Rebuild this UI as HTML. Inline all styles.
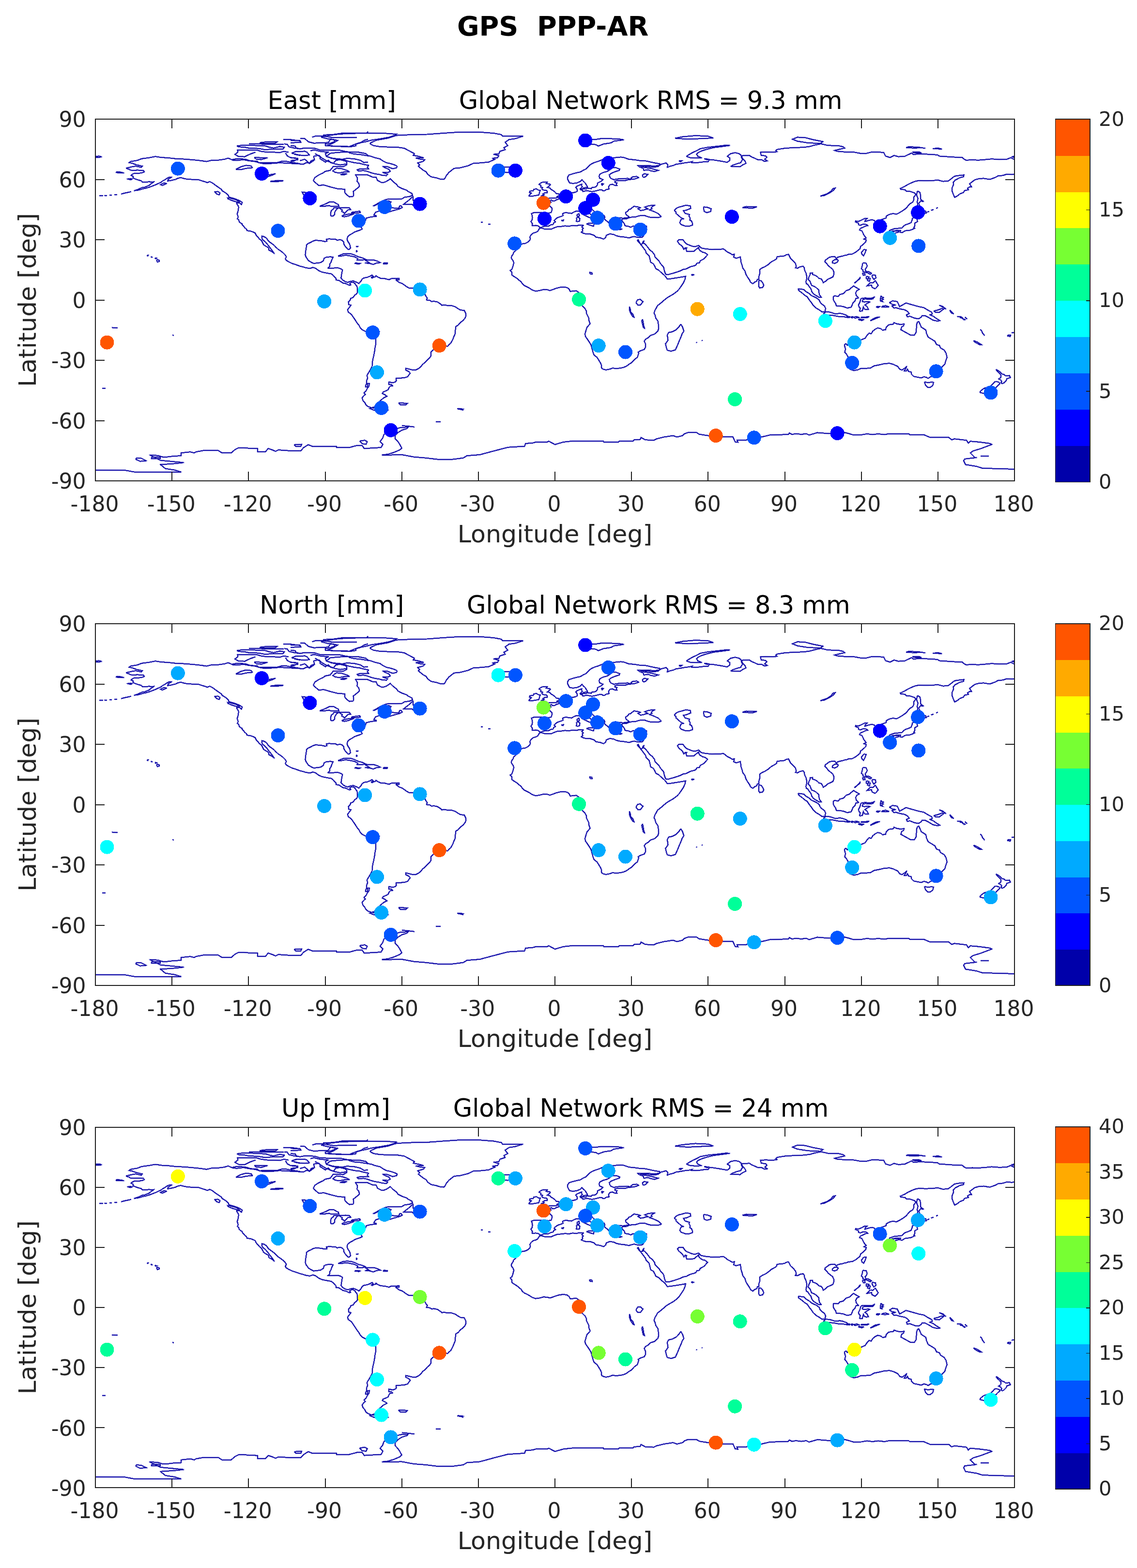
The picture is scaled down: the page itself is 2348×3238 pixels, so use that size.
<!DOCTYPE html><html><head><meta charset="utf-8"><title>GPS PPP-AR</title>
<style>html,body{margin:0;padding:0;background:#fff;}svg{display:block;}text{font-family:'DejaVu Sans', 'Liberation Sans', sans-serif;}</style></head><body>
<svg width="2348" height="3238" viewBox="0 0 2348 3238">
<rect x="0" y="0" width="2348" height="3238" fill="#fff"/>
<text x="1141.6" y="73" font-size="55.6" font-weight="bold" fill="#000" text-anchor="middle" xml:space="preserve">GPS  PPP-AR</text>
<clipPath id="clip0"><rect x="197.0" y="246.0" width="1898.0" height="747.0"/></clipPath>
<g clip-path="url(#clip0)" fill="none"><path d="M260.3 347.3 L270.8 344.8 L279.8 343.1 L291.9 345.6 L294.0 343.1 L282.4 340.6 L273.4 337.3 L266.6 335.8 L269.8 333.6 L284.0 331.1 L292.4 327.8 L307.7 325.7 L320.9 323.2 L334.1 325.3 L344.6 325.7 L363.1 327.8 L381.5 328.6 L402.6 330.5 L415.8 331.9 L426.3 333.6 L436.9 331.1 L450.1 330.7 L463.2 329.0 L471.2 326.5 L481.7 331.1 L489.6 331.5 L502.8 329.8 L513.3 331.9 L526.5 333.6 L539.7 337.3 L547.6 338.1 L566.1 337.3 L576.6 336.1 L584.5 336.5 L597.7 337.3 L613.5 338.1 L626.7 339.0 L632.0 336.1 L639.9 336.5 L642.5 331.9 L649.4 329.8 L647.8 322.8 L658.3 320.7 L663.6 325.7 L674.1 331.9 L682.0 334.8 L688.4 337.3 L693.6 331.1 L702.1 329.8 L712.6 332.3 L716.3 335.2 L716.3 340.2 L708.4 344.4 L695.2 343.5 L688.4 343.5 L682.0 351.8 L671.5 353.9 L667.8 356.8 L658.3 361.4 L650.4 366.4 L647.2 372.6 L649.4 375.5 L655.7 380.9 L658.3 382.9 L668.9 382.1 L682.0 385.9 L697.9 390.0 L712.1 390.8 L712.1 397.5 L716.3 402.5 L721.6 406.6 L729.5 405.4 L730.5 401.6 L729.5 395.4 L737.4 389.2 L742.1 385.0 L741.1 378.8 L737.4 374.6 L737.9 367.2 L734.2 361.0 L747.9 361.0 L758.5 361.0 L769.0 365.5 L776.9 366.4 L779.6 372.6 L787.5 376.7 L792.8 376.7 L798.0 374.6 L803.3 371.3 L805.9 369.3 L811.2 374.6 L819.1 380.9 L821.8 385.0 L829.7 389.2 L840.2 392.9 L842.8 395.4 L850.8 399.6 L851.8 403.7 L844.4 406.2 L836.0 407.0 L829.7 410.8 L819.1 411.2 L808.6 411.2 L798.0 411.6 L790.1 414.9 L783.3 418.2 L774.3 423.6 L770.6 425.3 L774.3 424.4 L782.2 420.3 L792.8 416.1 L803.3 415.3 L807.5 417.0 L805.4 419.5 L798.0 420.3 L803.3 422.0 L804.4 424.4 L805.9 427.4 L811.2 429.4 L819.1 429.8 L823.3 430.3 L825.4 425.3 L828.6 425.3 L830.7 428.6 L824.4 431.5 L813.9 434.4 L805.9 436.9 L799.1 438.6 L797.5 435.7 L804.4 431.9 L807.5 431.1 L800.7 430.3 L793.8 432.3 L790.1 434.8 L783.3 435.7 L775.9 438.1 L773.3 441.9 L772.2 444.4 L776.9 445.6 L776.9 446.9 L771.7 447.3 L763.8 448.5 L756.9 450.2 L755.9 451.4 L755.3 454.3 L751.6 458.1 L749.0 456.0 L750.1 459.3 L747.9 462.6 L745.3 465.1 L743.7 461.8 L742.7 457.6 L744.3 465.9 L745.8 468.9 L747.9 473.0 L742.7 475.5 L737.4 477.2 L732.1 479.2 L728.4 481.7 L721.6 485.5 L717.9 488.8 L716.8 494.2 L717.9 497.9 L721.1 502.5 L723.2 507.4 L723.7 512.4 L721.6 514.9 L718.4 514.9 L714.7 510.8 L712.6 508.3 L710.0 503.7 L709.5 499.1 L705.8 495.8 L701.6 495.0 L696.3 496.2 L692.6 493.8 L684.7 493.8 L679.4 493.3 L674.1 494.2 L675.2 498.3 L670.4 498.7 L663.6 497.1 L658.3 496.7 L651.5 496.2 L646.2 497.9 L642.5 500.0 L637.2 502.5 L633.0 505.4 L632.5 511.6 L631.4 517.8 L630.4 526.1 L632.0 531.1 L637.2 538.2 L642.5 541.5 L647.8 544.0 L655.7 543.1 L662.0 542.3 L667.8 538.6 L669.4 533.2 L674.1 531.1 L682.0 530.3 L687.8 531.1 L685.2 536.5 L683.6 541.5 L681.0 545.6 L680.5 551.0 L677.3 553.5 L682.0 553.9 L690.0 553.5 L697.9 553.1 L703.1 554.8 L707.4 557.2 L705.8 563.5 L705.2 569.7 L704.2 573.9 L707.4 578.0 L712.6 581.3 L717.9 583.0 L724.2 580.9 L729.5 580.1 L735.8 582.6 L738.5 583.8 L741.1 585.5 L745.3 580.9 L747.9 576.3 L751.6 573.9 L758.5 572.6 L763.8 570.5 L768.5 568.0 L770.6 570.5 L766.9 573.0 L768.5 574.3 L771.7 572.2 L775.9 571.4 L776.4 569.3 L779.6 571.8 L785.9 574.7 L795.4 575.5 L803.3 577.6 L808.6 575.1 L816.5 575.1 L820.2 575.5 L817.5 578.0 L824.4 583.4 L829.7 585.1 L834.9 588.4 L838.6 591.3 L844.4 594.6 L853.4 595.0 L861.3 595.4 L866.6 596.7 L871.8 600.0 L876.1 602.9 L877.1 607.0 L879.8 612.0 L882.4 615.4 L880.8 619.5 L887.7 620.3 L891.4 622.8 L895.6 622.0 L903.5 623.6 L910.9 628.6 L912.4 630.7 L916.7 629.5 L924.6 631.1 L932.5 631.1 L940.4 633.6 L945.7 637.3 L950.9 640.2 L958.8 641.1 L961.5 646.5 L962.5 651.9 L960.4 656.9 L956.2 661.8 L950.9 666.0 L946.2 671.4 L941.4 674.3 L940.4 681.8 L939.9 689.2 L937.2 695.4 L935.1 700.8 L930.9 708.7 L927.2 712.0 L924.6 715.0 L916.7 715.0 L910.9 716.2 L906.1 718.3 L900.8 719.5 L893.5 723.2 L889.8 727.4 L889.8 734.9 L887.7 738.6 L882.4 743.2 L878.2 748.1 L872.9 752.3 L868.7 757.7 L863.9 761.4 L858.7 763.9 L851.8 763.9 L845.5 762.3 L838.1 760.6 L837.6 763.9 L843.9 767.2 L847.1 770.6 L844.4 774.3 L841.8 778.0 L834.9 780.1 L824.4 780.9 L818.1 781.4 L818.6 785.5 L817.0 788.4 L811.2 790.5 L803.3 788.8 L802.8 793.8 L808.6 794.2 L810.7 796.7 L805.9 797.5 L803.3 800.4 L801.7 804.6 L799.1 806.2 L791.2 809.6 L789.6 812.5 L795.4 815.4 L799.1 818.3 L791.7 822.0 L788.5 824.9 L784.9 827.8 L781.2 831.1 L783.3 833.6 L785.4 836.5 L779.6 836.5 L774.3 838.6 L771.7 842.8 L766.4 841.9 L760.1 839.5 L755.9 836.5 L753.2 831.1 L749.5 827.0 L747.9 821.6 L750.6 817.9 L754.3 814.5 L751.6 811.2 L755.9 807.5 L758.5 802.1 L762.2 797.1 L762.7 791.7 L756.9 792.1 L757.4 785.5 L759.0 781.4 L758.0 774.7 L762.2 768.1 L766.4 760.6 L768.5 756.5 L769.0 748.1 L770.1 741.9 L771.7 734.9 L773.3 727.4 L774.3 719.1 L775.9 710.8 L775.9 702.5 L775.4 695.9 L770.1 692.5 L763.8 689.2 L755.9 685.1 L747.9 680.9 L743.7 676.4 L741.1 671.4 L738.5 668.5 L733.7 661.0 L729.5 654.8 L725.8 649.4 L719.0 644.4 L717.9 639.4 L722.1 634.0 L724.7 630.3 L720.0 629.0 L719.5 623.6 L723.2 619.5 L724.2 616.2 L729.5 614.1 L732.1 610.0 L736.9 606.2 L738.5 602.9 L737.9 596.7 L737.4 591.3 L734.8 588.4 L732.7 585.1 L729.5 583.0 L725.8 583.0 L722.1 585.5 L724.2 588.4 L721.6 589.2 L717.9 587.5 L713.7 585.5 L708.4 584.6 L704.7 582.1 L699.4 578.8 L694.2 578.4 L693.6 574.7 L688.4 568.9 L684.2 565.5 L679.4 564.7 L672.6 563.5 L664.6 561.8 L658.3 558.9 L651.5 553.9 L646.2 552.3 L639.9 554.3 L632.0 553.1 L625.1 551.0 L618.8 549.4 L610.9 546.5 L603.0 544.0 L596.1 540.6 L590.8 537.3 L589.3 534.4 L591.4 530.3 L588.7 526.1 L584.5 522.0 L579.2 517.8 L574.0 514.5 L569.7 510.4 L566.1 506.6 L562.4 503.7 L557.1 500.0 L553.9 497.1 L550.2 491.7 L545.5 488.8 L540.7 487.5 L540.7 490.9 L542.3 495.0 L547.6 499.1 L551.3 503.3 L554.5 507.4 L557.6 511.6 L560.8 515.8 L563.4 519.1 L566.6 524.0 L564.5 522.0 L560.8 519.1 L555.5 516.6 L554.5 511.6 L548.7 508.3 L543.9 505.0 L543.4 503.3 L540.2 497.1 L535.5 493.3 L532.3 489.2 L529.7 486.7 L528.1 483.8 L527.0 481.3 L522.8 479.2 L520.7 478.4 L517.0 477.2 L510.2 476.3 L509.1 473.4 L505.4 470.1 L503.3 467.6 L500.2 463.9 L500.2 462.2 L497.5 461.0 L493.8 457.6 L493.3 454.3 L490.1 451.8 L491.7 448.5 L491.2 445.2 L489.6 441.9 L491.2 437.7 L492.2 432.8 L492.8 427.8 L491.7 424.9 L489.1 421.1 L488.6 418.6 L494.9 419.5 L498.6 422.4 L500.2 418.2 L497.5 416.1 L493.3 413.7 L488.0 411.6 L483.3 409.9 L477.5 408.3 L472.2 406.6 L471.7 403.3 L468.5 400.4 L464.3 397.1 L459.0 394.2 L457.4 391.2 L452.7 387.9 L448.5 385.0 L443.7 381.7 L439.0 378.0 L433.2 375.1 L427.9 377.1 L423.7 375.5 L416.9 373.4 L410.5 371.3 L403.7 370.9 L394.7 370.5 L387.3 370.1 L378.9 368.4 L373.1 366.8 L366.8 368.4 L362.5 370.5 L357.3 371.7 L352.0 373.0 L346.2 373.8 L347.3 370.5 L350.9 368.0 L355.2 365.5 L348.8 366.4 L344.6 368.4 L340.4 371.3 L335.7 373.8 L333.0 376.3 L327.2 378.8 L322.0 381.3 L315.6 383.8 L309.3 386.3 L302.4 388.3 L294.5 390.0 L289.3 391.7 L284.0 392.9 L277.1 393.7 L285.0 391.2 L293.0 387.5 L299.8 386.3 L307.7 382.9 L311.9 379.6 L315.6 377.1 L317.2 375.5 L311.4 375.9 L307.7 375.1 L302.4 376.3 L294.5 376.3 L291.9 373.4 L284.0 371.3 L278.7 369.3 L274.5 367.2 L275.0 364.3 L270.8 362.2 L273.4 359.7 L278.2 357.6 L285.6 358.1 L294.5 356.4 L298.2 354.7 L296.1 352.2 L291.9 351.8 L283.5 351.4 L276.1 351.8 L269.2 351.4 L266.1 349.3 L262.9 348.5 L260.3 347.3 M2095.0 329.4 L2087.1 325.7 L2078.7 329.0 L2063.4 329.4 L2048.1 328.2 L2036.5 329.4 L2021.2 330.7 L2008.0 330.2 L1994.8 330.7 L1989.6 327.8 L1987.4 325.3 L1968.5 324.4 L1951.6 323.2 L1939.5 322.4 L1936.3 319.9 L1923.7 319.0 L1917.3 318.6 L1899.9 317.8 L1886.2 319.0 L1882.5 316.1 L1868.3 322.8 L1855.6 323.6 L1846.2 321.1 L1838.2 325.3 L1828.8 322.4 L1826.6 318.2 L1825.1 314.9 L1812.9 314.1 L1799.8 314.1 L1788.2 317.0 L1776.0 316.6 L1762.8 314.1 L1747.0 314.1 L1739.1 313.2 L1728.6 312.4 L1723.3 310.7 L1733.9 308.2 L1744.4 305.8 L1741.8 303.3 L1731.2 300.8 L1710.1 300.4 L1695.4 297.0 L1681.1 299.9 L1673.2 302.4 L1660.0 304.1 L1652.1 304.5 L1639.0 304.9 L1620.5 306.2 L1604.7 308.7 L1602.0 311.2 L1604.7 313.2 L1596.8 314.5 L1581.0 314.1 L1570.4 314.5 L1572.0 320.7 L1581.0 321.9 L1583.6 324.9 L1579.4 329.0 L1584.6 332.3 L1578.3 333.1 L1573.0 329.8 L1565.1 329.8 L1558.8 326.9 L1552.0 324.0 L1547.7 321.1 L1533.5 321.5 L1530.9 324.0 L1533.5 329.8 L1530.9 333.1 L1529.8 336.1 L1523.0 337.7 L1512.4 341.4 L1509.8 343.5 L1528.2 344.4 L1533.5 340.6 L1540.4 337.3 L1538.8 333.1 L1533.5 326.9 L1529.8 319.9 L1525.6 317.0 L1517.7 315.3 L1508.7 317.4 L1501.9 322.8 L1507.1 326.1 L1507.1 331.1 L1501.9 335.2 L1488.7 332.7 L1472.9 330.2 L1465.0 329.8 L1462.3 334.0 L1454.4 334.0 L1446.5 335.2 L1436.0 336.1 L1428.1 335.6 L1429.6 333.6 L1422.8 335.2 L1414.9 336.1 L1404.3 338.1 L1396.4 339.0 L1391.2 341.4 L1383.2 343.5 L1378.0 345.6 L1379.0 340.2 L1375.3 336.5 L1364.8 339.4 L1359.5 343.5 L1351.6 345.2 L1341.1 344.4 L1330.5 343.5 L1322.6 343.1 L1330.5 345.6 L1343.7 347.7 L1354.3 350.6 L1359.5 351.8 L1351.6 354.3 L1343.7 352.7 L1338.4 350.6 L1329.5 351.8 L1328.4 347.7 L1320.0 344.4 L1317.3 341.9 L1325.3 342.3 L1338.4 341.9 L1351.6 343.1 L1362.2 341.4 L1362.2 338.1 L1354.3 336.9 L1346.3 335.2 L1333.2 332.3 L1320.0 331.5 L1309.4 329.8 L1298.9 329.0 L1288.3 325.3 L1282.0 324.4 L1272.5 325.3 L1262.0 326.5 L1251.4 328.6 L1243.5 329.8 L1235.6 333.1 L1227.7 335.6 L1221.4 338.5 L1217.2 341.4 L1213.5 345.6 L1210.3 348.9 L1204.0 351.8 L1198.7 355.1 L1190.8 356.8 L1182.9 358.9 L1175.0 361.4 L1172.4 365.5 L1172.4 370.5 L1174.5 374.6 L1176.6 378.0 L1182.9 378.8 L1190.8 378.0 L1198.7 374.6 L1201.9 371.3 L1205.0 374.6 L1208.2 377.6 L1210.8 381.7 L1213.0 385.4 L1214.0 388.8 L1220.9 389.6 L1222.4 387.1 L1230.4 386.3 L1233.5 382.1 L1234.0 378.0 L1240.9 374.6 L1245.1 370.9 L1238.3 368.0 L1237.2 363.9 L1238.8 359.7 L1245.1 356.4 L1254.1 353.9 L1259.4 350.6 L1264.1 346.4 L1272.5 346.4 L1279.9 349.3 L1278.9 351.8 L1269.9 354.7 L1262.0 358.1 L1258.3 361.0 L1259.4 365.5 L1261.5 368.4 L1267.3 370.9 L1277.8 369.3 L1287.3 368.8 L1296.3 368.4 L1303.1 370.5 L1296.3 371.3 L1291.0 373.0 L1280.4 372.6 L1269.9 373.8 L1269.9 376.7 L1274.1 378.0 L1272.5 380.9 L1274.1 382.9 L1269.9 382.9 L1264.6 380.5 L1259.4 381.7 L1256.7 385.9 L1257.2 388.3 L1257.8 390.4 L1251.4 391.7 L1248.8 393.7 L1244.6 393.7 L1243.5 392.5 L1238.3 392.1 L1230.4 394.2 L1222.4 395.8 L1218.8 395.0 L1211.9 393.7 L1204.0 395.4 L1202.9 393.3 L1198.7 391.7 L1199.8 389.2 L1202.4 385.4 L1200.3 381.7 L1201.9 380.0 L1196.1 382.5 L1191.3 384.6 L1188.7 387.1 L1191.3 389.6 L1192.4 394.6 L1188.2 397.1 L1182.9 397.9 L1177.6 397.9 L1172.4 398.7 L1170.8 401.6 L1167.1 404.1 L1163.4 406.2 L1159.2 407.4 L1154.4 408.3 L1153.9 411.2 L1148.6 412.8 L1146.0 414.5 L1140.7 414.9 L1139.1 413.2 L1136.0 413.7 L1137.6 417.8 L1131.2 418.2 L1127.5 417.0 L1121.2 418.2 L1123.3 420.3 L1130.2 422.4 L1134.4 424.0 L1136.5 426.5 L1139.7 429.4 L1139.7 434.4 L1138.1 439.0 L1132.8 439.8 L1126.0 439.0 L1117.0 438.6 L1109.1 438.6 L1102.8 439.0 L1097.5 441.1 L1099.1 445.2 L1099.6 449.4 L1099.1 453.5 L1096.4 457.6 L1098.0 459.7 L1099.6 462.6 L1099.1 465.9 L1106.5 465.5 L1112.3 466.8 L1114.4 469.3 L1117.5 469.7 L1122.3 467.6 L1132.8 466.8 L1137.6 464.3 L1142.3 463.5 L1143.4 460.1 L1147.1 458.5 L1144.4 455.6 L1146.0 453.5 L1150.2 450.2 L1153.9 448.5 L1159.2 446.9 L1162.9 445.2 L1161.8 441.5 L1164.5 439.8 L1169.7 439.0 L1175.0 440.2 L1180.3 440.6 L1185.5 437.7 L1190.8 435.7 L1196.1 436.5 L1199.8 437.7 L1201.4 441.5 L1205.0 443.5 L1210.3 446.0 L1214.5 448.1 L1219.8 450.2 L1225.1 452.7 L1228.8 453.9 L1230.4 457.2 L1228.8 460.6 L1230.9 461.8 L1233.5 460.1 L1236.7 457.6 L1235.6 455.6 L1233.0 454.3 L1235.6 451.4 L1240.9 452.7 L1243.5 453.1 L1240.4 450.6 L1234.6 448.5 L1229.8 446.9 L1230.4 445.6 L1223.5 444.8 L1218.8 441.9 L1217.2 439.0 L1211.4 436.1 L1210.8 431.9 L1214.5 429.8 L1217.7 430.3 L1219.3 433.2 L1222.4 431.9 L1226.1 435.7 L1229.8 438.6 L1235.6 440.6 L1243.5 443.1 L1248.3 445.6 L1248.8 449.4 L1247.8 451.8 L1251.4 455.2 L1255.1 458.1 L1257.2 460.6 L1260.4 464.7 L1264.1 468.0 L1267.8 468.0 L1266.7 463.9 L1268.8 461.8 L1272.5 461.0 L1266.2 458.5 L1268.8 456.0 L1265.2 452.3 L1271.0 453.1 L1274.6 449.8 L1282.6 449.8 L1286.2 451.0 L1291.0 449.8 L1298.4 449.4 L1299.4 448.5 L1295.7 445.2 L1292.6 442.7 L1292.0 438.6 L1296.8 435.7 L1298.4 432.8 L1302.6 431.5 L1306.3 428.2 L1309.4 426.1 L1317.3 427.4 L1322.6 429.0 L1317.3 431.1 L1323.1 434.8 L1329.5 433.6 L1333.2 432.3 L1338.4 431.5 L1331.6 427.8 L1338.4 425.3 L1346.3 424.0 L1352.7 423.6 L1347.9 426.1 L1344.8 428.6 L1346.3 431.1 L1341.1 433.6 L1347.9 435.7 L1354.3 438.6 L1359.5 441.1 L1365.3 446.9 L1364.8 447.7 L1358.5 449.4 L1351.6 448.9 L1343.7 448.9 L1337.4 447.3 L1331.6 445.2 L1325.3 445.2 L1320.0 445.6 L1312.1 448.1 L1304.2 448.5 L1299.9 449.4 L1293.6 451.8 L1286.8 451.8 L1284.1 453.5 L1285.2 457.6 L1287.3 459.3 L1289.4 462.2 L1290.5 465.9 L1293.6 466.8 L1298.4 467.6 L1302.6 469.3 L1307.3 466.8 L1312.1 467.6 L1317.3 469.7 L1323.1 469.3 L1328.9 466.8 L1335.3 467.2 L1335.3 470.9 L1335.3 474.7 L1333.7 478.4 L1331.1 482.6 L1328.4 487.5 L1326.3 489.6 L1320.0 490.4 L1316.3 490.0 L1309.4 488.4 L1304.2 489.6 L1298.9 491.3 L1289.9 489.6 L1278.9 488.4 L1272.5 486.7 L1267.3 484.2 L1259.4 483.0 L1252.0 485.9 L1250.9 490.0 L1246.7 493.8 L1239.8 491.3 L1230.4 489.6 L1226.7 485.9 L1219.3 483.4 L1209.3 483.0 L1205.0 481.7 L1200.3 479.6 L1203.5 477.2 L1202.4 473.8 L1204.5 471.3 L1201.4 468.4 L1204.5 465.5 L1199.8 465.1 L1196.1 464.7 L1190.8 466.4 L1182.9 465.5 L1175.0 467.2 L1167.1 466.4 L1159.2 467.6 L1151.3 468.0 L1143.4 470.9 L1138.1 473.4 L1132.8 473.4 L1126.0 473.4 L1119.6 471.3 L1114.9 470.9 L1112.8 473.8 L1110.1 478.0 L1105.9 480.1 L1101.2 481.3 L1097.0 484.6 L1094.3 489.2 L1094.9 492.9 L1094.3 496.2 L1090.1 500.0 L1085.4 502.5 L1078.0 503.7 L1074.8 506.2 L1070.1 510.4 L1067.4 514.9 L1063.8 518.7 L1060.6 521.1 L1060.1 524.0 L1056.9 528.6 L1055.8 532.4 L1057.4 535.7 L1059.5 538.2 L1061.1 542.7 L1059.0 551.0 L1056.9 556.4 L1053.7 558.5 L1056.9 562.2 L1057.4 568.0 L1060.6 570.5 L1064.8 573.0 L1068.5 575.5 L1072.2 578.8 L1076.4 582.1 L1078.5 585.9 L1082.7 589.6 L1088.0 592.1 L1093.3 595.0 L1099.1 598.8 L1105.9 601.2 L1114.4 600.0 L1122.3 597.9 L1130.2 598.3 L1135.5 600.0 L1140.7 598.3 L1148.6 595.4 L1154.4 593.8 L1160.2 592.9 L1166.0 592.9 L1170.8 593.8 L1175.0 596.7 L1177.6 601.7 L1182.9 601.2 L1189.8 600.4 L1192.4 602.1 L1196.6 605.0 L1197.7 609.1 L1196.1 614.5 L1195.6 618.3 L1195.0 622.4 L1198.2 627.8 L1204.0 633.2 L1208.2 637.3 L1210.8 642.3 L1211.4 647.7 L1215.6 656.0 L1216.6 663.1 L1218.8 668.5 L1212.4 675.5 L1210.3 681.8 L1208.2 689.2 L1208.7 694.2 L1212.4 699.6 L1216.6 705.8 L1220.9 712.9 L1222.4 719.1 L1224.6 727.4 L1226.7 732.8 L1233.0 738.2 L1236.7 744.0 L1240.4 750.2 L1242.5 755.2 L1242.0 758.5 L1243.5 761.4 L1247.8 763.1 L1251.4 763.9 L1259.4 762.3 L1264.6 760.2 L1272.5 761.0 L1281.0 760.2 L1287.3 758.9 L1293.1 756.5 L1298.9 752.3 L1304.2 749.0 L1309.4 743.2 L1316.3 737.8 L1318.9 729.5 L1317.9 727.0 L1322.6 724.5 L1330.5 721.6 L1333.2 716.6 L1333.2 710.8 L1330.5 704.6 L1333.2 700.4 L1338.4 697.5 L1343.7 692.5 L1351.6 690.0 L1358.5 683.8 L1360.1 678.4 L1359.5 669.3 L1358.5 663.1 L1354.3 656.9 L1352.7 650.6 L1350.6 646.5 L1352.7 640.2 L1355.3 636.1 L1357.9 631.1 L1362.2 627.8 L1366.4 624.5 L1370.6 620.7 L1376.4 615.8 L1383.2 611.6 L1391.2 607.0 L1398.0 601.7 L1402.8 596.7 L1407.0 590.5 L1411.2 584.2 L1414.4 577.2 L1415.9 570.5 L1409.6 571.8 L1401.7 573.0 L1393.8 574.3 L1385.9 575.5 L1378.0 576.3 L1374.3 570.9 L1371.1 567.6 L1368.5 565.5 L1364.8 562.2 L1360.1 557.7 L1354.3 554.8 L1352.7 551.0 L1349.5 544.8 L1343.7 541.5 L1342.1 534.4 L1340.5 528.2 L1334.2 522.0 L1333.2 517.8 L1328.4 511.6 L1325.3 507.4 L1322.6 504.1 L1317.9 495.4 L1316.3 496.7 L1320.0 501.2 L1323.1 504.1 L1326.8 503.3 L1327.9 499.1 L1330.0 497.1 L1328.4 502.1 L1331.6 503.3 L1336.9 509.5 L1342.1 516.6 L1346.9 519.9 L1351.6 526.1 L1352.7 530.7 L1356.9 535.3 L1361.1 539.4 L1364.3 544.8 L1369.0 549.8 L1371.1 553.5 L1371.7 558.1 L1373.8 564.3 L1375.3 566.8 L1380.6 566.8 L1385.4 565.5 L1391.2 563.9 L1399.1 561.4 L1404.9 559.3 L1410.7 556.4 L1417.5 555.2 L1421.2 553.1 L1426.5 550.6 L1433.3 549.0 L1437.0 547.3 L1439.1 543.6 L1444.4 542.7 L1446.0 538.6 L1450.2 536.5 L1453.9 534.4 L1458.6 529.0 L1461.3 526.1 L1456.0 522.0 L1450.7 520.7 L1445.5 517.4 L1442.8 513.7 L1443.4 510.4 L1441.8 511.6 L1438.6 514.1 L1433.3 518.7 L1425.4 519.5 L1418.0 519.1 L1416.5 513.7 L1418.0 512.0 L1414.9 511.6 L1412.2 514.9 L1409.6 509.5 L1407.0 507.0 L1402.2 503.3 L1399.1 498.3 L1401.7 495.4 L1407.0 495.0 L1410.7 495.4 L1413.8 500.0 L1417.5 503.7 L1422.8 505.8 L1428.6 508.3 L1434.9 509.5 L1442.8 507.0 L1447.6 512.0 L1456.0 513.7 L1470.2 515.3 L1477.1 514.9 L1486.1 514.9 L1494.0 514.1 L1497.7 516.6 L1501.9 520.3 L1507.1 522.8 L1512.4 526.1 L1516.6 524.9 L1515.1 531.1 L1520.3 533.2 L1528.8 530.7 L1529.8 536.5 L1530.3 541.1 L1532.5 547.7 L1534.0 553.9 L1538.3 559.3 L1540.4 566.4 L1543.5 571.8 L1547.7 578.0 L1549.9 582.6 L1554.6 585.9 L1558.3 582.6 L1562.5 580.9 L1564.1 576.8 L1567.3 576.8 L1567.3 570.5 L1569.4 563.5 L1568.8 556.8 L1574.1 553.1 L1579.9 550.6 L1585.7 546.9 L1593.1 540.6 L1599.4 537.3 L1603.6 534.4 L1604.7 530.3 L1611.0 529.4 L1616.3 529.0 L1620.5 528.2 L1623.7 526.1 L1628.4 525.3 L1631.0 530.3 L1632.6 533.6 L1636.3 536.9 L1640.0 540.6 L1643.2 544.8 L1644.2 551.0 L1642.6 553.1 L1646.9 553.9 L1652.1 551.0 L1658.5 549.8 L1661.1 553.1 L1661.6 558.1 L1664.3 563.5 L1665.8 569.7 L1665.8 575.9 L1664.3 582.1 L1665.3 585.9 L1668.0 587.1 L1671.6 592.5 L1674.8 596.7 L1676.4 602.1 L1680.1 607.0 L1685.3 610.4 L1691.1 613.7 L1695.9 613.7 L1692.2 608.7 L1691.1 602.9 L1690.6 598.8 L1685.3 593.8 L1681.1 591.3 L1675.9 589.2 L1674.3 585.1 L1672.7 580.9 L1669.0 577.2 L1670.6 571.8 L1672.7 567.6 L1673.2 563.9 L1678.0 563.5 L1678.0 566.8 L1683.8 568.9 L1688.0 571.4 L1691.1 574.7 L1695.9 575.9 L1698.5 579.7 L1700.1 583.8 L1705.9 580.1 L1709.1 576.8 L1714.9 574.3 L1720.1 571.8 L1721.7 567.2 L1722.3 562.2 L1719.6 556.0 L1715.4 552.7 L1710.7 549.0 L1707.0 544.0 L1703.3 540.6 L1704.3 537.3 L1708.0 534.8 L1712.2 531.5 L1717.0 530.3 L1723.8 529.9 L1727.5 534.4 L1729.1 531.5 L1734.4 529.9 L1739.1 529.0 L1744.4 527.4 L1748.1 527.0 L1751.8 525.3 L1760.2 524.5 L1766.5 521.1 L1771.3 517.4 L1776.0 513.7 L1777.1 509.1 L1780.8 506.2 L1785.0 502.5 L1788.2 499.1 L1788.7 495.4 L1783.9 493.8 L1788.7 491.3 L1785.5 487.5 L1783.4 484.2 L1781.8 480.5 L1779.7 476.7 L1775.0 475.1 L1776.6 471.8 L1782.4 469.3 L1787.1 466.8 L1791.8 465.9 L1789.7 463.9 L1782.9 462.6 L1777.1 465.1 L1772.9 464.3 L1772.9 461.0 L1766.5 458.1 L1767.1 456.4 L1772.9 457.2 L1778.7 454.7 L1785.0 451.4 L1790.3 451.4 L1787.1 454.3 L1786.0 457.6 L1789.7 456.4 L1795.5 454.7 L1801.3 453.9 L1805.6 455.2 L1807.1 458.5 L1805.0 461.8 L1810.3 463.0 L1813.5 465.9 L1811.9 470.5 L1812.9 475.5 L1818.2 475.9 L1823.5 474.7 L1828.2 472.2 L1828.8 468.0 L1828.2 463.9 L1824.5 460.1 L1820.8 456.8 L1818.2 454.3 L1824.0 452.3 L1829.8 450.2 L1830.3 446.4 L1835.1 443.5 L1839.3 441.9 L1844.6 441.1 L1851.4 442.3 L1857.8 439.0 L1864.6 434.8 L1870.9 430.3 L1875.1 425.3 L1878.8 421.1 L1885.2 417.0 L1887.3 412.0 L1887.3 406.6 L1891.5 401.6 L1888.3 398.3 L1879.9 395.4 L1871.5 394.6 L1869.3 391.7 L1860.4 391.2 L1859.3 389.2 L1868.3 385.0 L1875.1 380.9 L1884.1 376.7 L1892.0 373.8 L1898.9 373.0 L1907.8 373.4 L1915.7 373.4 L1926.3 373.0 L1936.3 371.7 L1947.4 374.6 L1957.9 373.8 L1961.1 371.7 L1971.1 363.9 L1981.6 362.2 L1990.6 361.4 L1989.6 365.1 L1981.6 367.2 L1972.2 372.2 L1968.5 376.7 L1969.0 381.3 L1966.4 387.5 L1966.4 395.4 L1970.0 404.5 L1971.6 407.4 L1978.0 404.1 L1982.2 400.4 L1989.6 397.5 L1991.7 393.7 L2000.1 391.7 L1998.0 388.8 L2002.2 385.9 L2006.4 385.9 L2002.2 379.6 L2008.0 375.1 L2013.3 371.3 L2022.2 368.8 L2031.7 368.4 L2043.9 370.5 L2055.5 366.4 L2060.7 363.4 L2071.3 362.2 L2079.2 359.7 L2089.7 360.5 L2095.0 359.7 M763.8 295.8 L776.9 289.6 L800.7 285.4 L819.1 279.6 L850.8 278.0 L882.4 277.5 L914.0 275.1 L945.7 273.0 L987.8 272.6 L1019.5 275.1 L1035.3 278.0 L1037.9 281.3 L1061.6 281.3 L1080.1 281.3 L1064.3 286.3 L1051.1 288.3 L1043.2 293.7 L1048.5 300.8 L1040.6 304.9 L1043.2 309.1 L1032.6 312.4 L1030.0 317.8 L1019.5 318.6 L1030.0 321.5 L1027.4 325.7 L1016.8 326.9 L1022.1 329.0 L1008.9 334.8 L990.5 336.5 L977.3 337.3 L966.7 342.3 L950.9 346.4 L937.7 347.7 L932.5 351.8 L927.2 356.0 L921.9 362.2 L919.3 367.2 L916.7 370.5 L908.8 369.7 L900.8 367.2 L890.3 365.1 L883.4 360.1 L879.8 354.7 L874.5 351.8 L869.2 347.7 L863.9 343.5 L866.6 340.6 L862.4 336.5 L874.5 333.1 L877.1 329.8 L869.2 329.0 L858.7 326.5 L874.5 325.7 L863.9 322.8 L853.4 320.7 L856.0 317.4 L848.1 313.2 L842.8 310.3 L834.9 306.2 L821.8 304.1 L803.3 303.7 L784.9 302.9 L771.7 300.8 L766.4 298.3 L763.8 295.8 M820.2 343.1 L813.9 340.2 L805.9 337.7 L798.0 336.1 L790.1 331.9 L784.9 328.2 L774.3 325.7 L766.4 322.8 L755.9 321.1 L742.7 319.0 L732.1 318.2 L721.6 315.7 L719.0 313.6 L703.1 314.5 L692.6 315.3 L682.0 316.6 L674.1 322.8 L684.7 326.9 L697.9 329.4 L711.0 330.2 L719.0 333.1 L732.1 336.1 L742.7 337.3 L750.6 339.4 L761.1 341.4 L758.5 345.6 L761.1 348.5 L745.3 348.5 L737.4 350.6 L740.0 353.1 L750.6 352.2 L758.5 353.9 L766.4 356.8 L774.3 358.9 L782.2 360.1 L790.1 362.2 L798.0 362.6 L800.7 359.7 L790.1 356.0 L800.7 356.4 L805.9 353.9 L803.3 349.8 L795.4 346.4 L790.1 343.5 L800.7 344.4 L811.2 348.5 L819.1 346.4 L820.2 343.1 M671.5 300.8 L697.9 302.4 L724.2 302.9 L734.8 301.2 L734.8 297.9 L745.3 294.6 L755.9 292.5 L766.4 289.6 L787.5 286.3 L803.3 283.4 L813.9 280.0 L819.1 277.1 L798.0 275.5 L766.4 275.1 L734.8 275.5 L703.1 276.7 L682.0 279.2 L663.6 283.4 L676.8 286.7 L692.6 289.2 L690.0 292.9 L682.0 295.8 L671.5 297.5 L671.5 300.8 M690.0 350.6 L695.2 347.3 L705.8 348.5 L716.3 351.8 L721.6 354.7 L713.7 354.7 L700.5 357.2 L692.6 356.0 L687.3 353.1 L690.0 350.6 M708.4 358.5 L716.3 358.9 L711.0 361.0 L704.2 360.5 L708.4 358.5 M1027.4 347.7 L1019.5 347.7 L1030.0 343.9 L1040.6 345.2 L1051.1 344.8 L1061.6 343.5 L1069.6 344.8 L1068.0 347.7 L1074.3 349.3 L1069.6 352.2 L1059.0 354.3 L1048.5 356.4 L1037.9 355.1 L1026.3 354.3 L1030.0 352.2 L1019.5 350.2 L1027.4 347.7 M853.4 405.4 L848.1 409.9 L843.4 414.1 L838.1 418.2 L833.4 422.0 L840.2 422.0 L850.8 422.0 L854.4 424.9 L861.3 424.9 L863.4 426.1 L868.2 424.9 L867.6 421.1 L863.4 422.0 L865.0 418.2 L861.3 414.9 L853.4 414.1 L852.9 409.9 L853.4 405.4 M495.4 418.6 L487.0 416.6 L479.1 414.1 L471.2 410.8 L470.1 408.7 L476.4 409.5 L485.9 412.0 L492.2 415.3 L495.4 418.6 M450.1 395.4 L454.3 398.3 L452.7 402.5 L447.4 400.4 L443.7 396.2 L450.1 395.4 M344.6 378.8 L335.1 382.9 L331.4 381.3 L338.3 378.0 L344.6 378.8 M698.4 528.6 L708.4 524.5 L716.3 523.6 L724.2 524.0 L732.1 526.5 L740.0 530.3 L747.9 532.4 L754.8 535.3 L749.5 536.9 L737.4 536.9 L739.0 534.0 L732.1 530.3 L721.6 528.2 L713.7 527.0 L705.8 528.6 L698.4 528.6 M753.7 536.9 L762.2 536.9 L771.7 536.9 L779.6 539.4 L785.4 542.3 L778.0 543.1 L770.6 546.0 L763.8 544.0 L753.7 543.1 L762.2 542.3 L753.7 536.9 M733.2 543.1 L743.7 544.0 L741.1 545.2 L733.2 544.0 L733.2 543.1 M791.7 542.7 L800.1 543.1 L799.6 544.8 L791.7 544.8 L791.7 542.7 M819.6 574.7 L824.4 574.7 L824.4 577.6 L819.6 577.6 L819.6 574.7 M734.8 509.1 L740.0 508.7 L737.4 509.5 L734.8 509.1 M735.8 516.6 L737.4 519.1 L736.3 519.9 L735.8 516.6 M784.3 837.8 L785.9 841.5 L790.1 844.4 L798.0 847.3 L802.3 846.9 L795.4 848.6 L787.5 849.4 L779.6 849.0 L771.7 846.9 L763.8 843.6 L771.7 840.7 L776.9 840.7 L779.6 838.2 L784.3 837.8 M822.8 832.4 L832.3 832.4 L841.3 833.2 L837.6 836.5 L827.0 836.1 L822.8 832.4 M945.7 843.6 L956.2 844.8 L953.6 846.1 L945.7 844.4 M755.9 793.0 L758.5 793.0 L758.5 799.2 L754.8 798.8 L755.9 793.0 M663.6 620.3 L666.2 621.6 L664.6 623.6 L663.1 622.0 L663.6 620.3 M324.1 535.7 L328.8 537.7 L328.8 539.8 L325.1 541.1 L323.5 538.2 L324.1 535.7 M311.4 529.9 L314.6 531.1 L312.5 531.1 L311.4 529.9 M319.8 532.4 L323.5 533.2 L321.4 534.0 L319.8 532.4 M303.5 527.4 L306.1 527.4 L305.1 528.6 L303.5 527.4 M240.2 354.7 L249.7 355.6 L256.0 357.2 L248.1 356.8 L240.2 356.4 L240.2 354.7 M266.6 368.8 L272.9 369.7 L269.8 371.3 L264.0 369.7 L266.6 368.8 M197.0 322.8 L204.9 322.4 L210.2 324.0 L202.3 325.3 L197.0 324.9 M2095.0 322.8 L2088.7 324.0 L2095.0 324.9 M215.5 404.1 L218.1 403.7 L220.7 404.1 M204.9 404.5 L208.6 404.1 L212.8 404.5 M226.0 402.9 L231.3 403.3 M249.7 400.8 L257.6 398.7 L265.5 397.1 L270.8 395.8 M236.5 402.5 L241.8 402.0 M1202.9 292.1 L1209.3 288.3 L1230.4 287.9 L1240.9 286.3 L1259.4 286.3 L1277.8 287.1 L1288.3 288.7 L1267.3 291.6 L1262.0 295.0 L1246.2 297.5 L1235.6 301.6 L1230.4 298.7 L1219.8 297.5 L1217.2 295.0 L1206.6 293.7 L1202.9 292.1 M1417.5 322.8 L1425.4 325.7 L1436.0 326.5 L1449.2 326.1 L1441.2 322.8 L1438.6 318.6 L1441.2 315.3 L1449.2 311.6 L1459.7 308.2 L1472.9 304.9 L1488.7 302.9 L1507.1 300.4 L1499.2 299.9 L1478.2 302.4 L1462.3 304.1 L1446.5 307.0 L1438.6 311.2 L1430.7 314.9 L1425.4 317.8 L1417.5 322.8 M1393.8 285.4 L1420.2 287.5 L1446.5 286.3 L1472.9 285.0 L1462.3 281.3 L1436.0 280.0 L1409.6 282.5 L1393.8 285.4 M1646.9 291.6 L1668.0 295.0 L1694.3 296.2 L1699.6 292.5 L1678.5 288.3 L1662.7 284.2 L1646.9 283.4 L1636.3 287.5 L1646.9 291.6 M1870.9 304.9 L1889.4 305.8 L1902.6 304.9 L1910.5 306.2 L1894.7 303.7 L1876.2 303.3 L1870.9 304.9 M1926.3 307.0 L1944.7 307.8 L1936.8 305.8 L1926.3 307.0 M1884.1 314.1 L1897.3 313.6 L1902.6 315.7 L1889.4 315.7 L1884.1 314.1 M1401.7 332.3 L1408.6 331.9 L1405.4 334.0 L1401.7 332.3 M1454.4 327.8 L1465.0 329.0 L1459.7 329.8 L1454.4 327.8 M1119.6 376.3 L1130.2 376.3 L1127.5 379.2 L1135.5 380.0 L1136.5 381.7 L1132.8 385.0 L1130.2 387.1 L1135.5 387.9 L1138.1 391.2 L1143.4 394.2 L1147.1 397.5 L1148.6 399.6 L1155.0 400.8 L1154.4 403.7 L1150.2 405.8 L1153.4 407.0 L1148.6 408.7 L1140.7 409.1 L1132.8 409.5 L1127.5 410.8 L1119.6 412.0 L1115.9 411.6 L1122.3 408.3 L1129.1 407.0 L1123.3 405.4 L1118.6 404.5 L1123.9 402.0 L1121.2 400.4 L1124.9 398.3 L1130.2 398.3 L1130.2 395.4 L1128.1 393.3 L1120.7 392.1 L1119.1 389.6 L1120.7 387.5 L1116.5 386.3 L1117.0 382.9 L1113.3 380.9 L1115.4 378.8 L1119.6 376.3 M1113.3 393.3 L1115.9 393.3 L1114.4 396.2 L1113.8 399.6 L1112.3 402.9 L1106.5 403.7 L1097.5 405.4 L1092.2 404.5 L1094.3 401.6 L1097.5 398.7 L1093.3 397.5 L1094.3 394.6 L1101.2 394.2 L1102.2 391.2 L1107.5 390.0 L1113.3 393.3 M1211.4 462.6 L1216.1 461.0 L1228.2 460.6 L1226.1 464.7 L1225.6 467.2 L1221.4 465.9 L1211.4 462.6 M1190.3 449.8 L1194.5 448.5 L1197.7 451.4 L1196.6 456.8 L1192.9 457.6 L1190.3 457.2 L1190.8 452.7 L1190.3 449.8 M1191.3 443.5 L1195.6 441.1 L1196.6 445.2 L1194.5 447.7 L1191.9 446.4 L1191.3 443.5 M1269.9 471.8 L1275.2 472.6 L1284.7 473.0 L1280.4 474.2 L1275.2 473.8 L1269.9 473.0 L1269.9 471.8 M1316.3 474.2 L1320.0 473.0 L1328.4 471.3 L1325.3 474.2 L1320.0 475.9 L1316.3 474.2 M1204.0 387.9 L1212.4 387.1 L1210.8 390.4 L1205.0 390.4 L1204.0 387.9 M1197.7 389.2 L1202.9 390.0 L1201.4 391.2 L1197.7 390.4 L1197.7 389.2 M1242.0 379.2 L1246.2 379.6 L1243.5 382.5 L1242.0 379.2 M1158.7 455.2 L1163.9 454.3 L1162.9 456.4 L1158.7 455.2 M1405.9 669.3 L1409.6 675.5 L1412.2 683.8 L1408.6 689.2 L1407.0 694.2 L1403.3 702.5 L1399.1 712.9 L1394.8 722.4 L1385.9 725.3 L1378.0 723.2 L1375.9 717.0 L1374.3 710.0 L1379.6 702.5 L1378.0 692.1 L1380.6 686.7 L1388.5 685.1 L1396.4 680.9 L1401.7 675.5 L1405.9 669.3 M1567.3 578.8 L1572.0 580.1 L1575.2 584.2 L1577.3 589.2 L1574.6 593.8 L1568.8 594.6 L1566.7 591.3 L1566.7 585.5 L1567.3 578.8 M1427.5 566.8 L1433.3 567.2 L1429.6 568.5 L1427.5 566.8 M1449.2 702.5 L1450.7 704.2 M1437.6 706.6 L1439.7 707.9 M1509.8 822.0 L1517.7 822.9 L1515.1 825.3 L1509.8 822.0 M1718.6 539.8 L1723.3 536.5 L1729.1 536.1 L1731.2 538.2 L1728.6 541.9 L1723.3 544.0 L1719.1 542.7 L1718.6 539.8 M1783.9 515.3 L1788.7 515.8 L1786.6 522.0 L1783.4 528.2 L1779.7 524.9 L1779.2 521.1 L1783.9 515.3 M1884.1 447.3 L1890.4 446.0 L1893.6 442.7 L1901.5 445.2 L1907.8 441.1 L1913.1 439.8 L1911.5 435.7 L1902.6 436.1 L1894.1 430.7 L1892.5 435.7 L1891.5 440.2 L1885.7 439.8 L1884.1 443.1 L1884.1 447.3 M1891.5 447.7 L1894.1 453.5 L1894.7 457.6 L1889.4 460.6 L1889.4 465.9 L1887.3 470.1 L1888.9 471.3 L1883.1 474.2 L1878.8 475.5 L1872.5 475.9 L1867.8 477.2 L1863.0 480.5 L1858.3 479.2 L1859.9 475.9 L1852.5 475.9 L1844.6 477.2 L1836.7 478.4 L1836.7 475.9 L1847.2 472.2 L1857.8 471.3 L1863.0 470.5 L1867.2 465.9 L1869.9 464.3 L1876.2 462.2 L1881.5 459.7 L1883.6 454.3 L1884.1 451.0 L1888.3 448.5 L1891.5 447.7 M1841.9 479.2 L1847.2 477.2 L1855.6 477.6 L1856.2 479.2 L1849.8 480.9 L1846.2 483.4 L1841.9 479.2 M1830.3 480.5 L1836.1 478.8 L1841.9 481.7 L1839.3 486.7 L1836.7 490.9 L1832.4 490.0 L1832.4 484.6 L1829.3 482.6 L1830.3 480.5 M1894.7 394.2 L1899.9 397.5 L1901.0 403.7 L1901.5 412.0 L1907.3 416.1 L1901.0 415.3 L1897.3 420.3 L1899.9 425.7 L1897.3 428.6 L1894.1 426.5 L1895.2 421.1 L1894.1 417.0 L1895.7 409.9 L1893.1 403.7 L1893.6 398.3 L1894.7 394.2 M1914.7 438.1 L1918.9 436.5 M1922.6 434.4 L1927.9 432.8 M1933.1 430.3 L1936.8 428.6 M1781.8 542.7 L1788.7 543.6 L1790.8 549.0 L1789.2 553.1 L1786.6 556.0 L1788.2 560.6 L1792.9 560.6 L1799.8 564.3 L1797.1 566.4 L1791.8 563.5 L1787.1 562.2 L1781.8 560.2 L1781.8 557.2 L1778.7 554.8 L1780.2 551.0 L1781.8 542.7 M1797.6 583.4 L1802.4 584.2 L1807.7 579.7 L1813.5 589.2 L1810.3 593.4 L1807.1 596.3 L1800.8 593.4 L1799.8 588.8 L1790.3 590.5 L1794.0 586.7 L1797.6 583.4 M1801.3 567.6 L1808.2 568.5 L1808.7 573.9 L1804.5 577.2 L1801.3 571.8 L1801.3 567.6 M1788.7 570.5 L1794.5 571.8 L1791.8 575.9 L1788.7 575.5 L1788.7 570.5 M1794.0 574.3 L1797.1 575.1 L1795.5 581.3 L1791.3 579.2 L1794.0 574.3 M1780.8 563.5 L1785.5 563.9 L1786.6 568.0 L1782.9 568.5 L1780.8 563.5 M1763.9 584.6 L1775.5 575.9 L1776.6 572.6 L1773.4 576.8 L1766.0 583.8 L1763.9 584.6 M1720.7 612.0 L1723.8 611.2 L1731.2 612.0 L1733.9 608.3 L1741.8 606.2 L1747.0 600.4 L1754.4 597.9 L1758.6 593.8 L1762.8 590.5 L1766.5 592.9 L1774.4 597.5 L1769.2 600.4 L1767.1 605.0 L1768.1 610.0 L1772.9 615.4 L1767.6 616.2 L1765.5 621.6 L1761.3 625.7 L1759.7 629.9 L1757.6 634.4 L1749.7 636.1 L1741.8 633.2 L1734.9 632.0 L1727.0 631.5 L1725.9 627.0 L1722.8 622.8 L1720.7 618.3 L1720.7 612.0 M1648.4 596.3 L1660.0 597.9 L1664.3 602.1 L1670.6 605.8 L1675.9 610.4 L1680.1 612.4 L1686.4 615.4 L1691.7 619.5 L1693.3 623.6 L1696.9 627.8 L1702.7 632.0 L1704.9 636.9 L1703.8 643.6 L1697.5 644.0 L1691.7 639.8 L1685.3 636.1 L1679.5 630.7 L1675.3 624.5 L1671.1 619.1 L1666.9 612.9 L1661.6 609.5 L1656.4 605.0 L1649.0 599.6 L1648.4 596.3 M1700.6 647.7 L1704.9 644.0 L1712.8 644.4 L1717.0 645.6 L1723.3 647.7 L1728.6 648.1 L1733.9 646.9 L1740.2 648.1 L1749.1 651.5 L1749.7 655.6 L1741.8 653.9 L1731.2 653.5 L1720.7 651.5 L1712.8 651.0 L1707.0 650.2 L1700.6 647.7 M1750.2 653.1 L1755.5 654.4 L1753.4 656.0 L1750.2 654.4 L1750.2 653.1 M1757.6 653.9 L1761.3 654.4 L1760.2 656.4 L1757.6 655.6 L1757.6 653.9 M1762.3 654.8 L1769.7 653.9 L1773.9 655.6 L1765.5 656.9 L1762.3 654.8 M1778.1 654.8 L1786.6 654.8 L1794.5 653.9 L1790.8 656.0 L1778.7 656.0 L1778.1 654.8 M1773.4 658.9 L1782.9 660.2 L1779.7 661.8 L1773.4 660.2 L1773.4 658.9 M1797.1 662.2 L1802.4 658.9 L1807.7 656.0 L1816.6 654.4 L1807.7 658.1 L1799.8 661.4 L1797.1 662.2 M1775.0 642.7 L1776.6 636.1 L1773.9 633.6 L1772.9 629.9 L1776.0 623.6 L1777.6 617.4 L1780.2 615.8 L1786.6 615.4 L1794.5 615.8 L1801.9 615.4 L1806.1 612.9 L1802.4 617.4 L1795.5 617.8 L1786.6 617.4 L1781.8 618.7 L1780.8 622.8 L1785.0 623.6 L1793.4 622.8 L1796.1 623.6 L1790.8 626.6 L1786.0 629.9 L1790.3 632.8 L1793.4 639.0 L1789.2 639.4 L1785.0 638.2 L1782.9 634.0 L1780.8 642.3 L1775.0 642.7 M1818.7 610.8 L1821.4 613.3 L1824.5 614.5 L1820.3 617.0 L1824.0 618.3 L1820.3 620.7 L1822.4 622.8 L1818.2 621.6 L1818.7 610.8 M1820.8 632.8 L1828.8 631.1 L1835.6 633.6 L1828.8 634.4 L1820.8 634.0 L1820.8 632.8 M1810.3 632.8 L1816.6 633.2 L1813.5 635.3 L1810.3 634.4 L1810.3 632.8 M1836.7 624.9 L1843.5 621.2 L1853.0 622.8 L1857.8 633.2 L1870.9 625.7 L1884.1 629.5 L1897.3 633.2 L1907.8 635.3 L1915.7 640.2 L1924.2 644.8 L1925.2 648.5 L1920.5 650.2 L1927.3 653.1 L1933.1 657.3 L1941.1 662.2 L1935.8 663.1 L1926.3 661.0 L1918.4 656.0 L1910.5 651.9 L1904.1 651.9 L1902.6 654.8 L1897.3 658.1 L1889.4 657.3 L1878.8 653.1 L1873.6 654.4 L1872.0 650.2 L1877.8 647.7 L1873.6 642.7 L1868.3 639.8 L1857.8 637.8 L1849.8 635.3 L1846.2 636.1 L1841.9 631.5 L1849.8 629.9 L1841.9 628.2 L1836.7 624.9 M1928.4 642.3 L1936.8 640.2 L1944.7 637.3 L1949.0 637.8 L1946.3 640.2 L1939.5 645.2 L1931.6 644.8 L1928.4 642.3 M1939.5 630.3 L1947.4 633.2 L1953.2 638.2 L1950.0 636.1 L1943.2 632.0 L1939.5 630.3 M1961.1 640.2 L1965.8 644.4 L1968.5 647.7 L1964.8 646.5 L1961.1 640.2 M1976.4 653.5 L1984.3 653.9 L1988.5 656.9 L1981.6 656.0 M1987.4 658.1 L1993.8 660.2 L1989.6 660.6 M1992.7 654.8 L1997.5 658.9 M2024.4 680.1 L2027.5 683.8 L2029.1 688.0 L2033.3 693.0 M2010.6 703.3 L2018.6 706.6 L2026.5 711.6 L2022.8 711.6 L2013.3 706.6 L2010.6 703.3 M2080.8 692.1 L2087.1 692.1 L2086.0 695.0 L2080.8 693.8 L2080.8 692.1 M2088.7 687.6 L2095.0 686.3 M1744.4 710.8 L1747.6 710.0 L1749.7 712.9 L1754.9 708.7 L1761.8 705.0 L1770.8 703.7 L1778.7 701.7 L1786.6 698.4 L1790.8 692.1 L1794.5 688.0 L1799.2 689.2 L1802.4 683.8 L1807.7 679.7 L1812.9 677.2 L1819.3 678.8 L1822.4 681.8 L1828.8 680.9 L1830.3 675.5 L1834.6 671.0 L1839.3 670.1 L1845.1 669.3 L1846.2 666.4 L1852.5 668.9 L1860.4 670.1 L1867.2 668.9 L1865.7 673.0 L1862.0 675.1 L1860.4 680.9 L1865.7 683.8 L1872.5 687.6 L1879.9 691.7 L1888.3 692.1 L1892.0 685.9 L1892.5 677.6 L1892.5 671.4 L1894.7 665.1 L1897.3 663.9 L1899.9 669.3 L1902.6 675.5 L1907.8 678.8 L1912.1 681.8 L1913.1 688.0 L1916.8 696.3 L1923.7 700.4 L1930.5 704.6 L1934.2 711.6 L1940.0 713.3 L1942.1 718.3 L1950.0 723.2 L1953.7 729.5 L1955.8 737.8 L1952.7 746.1 L1951.1 752.3 L1944.7 758.5 L1941.1 763.9 L1936.8 771.0 L1936.3 775.1 L1927.9 776.4 L1921.0 778.4 L1916.8 781.4 L1913.1 779.3 L1907.8 778.0 L1902.6 780.5 L1894.7 778.9 L1886.7 777.2 L1882.5 773.0 L1881.5 768.1 L1876.2 767.2 L1874.1 762.3 L1872.0 765.6 L1867.2 766.0 L1870.9 760.6 L1872.5 756.5 L1869.9 759.4 L1863.0 763.9 L1858.8 763.1 L1853.5 756.5 L1844.6 752.3 L1836.7 750.2 L1826.1 751.1 L1815.6 753.5 L1805.0 755.6 L1797.1 760.2 L1789.2 760.6 L1778.7 760.6 L1770.8 763.9 L1762.8 765.2 L1754.9 762.3 L1752.3 758.9 L1756.0 757.7 L1756.0 750.2 L1752.3 744.0 L1751.8 737.8 L1748.1 731.5 L1744.4 727.4 L1746.0 721.2 L1744.4 715.0 L1744.4 710.8 M1908.9 788.4 L1915.7 790.1 L1923.7 789.2 L1927.9 789.6 L1926.3 795.9 L1921.0 800.0 L1915.7 800.0 L1911.5 795.9 L1908.9 788.4 M2056.5 762.7 L2060.7 764.8 L2066.0 768.9 L2068.6 772.2 L2072.9 773.0 L2076.5 776.0 L2084.5 775.5 L2086.6 779.7 L2079.2 782.2 L2078.1 785.5 L2072.9 790.9 L2069.7 792.1 L2067.1 790.5 L2068.6 787.6 L2066.5 784.7 L2062.3 782.6 L2066.5 779.7 L2067.1 774.7 L2064.4 771.0 L2059.1 766.0 L2056.5 762.7 M2056.5 787.6 L2063.4 789.6 L2064.9 792.6 L2060.7 795.9 L2057.0 800.0 L2049.1 803.3 L2046.0 809.6 L2040.2 812.9 L2033.3 812.9 L2023.8 810.4 L2024.9 807.5 L2031.7 802.1 L2044.9 798.0 L2050.2 793.0 L2053.3 789.2 L2056.5 787.6 M660.4 425.7 L668.9 426.1 L679.4 424.4 L684.7 426.5 L697.9 426.1 L700.0 426.5 L698.9 422.4 L695.2 420.7 L690.0 417.4 L680.5 417.0 L674.1 420.3 L667.3 423.2 L660.4 425.7 M683.1 446.4 L687.3 446.4 L691.0 443.1 L691.5 437.7 L695.2 431.9 L698.9 429.4 L695.2 429.0 L689.4 429.4 L687.3 432.8 L684.2 434.8 L682.6 441.1 L683.1 446.4 M699.4 429.0 L705.8 429.0 L713.7 428.6 L721.1 429.0 L724.2 432.8 L717.9 433.6 L715.3 436.9 L711.0 441.1 L710.0 438.6 L705.8 436.9 L706.8 433.6 L699.4 429.0 M705.8 446.4 L711.0 447.7 L719.0 446.0 L729.5 442.3 L725.3 441.5 L716.3 442.7 L708.4 444.8 L705.8 446.4 M725.3 439.8 L732.1 439.8 L740.0 439.8 L744.3 438.6 L742.7 436.1 L737.4 436.9 L727.9 438.1 L725.3 439.8 M634.6 409.9 L638.3 405.8 L630.4 397.1 L624.0 396.6 L626.7 401.6 L632.0 405.8 L634.6 409.9 M529.1 366.4 L545.0 363.9 L555.5 361.0 L568.7 358.9 L560.8 362.2 L550.2 365.5 L537.1 366.8 L529.1 366.4 M487.0 349.8 L497.5 344.4 L508.1 341.4 L518.6 342.7 L521.2 346.4 L508.1 347.7 L497.5 350.2 L487.0 349.8 M558.1 374.6 L574.0 372.6 L584.5 373.4 L571.3 375.1 L558.1 374.6 M1392.2 434.8 L1396.4 430.3 L1401.7 427.8 L1407.0 426.5 L1415.9 424.0 L1425.4 424.9 L1426.5 430.3 L1416.5 434.4 L1411.2 434.8 L1414.9 440.6 L1423.8 443.1 L1422.8 446.0 L1425.4 450.6 L1424.4 454.3 L1428.1 456.4 L1430.2 461.8 L1430.2 464.7 L1422.8 467.2 L1414.9 466.8 L1407.0 463.9 L1403.8 460.1 L1405.4 455.6 L1407.0 452.7 L1411.2 451.8 L1407.0 450.2 L1402.2 446.0 L1396.4 441.1 L1395.9 437.3 L1392.2 434.8 M1453.4 427.4 L1459.7 427.8 L1468.7 431.1 L1467.6 436.9 L1459.7 439.0 L1454.4 436.9 L1453.4 432.8 L1453.4 427.4 M1694.3 404.9 L1702.2 403.7 L1712.8 398.7 L1720.7 393.3 L1724.9 388.3 L1720.7 389.2 L1715.4 395.4 L1707.5 400.4 L1696.9 404.1 L1694.3 404.9 M1533.5 428.6 L1541.4 426.5 L1552.0 426.9 L1562.5 427.4 L1554.6 429.8 L1541.4 429.4 L1533.5 428.6 M1304.2 370.5 L1312.1 369.3 L1318.9 366.8 L1314.7 364.3 L1306.8 365.1 L1303.1 367.6 L1304.2 370.5 M1327.9 366.4 L1333.2 365.1 L1337.9 360.1 L1330.5 358.9 L1326.8 361.4 L1327.9 366.4 M1313.7 623.6 L1317.3 618.7 L1322.6 618.3 L1325.3 621.2 L1327.9 622.8 L1322.6 629.9 L1317.3 629.9 L1313.7 625.7 L1313.7 623.6 M1299.9 633.2 L1301.5 638.2 L1302.6 644.4 L1306.8 648.5 L1309.4 655.2 L1306.8 653.9 L1302.1 646.5 L1299.9 640.2 L1299.9 633.2 M1326.8 659.3 L1328.4 665.1 L1328.9 671.4 L1331.6 678.8 L1328.4 675.9 L1326.8 669.3 L1325.3 663.1 L1326.8 659.3 M778.0 683.0 L783.3 685.1 L781.2 687.6 L777.5 685.1 L778.0 683.0 M1217.2 562.2 L1222.4 563.1 L1223.0 566.0 L1218.8 565.5 L1217.2 562.2 M513.3 925.6 L502.8 924.5 L493.3 924.5 L485.4 928.3 L477.5 935.3 L458.5 935.3 L450.6 930.3 L420.0 930.3 L404.7 933.2 L401.0 935.3 L393.1 933.2 L374.1 935.3 L374.1 941.1 L358.3 942.0 L345.1 943.6 L335.7 943.6 L326.2 940.7 L308.8 939.5 L331.4 950.7 L379.4 955.2 L362.5 957.3 L331.4 959.4 L341.5 967.7 L360.4 970.6 L374.1 974.7 L277.7 974.7 L257.6 971.0 L197.0 970.6 M312.5 944.4 L331.4 944.4 L331.4 947.4 L312.5 947.4 L312.5 944.4 M280.8 945.7 L291.9 946.5 L301.9 951.5 L289.3 952.7 L280.8 948.6 L280.8 945.7 M513.3 925.8 L531.8 926.2 L531.8 932.8 L548.1 932.8 L553.9 926.2 L562.4 929.1 L569.2 932.0 L575.0 929.1 L597.7 930.8 L621.4 930.8 L626.7 924.5 L636.7 918.3 L644.6 921.6 L694.7 921.6 L694.7 924.1 L721.6 924.1 L736.9 920.0 L747.9 920.0 L752.2 926.2 L787.0 924.1 L790.7 917.5 L784.9 911.7 L790.1 905.0 L792.8 897.5 L800.7 891.3 L813.9 886.8 L827.0 883.0 L842.8 882.2 L840.2 885.1 L829.7 888.4 L821.8 893.4 L816.0 899.6 L816.0 905.9 L821.8 912.1 L825.4 917.5 L829.7 925.4 L825.4 929.1 L813.9 934.1 L802.3 937.8 L789.1 939.5 L808.6 939.5 L829.7 939.0 L854.4 943.6 L879.8 945.7 L903.5 948.6 L934.6 948.6 L956.7 945.7 L964.1 941.1 L991.0 939.0 L1020.0 931.2 L1049.0 923.7 L1083.3 921.6 L1085.4 915.8 L1099.1 915.0 L1106.5 912.9 L1129.7 912.9 L1133.3 911.2 L1146.0 917.9 L1163.4 912.9 L1182.4 910.8 L1246.2 910.8 L1246.7 912.9 L1276.8 912.9 L1278.9 910.8 L1307.3 910.8 L1309.4 908.3 L1322.1 907.5 L1323.7 903.4 L1332.6 908.3 L1350.0 909.2 L1355.8 906.3 L1371.1 902.5 L1390.1 899.6 L1398.0 902.5 L1409.6 899.6 L1413.3 895.9 L1421.2 893.0 L1438.1 893.0 L1443.9 896.7 L1462.3 899.6 L1492.9 902.1 L1513.5 902.1 L1518.2 912.5 L1524.0 913.3 L1521.9 908.8 L1541.4 908.8 L1547.2 904.2 L1574.1 902.1 L1589.4 898.4 L1627.9 897.1 L1630.0 894.2 L1635.8 897.1 L1643.7 895.5 L1654.8 897.1 L1664.8 895.5 L1670.6 898.4 L1688.0 893.4 L1697.5 894.2 L1712.8 895.5 L1741.8 892.6 L1753.4 895.5 L1762.8 898.4 L1778.7 898.0 L1790.3 895.9 L1801.9 897.5 L1813.5 895.9 L1826.6 897.5 L1834.6 895.9 L1876.7 895.9 L1878.8 897.5 L1907.3 897.5 L1921.0 903.4 L1959.5 903.4 L1965.3 908.3 L1971.1 906.3 L1995.9 909.2 L1999.6 915.0 L2003.8 911.2 L2022.8 912.9 L2043.9 915.8 L2048.1 917.9 L2038.1 921.6 L2024.9 926.6 L2009.6 931.2 L2003.8 935.3 L2013.3 944.9 L2017.0 944.9 L1992.2 947.8 L1990.1 951.5 L1993.8 959.4 L2017.0 963.1 L2028.6 966.9 L2095.0 968.9 M2024.9 941.5 L2042.3 941.5 M742.7 910.8 L753.2 909.2 L758.5 912.1 L755.9 917.5 L747.9 916.2 L742.7 910.8 M607.7 918.3 L623.0 917.5 L621.4 921.6 L610.9 921.6 L607.7 918.3 M829.7 878.9 L842.8 880.1 L856.0 881.8 M899.8 871.0 L910.3 871.0 M944.1 844.0 L953.6 844.8 L956.7 847.8 M211.2 801.7 L218.1 801.7 M584.7 288.3 L600.0 288.3 L620.0 290.9 M536.2 294.7 L549.8 293.0 L572.8 292.6 L568.5 295.6 L550.7 295.6 L536.2 295.6 M514.0 297.3 L531.0 297.3 L565.1 298.1 L586.4 298.1 M489.3 301.5 L501.3 299.8 L514.0 299.8 L531.0 300.7 L548.1 301.5 L556.6 304.1 L565.1 305.8 L577.9 302.4 L587.2 304.1 L584.7 307.5 L565.1 307.5 L548.1 309.2 L533.6 306.6 L514.0 305.8 L505.5 304.1 L492.8 303.2 L489.3 301.5 M587.2 297.3 L593.2 298.1 L596.6 303.2 L607.7 305.8 L620.0 307.5 M489.3 309.6 L528.5 309.6 L539.6 312.6 L552.3 314.3 L565.1 314.3 L577.9 315.1 L586.4 312.6 L595.7 314.3 M491.1 310.9 L491.1 314.3 L485.1 318.9 L492.8 323.2 L505.5 323.6 L515.8 318.5 L527.7 314.3 M589.8 316.0 L593.2 321.9 L599.2 325.3 L610.2 326.2 L614.5 328.7 L607.7 332.1 L599.2 334.7 L620.0 338.1 M480.0 329.6 L488.5 327.9 L497.0 327.9 L509.8 329.6 L516.6 332.1 L531.0 333.0 L535.3 336.4 L573.6 335.5 L582.1 333.0 L590.6 333.0 L599.2 334.7 M525.1 325.3 L552.3 325.8 L539.6 329.6 L529.4 328.7 L525.1 325.3 M603.4 316.0 L611.9 312.6 L620.0 312.6 M607.7 318.5 L620.0 321.1 M705.0 274.9 L757.5 274.5 L760.0 272.0 M667.1 278.8 L687.5 277.9 L705.0 275.4 M644.7 283.2 L652.5 280.8 L668.1 280.8 L687.5 284.2 L737.1 283.7 M620.4 285.6 L629.2 286.1 L637.0 292.9 L648.6 295.8 L660.3 294.9 L677.8 294.4 L682.7 287.1 L697.3 290.0 L687.5 295.8 L677.8 299.7 L687.5 301.7 L721.6 302.6 L726.4 300.7 L736.2 296.8 L745.9 293.9 L751.7 290.0 L760.0 287.6 M600.0 290.0 L619.5 290.5 L621.4 293.9 L600.0 294.9 M600.0 300.7 L609.7 301.7 L611.7 305.6 L619.5 307.5 L629.2 305.6 L639.9 305.6 L650.6 306.5 L660.3 309.5 L677.8 310.4 L702.1 310.4 L716.7 313.4 L726.4 314.4 L741.0 314.4 L755.6 317.3 L760.0 321.2 M602.0 316.3 L609.7 313.4 L629.2 312.4 L634.1 314.4 L638.9 320.2 L629.2 321.2 L617.5 320.2 L605.9 317.3 L602.0 316.3 M640.9 311.4 L648.6 309.5 L660.3 312.4 L677.8 314.4 L672.0 317.3 L673.9 323.1 L687.5 327.0 L707.0 328.9 L716.7 327.0 L731.3 328.0 L743.9 330.9 L751.7 335.7 L760.0 334.8 M650.6 317.3 L660.3 323.1 L661.3 328.0 L672.0 334.8 L677.8 330.9 L682.7 335.7 L692.4 338.6 L702.1 340.6 L716.7 338.6 M600.0 326.0 L614.6 327.0 L614.6 329.9 L600.0 331.8 M619.5 331.8 L629.2 328.9 L634.1 332.8 L638.9 337.7 L648.6 330.9 M600.0 335.7 L619.5 338.6 M230.7 676.4 L242.9 677.2 M356.2 691.7 L358.9 693.0 M993.3 458.7 L997.3 458.7 M1008.4 463.0 L1012.6 463.0" stroke="#bcbcf2" stroke-width="3.6" stroke-linejoin="round"/><path d="M260.3 347.3 L270.8 344.8 L279.8 343.1 L291.9 345.6 L294.0 343.1 L282.4 340.6 L273.4 337.3 L266.6 335.8 L269.8 333.6 L284.0 331.1 L292.4 327.8 L307.7 325.7 L320.9 323.2 L334.1 325.3 L344.6 325.7 L363.1 327.8 L381.5 328.6 L402.6 330.5 L415.8 331.9 L426.3 333.6 L436.9 331.1 L450.1 330.7 L463.2 329.0 L471.2 326.5 L481.7 331.1 L489.6 331.5 L502.8 329.8 L513.3 331.9 L526.5 333.6 L539.7 337.3 L547.6 338.1 L566.1 337.3 L576.6 336.1 L584.5 336.5 L597.7 337.3 L613.5 338.1 L626.7 339.0 L632.0 336.1 L639.9 336.5 L642.5 331.9 L649.4 329.8 L647.8 322.8 L658.3 320.7 L663.6 325.7 L674.1 331.9 L682.0 334.8 L688.4 337.3 L693.6 331.1 L702.1 329.8 L712.6 332.3 L716.3 335.2 L716.3 340.2 L708.4 344.4 L695.2 343.5 L688.4 343.5 L682.0 351.8 L671.5 353.9 L667.8 356.8 L658.3 361.4 L650.4 366.4 L647.2 372.6 L649.4 375.5 L655.7 380.9 L658.3 382.9 L668.9 382.1 L682.0 385.9 L697.9 390.0 L712.1 390.8 L712.1 397.5 L716.3 402.5 L721.6 406.6 L729.5 405.4 L730.5 401.6 L729.5 395.4 L737.4 389.2 L742.1 385.0 L741.1 378.8 L737.4 374.6 L737.9 367.2 L734.2 361.0 L747.9 361.0 L758.5 361.0 L769.0 365.5 L776.9 366.4 L779.6 372.6 L787.5 376.7 L792.8 376.7 L798.0 374.6 L803.3 371.3 L805.9 369.3 L811.2 374.6 L819.1 380.9 L821.8 385.0 L829.7 389.2 L840.2 392.9 L842.8 395.4 L850.8 399.6 L851.8 403.7 L844.4 406.2 L836.0 407.0 L829.7 410.8 L819.1 411.2 L808.6 411.2 L798.0 411.6 L790.1 414.9 L783.3 418.2 L774.3 423.6 L770.6 425.3 L774.3 424.4 L782.2 420.3 L792.8 416.1 L803.3 415.3 L807.5 417.0 L805.4 419.5 L798.0 420.3 L803.3 422.0 L804.4 424.4 L805.9 427.4 L811.2 429.4 L819.1 429.8 L823.3 430.3 L825.4 425.3 L828.6 425.3 L830.7 428.6 L824.4 431.5 L813.9 434.4 L805.9 436.9 L799.1 438.6 L797.5 435.7 L804.4 431.9 L807.5 431.1 L800.7 430.3 L793.8 432.3 L790.1 434.8 L783.3 435.7 L775.9 438.1 L773.3 441.9 L772.2 444.4 L776.9 445.6 L776.9 446.9 L771.7 447.3 L763.8 448.5 L756.9 450.2 L755.9 451.4 L755.3 454.3 L751.6 458.1 L749.0 456.0 L750.1 459.3 L747.9 462.6 L745.3 465.1 L743.7 461.8 L742.7 457.6 L744.3 465.9 L745.8 468.9 L747.9 473.0 L742.7 475.5 L737.4 477.2 L732.1 479.2 L728.4 481.7 L721.6 485.5 L717.9 488.8 L716.8 494.2 L717.9 497.9 L721.1 502.5 L723.2 507.4 L723.7 512.4 L721.6 514.9 L718.4 514.9 L714.7 510.8 L712.6 508.3 L710.0 503.7 L709.5 499.1 L705.8 495.8 L701.6 495.0 L696.3 496.2 L692.6 493.8 L684.7 493.8 L679.4 493.3 L674.1 494.2 L675.2 498.3 L670.4 498.7 L663.6 497.1 L658.3 496.7 L651.5 496.2 L646.2 497.9 L642.5 500.0 L637.2 502.5 L633.0 505.4 L632.5 511.6 L631.4 517.8 L630.4 526.1 L632.0 531.1 L637.2 538.2 L642.5 541.5 L647.8 544.0 L655.7 543.1 L662.0 542.3 L667.8 538.6 L669.4 533.2 L674.1 531.1 L682.0 530.3 L687.8 531.1 L685.2 536.5 L683.6 541.5 L681.0 545.6 L680.5 551.0 L677.3 553.5 L682.0 553.9 L690.0 553.5 L697.9 553.1 L703.1 554.8 L707.4 557.2 L705.8 563.5 L705.2 569.7 L704.2 573.9 L707.4 578.0 L712.6 581.3 L717.9 583.0 L724.2 580.9 L729.5 580.1 L735.8 582.6 L738.5 583.8 L741.1 585.5 L745.3 580.9 L747.9 576.3 L751.6 573.9 L758.5 572.6 L763.8 570.5 L768.5 568.0 L770.6 570.5 L766.9 573.0 L768.5 574.3 L771.7 572.2 L775.9 571.4 L776.4 569.3 L779.6 571.8 L785.9 574.7 L795.4 575.5 L803.3 577.6 L808.6 575.1 L816.5 575.1 L820.2 575.5 L817.5 578.0 L824.4 583.4 L829.7 585.1 L834.9 588.4 L838.6 591.3 L844.4 594.6 L853.4 595.0 L861.3 595.4 L866.6 596.7 L871.8 600.0 L876.1 602.9 L877.1 607.0 L879.8 612.0 L882.4 615.4 L880.8 619.5 L887.7 620.3 L891.4 622.8 L895.6 622.0 L903.5 623.6 L910.9 628.6 L912.4 630.7 L916.7 629.5 L924.6 631.1 L932.5 631.1 L940.4 633.6 L945.7 637.3 L950.9 640.2 L958.8 641.1 L961.5 646.5 L962.5 651.9 L960.4 656.9 L956.2 661.8 L950.9 666.0 L946.2 671.4 L941.4 674.3 L940.4 681.8 L939.9 689.2 L937.2 695.4 L935.1 700.8 L930.9 708.7 L927.2 712.0 L924.6 715.0 L916.7 715.0 L910.9 716.2 L906.1 718.3 L900.8 719.5 L893.5 723.2 L889.8 727.4 L889.8 734.9 L887.7 738.6 L882.4 743.2 L878.2 748.1 L872.9 752.3 L868.7 757.7 L863.9 761.4 L858.7 763.9 L851.8 763.9 L845.5 762.3 L838.1 760.6 L837.6 763.9 L843.9 767.2 L847.1 770.6 L844.4 774.3 L841.8 778.0 L834.9 780.1 L824.4 780.9 L818.1 781.4 L818.6 785.5 L817.0 788.4 L811.2 790.5 L803.3 788.8 L802.8 793.8 L808.6 794.2 L810.7 796.7 L805.9 797.5 L803.3 800.4 L801.7 804.6 L799.1 806.2 L791.2 809.6 L789.6 812.5 L795.4 815.4 L799.1 818.3 L791.7 822.0 L788.5 824.9 L784.9 827.8 L781.2 831.1 L783.3 833.6 L785.4 836.5 L779.6 836.5 L774.3 838.6 L771.7 842.8 L766.4 841.9 L760.1 839.5 L755.9 836.5 L753.2 831.1 L749.5 827.0 L747.9 821.6 L750.6 817.9 L754.3 814.5 L751.6 811.2 L755.9 807.5 L758.5 802.1 L762.2 797.1 L762.7 791.7 L756.9 792.1 L757.4 785.5 L759.0 781.4 L758.0 774.7 L762.2 768.1 L766.4 760.6 L768.5 756.5 L769.0 748.1 L770.1 741.9 L771.7 734.9 L773.3 727.4 L774.3 719.1 L775.9 710.8 L775.9 702.5 L775.4 695.9 L770.1 692.5 L763.8 689.2 L755.9 685.1 L747.9 680.9 L743.7 676.4 L741.1 671.4 L738.5 668.5 L733.7 661.0 L729.5 654.8 L725.8 649.4 L719.0 644.4 L717.9 639.4 L722.1 634.0 L724.7 630.3 L720.0 629.0 L719.5 623.6 L723.2 619.5 L724.2 616.2 L729.5 614.1 L732.1 610.0 L736.9 606.2 L738.5 602.9 L737.9 596.7 L737.4 591.3 L734.8 588.4 L732.7 585.1 L729.5 583.0 L725.8 583.0 L722.1 585.5 L724.2 588.4 L721.6 589.2 L717.9 587.5 L713.7 585.5 L708.4 584.6 L704.7 582.1 L699.4 578.8 L694.2 578.4 L693.6 574.7 L688.4 568.9 L684.2 565.5 L679.4 564.7 L672.6 563.5 L664.6 561.8 L658.3 558.9 L651.5 553.9 L646.2 552.3 L639.9 554.3 L632.0 553.1 L625.1 551.0 L618.8 549.4 L610.9 546.5 L603.0 544.0 L596.1 540.6 L590.8 537.3 L589.3 534.4 L591.4 530.3 L588.7 526.1 L584.5 522.0 L579.2 517.8 L574.0 514.5 L569.7 510.4 L566.1 506.6 L562.4 503.7 L557.1 500.0 L553.9 497.1 L550.2 491.7 L545.5 488.8 L540.7 487.5 L540.7 490.9 L542.3 495.0 L547.6 499.1 L551.3 503.3 L554.5 507.4 L557.6 511.6 L560.8 515.8 L563.4 519.1 L566.6 524.0 L564.5 522.0 L560.8 519.1 L555.5 516.6 L554.5 511.6 L548.7 508.3 L543.9 505.0 L543.4 503.3 L540.2 497.1 L535.5 493.3 L532.3 489.2 L529.7 486.7 L528.1 483.8 L527.0 481.3 L522.8 479.2 L520.7 478.4 L517.0 477.2 L510.2 476.3 L509.1 473.4 L505.4 470.1 L503.3 467.6 L500.2 463.9 L500.2 462.2 L497.5 461.0 L493.8 457.6 L493.3 454.3 L490.1 451.8 L491.7 448.5 L491.2 445.2 L489.6 441.9 L491.2 437.7 L492.2 432.8 L492.8 427.8 L491.7 424.9 L489.1 421.1 L488.6 418.6 L494.9 419.5 L498.6 422.4 L500.2 418.2 L497.5 416.1 L493.3 413.7 L488.0 411.6 L483.3 409.9 L477.5 408.3 L472.2 406.6 L471.7 403.3 L468.5 400.4 L464.3 397.1 L459.0 394.2 L457.4 391.2 L452.7 387.9 L448.5 385.0 L443.7 381.7 L439.0 378.0 L433.2 375.1 L427.9 377.1 L423.7 375.5 L416.9 373.4 L410.5 371.3 L403.7 370.9 L394.7 370.5 L387.3 370.1 L378.9 368.4 L373.1 366.8 L366.8 368.4 L362.5 370.5 L357.3 371.7 L352.0 373.0 L346.2 373.8 L347.3 370.5 L350.9 368.0 L355.2 365.5 L348.8 366.4 L344.6 368.4 L340.4 371.3 L335.7 373.8 L333.0 376.3 L327.2 378.8 L322.0 381.3 L315.6 383.8 L309.3 386.3 L302.4 388.3 L294.5 390.0 L289.3 391.7 L284.0 392.9 L277.1 393.7 L285.0 391.2 L293.0 387.5 L299.8 386.3 L307.7 382.9 L311.9 379.6 L315.6 377.1 L317.2 375.5 L311.4 375.9 L307.7 375.1 L302.4 376.3 L294.5 376.3 L291.9 373.4 L284.0 371.3 L278.7 369.3 L274.5 367.2 L275.0 364.3 L270.8 362.2 L273.4 359.7 L278.2 357.6 L285.6 358.1 L294.5 356.4 L298.2 354.7 L296.1 352.2 L291.9 351.8 L283.5 351.4 L276.1 351.8 L269.2 351.4 L266.1 349.3 L262.9 348.5 L260.3 347.3 M2095.0 329.4 L2087.1 325.7 L2078.7 329.0 L2063.4 329.4 L2048.1 328.2 L2036.5 329.4 L2021.2 330.7 L2008.0 330.2 L1994.8 330.7 L1989.6 327.8 L1987.4 325.3 L1968.5 324.4 L1951.6 323.2 L1939.5 322.4 L1936.3 319.9 L1923.7 319.0 L1917.3 318.6 L1899.9 317.8 L1886.2 319.0 L1882.5 316.1 L1868.3 322.8 L1855.6 323.6 L1846.2 321.1 L1838.2 325.3 L1828.8 322.4 L1826.6 318.2 L1825.1 314.9 L1812.9 314.1 L1799.8 314.1 L1788.2 317.0 L1776.0 316.6 L1762.8 314.1 L1747.0 314.1 L1739.1 313.2 L1728.6 312.4 L1723.3 310.7 L1733.9 308.2 L1744.4 305.8 L1741.8 303.3 L1731.2 300.8 L1710.1 300.4 L1695.4 297.0 L1681.1 299.9 L1673.2 302.4 L1660.0 304.1 L1652.1 304.5 L1639.0 304.9 L1620.5 306.2 L1604.7 308.7 L1602.0 311.2 L1604.7 313.2 L1596.8 314.5 L1581.0 314.1 L1570.4 314.5 L1572.0 320.7 L1581.0 321.9 L1583.6 324.9 L1579.4 329.0 L1584.6 332.3 L1578.3 333.1 L1573.0 329.8 L1565.1 329.8 L1558.8 326.9 L1552.0 324.0 L1547.7 321.1 L1533.5 321.5 L1530.9 324.0 L1533.5 329.8 L1530.9 333.1 L1529.8 336.1 L1523.0 337.7 L1512.4 341.4 L1509.8 343.5 L1528.2 344.4 L1533.5 340.6 L1540.4 337.3 L1538.8 333.1 L1533.5 326.9 L1529.8 319.9 L1525.6 317.0 L1517.7 315.3 L1508.7 317.4 L1501.9 322.8 L1507.1 326.1 L1507.1 331.1 L1501.9 335.2 L1488.7 332.7 L1472.9 330.2 L1465.0 329.8 L1462.3 334.0 L1454.4 334.0 L1446.5 335.2 L1436.0 336.1 L1428.1 335.6 L1429.6 333.6 L1422.8 335.2 L1414.9 336.1 L1404.3 338.1 L1396.4 339.0 L1391.2 341.4 L1383.2 343.5 L1378.0 345.6 L1379.0 340.2 L1375.3 336.5 L1364.8 339.4 L1359.5 343.5 L1351.6 345.2 L1341.1 344.4 L1330.5 343.5 L1322.6 343.1 L1330.5 345.6 L1343.7 347.7 L1354.3 350.6 L1359.5 351.8 L1351.6 354.3 L1343.7 352.7 L1338.4 350.6 L1329.5 351.8 L1328.4 347.7 L1320.0 344.4 L1317.3 341.9 L1325.3 342.3 L1338.4 341.9 L1351.6 343.1 L1362.2 341.4 L1362.2 338.1 L1354.3 336.9 L1346.3 335.2 L1333.2 332.3 L1320.0 331.5 L1309.4 329.8 L1298.9 329.0 L1288.3 325.3 L1282.0 324.4 L1272.5 325.3 L1262.0 326.5 L1251.4 328.6 L1243.5 329.8 L1235.6 333.1 L1227.7 335.6 L1221.4 338.5 L1217.2 341.4 L1213.5 345.6 L1210.3 348.9 L1204.0 351.8 L1198.7 355.1 L1190.8 356.8 L1182.9 358.9 L1175.0 361.4 L1172.4 365.5 L1172.4 370.5 L1174.5 374.6 L1176.6 378.0 L1182.9 378.8 L1190.8 378.0 L1198.7 374.6 L1201.9 371.3 L1205.0 374.6 L1208.2 377.6 L1210.8 381.7 L1213.0 385.4 L1214.0 388.8 L1220.9 389.6 L1222.4 387.1 L1230.4 386.3 L1233.5 382.1 L1234.0 378.0 L1240.9 374.6 L1245.1 370.9 L1238.3 368.0 L1237.2 363.9 L1238.8 359.7 L1245.1 356.4 L1254.1 353.9 L1259.4 350.6 L1264.1 346.4 L1272.5 346.4 L1279.9 349.3 L1278.9 351.8 L1269.9 354.7 L1262.0 358.1 L1258.3 361.0 L1259.4 365.5 L1261.5 368.4 L1267.3 370.9 L1277.8 369.3 L1287.3 368.8 L1296.3 368.4 L1303.1 370.5 L1296.3 371.3 L1291.0 373.0 L1280.4 372.6 L1269.9 373.8 L1269.9 376.7 L1274.1 378.0 L1272.5 380.9 L1274.1 382.9 L1269.9 382.9 L1264.6 380.5 L1259.4 381.7 L1256.7 385.9 L1257.2 388.3 L1257.8 390.4 L1251.4 391.7 L1248.8 393.7 L1244.6 393.7 L1243.5 392.5 L1238.3 392.1 L1230.4 394.2 L1222.4 395.8 L1218.8 395.0 L1211.9 393.7 L1204.0 395.4 L1202.9 393.3 L1198.7 391.7 L1199.8 389.2 L1202.4 385.4 L1200.3 381.7 L1201.9 380.0 L1196.1 382.5 L1191.3 384.6 L1188.7 387.1 L1191.3 389.6 L1192.4 394.6 L1188.2 397.1 L1182.9 397.9 L1177.6 397.9 L1172.4 398.7 L1170.8 401.6 L1167.1 404.1 L1163.4 406.2 L1159.2 407.4 L1154.4 408.3 L1153.9 411.2 L1148.6 412.8 L1146.0 414.5 L1140.7 414.9 L1139.1 413.2 L1136.0 413.7 L1137.6 417.8 L1131.2 418.2 L1127.5 417.0 L1121.2 418.2 L1123.3 420.3 L1130.2 422.4 L1134.4 424.0 L1136.5 426.5 L1139.7 429.4 L1139.7 434.4 L1138.1 439.0 L1132.8 439.8 L1126.0 439.0 L1117.0 438.6 L1109.1 438.6 L1102.8 439.0 L1097.5 441.1 L1099.1 445.2 L1099.6 449.4 L1099.1 453.5 L1096.4 457.6 L1098.0 459.7 L1099.6 462.6 L1099.1 465.9 L1106.5 465.5 L1112.3 466.8 L1114.4 469.3 L1117.5 469.7 L1122.3 467.6 L1132.8 466.8 L1137.6 464.3 L1142.3 463.5 L1143.4 460.1 L1147.1 458.5 L1144.4 455.6 L1146.0 453.5 L1150.2 450.2 L1153.9 448.5 L1159.2 446.9 L1162.9 445.2 L1161.8 441.5 L1164.5 439.8 L1169.7 439.0 L1175.0 440.2 L1180.3 440.6 L1185.5 437.7 L1190.8 435.7 L1196.1 436.5 L1199.8 437.7 L1201.4 441.5 L1205.0 443.5 L1210.3 446.0 L1214.5 448.1 L1219.8 450.2 L1225.1 452.7 L1228.8 453.9 L1230.4 457.2 L1228.8 460.6 L1230.9 461.8 L1233.5 460.1 L1236.7 457.6 L1235.6 455.6 L1233.0 454.3 L1235.6 451.4 L1240.9 452.7 L1243.5 453.1 L1240.4 450.6 L1234.6 448.5 L1229.8 446.9 L1230.4 445.6 L1223.5 444.8 L1218.8 441.9 L1217.2 439.0 L1211.4 436.1 L1210.8 431.9 L1214.5 429.8 L1217.7 430.3 L1219.3 433.2 L1222.4 431.9 L1226.1 435.7 L1229.8 438.6 L1235.6 440.6 L1243.5 443.1 L1248.3 445.6 L1248.8 449.4 L1247.8 451.8 L1251.4 455.2 L1255.1 458.1 L1257.2 460.6 L1260.4 464.7 L1264.1 468.0 L1267.8 468.0 L1266.7 463.9 L1268.8 461.8 L1272.5 461.0 L1266.2 458.5 L1268.8 456.0 L1265.2 452.3 L1271.0 453.1 L1274.6 449.8 L1282.6 449.8 L1286.2 451.0 L1291.0 449.8 L1298.4 449.4 L1299.4 448.5 L1295.7 445.2 L1292.6 442.7 L1292.0 438.6 L1296.8 435.7 L1298.4 432.8 L1302.6 431.5 L1306.3 428.2 L1309.4 426.1 L1317.3 427.4 L1322.6 429.0 L1317.3 431.1 L1323.1 434.8 L1329.5 433.6 L1333.2 432.3 L1338.4 431.5 L1331.6 427.8 L1338.4 425.3 L1346.3 424.0 L1352.7 423.6 L1347.9 426.1 L1344.8 428.6 L1346.3 431.1 L1341.1 433.6 L1347.9 435.7 L1354.3 438.6 L1359.5 441.1 L1365.3 446.9 L1364.8 447.7 L1358.5 449.4 L1351.6 448.9 L1343.7 448.9 L1337.4 447.3 L1331.6 445.2 L1325.3 445.2 L1320.0 445.6 L1312.1 448.1 L1304.2 448.5 L1299.9 449.4 L1293.6 451.8 L1286.8 451.8 L1284.1 453.5 L1285.2 457.6 L1287.3 459.3 L1289.4 462.2 L1290.5 465.9 L1293.6 466.8 L1298.4 467.6 L1302.6 469.3 L1307.3 466.8 L1312.1 467.6 L1317.3 469.7 L1323.1 469.3 L1328.9 466.8 L1335.3 467.2 L1335.3 470.9 L1335.3 474.7 L1333.7 478.4 L1331.1 482.6 L1328.4 487.5 L1326.3 489.6 L1320.0 490.4 L1316.3 490.0 L1309.4 488.4 L1304.2 489.6 L1298.9 491.3 L1289.9 489.6 L1278.9 488.4 L1272.5 486.7 L1267.3 484.2 L1259.4 483.0 L1252.0 485.9 L1250.9 490.0 L1246.7 493.8 L1239.8 491.3 L1230.4 489.6 L1226.7 485.9 L1219.3 483.4 L1209.3 483.0 L1205.0 481.7 L1200.3 479.6 L1203.5 477.2 L1202.4 473.8 L1204.5 471.3 L1201.4 468.4 L1204.5 465.5 L1199.8 465.1 L1196.1 464.7 L1190.8 466.4 L1182.9 465.5 L1175.0 467.2 L1167.1 466.4 L1159.2 467.6 L1151.3 468.0 L1143.4 470.9 L1138.1 473.4 L1132.8 473.4 L1126.0 473.4 L1119.6 471.3 L1114.9 470.9 L1112.8 473.8 L1110.1 478.0 L1105.9 480.1 L1101.2 481.3 L1097.0 484.6 L1094.3 489.2 L1094.9 492.9 L1094.3 496.2 L1090.1 500.0 L1085.4 502.5 L1078.0 503.7 L1074.8 506.2 L1070.1 510.4 L1067.4 514.9 L1063.8 518.7 L1060.6 521.1 L1060.1 524.0 L1056.9 528.6 L1055.8 532.4 L1057.4 535.7 L1059.5 538.2 L1061.1 542.7 L1059.0 551.0 L1056.9 556.4 L1053.7 558.5 L1056.9 562.2 L1057.4 568.0 L1060.6 570.5 L1064.8 573.0 L1068.5 575.5 L1072.2 578.8 L1076.4 582.1 L1078.5 585.9 L1082.7 589.6 L1088.0 592.1 L1093.3 595.0 L1099.1 598.8 L1105.9 601.2 L1114.4 600.0 L1122.3 597.9 L1130.2 598.3 L1135.5 600.0 L1140.7 598.3 L1148.6 595.4 L1154.4 593.8 L1160.2 592.9 L1166.0 592.9 L1170.8 593.8 L1175.0 596.7 L1177.6 601.7 L1182.9 601.2 L1189.8 600.4 L1192.4 602.1 L1196.6 605.0 L1197.7 609.1 L1196.1 614.5 L1195.6 618.3 L1195.0 622.4 L1198.2 627.8 L1204.0 633.2 L1208.2 637.3 L1210.8 642.3 L1211.4 647.7 L1215.6 656.0 L1216.6 663.1 L1218.8 668.5 L1212.4 675.5 L1210.3 681.8 L1208.2 689.2 L1208.7 694.2 L1212.4 699.6 L1216.6 705.8 L1220.9 712.9 L1222.4 719.1 L1224.6 727.4 L1226.7 732.8 L1233.0 738.2 L1236.7 744.0 L1240.4 750.2 L1242.5 755.2 L1242.0 758.5 L1243.5 761.4 L1247.8 763.1 L1251.4 763.9 L1259.4 762.3 L1264.6 760.2 L1272.5 761.0 L1281.0 760.2 L1287.3 758.9 L1293.1 756.5 L1298.9 752.3 L1304.2 749.0 L1309.4 743.2 L1316.3 737.8 L1318.9 729.5 L1317.9 727.0 L1322.6 724.5 L1330.5 721.6 L1333.2 716.6 L1333.2 710.8 L1330.5 704.6 L1333.2 700.4 L1338.4 697.5 L1343.7 692.5 L1351.6 690.0 L1358.5 683.8 L1360.1 678.4 L1359.5 669.3 L1358.5 663.1 L1354.3 656.9 L1352.7 650.6 L1350.6 646.5 L1352.7 640.2 L1355.3 636.1 L1357.9 631.1 L1362.2 627.8 L1366.4 624.5 L1370.6 620.7 L1376.4 615.8 L1383.2 611.6 L1391.2 607.0 L1398.0 601.7 L1402.8 596.7 L1407.0 590.5 L1411.2 584.2 L1414.4 577.2 L1415.9 570.5 L1409.6 571.8 L1401.7 573.0 L1393.8 574.3 L1385.9 575.5 L1378.0 576.3 L1374.3 570.9 L1371.1 567.6 L1368.5 565.5 L1364.8 562.2 L1360.1 557.7 L1354.3 554.8 L1352.7 551.0 L1349.5 544.8 L1343.7 541.5 L1342.1 534.4 L1340.5 528.2 L1334.2 522.0 L1333.2 517.8 L1328.4 511.6 L1325.3 507.4 L1322.6 504.1 L1317.9 495.4 L1316.3 496.7 L1320.0 501.2 L1323.1 504.1 L1326.8 503.3 L1327.9 499.1 L1330.0 497.1 L1328.4 502.1 L1331.6 503.3 L1336.9 509.5 L1342.1 516.6 L1346.9 519.9 L1351.6 526.1 L1352.7 530.7 L1356.9 535.3 L1361.1 539.4 L1364.3 544.8 L1369.0 549.8 L1371.1 553.5 L1371.7 558.1 L1373.8 564.3 L1375.3 566.8 L1380.6 566.8 L1385.4 565.5 L1391.2 563.9 L1399.1 561.4 L1404.9 559.3 L1410.7 556.4 L1417.5 555.2 L1421.2 553.1 L1426.5 550.6 L1433.3 549.0 L1437.0 547.3 L1439.1 543.6 L1444.4 542.7 L1446.0 538.6 L1450.2 536.5 L1453.9 534.4 L1458.6 529.0 L1461.3 526.1 L1456.0 522.0 L1450.7 520.7 L1445.5 517.4 L1442.8 513.7 L1443.4 510.4 L1441.8 511.6 L1438.6 514.1 L1433.3 518.7 L1425.4 519.5 L1418.0 519.1 L1416.5 513.7 L1418.0 512.0 L1414.9 511.6 L1412.2 514.9 L1409.6 509.5 L1407.0 507.0 L1402.2 503.3 L1399.1 498.3 L1401.7 495.4 L1407.0 495.0 L1410.7 495.4 L1413.8 500.0 L1417.5 503.7 L1422.8 505.8 L1428.6 508.3 L1434.9 509.5 L1442.8 507.0 L1447.6 512.0 L1456.0 513.7 L1470.2 515.3 L1477.1 514.9 L1486.1 514.9 L1494.0 514.1 L1497.7 516.6 L1501.9 520.3 L1507.1 522.8 L1512.4 526.1 L1516.6 524.9 L1515.1 531.1 L1520.3 533.2 L1528.8 530.7 L1529.8 536.5 L1530.3 541.1 L1532.5 547.7 L1534.0 553.9 L1538.3 559.3 L1540.4 566.4 L1543.5 571.8 L1547.7 578.0 L1549.9 582.6 L1554.6 585.9 L1558.3 582.6 L1562.5 580.9 L1564.1 576.8 L1567.3 576.8 L1567.3 570.5 L1569.4 563.5 L1568.8 556.8 L1574.1 553.1 L1579.9 550.6 L1585.7 546.9 L1593.1 540.6 L1599.4 537.3 L1603.6 534.4 L1604.7 530.3 L1611.0 529.4 L1616.3 529.0 L1620.5 528.2 L1623.7 526.1 L1628.4 525.3 L1631.0 530.3 L1632.6 533.6 L1636.3 536.9 L1640.0 540.6 L1643.2 544.8 L1644.2 551.0 L1642.6 553.1 L1646.9 553.9 L1652.1 551.0 L1658.5 549.8 L1661.1 553.1 L1661.6 558.1 L1664.3 563.5 L1665.8 569.7 L1665.8 575.9 L1664.3 582.1 L1665.3 585.9 L1668.0 587.1 L1671.6 592.5 L1674.8 596.7 L1676.4 602.1 L1680.1 607.0 L1685.3 610.4 L1691.1 613.7 L1695.9 613.7 L1692.2 608.7 L1691.1 602.9 L1690.6 598.8 L1685.3 593.8 L1681.1 591.3 L1675.9 589.2 L1674.3 585.1 L1672.7 580.9 L1669.0 577.2 L1670.6 571.8 L1672.7 567.6 L1673.2 563.9 L1678.0 563.5 L1678.0 566.8 L1683.8 568.9 L1688.0 571.4 L1691.1 574.7 L1695.9 575.9 L1698.5 579.7 L1700.1 583.8 L1705.9 580.1 L1709.1 576.8 L1714.9 574.3 L1720.1 571.8 L1721.7 567.2 L1722.3 562.2 L1719.6 556.0 L1715.4 552.7 L1710.7 549.0 L1707.0 544.0 L1703.3 540.6 L1704.3 537.3 L1708.0 534.8 L1712.2 531.5 L1717.0 530.3 L1723.8 529.9 L1727.5 534.4 L1729.1 531.5 L1734.4 529.9 L1739.1 529.0 L1744.4 527.4 L1748.1 527.0 L1751.8 525.3 L1760.2 524.5 L1766.5 521.1 L1771.3 517.4 L1776.0 513.7 L1777.1 509.1 L1780.8 506.2 L1785.0 502.5 L1788.2 499.1 L1788.7 495.4 L1783.9 493.8 L1788.7 491.3 L1785.5 487.5 L1783.4 484.2 L1781.8 480.5 L1779.7 476.7 L1775.0 475.1 L1776.6 471.8 L1782.4 469.3 L1787.1 466.8 L1791.8 465.9 L1789.7 463.9 L1782.9 462.6 L1777.1 465.1 L1772.9 464.3 L1772.9 461.0 L1766.5 458.1 L1767.1 456.4 L1772.9 457.2 L1778.7 454.7 L1785.0 451.4 L1790.3 451.4 L1787.1 454.3 L1786.0 457.6 L1789.7 456.4 L1795.5 454.7 L1801.3 453.9 L1805.6 455.2 L1807.1 458.5 L1805.0 461.8 L1810.3 463.0 L1813.5 465.9 L1811.9 470.5 L1812.9 475.5 L1818.2 475.9 L1823.5 474.7 L1828.2 472.2 L1828.8 468.0 L1828.2 463.9 L1824.5 460.1 L1820.8 456.8 L1818.2 454.3 L1824.0 452.3 L1829.8 450.2 L1830.3 446.4 L1835.1 443.5 L1839.3 441.9 L1844.6 441.1 L1851.4 442.3 L1857.8 439.0 L1864.6 434.8 L1870.9 430.3 L1875.1 425.3 L1878.8 421.1 L1885.2 417.0 L1887.3 412.0 L1887.3 406.6 L1891.5 401.6 L1888.3 398.3 L1879.9 395.4 L1871.5 394.6 L1869.3 391.7 L1860.4 391.2 L1859.3 389.2 L1868.3 385.0 L1875.1 380.9 L1884.1 376.7 L1892.0 373.8 L1898.9 373.0 L1907.8 373.4 L1915.7 373.4 L1926.3 373.0 L1936.3 371.7 L1947.4 374.6 L1957.9 373.8 L1961.1 371.7 L1971.1 363.9 L1981.6 362.2 L1990.6 361.4 L1989.6 365.1 L1981.6 367.2 L1972.2 372.2 L1968.5 376.7 L1969.0 381.3 L1966.4 387.5 L1966.4 395.4 L1970.0 404.5 L1971.6 407.4 L1978.0 404.1 L1982.2 400.4 L1989.6 397.5 L1991.7 393.7 L2000.1 391.7 L1998.0 388.8 L2002.2 385.9 L2006.4 385.9 L2002.2 379.6 L2008.0 375.1 L2013.3 371.3 L2022.2 368.8 L2031.7 368.4 L2043.9 370.5 L2055.5 366.4 L2060.7 363.4 L2071.3 362.2 L2079.2 359.7 L2089.7 360.5 L2095.0 359.7 M763.8 295.8 L776.9 289.6 L800.7 285.4 L819.1 279.6 L850.8 278.0 L882.4 277.5 L914.0 275.1 L945.7 273.0 L987.8 272.6 L1019.5 275.1 L1035.3 278.0 L1037.9 281.3 L1061.6 281.3 L1080.1 281.3 L1064.3 286.3 L1051.1 288.3 L1043.2 293.7 L1048.5 300.8 L1040.6 304.9 L1043.2 309.1 L1032.6 312.4 L1030.0 317.8 L1019.5 318.6 L1030.0 321.5 L1027.4 325.7 L1016.8 326.9 L1022.1 329.0 L1008.9 334.8 L990.5 336.5 L977.3 337.3 L966.7 342.3 L950.9 346.4 L937.7 347.7 L932.5 351.8 L927.2 356.0 L921.9 362.2 L919.3 367.2 L916.7 370.5 L908.8 369.7 L900.8 367.2 L890.3 365.1 L883.4 360.1 L879.8 354.7 L874.5 351.8 L869.2 347.7 L863.9 343.5 L866.6 340.6 L862.4 336.5 L874.5 333.1 L877.1 329.8 L869.2 329.0 L858.7 326.5 L874.5 325.7 L863.9 322.8 L853.4 320.7 L856.0 317.4 L848.1 313.2 L842.8 310.3 L834.9 306.2 L821.8 304.1 L803.3 303.7 L784.9 302.9 L771.7 300.8 L766.4 298.3 L763.8 295.8 M820.2 343.1 L813.9 340.2 L805.9 337.7 L798.0 336.1 L790.1 331.9 L784.9 328.2 L774.3 325.7 L766.4 322.8 L755.9 321.1 L742.7 319.0 L732.1 318.2 L721.6 315.7 L719.0 313.6 L703.1 314.5 L692.6 315.3 L682.0 316.6 L674.1 322.8 L684.7 326.9 L697.9 329.4 L711.0 330.2 L719.0 333.1 L732.1 336.1 L742.7 337.3 L750.6 339.4 L761.1 341.4 L758.5 345.6 L761.1 348.5 L745.3 348.5 L737.4 350.6 L740.0 353.1 L750.6 352.2 L758.5 353.9 L766.4 356.8 L774.3 358.9 L782.2 360.1 L790.1 362.2 L798.0 362.6 L800.7 359.7 L790.1 356.0 L800.7 356.4 L805.9 353.9 L803.3 349.8 L795.4 346.4 L790.1 343.5 L800.7 344.4 L811.2 348.5 L819.1 346.4 L820.2 343.1 M671.5 300.8 L697.9 302.4 L724.2 302.9 L734.8 301.2 L734.8 297.9 L745.3 294.6 L755.9 292.5 L766.4 289.6 L787.5 286.3 L803.3 283.4 L813.9 280.0 L819.1 277.1 L798.0 275.5 L766.4 275.1 L734.8 275.5 L703.1 276.7 L682.0 279.2 L663.6 283.4 L676.8 286.7 L692.6 289.2 L690.0 292.9 L682.0 295.8 L671.5 297.5 L671.5 300.8 M690.0 350.6 L695.2 347.3 L705.8 348.5 L716.3 351.8 L721.6 354.7 L713.7 354.7 L700.5 357.2 L692.6 356.0 L687.3 353.1 L690.0 350.6 M708.4 358.5 L716.3 358.9 L711.0 361.0 L704.2 360.5 L708.4 358.5 M1027.4 347.7 L1019.5 347.7 L1030.0 343.9 L1040.6 345.2 L1051.1 344.8 L1061.6 343.5 L1069.6 344.8 L1068.0 347.7 L1074.3 349.3 L1069.6 352.2 L1059.0 354.3 L1048.5 356.4 L1037.9 355.1 L1026.3 354.3 L1030.0 352.2 L1019.5 350.2 L1027.4 347.7 M853.4 405.4 L848.1 409.9 L843.4 414.1 L838.1 418.2 L833.4 422.0 L840.2 422.0 L850.8 422.0 L854.4 424.9 L861.3 424.9 L863.4 426.1 L868.2 424.9 L867.6 421.1 L863.4 422.0 L865.0 418.2 L861.3 414.9 L853.4 414.1 L852.9 409.9 L853.4 405.4 M495.4 418.6 L487.0 416.6 L479.1 414.1 L471.2 410.8 L470.1 408.7 L476.4 409.5 L485.9 412.0 L492.2 415.3 L495.4 418.6 M450.1 395.4 L454.3 398.3 L452.7 402.5 L447.4 400.4 L443.7 396.2 L450.1 395.4 M344.6 378.8 L335.1 382.9 L331.4 381.3 L338.3 378.0 L344.6 378.8 M698.4 528.6 L708.4 524.5 L716.3 523.6 L724.2 524.0 L732.1 526.5 L740.0 530.3 L747.9 532.4 L754.8 535.3 L749.5 536.9 L737.4 536.9 L739.0 534.0 L732.1 530.3 L721.6 528.2 L713.7 527.0 L705.8 528.6 L698.4 528.6 M753.7 536.9 L762.2 536.9 L771.7 536.9 L779.6 539.4 L785.4 542.3 L778.0 543.1 L770.6 546.0 L763.8 544.0 L753.7 543.1 L762.2 542.3 L753.7 536.9 M733.2 543.1 L743.7 544.0 L741.1 545.2 L733.2 544.0 L733.2 543.1 M791.7 542.7 L800.1 543.1 L799.6 544.8 L791.7 544.8 L791.7 542.7 M819.6 574.7 L824.4 574.7 L824.4 577.6 L819.6 577.6 L819.6 574.7 M734.8 509.1 L740.0 508.7 L737.4 509.5 L734.8 509.1 M735.8 516.6 L737.4 519.1 L736.3 519.9 L735.8 516.6 M784.3 837.8 L785.9 841.5 L790.1 844.4 L798.0 847.3 L802.3 846.9 L795.4 848.6 L787.5 849.4 L779.6 849.0 L771.7 846.9 L763.8 843.6 L771.7 840.7 L776.9 840.7 L779.6 838.2 L784.3 837.8 M822.8 832.4 L832.3 832.4 L841.3 833.2 L837.6 836.5 L827.0 836.1 L822.8 832.4 M945.7 843.6 L956.2 844.8 L953.6 846.1 L945.7 844.4 M755.9 793.0 L758.5 793.0 L758.5 799.2 L754.8 798.8 L755.9 793.0 M663.6 620.3 L666.2 621.6 L664.6 623.6 L663.1 622.0 L663.6 620.3 M324.1 535.7 L328.8 537.7 L328.8 539.8 L325.1 541.1 L323.5 538.2 L324.1 535.7 M311.4 529.9 L314.6 531.1 L312.5 531.1 L311.4 529.9 M319.8 532.4 L323.5 533.2 L321.4 534.0 L319.8 532.4 M303.5 527.4 L306.1 527.4 L305.1 528.6 L303.5 527.4 M240.2 354.7 L249.7 355.6 L256.0 357.2 L248.1 356.8 L240.2 356.4 L240.2 354.7 M266.6 368.8 L272.9 369.7 L269.8 371.3 L264.0 369.7 L266.6 368.8 M197.0 322.8 L204.9 322.4 L210.2 324.0 L202.3 325.3 L197.0 324.9 M2095.0 322.8 L2088.7 324.0 L2095.0 324.9 M215.5 404.1 L218.1 403.7 L220.7 404.1 M204.9 404.5 L208.6 404.1 L212.8 404.5 M226.0 402.9 L231.3 403.3 M249.7 400.8 L257.6 398.7 L265.5 397.1 L270.8 395.8 M236.5 402.5 L241.8 402.0 M1202.9 292.1 L1209.3 288.3 L1230.4 287.9 L1240.9 286.3 L1259.4 286.3 L1277.8 287.1 L1288.3 288.7 L1267.3 291.6 L1262.0 295.0 L1246.2 297.5 L1235.6 301.6 L1230.4 298.7 L1219.8 297.5 L1217.2 295.0 L1206.6 293.7 L1202.9 292.1 M1417.5 322.8 L1425.4 325.7 L1436.0 326.5 L1449.2 326.1 L1441.2 322.8 L1438.6 318.6 L1441.2 315.3 L1449.2 311.6 L1459.7 308.2 L1472.9 304.9 L1488.7 302.9 L1507.1 300.4 L1499.2 299.9 L1478.2 302.4 L1462.3 304.1 L1446.5 307.0 L1438.6 311.2 L1430.7 314.9 L1425.4 317.8 L1417.5 322.8 M1393.8 285.4 L1420.2 287.5 L1446.5 286.3 L1472.9 285.0 L1462.3 281.3 L1436.0 280.0 L1409.6 282.5 L1393.8 285.4 M1646.9 291.6 L1668.0 295.0 L1694.3 296.2 L1699.6 292.5 L1678.5 288.3 L1662.7 284.2 L1646.9 283.4 L1636.3 287.5 L1646.9 291.6 M1870.9 304.9 L1889.4 305.8 L1902.6 304.9 L1910.5 306.2 L1894.7 303.7 L1876.2 303.3 L1870.9 304.9 M1926.3 307.0 L1944.7 307.8 L1936.8 305.8 L1926.3 307.0 M1884.1 314.1 L1897.3 313.6 L1902.6 315.7 L1889.4 315.7 L1884.1 314.1 M1401.7 332.3 L1408.6 331.9 L1405.4 334.0 L1401.7 332.3 M1454.4 327.8 L1465.0 329.0 L1459.7 329.8 L1454.4 327.8 M1119.6 376.3 L1130.2 376.3 L1127.5 379.2 L1135.5 380.0 L1136.5 381.7 L1132.8 385.0 L1130.2 387.1 L1135.5 387.9 L1138.1 391.2 L1143.4 394.2 L1147.1 397.5 L1148.6 399.6 L1155.0 400.8 L1154.4 403.7 L1150.2 405.8 L1153.4 407.0 L1148.6 408.7 L1140.7 409.1 L1132.8 409.5 L1127.5 410.8 L1119.6 412.0 L1115.9 411.6 L1122.3 408.3 L1129.1 407.0 L1123.3 405.4 L1118.6 404.5 L1123.9 402.0 L1121.2 400.4 L1124.9 398.3 L1130.2 398.3 L1130.2 395.4 L1128.1 393.3 L1120.7 392.1 L1119.1 389.6 L1120.7 387.5 L1116.5 386.3 L1117.0 382.9 L1113.3 380.9 L1115.4 378.8 L1119.6 376.3 M1113.3 393.3 L1115.9 393.3 L1114.4 396.2 L1113.8 399.6 L1112.3 402.9 L1106.5 403.7 L1097.5 405.4 L1092.2 404.5 L1094.3 401.6 L1097.5 398.7 L1093.3 397.5 L1094.3 394.6 L1101.2 394.2 L1102.2 391.2 L1107.5 390.0 L1113.3 393.3 M1211.4 462.6 L1216.1 461.0 L1228.2 460.6 L1226.1 464.7 L1225.6 467.2 L1221.4 465.9 L1211.4 462.6 M1190.3 449.8 L1194.5 448.5 L1197.7 451.4 L1196.6 456.8 L1192.9 457.6 L1190.3 457.2 L1190.8 452.7 L1190.3 449.8 M1191.3 443.5 L1195.6 441.1 L1196.6 445.2 L1194.5 447.7 L1191.9 446.4 L1191.3 443.5 M1269.9 471.8 L1275.2 472.6 L1284.7 473.0 L1280.4 474.2 L1275.2 473.8 L1269.9 473.0 L1269.9 471.8 M1316.3 474.2 L1320.0 473.0 L1328.4 471.3 L1325.3 474.2 L1320.0 475.9 L1316.3 474.2 M1204.0 387.9 L1212.4 387.1 L1210.8 390.4 L1205.0 390.4 L1204.0 387.9 M1197.7 389.2 L1202.9 390.0 L1201.4 391.2 L1197.7 390.4 L1197.7 389.2 M1242.0 379.2 L1246.2 379.6 L1243.5 382.5 L1242.0 379.2 M1158.7 455.2 L1163.9 454.3 L1162.9 456.4 L1158.7 455.2 M1405.9 669.3 L1409.6 675.5 L1412.2 683.8 L1408.6 689.2 L1407.0 694.2 L1403.3 702.5 L1399.1 712.9 L1394.8 722.4 L1385.9 725.3 L1378.0 723.2 L1375.9 717.0 L1374.3 710.0 L1379.6 702.5 L1378.0 692.1 L1380.6 686.7 L1388.5 685.1 L1396.4 680.9 L1401.7 675.5 L1405.9 669.3 M1567.3 578.8 L1572.0 580.1 L1575.2 584.2 L1577.3 589.2 L1574.6 593.8 L1568.8 594.6 L1566.7 591.3 L1566.7 585.5 L1567.3 578.8 M1427.5 566.8 L1433.3 567.2 L1429.6 568.5 L1427.5 566.8 M1449.2 702.5 L1450.7 704.2 M1437.6 706.6 L1439.7 707.9 M1509.8 822.0 L1517.7 822.9 L1515.1 825.3 L1509.8 822.0 M1718.6 539.8 L1723.3 536.5 L1729.1 536.1 L1731.2 538.2 L1728.6 541.9 L1723.3 544.0 L1719.1 542.7 L1718.6 539.8 M1783.9 515.3 L1788.7 515.8 L1786.6 522.0 L1783.4 528.2 L1779.7 524.9 L1779.2 521.1 L1783.9 515.3 M1884.1 447.3 L1890.4 446.0 L1893.6 442.7 L1901.5 445.2 L1907.8 441.1 L1913.1 439.8 L1911.5 435.7 L1902.6 436.1 L1894.1 430.7 L1892.5 435.7 L1891.5 440.2 L1885.7 439.8 L1884.1 443.1 L1884.1 447.3 M1891.5 447.7 L1894.1 453.5 L1894.7 457.6 L1889.4 460.6 L1889.4 465.9 L1887.3 470.1 L1888.9 471.3 L1883.1 474.2 L1878.8 475.5 L1872.5 475.9 L1867.8 477.2 L1863.0 480.5 L1858.3 479.2 L1859.9 475.9 L1852.5 475.9 L1844.6 477.2 L1836.7 478.4 L1836.7 475.9 L1847.2 472.2 L1857.8 471.3 L1863.0 470.5 L1867.2 465.9 L1869.9 464.3 L1876.2 462.2 L1881.5 459.7 L1883.6 454.3 L1884.1 451.0 L1888.3 448.5 L1891.5 447.7 M1841.9 479.2 L1847.2 477.2 L1855.6 477.6 L1856.2 479.2 L1849.8 480.9 L1846.2 483.4 L1841.9 479.2 M1830.3 480.5 L1836.1 478.8 L1841.9 481.7 L1839.3 486.7 L1836.7 490.9 L1832.4 490.0 L1832.4 484.6 L1829.3 482.6 L1830.3 480.5 M1894.7 394.2 L1899.9 397.5 L1901.0 403.7 L1901.5 412.0 L1907.3 416.1 L1901.0 415.3 L1897.3 420.3 L1899.9 425.7 L1897.3 428.6 L1894.1 426.5 L1895.2 421.1 L1894.1 417.0 L1895.7 409.9 L1893.1 403.7 L1893.6 398.3 L1894.7 394.2 M1914.7 438.1 L1918.9 436.5 M1922.6 434.4 L1927.9 432.8 M1933.1 430.3 L1936.8 428.6 M1781.8 542.7 L1788.7 543.6 L1790.8 549.0 L1789.2 553.1 L1786.6 556.0 L1788.2 560.6 L1792.9 560.6 L1799.8 564.3 L1797.1 566.4 L1791.8 563.5 L1787.1 562.2 L1781.8 560.2 L1781.8 557.2 L1778.7 554.8 L1780.2 551.0 L1781.8 542.7 M1797.6 583.4 L1802.4 584.2 L1807.7 579.7 L1813.5 589.2 L1810.3 593.4 L1807.1 596.3 L1800.8 593.4 L1799.8 588.8 L1790.3 590.5 L1794.0 586.7 L1797.6 583.4 M1801.3 567.6 L1808.2 568.5 L1808.7 573.9 L1804.5 577.2 L1801.3 571.8 L1801.3 567.6 M1788.7 570.5 L1794.5 571.8 L1791.8 575.9 L1788.7 575.5 L1788.7 570.5 M1794.0 574.3 L1797.1 575.1 L1795.5 581.3 L1791.3 579.2 L1794.0 574.3 M1780.8 563.5 L1785.5 563.9 L1786.6 568.0 L1782.9 568.5 L1780.8 563.5 M1763.9 584.6 L1775.5 575.9 L1776.6 572.6 L1773.4 576.8 L1766.0 583.8 L1763.9 584.6 M1720.7 612.0 L1723.8 611.2 L1731.2 612.0 L1733.9 608.3 L1741.8 606.2 L1747.0 600.4 L1754.4 597.9 L1758.6 593.8 L1762.8 590.5 L1766.5 592.9 L1774.4 597.5 L1769.2 600.4 L1767.1 605.0 L1768.1 610.0 L1772.9 615.4 L1767.6 616.2 L1765.5 621.6 L1761.3 625.7 L1759.7 629.9 L1757.6 634.4 L1749.7 636.1 L1741.8 633.2 L1734.9 632.0 L1727.0 631.5 L1725.9 627.0 L1722.8 622.8 L1720.7 618.3 L1720.7 612.0 M1648.4 596.3 L1660.0 597.9 L1664.3 602.1 L1670.6 605.8 L1675.9 610.4 L1680.1 612.4 L1686.4 615.4 L1691.7 619.5 L1693.3 623.6 L1696.9 627.8 L1702.7 632.0 L1704.9 636.9 L1703.8 643.6 L1697.5 644.0 L1691.7 639.8 L1685.3 636.1 L1679.5 630.7 L1675.3 624.5 L1671.1 619.1 L1666.9 612.9 L1661.6 609.5 L1656.4 605.0 L1649.0 599.6 L1648.4 596.3 M1700.6 647.7 L1704.9 644.0 L1712.8 644.4 L1717.0 645.6 L1723.3 647.7 L1728.6 648.1 L1733.9 646.9 L1740.2 648.1 L1749.1 651.5 L1749.7 655.6 L1741.8 653.9 L1731.2 653.5 L1720.7 651.5 L1712.8 651.0 L1707.0 650.2 L1700.6 647.7 M1750.2 653.1 L1755.5 654.4 L1753.4 656.0 L1750.2 654.4 L1750.2 653.1 M1757.6 653.9 L1761.3 654.4 L1760.2 656.4 L1757.6 655.6 L1757.6 653.9 M1762.3 654.8 L1769.7 653.9 L1773.9 655.6 L1765.5 656.9 L1762.3 654.8 M1778.1 654.8 L1786.6 654.8 L1794.5 653.9 L1790.8 656.0 L1778.7 656.0 L1778.1 654.8 M1773.4 658.9 L1782.9 660.2 L1779.7 661.8 L1773.4 660.2 L1773.4 658.9 M1797.1 662.2 L1802.4 658.9 L1807.7 656.0 L1816.6 654.4 L1807.7 658.1 L1799.8 661.4 L1797.1 662.2 M1775.0 642.7 L1776.6 636.1 L1773.9 633.6 L1772.9 629.9 L1776.0 623.6 L1777.6 617.4 L1780.2 615.8 L1786.6 615.4 L1794.5 615.8 L1801.9 615.4 L1806.1 612.9 L1802.4 617.4 L1795.5 617.8 L1786.6 617.4 L1781.8 618.7 L1780.8 622.8 L1785.0 623.6 L1793.4 622.8 L1796.1 623.6 L1790.8 626.6 L1786.0 629.9 L1790.3 632.8 L1793.4 639.0 L1789.2 639.4 L1785.0 638.2 L1782.9 634.0 L1780.8 642.3 L1775.0 642.7 M1818.7 610.8 L1821.4 613.3 L1824.5 614.5 L1820.3 617.0 L1824.0 618.3 L1820.3 620.7 L1822.4 622.8 L1818.2 621.6 L1818.7 610.8 M1820.8 632.8 L1828.8 631.1 L1835.6 633.6 L1828.8 634.4 L1820.8 634.0 L1820.8 632.8 M1810.3 632.8 L1816.6 633.2 L1813.5 635.3 L1810.3 634.4 L1810.3 632.8 M1836.7 624.9 L1843.5 621.2 L1853.0 622.8 L1857.8 633.2 L1870.9 625.7 L1884.1 629.5 L1897.3 633.2 L1907.8 635.3 L1915.7 640.2 L1924.2 644.8 L1925.2 648.5 L1920.5 650.2 L1927.3 653.1 L1933.1 657.3 L1941.1 662.2 L1935.8 663.1 L1926.3 661.0 L1918.4 656.0 L1910.5 651.9 L1904.1 651.9 L1902.6 654.8 L1897.3 658.1 L1889.4 657.3 L1878.8 653.1 L1873.6 654.4 L1872.0 650.2 L1877.8 647.7 L1873.6 642.7 L1868.3 639.8 L1857.8 637.8 L1849.8 635.3 L1846.2 636.1 L1841.9 631.5 L1849.8 629.9 L1841.9 628.2 L1836.7 624.9 M1928.4 642.3 L1936.8 640.2 L1944.7 637.3 L1949.0 637.8 L1946.3 640.2 L1939.5 645.2 L1931.6 644.8 L1928.4 642.3 M1939.5 630.3 L1947.4 633.2 L1953.2 638.2 L1950.0 636.1 L1943.2 632.0 L1939.5 630.3 M1961.1 640.2 L1965.8 644.4 L1968.5 647.7 L1964.8 646.5 L1961.1 640.2 M1976.4 653.5 L1984.3 653.9 L1988.5 656.9 L1981.6 656.0 M1987.4 658.1 L1993.8 660.2 L1989.6 660.6 M1992.7 654.8 L1997.5 658.9 M2024.4 680.1 L2027.5 683.8 L2029.1 688.0 L2033.3 693.0 M2010.6 703.3 L2018.6 706.6 L2026.5 711.6 L2022.8 711.6 L2013.3 706.6 L2010.6 703.3 M2080.8 692.1 L2087.1 692.1 L2086.0 695.0 L2080.8 693.8 L2080.8 692.1 M2088.7 687.6 L2095.0 686.3 M1744.4 710.8 L1747.6 710.0 L1749.7 712.9 L1754.9 708.7 L1761.8 705.0 L1770.8 703.7 L1778.7 701.7 L1786.6 698.4 L1790.8 692.1 L1794.5 688.0 L1799.2 689.2 L1802.4 683.8 L1807.7 679.7 L1812.9 677.2 L1819.3 678.8 L1822.4 681.8 L1828.8 680.9 L1830.3 675.5 L1834.6 671.0 L1839.3 670.1 L1845.1 669.3 L1846.2 666.4 L1852.5 668.9 L1860.4 670.1 L1867.2 668.9 L1865.7 673.0 L1862.0 675.1 L1860.4 680.9 L1865.7 683.8 L1872.5 687.6 L1879.9 691.7 L1888.3 692.1 L1892.0 685.9 L1892.5 677.6 L1892.5 671.4 L1894.7 665.1 L1897.3 663.9 L1899.9 669.3 L1902.6 675.5 L1907.8 678.8 L1912.1 681.8 L1913.1 688.0 L1916.8 696.3 L1923.7 700.4 L1930.5 704.6 L1934.2 711.6 L1940.0 713.3 L1942.1 718.3 L1950.0 723.2 L1953.7 729.5 L1955.8 737.8 L1952.7 746.1 L1951.1 752.3 L1944.7 758.5 L1941.1 763.9 L1936.8 771.0 L1936.3 775.1 L1927.9 776.4 L1921.0 778.4 L1916.8 781.4 L1913.1 779.3 L1907.8 778.0 L1902.6 780.5 L1894.7 778.9 L1886.7 777.2 L1882.5 773.0 L1881.5 768.1 L1876.2 767.2 L1874.1 762.3 L1872.0 765.6 L1867.2 766.0 L1870.9 760.6 L1872.5 756.5 L1869.9 759.4 L1863.0 763.9 L1858.8 763.1 L1853.5 756.5 L1844.6 752.3 L1836.7 750.2 L1826.1 751.1 L1815.6 753.5 L1805.0 755.6 L1797.1 760.2 L1789.2 760.6 L1778.7 760.6 L1770.8 763.9 L1762.8 765.2 L1754.9 762.3 L1752.3 758.9 L1756.0 757.7 L1756.0 750.2 L1752.3 744.0 L1751.8 737.8 L1748.1 731.5 L1744.4 727.4 L1746.0 721.2 L1744.4 715.0 L1744.4 710.8 M1908.9 788.4 L1915.7 790.1 L1923.7 789.2 L1927.9 789.6 L1926.3 795.9 L1921.0 800.0 L1915.7 800.0 L1911.5 795.9 L1908.9 788.4 M2056.5 762.7 L2060.7 764.8 L2066.0 768.9 L2068.6 772.2 L2072.9 773.0 L2076.5 776.0 L2084.5 775.5 L2086.6 779.7 L2079.2 782.2 L2078.1 785.5 L2072.9 790.9 L2069.7 792.1 L2067.1 790.5 L2068.6 787.6 L2066.5 784.7 L2062.3 782.6 L2066.5 779.7 L2067.1 774.7 L2064.4 771.0 L2059.1 766.0 L2056.5 762.7 M2056.5 787.6 L2063.4 789.6 L2064.9 792.6 L2060.7 795.9 L2057.0 800.0 L2049.1 803.3 L2046.0 809.6 L2040.2 812.9 L2033.3 812.9 L2023.8 810.4 L2024.9 807.5 L2031.7 802.1 L2044.9 798.0 L2050.2 793.0 L2053.3 789.2 L2056.5 787.6 M660.4 425.7 L668.9 426.1 L679.4 424.4 L684.7 426.5 L697.9 426.1 L700.0 426.5 L698.9 422.4 L695.2 420.7 L690.0 417.4 L680.5 417.0 L674.1 420.3 L667.3 423.2 L660.4 425.7 M683.1 446.4 L687.3 446.4 L691.0 443.1 L691.5 437.7 L695.2 431.9 L698.9 429.4 L695.2 429.0 L689.4 429.4 L687.3 432.8 L684.2 434.8 L682.6 441.1 L683.1 446.4 M699.4 429.0 L705.8 429.0 L713.7 428.6 L721.1 429.0 L724.2 432.8 L717.9 433.6 L715.3 436.9 L711.0 441.1 L710.0 438.6 L705.8 436.9 L706.8 433.6 L699.4 429.0 M705.8 446.4 L711.0 447.7 L719.0 446.0 L729.5 442.3 L725.3 441.5 L716.3 442.7 L708.4 444.8 L705.8 446.4 M725.3 439.8 L732.1 439.8 L740.0 439.8 L744.3 438.6 L742.7 436.1 L737.4 436.9 L727.9 438.1 L725.3 439.8 M634.6 409.9 L638.3 405.8 L630.4 397.1 L624.0 396.6 L626.7 401.6 L632.0 405.8 L634.6 409.9 M529.1 366.4 L545.0 363.9 L555.5 361.0 L568.7 358.9 L560.8 362.2 L550.2 365.5 L537.1 366.8 L529.1 366.4 M487.0 349.8 L497.5 344.4 L508.1 341.4 L518.6 342.7 L521.2 346.4 L508.1 347.7 L497.5 350.2 L487.0 349.8 M558.1 374.6 L574.0 372.6 L584.5 373.4 L571.3 375.1 L558.1 374.6 M1392.2 434.8 L1396.4 430.3 L1401.7 427.8 L1407.0 426.5 L1415.9 424.0 L1425.4 424.9 L1426.5 430.3 L1416.5 434.4 L1411.2 434.8 L1414.9 440.6 L1423.8 443.1 L1422.8 446.0 L1425.4 450.6 L1424.4 454.3 L1428.1 456.4 L1430.2 461.8 L1430.2 464.7 L1422.8 467.2 L1414.9 466.8 L1407.0 463.9 L1403.8 460.1 L1405.4 455.6 L1407.0 452.7 L1411.2 451.8 L1407.0 450.2 L1402.2 446.0 L1396.4 441.1 L1395.9 437.3 L1392.2 434.8 M1453.4 427.4 L1459.7 427.8 L1468.7 431.1 L1467.6 436.9 L1459.7 439.0 L1454.4 436.9 L1453.4 432.8 L1453.4 427.4 M1694.3 404.9 L1702.2 403.7 L1712.8 398.7 L1720.7 393.3 L1724.9 388.3 L1720.7 389.2 L1715.4 395.4 L1707.5 400.4 L1696.9 404.1 L1694.3 404.9 M1533.5 428.6 L1541.4 426.5 L1552.0 426.9 L1562.5 427.4 L1554.6 429.8 L1541.4 429.4 L1533.5 428.6 M1304.2 370.5 L1312.1 369.3 L1318.9 366.8 L1314.7 364.3 L1306.8 365.1 L1303.1 367.6 L1304.2 370.5 M1327.9 366.4 L1333.2 365.1 L1337.9 360.1 L1330.5 358.9 L1326.8 361.4 L1327.9 366.4 M1313.7 623.6 L1317.3 618.7 L1322.6 618.3 L1325.3 621.2 L1327.9 622.8 L1322.6 629.9 L1317.3 629.9 L1313.7 625.7 L1313.7 623.6 M1299.9 633.2 L1301.5 638.2 L1302.6 644.4 L1306.8 648.5 L1309.4 655.2 L1306.8 653.9 L1302.1 646.5 L1299.9 640.2 L1299.9 633.2 M1326.8 659.3 L1328.4 665.1 L1328.9 671.4 L1331.6 678.8 L1328.4 675.9 L1326.8 669.3 L1325.3 663.1 L1326.8 659.3 M778.0 683.0 L783.3 685.1 L781.2 687.6 L777.5 685.1 L778.0 683.0 M1217.2 562.2 L1222.4 563.1 L1223.0 566.0 L1218.8 565.5 L1217.2 562.2 M513.3 925.6 L502.8 924.5 L493.3 924.5 L485.4 928.3 L477.5 935.3 L458.5 935.3 L450.6 930.3 L420.0 930.3 L404.7 933.2 L401.0 935.3 L393.1 933.2 L374.1 935.3 L374.1 941.1 L358.3 942.0 L345.1 943.6 L335.7 943.6 L326.2 940.7 L308.8 939.5 L331.4 950.7 L379.4 955.2 L362.5 957.3 L331.4 959.4 L341.5 967.7 L360.4 970.6 L374.1 974.7 L277.7 974.7 L257.6 971.0 L197.0 970.6 M312.5 944.4 L331.4 944.4 L331.4 947.4 L312.5 947.4 L312.5 944.4 M280.8 945.7 L291.9 946.5 L301.9 951.5 L289.3 952.7 L280.8 948.6 L280.8 945.7 M513.3 925.8 L531.8 926.2 L531.8 932.8 L548.1 932.8 L553.9 926.2 L562.4 929.1 L569.2 932.0 L575.0 929.1 L597.7 930.8 L621.4 930.8 L626.7 924.5 L636.7 918.3 L644.6 921.6 L694.7 921.6 L694.7 924.1 L721.6 924.1 L736.9 920.0 L747.9 920.0 L752.2 926.2 L787.0 924.1 L790.7 917.5 L784.9 911.7 L790.1 905.0 L792.8 897.5 L800.7 891.3 L813.9 886.8 L827.0 883.0 L842.8 882.2 L840.2 885.1 L829.7 888.4 L821.8 893.4 L816.0 899.6 L816.0 905.9 L821.8 912.1 L825.4 917.5 L829.7 925.4 L825.4 929.1 L813.9 934.1 L802.3 937.8 L789.1 939.5 L808.6 939.5 L829.7 939.0 L854.4 943.6 L879.8 945.7 L903.5 948.6 L934.6 948.6 L956.7 945.7 L964.1 941.1 L991.0 939.0 L1020.0 931.2 L1049.0 923.7 L1083.3 921.6 L1085.4 915.8 L1099.1 915.0 L1106.5 912.9 L1129.7 912.9 L1133.3 911.2 L1146.0 917.9 L1163.4 912.9 L1182.4 910.8 L1246.2 910.8 L1246.7 912.9 L1276.8 912.9 L1278.9 910.8 L1307.3 910.8 L1309.4 908.3 L1322.1 907.5 L1323.7 903.4 L1332.6 908.3 L1350.0 909.2 L1355.8 906.3 L1371.1 902.5 L1390.1 899.6 L1398.0 902.5 L1409.6 899.6 L1413.3 895.9 L1421.2 893.0 L1438.1 893.0 L1443.9 896.7 L1462.3 899.6 L1492.9 902.1 L1513.5 902.1 L1518.2 912.5 L1524.0 913.3 L1521.9 908.8 L1541.4 908.8 L1547.2 904.2 L1574.1 902.1 L1589.4 898.4 L1627.9 897.1 L1630.0 894.2 L1635.8 897.1 L1643.7 895.5 L1654.8 897.1 L1664.8 895.5 L1670.6 898.4 L1688.0 893.4 L1697.5 894.2 L1712.8 895.5 L1741.8 892.6 L1753.4 895.5 L1762.8 898.4 L1778.7 898.0 L1790.3 895.9 L1801.9 897.5 L1813.5 895.9 L1826.6 897.5 L1834.6 895.9 L1876.7 895.9 L1878.8 897.5 L1907.3 897.5 L1921.0 903.4 L1959.5 903.4 L1965.3 908.3 L1971.1 906.3 L1995.9 909.2 L1999.6 915.0 L2003.8 911.2 L2022.8 912.9 L2043.9 915.8 L2048.1 917.9 L2038.1 921.6 L2024.9 926.6 L2009.6 931.2 L2003.8 935.3 L2013.3 944.9 L2017.0 944.9 L1992.2 947.8 L1990.1 951.5 L1993.8 959.4 L2017.0 963.1 L2028.6 966.9 L2095.0 968.9 M2024.9 941.5 L2042.3 941.5 M742.7 910.8 L753.2 909.2 L758.5 912.1 L755.9 917.5 L747.9 916.2 L742.7 910.8 M607.7 918.3 L623.0 917.5 L621.4 921.6 L610.9 921.6 L607.7 918.3 M829.7 878.9 L842.8 880.1 L856.0 881.8 M899.8 871.0 L910.3 871.0 M944.1 844.0 L953.6 844.8 L956.7 847.8 M211.2 801.7 L218.1 801.7 M584.7 288.3 L600.0 288.3 L620.0 290.9 M536.2 294.7 L549.8 293.0 L572.8 292.6 L568.5 295.6 L550.7 295.6 L536.2 295.6 M514.0 297.3 L531.0 297.3 L565.1 298.1 L586.4 298.1 M489.3 301.5 L501.3 299.8 L514.0 299.8 L531.0 300.7 L548.1 301.5 L556.6 304.1 L565.1 305.8 L577.9 302.4 L587.2 304.1 L584.7 307.5 L565.1 307.5 L548.1 309.2 L533.6 306.6 L514.0 305.8 L505.5 304.1 L492.8 303.2 L489.3 301.5 M587.2 297.3 L593.2 298.1 L596.6 303.2 L607.7 305.8 L620.0 307.5 M489.3 309.6 L528.5 309.6 L539.6 312.6 L552.3 314.3 L565.1 314.3 L577.9 315.1 L586.4 312.6 L595.7 314.3 M491.1 310.9 L491.1 314.3 L485.1 318.9 L492.8 323.2 L505.5 323.6 L515.8 318.5 L527.7 314.3 M589.8 316.0 L593.2 321.9 L599.2 325.3 L610.2 326.2 L614.5 328.7 L607.7 332.1 L599.2 334.7 L620.0 338.1 M480.0 329.6 L488.5 327.9 L497.0 327.9 L509.8 329.6 L516.6 332.1 L531.0 333.0 L535.3 336.4 L573.6 335.5 L582.1 333.0 L590.6 333.0 L599.2 334.7 M525.1 325.3 L552.3 325.8 L539.6 329.6 L529.4 328.7 L525.1 325.3 M603.4 316.0 L611.9 312.6 L620.0 312.6 M607.7 318.5 L620.0 321.1 M705.0 274.9 L757.5 274.5 L760.0 272.0 M667.1 278.8 L687.5 277.9 L705.0 275.4 M644.7 283.2 L652.5 280.8 L668.1 280.8 L687.5 284.2 L737.1 283.7 M620.4 285.6 L629.2 286.1 L637.0 292.9 L648.6 295.8 L660.3 294.9 L677.8 294.4 L682.7 287.1 L697.3 290.0 L687.5 295.8 L677.8 299.7 L687.5 301.7 L721.6 302.6 L726.4 300.7 L736.2 296.8 L745.9 293.9 L751.7 290.0 L760.0 287.6 M600.0 290.0 L619.5 290.5 L621.4 293.9 L600.0 294.9 M600.0 300.7 L609.7 301.7 L611.7 305.6 L619.5 307.5 L629.2 305.6 L639.9 305.6 L650.6 306.5 L660.3 309.5 L677.8 310.4 L702.1 310.4 L716.7 313.4 L726.4 314.4 L741.0 314.4 L755.6 317.3 L760.0 321.2 M602.0 316.3 L609.7 313.4 L629.2 312.4 L634.1 314.4 L638.9 320.2 L629.2 321.2 L617.5 320.2 L605.9 317.3 L602.0 316.3 M640.9 311.4 L648.6 309.5 L660.3 312.4 L677.8 314.4 L672.0 317.3 L673.9 323.1 L687.5 327.0 L707.0 328.9 L716.7 327.0 L731.3 328.0 L743.9 330.9 L751.7 335.7 L760.0 334.8 M650.6 317.3 L660.3 323.1 L661.3 328.0 L672.0 334.8 L677.8 330.9 L682.7 335.7 L692.4 338.6 L702.1 340.6 L716.7 338.6 M600.0 326.0 L614.6 327.0 L614.6 329.9 L600.0 331.8 M619.5 331.8 L629.2 328.9 L634.1 332.8 L638.9 337.7 L648.6 330.9 M600.0 335.7 L619.5 338.6 M230.7 676.4 L242.9 677.2 M356.2 691.7 L358.9 693.0 M993.3 458.7 L997.3 458.7 M1008.4 463.0 L1012.6 463.0" stroke="#1510a6" stroke-width="2" shape-rendering="crispEdges"/></g>
<circle cx="367.3" cy="348.1" r="14.5" fill="#0055ff" shape-rendering="crispEdges"/>
<circle cx="540.5" cy="358.5" r="14.5" fill="#0000ff" shape-rendering="crispEdges"/>
<circle cx="639.9" cy="409.5" r="14.5" fill="#0000ff" shape-rendering="crispEdges"/>
<circle cx="574.0" cy="476.7" r="14.5" fill="#0055ff" shape-rendering="crispEdges"/>
<circle cx="669.7" cy="622.5" r="14.5" fill="#00aaff" shape-rendering="crispEdges"/>
<circle cx="221.0" cy="707.1" r="14.5" fill="#ff5500" shape-rendering="crispEdges"/>
<circle cx="1029.0" cy="352.2" r="14.5" fill="#0055ff" shape-rendering="crispEdges"/>
<circle cx="1064.3" cy="352.2" r="14.5" fill="#0000ff" shape-rendering="crispEdges"/>
<circle cx="867.1" cy="421.1" r="14.5" fill="#0000ff" shape-rendering="crispEdges"/>
<circle cx="794.3" cy="427.4" r="14.5" fill="#0055ff" shape-rendering="crispEdges"/>
<circle cx="740.6" cy="456.0" r="14.5" fill="#0055ff" shape-rendering="crispEdges"/>
<circle cx="1122.3" cy="419.1" r="14.5" fill="#ff5500" shape-rendering="crispEdges"/>
<circle cx="1124.4" cy="451.8" r="14.5" fill="#0000ff" shape-rendering="crispEdges"/>
<circle cx="1062.7" cy="502.9" r="14.5" fill="#0055ff" shape-rendering="crispEdges"/>
<circle cx="753.7" cy="600.0" r="14.5" fill="#00ffff" shape-rendering="crispEdges"/>
<circle cx="867.1" cy="597.9" r="14.5" fill="#00aaff" shape-rendering="crispEdges"/>
<circle cx="769.6" cy="686.7" r="14.5" fill="#0055ff" shape-rendering="crispEdges"/>
<circle cx="907.2" cy="713.7" r="14.5" fill="#ff5500" shape-rendering="crispEdges"/>
<circle cx="778.5" cy="768.9" r="14.5" fill="#00aaff" shape-rendering="crispEdges"/>
<circle cx="787.5" cy="842.4" r="14.5" fill="#0055ff" shape-rendering="crispEdges"/>
<circle cx="807.0" cy="888.4" r="14.5" fill="#0000ff" shape-rendering="crispEdges"/>
<circle cx="1208.7" cy="290.0" r="14.5" fill="#0000ff" shape-rendering="crispEdges"/>
<circle cx="1256.2" cy="336.5" r="14.5" fill="#0000ff" shape-rendering="crispEdges"/>
<circle cx="1168.7" cy="405.8" r="14.5" fill="#0000ff" shape-rendering="crispEdges"/>
<circle cx="1224.6" cy="412.4" r="14.5" fill="#0000ff" shape-rendering="crispEdges"/>
<circle cx="1208.7" cy="429.8" r="14.5" fill="#0000ff" shape-rendering="crispEdges"/>
<circle cx="1233.5" cy="449.8" r="14.5" fill="#0055ff" shape-rendering="crispEdges"/>
<circle cx="1271.0" cy="461.8" r="14.5" fill="#0055ff" shape-rendering="crispEdges"/>
<circle cx="1322.1" cy="474.2" r="14.5" fill="#0055ff" shape-rendering="crispEdges"/>
<circle cx="1511.4" cy="447.7" r="14.5" fill="#0000ff" shape-rendering="crispEdges"/>
<circle cx="1195.6" cy="618.3" r="14.5" fill="#00ff99" shape-rendering="crispEdges"/>
<circle cx="1440.2" cy="638.2" r="14.5" fill="#ffaa00" shape-rendering="crispEdges"/>
<circle cx="1528.2" cy="648.5" r="14.5" fill="#00ffff" shape-rendering="crispEdges"/>
<circle cx="1236.2" cy="713.7" r="14.5" fill="#00aaff" shape-rendering="crispEdges"/>
<circle cx="1291.5" cy="727.0" r="14.5" fill="#0055ff" shape-rendering="crispEdges"/>
<circle cx="1517.7" cy="824.5" r="14.5" fill="#00ff99" shape-rendering="crispEdges"/>
<circle cx="1478.2" cy="899.6" r="14.5" fill="#ff5500" shape-rendering="crispEdges"/>
<circle cx="1557.2" cy="903.8" r="14.5" fill="#0055ff" shape-rendering="crispEdges"/>
<circle cx="1895.7" cy="438.6" r="14.5" fill="#0000ff" shape-rendering="crispEdges"/>
<circle cx="1817.2" cy="467.2" r="14.5" fill="#0000ff" shape-rendering="crispEdges"/>
<circle cx="1837.7" cy="491.3" r="14.5" fill="#00aaff" shape-rendering="crispEdges"/>
<circle cx="1896.8" cy="507.9" r="14.5" fill="#0055ff" shape-rendering="crispEdges"/>
<circle cx="1704.3" cy="662.7" r="14.5" fill="#00ffff" shape-rendering="crispEdges"/>
<circle cx="1764.4" cy="707.1" r="14.5" fill="#00aaff" shape-rendering="crispEdges"/>
<circle cx="1759.7" cy="749.4" r="14.5" fill="#0055ff" shape-rendering="crispEdges"/>
<circle cx="1933.1" cy="766.8" r="14.5" fill="#0055ff" shape-rendering="crispEdges"/>
<circle cx="2046.0" cy="810.8" r="14.5" fill="#0055ff" shape-rendering="crispEdges"/>
<circle cx="1729.1" cy="894.6" r="14.5" fill="#0000ff" shape-rendering="crispEdges"/>
<rect x="197.0" y="246.0" width="1898.0" height="747.0" fill="none" stroke="#1e1e1e" stroke-width="2" shape-rendering="crispEdges"/>
<path d="M197.0 993.0V974.0 M197.0 246.0V265.0 M355.2 993.0V974.0 M355.2 246.0V265.0 M513.3 993.0V974.0 M513.3 246.0V265.0 M671.5 993.0V974.0 M671.5 246.0V265.0 M829.7 993.0V974.0 M829.7 246.0V265.0 M987.8 993.0V974.0 M987.8 246.0V265.0 M1146.0 993.0V974.0 M1146.0 246.0V265.0 M1304.2 993.0V974.0 M1304.2 246.0V265.0 M1462.3 993.0V974.0 M1462.3 246.0V265.0 M1620.5 993.0V974.0 M1620.5 246.0V265.0 M1778.7 993.0V974.0 M1778.7 246.0V265.0 M1936.8 993.0V974.0 M1936.8 246.0V265.0 M2095.0 993.0V974.0 M2095.0 246.0V265.0 M197.0 993.0H216.0 M2095.0 993.0H2076.0 M197.0 868.5H216.0 M2095.0 868.5H2076.0 M197.0 744.0H216.0 M2095.0 744.0H2076.0 M197.0 619.5H216.0 M2095.0 619.5H2076.0 M197.0 495.0H216.0 M2095.0 495.0H2076.0 M197.0 370.5H216.0 M2095.0 370.5H2076.0 M197.0 246.0H216.0 M2095.0 246.0H2076.0" stroke="#1e1e1e" stroke-width="2" shape-rendering="crispEdges"/>
<text x="195.5" y="1055.9" font-size="44" fill="#262626" text-anchor="middle">-180</text>
<text x="353.7" y="1055.9" font-size="44" fill="#262626" text-anchor="middle">-150</text>
<text x="511.8" y="1055.9" font-size="44" fill="#262626" text-anchor="middle">-120</text>
<text x="670.0" y="1055.9" font-size="44" fill="#262626" text-anchor="middle">-90</text>
<text x="828.2" y="1055.9" font-size="44" fill="#262626" text-anchor="middle">-60</text>
<text x="986.3" y="1055.9" font-size="44" fill="#262626" text-anchor="middle">-30</text>
<text x="1144.5" y="1055.9" font-size="44" fill="#262626" text-anchor="middle">0</text>
<text x="1302.7" y="1055.9" font-size="44" fill="#262626" text-anchor="middle">30</text>
<text x="1460.8" y="1055.9" font-size="44" fill="#262626" text-anchor="middle">60</text>
<text x="1619.0" y="1055.9" font-size="44" fill="#262626" text-anchor="middle">90</text>
<text x="1777.2" y="1055.9" font-size="44" fill="#262626" text-anchor="middle">120</text>
<text x="1935.3" y="1055.9" font-size="44" fill="#262626" text-anchor="middle">150</text>
<text x="2093.5" y="1055.9" font-size="44" fill="#262626" text-anchor="middle">180</text>
<text x="177.6" y="1009.4" font-size="44" fill="#262626" text-anchor="end">-90</text>
<text x="177.6" y="884.9" font-size="44" fill="#262626" text-anchor="end">-60</text>
<text x="177.6" y="760.4" font-size="44" fill="#262626" text-anchor="end">-30</text>
<text x="177.6" y="635.9" font-size="44" fill="#262626" text-anchor="end">0</text>
<text x="177.6" y="511.4" font-size="44" fill="#262626" text-anchor="end">30</text>
<text x="177.6" y="386.9" font-size="44" fill="#262626" text-anchor="end">60</text>
<text x="177.6" y="262.4" font-size="44" fill="#262626" text-anchor="end">90</text>
<text x="1146.0" y="1120.0" font-size="50.6" fill="#262626" text-anchor="middle">Longitude [deg]</text>
<text transform="translate(74.4 619.5) rotate(-90)" x="0" y="0" font-size="50.6" fill="#262626" text-anchor="middle">Latitude [deg]</text>
<text x="1146.0" y="224.7" font-size="51" fill="#000" text-anchor="middle" xml:space="preserve">East [mm]        Global Network RMS = 9.3 mm</text>
<rect x="2179.4" y="920.64" width="71.6" height="75.56" fill="#0000aa" shape-rendering="crispEdges"/>
<rect x="2179.4" y="845.68" width="71.6" height="75.56" fill="#0000ff" shape-rendering="crispEdges"/>
<rect x="2179.4" y="770.72" width="71.6" height="75.56" fill="#0055ff" shape-rendering="crispEdges"/>
<rect x="2179.4" y="695.76" width="71.6" height="75.56" fill="#00aaff" shape-rendering="crispEdges"/>
<rect x="2179.4" y="620.80" width="71.6" height="75.56" fill="#00ffff" shape-rendering="crispEdges"/>
<rect x="2179.4" y="545.84" width="71.6" height="75.56" fill="#00ff99" shape-rendering="crispEdges"/>
<rect x="2179.4" y="470.88" width="71.6" height="75.56" fill="#77ff33" shape-rendering="crispEdges"/>
<rect x="2179.4" y="395.92" width="71.6" height="75.56" fill="#ffff00" shape-rendering="crispEdges"/>
<rect x="2179.4" y="320.96" width="71.6" height="75.56" fill="#ffaa00" shape-rendering="crispEdges"/>
<rect x="2179.4" y="246.00" width="71.6" height="75.56" fill="#ff5500" shape-rendering="crispEdges"/>
<rect x="2179.4" y="246.0" width="71.6" height="749.6" fill="none" stroke="#1e1e1e" stroke-width="1.5" shape-rendering="crispEdges"/>
<text x="2269.0" y="1009.1" font-size="41.5" fill="#262626">0</text>
<text x="2269.0" y="821.7" font-size="41.5" fill="#262626">5</text>
<text x="2269.0" y="634.3" font-size="41.5" fill="#262626">10</text>
<text x="2269.0" y="446.9" font-size="41.5" fill="#262626">15</text>
<text x="2269.0" y="259.5" font-size="41.5" fill="#262626">20</text>
<path d="M2251.0 995.6H2243.0 M2251.0 808.2H2243.0 M2251.0 620.8H2243.0 M2251.0 433.4H2243.0 M2251.0 246.0H2243.0" stroke="#1e1e1e" stroke-width="1.5" shape-rendering="crispEdges"/>
<clipPath id="clip1"><rect x="197.0" y="1288.0" width="1898.0" height="747.0"/></clipPath>
<g clip-path="url(#clip1)" fill="none"><path d="M260.3 1389.3 L270.8 1386.8 L279.8 1385.1 L291.9 1387.6 L294.0 1385.1 L282.4 1382.6 L273.4 1379.3 L266.6 1377.8 L269.8 1375.6 L284.0 1373.1 L292.4 1369.8 L307.7 1367.7 L320.9 1365.2 L334.1 1367.3 L344.6 1367.7 L363.1 1369.8 L381.5 1370.6 L402.6 1372.5 L415.8 1373.9 L426.3 1375.6 L436.9 1373.1 L450.1 1372.7 L463.2 1371.0 L471.2 1368.5 L481.7 1373.1 L489.6 1373.5 L502.8 1371.8 L513.3 1373.9 L526.5 1375.6 L539.7 1379.3 L547.6 1380.1 L566.1 1379.3 L576.6 1378.1 L584.5 1378.5 L597.7 1379.3 L613.5 1380.1 L626.7 1381.0 L632.0 1378.1 L639.9 1378.5 L642.5 1373.9 L649.4 1371.8 L647.8 1364.8 L658.3 1362.7 L663.6 1367.7 L674.1 1373.9 L682.0 1376.8 L688.4 1379.3 L693.6 1373.1 L702.1 1371.8 L712.6 1374.3 L716.3 1377.2 L716.3 1382.2 L708.4 1386.4 L695.2 1385.5 L688.4 1385.5 L682.0 1393.8 L671.5 1395.9 L667.8 1398.8 L658.3 1403.4 L650.4 1408.3 L647.2 1414.6 L649.4 1417.5 L655.7 1422.9 L658.3 1425.0 L668.9 1424.1 L682.0 1427.9 L697.9 1432.0 L712.1 1432.8 L712.1 1439.5 L716.3 1444.5 L721.6 1448.6 L729.5 1447.4 L730.5 1443.6 L729.5 1437.4 L737.4 1431.2 L742.1 1427.0 L741.1 1420.8 L737.4 1416.7 L737.9 1409.2 L734.2 1403.0 L747.9 1403.0 L758.5 1403.0 L769.0 1407.5 L776.9 1408.3 L779.6 1414.6 L787.5 1418.7 L792.8 1418.7 L798.0 1416.7 L803.3 1413.3 L805.9 1411.3 L811.2 1416.7 L819.1 1422.9 L821.8 1427.0 L829.7 1431.2 L840.2 1434.9 L842.8 1437.4 L850.8 1441.5 L851.8 1445.7 L844.4 1448.2 L836.0 1449.0 L829.7 1452.8 L819.1 1453.2 L808.6 1453.2 L798.0 1453.6 L790.1 1456.9 L783.3 1460.2 L774.3 1465.6 L770.6 1467.3 L774.3 1466.5 L782.2 1462.3 L792.8 1458.2 L803.3 1457.3 L807.5 1459.0 L805.4 1461.5 L798.0 1462.3 L803.3 1464.0 L804.4 1466.5 L805.9 1469.4 L811.2 1471.4 L819.1 1471.8 L823.3 1472.3 L825.4 1467.3 L828.6 1467.3 L830.7 1470.6 L824.4 1473.5 L813.9 1476.4 L805.9 1478.9 L799.1 1480.6 L797.5 1477.7 L804.4 1473.9 L807.5 1473.1 L800.7 1472.3 L793.8 1474.3 L790.1 1476.8 L783.3 1477.7 L775.9 1480.1 L773.3 1483.9 L772.2 1486.4 L776.9 1487.6 L776.9 1488.9 L771.7 1489.3 L763.8 1490.5 L756.9 1492.2 L755.9 1493.4 L755.3 1496.3 L751.6 1500.1 L749.0 1498.0 L750.1 1501.3 L747.9 1504.6 L745.3 1507.1 L743.7 1503.8 L742.7 1499.7 L744.3 1508.0 L745.8 1510.9 L747.9 1515.0 L742.7 1517.5 L737.4 1519.2 L732.1 1521.2 L728.4 1523.7 L721.6 1527.5 L717.9 1530.8 L716.8 1536.2 L717.9 1539.9 L721.1 1544.5 L723.2 1549.5 L723.7 1554.4 L721.6 1556.9 L718.4 1556.9 L714.7 1552.8 L712.6 1550.3 L710.0 1545.7 L709.5 1541.2 L705.8 1537.8 L701.6 1537.0 L696.3 1538.2 L692.6 1535.8 L684.7 1535.8 L679.4 1535.3 L674.1 1536.2 L675.2 1540.3 L670.4 1540.7 L663.6 1539.1 L658.3 1538.7 L651.5 1538.2 L646.2 1539.9 L642.5 1542.0 L637.2 1544.5 L633.0 1547.4 L632.5 1553.6 L631.4 1559.8 L630.4 1568.1 L632.0 1573.1 L637.2 1580.2 L642.5 1583.5 L647.8 1586.0 L655.7 1585.1 L662.0 1584.3 L667.8 1580.6 L669.4 1575.2 L674.1 1573.1 L682.0 1572.3 L687.8 1573.1 L685.2 1578.5 L683.6 1583.5 L681.0 1587.6 L680.5 1593.0 L677.3 1595.5 L682.0 1595.9 L690.0 1595.5 L697.9 1595.1 L703.1 1596.8 L707.4 1599.2 L705.8 1605.5 L705.2 1611.7 L704.2 1615.8 L707.4 1620.0 L712.6 1623.3 L717.9 1625.0 L724.2 1622.9 L729.5 1622.1 L735.8 1624.6 L738.5 1625.8 L741.1 1627.5 L745.3 1622.9 L747.9 1618.3 L751.6 1615.8 L758.5 1614.6 L763.8 1612.5 L768.5 1610.0 L770.6 1612.5 L766.9 1615.0 L768.5 1616.3 L771.7 1614.2 L775.9 1613.4 L776.4 1611.3 L779.6 1613.8 L785.9 1616.7 L795.4 1617.5 L803.3 1619.6 L808.6 1617.1 L816.5 1617.1 L820.2 1617.5 L817.5 1620.0 L824.4 1625.4 L829.7 1627.1 L834.9 1630.4 L838.6 1633.3 L844.4 1636.6 L853.4 1637.0 L861.3 1637.4 L866.6 1638.7 L871.8 1642.0 L876.1 1644.9 L877.1 1649.0 L879.8 1654.0 L882.4 1657.3 L880.8 1661.5 L887.7 1662.3 L891.4 1664.8 L895.6 1664.0 L903.5 1665.7 L910.9 1670.6 L912.4 1672.7 L916.7 1671.5 L924.6 1673.1 L932.5 1673.1 L940.4 1675.6 L945.7 1679.3 L950.9 1682.2 L958.8 1683.1 L961.5 1688.5 L962.5 1693.9 L960.4 1698.8 L956.2 1703.8 L950.9 1708.0 L946.2 1713.4 L941.4 1716.3 L940.4 1723.8 L939.9 1731.2 L937.2 1737.4 L935.1 1742.8 L930.9 1750.7 L927.2 1754.0 L924.6 1757.0 L916.7 1757.0 L910.9 1758.2 L906.1 1760.3 L900.8 1761.5 L893.5 1765.2 L889.8 1769.4 L889.8 1776.9 L887.7 1780.6 L882.4 1785.2 L878.2 1790.2 L872.9 1794.3 L868.7 1799.7 L863.9 1803.4 L858.7 1805.9 L851.8 1805.9 L845.5 1804.3 L838.1 1802.6 L837.6 1805.9 L843.9 1809.2 L847.1 1812.6 L844.4 1816.3 L841.8 1820.0 L834.9 1822.1 L824.4 1822.9 L818.1 1823.3 L818.6 1827.5 L817.0 1830.4 L811.2 1832.5 L803.3 1830.8 L802.8 1835.8 L808.6 1836.2 L810.7 1838.7 L805.9 1839.5 L803.3 1842.4 L801.7 1846.6 L799.1 1848.2 L791.2 1851.6 L789.6 1854.5 L795.4 1857.4 L799.1 1860.3 L791.7 1864.0 L788.5 1866.9 L784.9 1869.8 L781.2 1873.2 L783.3 1875.6 L785.4 1878.5 L779.6 1878.5 L774.3 1880.6 L771.7 1884.8 L766.4 1883.9 L760.1 1881.5 L755.9 1878.5 L753.2 1873.2 L749.5 1869.0 L747.9 1863.6 L750.6 1859.9 L754.3 1856.5 L751.6 1853.2 L755.9 1849.5 L758.5 1844.1 L762.2 1839.1 L762.7 1833.7 L756.9 1834.1 L757.4 1827.5 L759.0 1823.3 L758.0 1816.7 L762.2 1810.1 L766.4 1802.6 L768.5 1798.5 L769.0 1790.2 L770.1 1783.9 L771.7 1776.9 L773.3 1769.4 L774.3 1761.1 L775.9 1752.8 L775.9 1744.5 L775.4 1737.9 L770.1 1734.5 L763.8 1731.2 L755.9 1727.1 L747.9 1722.9 L743.7 1718.4 L741.1 1713.4 L738.5 1710.5 L733.7 1703.0 L729.5 1696.8 L725.8 1691.4 L719.0 1686.4 L717.9 1681.4 L722.1 1676.0 L724.7 1672.3 L720.0 1671.0 L719.5 1665.7 L723.2 1661.5 L724.2 1658.2 L729.5 1656.1 L732.1 1652.0 L736.9 1648.2 L738.5 1644.9 L737.9 1638.7 L737.4 1633.3 L734.8 1630.4 L732.7 1627.1 L729.5 1625.0 L725.8 1625.0 L722.1 1627.5 L724.2 1630.4 L721.6 1631.2 L717.9 1629.5 L713.7 1627.5 L708.4 1626.6 L704.7 1624.2 L699.4 1620.8 L694.2 1620.4 L693.6 1616.7 L688.4 1610.9 L684.2 1607.5 L679.4 1606.7 L672.6 1605.5 L664.6 1603.8 L658.3 1600.9 L651.5 1595.9 L646.2 1594.3 L639.9 1596.3 L632.0 1595.1 L625.1 1593.0 L618.8 1591.4 L610.9 1588.5 L603.0 1586.0 L596.1 1582.7 L590.8 1579.3 L589.3 1576.4 L591.4 1572.3 L588.7 1568.1 L584.5 1564.0 L579.2 1559.8 L574.0 1556.5 L569.7 1552.4 L566.1 1548.6 L562.4 1545.7 L557.1 1542.0 L553.9 1539.1 L550.2 1533.7 L545.5 1530.8 L540.7 1529.5 L540.7 1532.8 L542.3 1537.0 L547.6 1541.2 L551.3 1545.3 L554.5 1549.5 L557.6 1553.6 L560.8 1557.8 L563.4 1561.1 L566.6 1566.0 L564.5 1564.0 L560.8 1561.1 L555.5 1558.6 L554.5 1553.6 L548.7 1550.3 L543.9 1547.0 L543.4 1545.3 L540.2 1539.1 L535.5 1535.3 L532.3 1531.2 L529.7 1528.7 L528.1 1525.8 L527.0 1523.3 L522.8 1521.2 L520.7 1520.4 L517.0 1519.2 L510.2 1518.3 L509.1 1515.4 L505.4 1512.1 L503.3 1509.6 L500.2 1505.9 L500.2 1504.2 L497.5 1503.0 L493.8 1499.7 L493.3 1496.3 L490.1 1493.8 L491.7 1490.5 L491.2 1487.2 L489.6 1483.9 L491.2 1479.7 L492.2 1474.8 L492.8 1469.8 L491.7 1466.9 L489.1 1463.1 L488.6 1460.6 L494.9 1461.5 L498.6 1464.4 L500.2 1460.2 L497.5 1458.2 L493.3 1455.7 L488.0 1453.6 L483.3 1451.9 L477.5 1450.3 L472.2 1448.6 L471.7 1445.3 L468.5 1442.4 L464.3 1439.1 L459.0 1436.2 L457.4 1433.2 L452.7 1429.9 L448.5 1427.0 L443.7 1423.7 L439.0 1420.0 L433.2 1417.1 L427.9 1419.1 L423.7 1417.5 L416.9 1415.4 L410.5 1413.3 L403.7 1412.9 L394.7 1412.5 L387.3 1412.1 L378.9 1410.4 L373.1 1408.8 L366.8 1410.4 L362.5 1412.5 L357.3 1413.7 L352.0 1415.0 L346.2 1415.8 L347.3 1412.5 L350.9 1410.0 L355.2 1407.5 L348.8 1408.3 L344.6 1410.4 L340.4 1413.3 L335.7 1415.8 L333.0 1418.3 L327.2 1420.8 L322.0 1423.3 L315.6 1425.8 L309.3 1428.3 L302.4 1430.3 L294.5 1432.0 L289.3 1433.7 L284.0 1434.9 L277.1 1435.7 L285.0 1433.2 L293.0 1429.5 L299.8 1428.3 L307.7 1425.0 L311.9 1421.6 L315.6 1419.1 L317.2 1417.5 L311.4 1417.9 L307.7 1417.1 L302.4 1418.3 L294.5 1418.3 L291.9 1415.4 L284.0 1413.3 L278.7 1411.3 L274.5 1409.2 L275.0 1406.3 L270.8 1404.2 L273.4 1401.7 L278.2 1399.6 L285.6 1400.0 L294.5 1398.4 L298.2 1396.7 L296.1 1394.2 L291.9 1393.8 L283.5 1393.4 L276.1 1393.8 L269.2 1393.4 L266.1 1391.3 L262.9 1390.5 L260.3 1389.3 M2095.0 1371.4 L2087.1 1367.7 L2078.7 1371.0 L2063.4 1371.4 L2048.1 1370.2 L2036.5 1371.4 L2021.2 1372.7 L2008.0 1372.2 L1994.8 1372.7 L1989.6 1369.8 L1987.4 1367.3 L1968.5 1366.4 L1951.6 1365.2 L1939.5 1364.4 L1936.3 1361.9 L1923.7 1361.0 L1917.3 1360.6 L1899.9 1359.8 L1886.2 1361.0 L1882.5 1358.1 L1868.3 1364.8 L1855.6 1365.6 L1846.2 1363.1 L1838.2 1367.3 L1828.8 1364.4 L1826.6 1360.2 L1825.1 1356.9 L1812.9 1356.1 L1799.8 1356.1 L1788.2 1359.0 L1776.0 1358.5 L1762.8 1356.1 L1747.0 1356.1 L1739.1 1355.2 L1728.6 1354.4 L1723.3 1352.7 L1733.9 1350.2 L1744.4 1347.8 L1741.8 1345.3 L1731.2 1342.8 L1710.1 1342.4 L1695.4 1339.0 L1681.1 1342.0 L1673.2 1344.4 L1660.0 1346.1 L1652.1 1346.5 L1639.0 1346.9 L1620.5 1348.2 L1604.7 1350.7 L1602.0 1353.2 L1604.7 1355.2 L1596.8 1356.5 L1581.0 1356.1 L1570.4 1356.5 L1572.0 1362.7 L1581.0 1363.9 L1583.6 1366.8 L1579.4 1371.0 L1584.6 1374.3 L1578.3 1375.2 L1573.0 1371.8 L1565.1 1371.8 L1558.8 1368.9 L1552.0 1366.0 L1547.7 1363.1 L1533.5 1363.5 L1530.9 1366.0 L1533.5 1371.8 L1530.9 1375.2 L1529.8 1378.1 L1523.0 1379.7 L1512.4 1383.5 L1509.8 1385.5 L1528.2 1386.4 L1533.5 1382.6 L1540.4 1379.3 L1538.8 1375.2 L1533.5 1368.9 L1529.8 1361.9 L1525.6 1359.0 L1517.7 1357.3 L1508.7 1359.4 L1501.9 1364.8 L1507.1 1368.1 L1507.1 1373.1 L1501.9 1377.2 L1488.7 1374.7 L1472.9 1372.2 L1465.0 1371.8 L1462.3 1376.0 L1454.4 1376.0 L1446.5 1377.2 L1436.0 1378.1 L1428.1 1377.6 L1429.6 1375.6 L1422.8 1377.2 L1414.9 1378.1 L1404.3 1380.1 L1396.4 1381.0 L1391.2 1383.5 L1383.2 1385.5 L1378.0 1387.6 L1379.0 1382.2 L1375.3 1378.5 L1364.8 1381.4 L1359.5 1385.5 L1351.6 1387.2 L1341.1 1386.4 L1330.5 1385.5 L1322.6 1385.1 L1330.5 1387.6 L1343.7 1389.7 L1354.3 1392.6 L1359.5 1393.8 L1351.6 1396.3 L1343.7 1394.7 L1338.4 1392.6 L1329.5 1393.8 L1328.4 1389.7 L1320.0 1386.4 L1317.3 1383.9 L1325.3 1384.3 L1338.4 1383.9 L1351.6 1385.1 L1362.2 1383.5 L1362.2 1380.1 L1354.3 1378.9 L1346.3 1377.2 L1333.2 1374.3 L1320.0 1373.5 L1309.4 1371.8 L1298.9 1371.0 L1288.3 1367.3 L1282.0 1366.4 L1272.5 1367.3 L1262.0 1368.5 L1251.4 1370.6 L1243.5 1371.8 L1235.6 1375.2 L1227.7 1377.6 L1221.4 1380.5 L1217.2 1383.5 L1213.5 1387.6 L1210.3 1390.9 L1204.0 1393.8 L1198.7 1397.1 L1190.8 1398.8 L1182.9 1400.9 L1175.0 1403.4 L1172.4 1407.5 L1172.4 1412.5 L1174.5 1416.7 L1176.6 1420.0 L1182.9 1420.8 L1190.8 1420.0 L1198.7 1416.7 L1201.9 1413.3 L1205.0 1416.7 L1208.2 1419.6 L1210.8 1423.7 L1213.0 1427.4 L1214.0 1430.8 L1220.9 1431.6 L1222.4 1429.1 L1230.4 1428.3 L1233.5 1424.1 L1234.0 1420.0 L1240.9 1416.7 L1245.1 1412.9 L1238.3 1410.0 L1237.2 1405.9 L1238.8 1401.7 L1245.1 1398.4 L1254.1 1395.9 L1259.4 1392.6 L1264.1 1388.4 L1272.5 1388.4 L1279.9 1391.3 L1278.9 1393.8 L1269.9 1396.7 L1262.0 1400.0 L1258.3 1403.0 L1259.4 1407.5 L1261.5 1410.4 L1267.3 1412.9 L1277.8 1411.3 L1287.3 1410.8 L1296.3 1410.4 L1303.1 1412.5 L1296.3 1413.3 L1291.0 1415.0 L1280.4 1414.6 L1269.9 1415.8 L1269.9 1418.7 L1274.1 1420.0 L1272.5 1422.9 L1274.1 1425.0 L1269.9 1425.0 L1264.6 1422.5 L1259.4 1423.7 L1256.7 1427.9 L1257.2 1430.3 L1257.8 1432.4 L1251.4 1433.7 L1248.8 1435.7 L1244.6 1435.7 L1243.5 1434.5 L1238.3 1434.1 L1230.4 1436.2 L1222.4 1437.8 L1218.8 1437.0 L1211.9 1435.7 L1204.0 1437.4 L1202.9 1435.3 L1198.7 1433.7 L1199.8 1431.2 L1202.4 1427.4 L1200.3 1423.7 L1201.9 1422.0 L1196.1 1424.5 L1191.3 1426.6 L1188.7 1429.1 L1191.3 1431.6 L1192.4 1436.6 L1188.2 1439.1 L1182.9 1439.9 L1177.6 1439.9 L1172.4 1440.7 L1170.8 1443.6 L1167.1 1446.1 L1163.4 1448.2 L1159.2 1449.4 L1154.4 1450.3 L1153.9 1453.2 L1148.6 1454.8 L1146.0 1456.5 L1140.7 1456.9 L1139.1 1455.2 L1136.0 1455.7 L1137.6 1459.8 L1131.2 1460.2 L1127.5 1459.0 L1121.2 1460.2 L1123.3 1462.3 L1130.2 1464.4 L1134.4 1466.0 L1136.5 1468.5 L1139.7 1471.4 L1139.7 1476.4 L1138.1 1481.0 L1132.8 1481.8 L1126.0 1481.0 L1117.0 1480.6 L1109.1 1480.6 L1102.8 1481.0 L1097.5 1483.0 L1099.1 1487.2 L1099.6 1491.3 L1099.1 1495.5 L1096.4 1499.7 L1098.0 1501.7 L1099.6 1504.6 L1099.1 1508.0 L1106.5 1507.5 L1112.3 1508.8 L1114.4 1511.3 L1117.5 1511.7 L1122.3 1509.6 L1132.8 1508.8 L1137.6 1506.3 L1142.3 1505.5 L1143.4 1502.1 L1147.1 1500.5 L1144.4 1497.6 L1146.0 1495.5 L1150.2 1492.2 L1153.9 1490.5 L1159.2 1488.9 L1162.9 1487.2 L1161.8 1483.5 L1164.5 1481.8 L1169.7 1481.0 L1175.0 1482.2 L1180.3 1482.6 L1185.5 1479.7 L1190.8 1477.7 L1196.1 1478.5 L1199.8 1479.7 L1201.4 1483.5 L1205.0 1485.5 L1210.3 1488.0 L1214.5 1490.1 L1219.8 1492.2 L1225.1 1494.7 L1228.8 1495.9 L1230.4 1499.2 L1228.8 1502.6 L1230.9 1503.8 L1233.5 1502.1 L1236.7 1499.7 L1235.6 1497.6 L1233.0 1496.3 L1235.6 1493.4 L1240.9 1494.7 L1243.5 1495.1 L1240.4 1492.6 L1234.6 1490.5 L1229.8 1488.9 L1230.4 1487.6 L1223.5 1486.8 L1218.8 1483.9 L1217.2 1481.0 L1211.4 1478.1 L1210.8 1473.9 L1214.5 1471.8 L1217.7 1472.3 L1219.3 1475.2 L1222.4 1473.9 L1226.1 1477.7 L1229.8 1480.6 L1235.6 1482.6 L1243.5 1485.1 L1248.3 1487.6 L1248.8 1491.3 L1247.8 1493.8 L1251.4 1497.2 L1255.1 1500.1 L1257.2 1502.6 L1260.4 1506.7 L1264.1 1510.0 L1267.8 1510.0 L1266.7 1505.9 L1268.8 1503.8 L1272.5 1503.0 L1266.2 1500.5 L1268.8 1498.0 L1265.2 1494.3 L1271.0 1495.1 L1274.6 1491.8 L1282.6 1491.8 L1286.2 1493.0 L1291.0 1491.8 L1298.4 1491.3 L1299.4 1490.5 L1295.7 1487.2 L1292.6 1484.7 L1292.0 1480.6 L1296.8 1477.7 L1298.4 1474.8 L1302.6 1473.5 L1306.3 1470.2 L1309.4 1468.1 L1317.3 1469.4 L1322.6 1471.0 L1317.3 1473.1 L1323.1 1476.8 L1329.5 1475.6 L1333.2 1474.3 L1338.4 1473.5 L1331.6 1469.8 L1338.4 1467.3 L1346.3 1466.0 L1352.7 1465.6 L1347.9 1468.1 L1344.8 1470.6 L1346.3 1473.1 L1341.1 1475.6 L1347.9 1477.7 L1354.3 1480.6 L1359.5 1483.0 L1365.3 1488.9 L1364.8 1489.7 L1358.5 1491.3 L1351.6 1490.9 L1343.7 1490.9 L1337.4 1489.3 L1331.6 1487.2 L1325.3 1487.2 L1320.0 1487.6 L1312.1 1490.1 L1304.2 1490.5 L1299.9 1491.3 L1293.6 1493.8 L1286.8 1493.8 L1284.1 1495.5 L1285.2 1499.7 L1287.3 1501.3 L1289.4 1504.2 L1290.5 1508.0 L1293.6 1508.8 L1298.4 1509.6 L1302.6 1511.3 L1307.3 1508.8 L1312.1 1509.6 L1317.3 1511.7 L1323.1 1511.3 L1328.9 1508.8 L1335.3 1509.2 L1335.3 1512.9 L1335.3 1516.7 L1333.7 1520.4 L1331.1 1524.5 L1328.4 1529.5 L1326.3 1531.6 L1320.0 1532.4 L1316.3 1532.0 L1309.4 1530.4 L1304.2 1531.6 L1298.9 1533.3 L1289.9 1531.6 L1278.9 1530.4 L1272.5 1528.7 L1267.3 1526.2 L1259.4 1525.0 L1252.0 1527.9 L1250.9 1532.0 L1246.7 1535.8 L1239.8 1533.3 L1230.4 1531.6 L1226.7 1527.9 L1219.3 1525.4 L1209.3 1525.0 L1205.0 1523.7 L1200.3 1521.6 L1203.5 1519.2 L1202.4 1515.8 L1204.5 1513.3 L1201.4 1510.4 L1204.5 1507.5 L1199.8 1507.1 L1196.1 1506.7 L1190.8 1508.4 L1182.9 1507.5 L1175.0 1509.2 L1167.1 1508.4 L1159.2 1509.6 L1151.3 1510.0 L1143.4 1512.9 L1138.1 1515.4 L1132.8 1515.4 L1126.0 1515.4 L1119.6 1513.3 L1114.9 1512.9 L1112.8 1515.8 L1110.1 1520.0 L1105.9 1522.1 L1101.2 1523.3 L1097.0 1526.6 L1094.3 1531.2 L1094.9 1534.9 L1094.3 1538.2 L1090.1 1542.0 L1085.4 1544.5 L1078.0 1545.7 L1074.8 1548.2 L1070.1 1552.4 L1067.4 1556.9 L1063.8 1560.7 L1060.6 1563.1 L1060.1 1566.0 L1056.9 1570.6 L1055.8 1574.3 L1057.4 1577.7 L1059.5 1580.2 L1061.1 1584.7 L1059.0 1593.0 L1056.9 1598.4 L1053.7 1600.5 L1056.9 1604.2 L1057.4 1610.0 L1060.6 1612.5 L1064.8 1615.0 L1068.5 1617.5 L1072.2 1620.8 L1076.4 1624.2 L1078.5 1627.9 L1082.7 1631.6 L1088.0 1634.1 L1093.3 1637.0 L1099.1 1640.8 L1105.9 1643.2 L1114.4 1642.0 L1122.3 1639.9 L1130.2 1640.3 L1135.5 1642.0 L1140.7 1640.3 L1148.6 1637.4 L1154.4 1635.8 L1160.2 1634.9 L1166.0 1634.9 L1170.8 1635.8 L1175.0 1638.7 L1177.6 1643.7 L1182.9 1643.2 L1189.8 1642.4 L1192.4 1644.1 L1196.6 1647.0 L1197.7 1651.1 L1196.1 1656.5 L1195.6 1660.3 L1195.0 1664.4 L1198.2 1669.8 L1204.0 1675.2 L1208.2 1679.3 L1210.8 1684.3 L1211.4 1689.7 L1215.6 1698.0 L1216.6 1705.1 L1218.8 1710.5 L1212.4 1717.5 L1210.3 1723.8 L1208.2 1731.2 L1208.7 1736.2 L1212.4 1741.6 L1216.6 1747.8 L1220.9 1754.9 L1222.4 1761.1 L1224.6 1769.4 L1226.7 1774.8 L1233.0 1780.2 L1236.7 1786.0 L1240.4 1792.2 L1242.5 1797.2 L1242.0 1800.5 L1243.5 1803.4 L1247.8 1805.1 L1251.4 1805.9 L1259.4 1804.3 L1264.6 1802.2 L1272.5 1803.0 L1281.0 1802.2 L1287.3 1800.9 L1293.1 1798.5 L1298.9 1794.3 L1304.2 1791.0 L1309.4 1785.2 L1316.3 1779.8 L1318.9 1771.5 L1317.9 1769.0 L1322.6 1766.5 L1330.5 1763.6 L1333.2 1758.6 L1333.2 1752.8 L1330.5 1746.6 L1333.2 1742.4 L1338.4 1739.5 L1343.7 1734.5 L1351.6 1732.0 L1358.5 1725.8 L1360.1 1720.4 L1359.5 1711.3 L1358.5 1705.1 L1354.3 1698.8 L1352.7 1692.6 L1350.6 1688.5 L1352.7 1682.2 L1355.3 1678.1 L1357.9 1673.1 L1362.2 1669.8 L1366.4 1666.5 L1370.6 1662.7 L1376.4 1657.8 L1383.2 1653.6 L1391.2 1649.0 L1398.0 1643.7 L1402.8 1638.7 L1407.0 1632.5 L1411.2 1626.2 L1414.4 1619.2 L1415.9 1612.5 L1409.6 1613.8 L1401.7 1615.0 L1393.8 1616.3 L1385.9 1617.5 L1378.0 1618.3 L1374.3 1612.9 L1371.1 1609.6 L1368.5 1607.5 L1364.8 1604.2 L1360.1 1599.7 L1354.3 1596.8 L1352.7 1593.0 L1349.5 1586.8 L1343.7 1583.5 L1342.1 1576.4 L1340.5 1570.2 L1334.2 1564.0 L1333.2 1559.8 L1328.4 1553.6 L1325.3 1549.5 L1322.6 1546.1 L1317.9 1537.4 L1316.3 1538.7 L1320.0 1543.2 L1323.1 1546.1 L1326.8 1545.3 L1327.9 1541.2 L1330.0 1539.1 L1328.4 1544.1 L1331.6 1545.3 L1336.9 1551.5 L1342.1 1558.6 L1346.9 1561.9 L1351.6 1568.1 L1352.7 1572.7 L1356.9 1577.3 L1361.1 1581.4 L1364.3 1586.8 L1369.0 1591.8 L1371.1 1595.5 L1371.7 1600.1 L1373.8 1606.3 L1375.3 1608.8 L1380.6 1608.8 L1385.4 1607.5 L1391.2 1605.9 L1399.1 1603.4 L1404.9 1601.3 L1410.7 1598.4 L1417.5 1597.2 L1421.2 1595.1 L1426.5 1592.6 L1433.3 1591.0 L1437.0 1589.3 L1439.1 1585.6 L1444.4 1584.7 L1446.0 1580.6 L1450.2 1578.5 L1453.9 1576.4 L1458.6 1571.0 L1461.3 1568.1 L1456.0 1564.0 L1450.7 1562.7 L1445.5 1559.4 L1442.8 1555.7 L1443.4 1552.4 L1441.8 1553.6 L1438.6 1556.1 L1433.3 1560.7 L1425.4 1561.5 L1418.0 1561.1 L1416.5 1555.7 L1418.0 1554.0 L1414.9 1553.6 L1412.2 1556.9 L1409.6 1551.5 L1407.0 1549.0 L1402.2 1545.3 L1399.1 1540.3 L1401.7 1537.4 L1407.0 1537.0 L1410.7 1537.4 L1413.8 1542.0 L1417.5 1545.7 L1422.8 1547.8 L1428.6 1550.3 L1434.9 1551.5 L1442.8 1549.0 L1447.6 1554.0 L1456.0 1555.7 L1470.2 1557.3 L1477.1 1556.9 L1486.1 1556.9 L1494.0 1556.1 L1497.7 1558.6 L1501.9 1562.3 L1507.1 1564.8 L1512.4 1568.1 L1516.6 1566.9 L1515.1 1573.1 L1520.3 1575.2 L1528.8 1572.7 L1529.8 1578.5 L1530.3 1583.1 L1532.5 1589.7 L1534.0 1595.9 L1538.3 1601.3 L1540.4 1608.4 L1543.5 1613.8 L1547.7 1620.0 L1549.9 1624.6 L1554.6 1627.9 L1558.3 1624.6 L1562.5 1622.9 L1564.1 1618.8 L1567.3 1618.8 L1567.3 1612.5 L1569.4 1605.5 L1568.8 1598.8 L1574.1 1595.1 L1579.9 1592.6 L1585.7 1588.9 L1593.1 1582.7 L1599.4 1579.3 L1603.6 1576.4 L1604.7 1572.3 L1611.0 1571.4 L1616.3 1571.0 L1620.5 1570.2 L1623.7 1568.1 L1628.4 1567.3 L1631.0 1572.3 L1632.6 1575.6 L1636.3 1578.9 L1640.0 1582.7 L1643.2 1586.8 L1644.2 1593.0 L1642.6 1595.1 L1646.9 1595.9 L1652.1 1593.0 L1658.5 1591.8 L1661.1 1595.1 L1661.6 1600.1 L1664.3 1605.5 L1665.8 1611.7 L1665.8 1617.9 L1664.3 1624.2 L1665.3 1627.9 L1668.0 1629.1 L1671.6 1634.5 L1674.8 1638.7 L1676.4 1644.1 L1680.1 1649.0 L1685.3 1652.4 L1691.1 1655.7 L1695.9 1655.7 L1692.2 1650.7 L1691.1 1644.9 L1690.6 1640.8 L1685.3 1635.8 L1681.1 1633.3 L1675.9 1631.2 L1674.3 1627.1 L1672.7 1622.9 L1669.0 1619.2 L1670.6 1613.8 L1672.7 1609.6 L1673.2 1605.9 L1678.0 1605.5 L1678.0 1608.8 L1683.8 1610.9 L1688.0 1613.4 L1691.1 1616.7 L1695.9 1617.9 L1698.5 1621.7 L1700.1 1625.8 L1705.9 1622.1 L1709.1 1618.8 L1714.9 1616.3 L1720.1 1613.8 L1721.7 1609.2 L1722.3 1604.2 L1719.6 1598.0 L1715.4 1594.7 L1710.7 1591.0 L1707.0 1586.0 L1703.3 1582.7 L1704.3 1579.3 L1708.0 1576.8 L1712.2 1573.5 L1717.0 1572.3 L1723.8 1571.9 L1727.5 1576.4 L1729.1 1573.5 L1734.4 1571.9 L1739.1 1571.0 L1744.4 1569.4 L1748.1 1569.0 L1751.8 1567.3 L1760.2 1566.5 L1766.5 1563.1 L1771.3 1559.4 L1776.0 1555.7 L1777.1 1551.1 L1780.8 1548.2 L1785.0 1544.5 L1788.2 1541.2 L1788.7 1537.4 L1783.9 1535.8 L1788.7 1533.3 L1785.5 1529.5 L1783.4 1526.2 L1781.8 1522.5 L1779.7 1518.7 L1775.0 1517.1 L1776.6 1513.8 L1782.4 1511.3 L1787.1 1508.8 L1791.8 1508.0 L1789.7 1505.9 L1782.9 1504.6 L1777.1 1507.1 L1772.9 1506.3 L1772.9 1503.0 L1766.5 1500.1 L1767.1 1498.4 L1772.9 1499.2 L1778.7 1496.7 L1785.0 1493.4 L1790.3 1493.4 L1787.1 1496.3 L1786.0 1499.7 L1789.7 1498.4 L1795.5 1496.7 L1801.3 1495.9 L1805.6 1497.2 L1807.1 1500.5 L1805.0 1503.8 L1810.3 1505.0 L1813.5 1508.0 L1811.9 1512.5 L1812.9 1517.5 L1818.2 1517.9 L1823.5 1516.7 L1828.2 1514.2 L1828.8 1510.0 L1828.2 1505.9 L1824.5 1502.1 L1820.8 1498.8 L1818.2 1496.3 L1824.0 1494.3 L1829.8 1492.2 L1830.3 1488.4 L1835.1 1485.5 L1839.3 1483.9 L1844.6 1483.0 L1851.4 1484.3 L1857.8 1481.0 L1864.6 1476.8 L1870.9 1472.3 L1875.1 1467.3 L1878.8 1463.1 L1885.2 1459.0 L1887.3 1454.0 L1887.3 1448.6 L1891.5 1443.6 L1888.3 1440.3 L1879.9 1437.4 L1871.5 1436.6 L1869.3 1433.7 L1860.4 1433.2 L1859.3 1431.2 L1868.3 1427.0 L1875.1 1422.9 L1884.1 1418.7 L1892.0 1415.8 L1898.9 1415.0 L1907.8 1415.4 L1915.7 1415.4 L1926.3 1415.0 L1936.3 1413.7 L1947.4 1416.7 L1957.9 1415.8 L1961.1 1413.7 L1971.1 1405.9 L1981.6 1404.2 L1990.6 1403.4 L1989.6 1407.1 L1981.6 1409.2 L1972.2 1414.2 L1968.5 1418.7 L1969.0 1423.3 L1966.4 1429.5 L1966.4 1437.4 L1970.0 1446.5 L1971.6 1449.4 L1978.0 1446.1 L1982.2 1442.4 L1989.6 1439.5 L1991.7 1435.7 L2000.1 1433.7 L1998.0 1430.8 L2002.2 1427.9 L2006.4 1427.9 L2002.2 1421.6 L2008.0 1417.1 L2013.3 1413.3 L2022.2 1410.8 L2031.7 1410.4 L2043.9 1412.5 L2055.5 1408.3 L2060.7 1405.4 L2071.3 1404.2 L2079.2 1401.7 L2089.7 1402.5 L2095.0 1401.7 M763.8 1337.8 L776.9 1331.6 L800.7 1327.4 L819.1 1321.6 L850.8 1320.0 L882.4 1319.5 L914.0 1317.0 L945.7 1315.0 L987.8 1314.6 L1019.5 1317.0 L1035.3 1320.0 L1037.9 1323.3 L1061.6 1323.3 L1080.1 1323.3 L1064.3 1328.3 L1051.1 1330.3 L1043.2 1335.7 L1048.5 1342.8 L1040.6 1346.9 L1043.2 1351.1 L1032.6 1354.4 L1030.0 1359.8 L1019.5 1360.6 L1030.0 1363.5 L1027.4 1367.7 L1016.8 1368.9 L1022.1 1371.0 L1008.9 1376.8 L990.5 1378.5 L977.3 1379.3 L966.7 1384.3 L950.9 1388.4 L937.7 1389.7 L932.5 1393.8 L927.2 1398.0 L921.9 1404.2 L919.3 1409.2 L916.7 1412.5 L908.8 1411.7 L900.8 1409.2 L890.3 1407.1 L883.4 1402.1 L879.8 1396.7 L874.5 1393.8 L869.2 1389.7 L863.9 1385.5 L866.6 1382.6 L862.4 1378.5 L874.5 1375.2 L877.1 1371.8 L869.2 1371.0 L858.7 1368.5 L874.5 1367.7 L863.9 1364.8 L853.4 1362.7 L856.0 1359.4 L848.1 1355.2 L842.8 1352.3 L834.9 1348.2 L821.8 1346.1 L803.3 1345.7 L784.9 1344.9 L771.7 1342.8 L766.4 1340.3 L763.8 1337.8 M820.2 1385.1 L813.9 1382.2 L805.9 1379.7 L798.0 1378.1 L790.1 1373.9 L784.9 1370.2 L774.3 1367.7 L766.4 1364.8 L755.9 1363.1 L742.7 1361.0 L732.1 1360.2 L721.6 1357.7 L719.0 1355.6 L703.1 1356.5 L692.6 1357.3 L682.0 1358.5 L674.1 1364.8 L684.7 1368.9 L697.9 1371.4 L711.0 1372.2 L719.0 1375.2 L732.1 1378.1 L742.7 1379.3 L750.6 1381.4 L761.1 1383.5 L758.5 1387.6 L761.1 1390.5 L745.3 1390.5 L737.4 1392.6 L740.0 1395.1 L750.6 1394.2 L758.5 1395.9 L766.4 1398.8 L774.3 1400.9 L782.2 1402.1 L790.1 1404.2 L798.0 1404.6 L800.7 1401.7 L790.1 1398.0 L800.7 1398.4 L805.9 1395.9 L803.3 1391.8 L795.4 1388.4 L790.1 1385.5 L800.7 1386.4 L811.2 1390.5 L819.1 1388.4 L820.2 1385.1 M671.5 1342.8 L697.9 1344.4 L724.2 1344.9 L734.8 1343.2 L734.8 1339.9 L745.3 1336.6 L755.9 1334.5 L766.4 1331.6 L787.5 1328.3 L803.3 1325.3 L813.9 1322.0 L819.1 1319.1 L798.0 1317.5 L766.4 1317.0 L734.8 1317.5 L703.1 1318.7 L682.0 1321.2 L663.6 1325.3 L676.8 1328.7 L692.6 1331.2 L690.0 1334.9 L682.0 1337.8 L671.5 1339.5 L671.5 1342.8 M690.0 1392.6 L695.2 1389.3 L705.8 1390.5 L716.3 1393.8 L721.6 1396.7 L713.7 1396.7 L700.5 1399.2 L692.6 1398.0 L687.3 1395.1 L690.0 1392.6 M708.4 1400.5 L716.3 1400.9 L711.0 1403.0 L704.2 1402.5 L708.4 1400.5 M1027.4 1389.7 L1019.5 1389.7 L1030.0 1385.9 L1040.6 1387.2 L1051.1 1386.8 L1061.6 1385.5 L1069.6 1386.8 L1068.0 1389.7 L1074.3 1391.3 L1069.6 1394.2 L1059.0 1396.3 L1048.5 1398.4 L1037.9 1397.1 L1026.3 1396.3 L1030.0 1394.2 L1019.5 1392.2 L1027.4 1389.7 M853.4 1447.4 L848.1 1451.9 L843.4 1456.1 L838.1 1460.2 L833.4 1464.0 L840.2 1464.0 L850.8 1464.0 L854.4 1466.9 L861.3 1466.9 L863.4 1468.1 L868.2 1466.9 L867.6 1463.1 L863.4 1464.0 L865.0 1460.2 L861.3 1456.9 L853.4 1456.1 L852.9 1451.9 L853.4 1447.4 M495.4 1460.6 L487.0 1458.6 L479.1 1456.1 L471.2 1452.8 L470.1 1450.7 L476.4 1451.5 L485.9 1454.0 L492.2 1457.3 L495.4 1460.6 M450.1 1437.4 L454.3 1440.3 L452.7 1444.5 L447.4 1442.4 L443.7 1438.2 L450.1 1437.4 M344.6 1420.8 L335.1 1425.0 L331.4 1423.3 L338.3 1420.0 L344.6 1420.8 M698.4 1570.6 L708.4 1566.5 L716.3 1565.6 L724.2 1566.0 L732.1 1568.5 L740.0 1572.3 L747.9 1574.3 L754.8 1577.3 L749.5 1578.9 L737.4 1578.9 L739.0 1576.0 L732.1 1572.3 L721.6 1570.2 L713.7 1569.0 L705.8 1570.6 L698.4 1570.6 M753.7 1578.9 L762.2 1578.9 L771.7 1578.9 L779.6 1581.4 L785.4 1584.3 L778.0 1585.1 L770.6 1588.0 L763.8 1586.0 L753.7 1585.1 L762.2 1584.3 L753.7 1578.9 M733.2 1585.1 L743.7 1586.0 L741.1 1587.2 L733.2 1586.0 L733.2 1585.1 M791.7 1584.7 L800.1 1585.1 L799.6 1586.8 L791.7 1586.8 L791.7 1584.7 M819.6 1616.7 L824.4 1616.7 L824.4 1619.6 L819.6 1619.6 L819.6 1616.7 M734.8 1551.1 L740.0 1550.7 L737.4 1551.5 L734.8 1551.1 M735.8 1558.6 L737.4 1561.1 L736.3 1561.9 L735.8 1558.6 M784.3 1879.8 L785.9 1883.5 L790.1 1886.4 L798.0 1889.3 L802.3 1888.9 L795.4 1890.6 L787.5 1891.4 L779.6 1891.0 L771.7 1888.9 L763.8 1885.6 L771.7 1882.7 L776.9 1882.7 L779.6 1880.2 L784.3 1879.8 M822.8 1874.4 L832.3 1874.4 L841.3 1875.2 L837.6 1878.5 L827.0 1878.1 L822.8 1874.4 M945.7 1885.6 L956.2 1886.8 L953.6 1888.1 L945.7 1886.4 M755.9 1835.0 L758.5 1835.0 L758.5 1841.2 L754.8 1840.8 L755.9 1835.0 M663.6 1662.3 L666.2 1663.6 L664.6 1665.7 L663.1 1664.0 L663.6 1662.3 M324.1 1577.7 L328.8 1579.7 L328.8 1581.8 L325.1 1583.1 L323.5 1580.2 L324.1 1577.7 M311.4 1571.9 L314.6 1573.1 L312.5 1573.1 L311.4 1571.9 M319.8 1574.3 L323.5 1575.2 L321.4 1576.0 L319.8 1574.3 M303.5 1569.4 L306.1 1569.4 L305.1 1570.6 L303.5 1569.4 M240.2 1396.7 L249.7 1397.6 L256.0 1399.2 L248.1 1398.8 L240.2 1398.4 L240.2 1396.7 M266.6 1410.8 L272.9 1411.7 L269.8 1413.3 L264.0 1411.7 L266.6 1410.8 M197.0 1364.8 L204.9 1364.4 L210.2 1366.0 L202.3 1367.3 L197.0 1366.8 M2095.0 1364.8 L2088.7 1366.0 L2095.0 1366.8 M215.5 1446.1 L218.1 1445.7 L220.7 1446.1 M204.9 1446.5 L208.6 1446.1 L212.8 1446.5 M226.0 1444.9 L231.3 1445.3 M249.7 1442.8 L257.6 1440.7 L265.5 1439.1 L270.8 1437.8 M236.5 1444.5 L241.8 1444.0 M1202.9 1334.1 L1209.3 1330.3 L1230.4 1329.9 L1240.9 1328.3 L1259.4 1328.3 L1277.8 1329.1 L1288.3 1330.7 L1267.3 1333.7 L1262.0 1337.0 L1246.2 1339.5 L1235.6 1343.6 L1230.4 1340.7 L1219.8 1339.5 L1217.2 1337.0 L1206.6 1335.7 L1202.9 1334.1 M1417.5 1364.8 L1425.4 1367.7 L1436.0 1368.5 L1449.2 1368.1 L1441.2 1364.8 L1438.6 1360.6 L1441.2 1357.3 L1449.2 1353.6 L1459.7 1350.2 L1472.9 1346.9 L1488.7 1344.9 L1507.1 1342.4 L1499.2 1342.0 L1478.2 1344.4 L1462.3 1346.1 L1446.5 1349.0 L1438.6 1353.2 L1430.7 1356.9 L1425.4 1359.8 L1417.5 1364.8 M1393.8 1327.4 L1420.2 1329.5 L1446.5 1328.3 L1472.9 1327.0 L1462.3 1323.3 L1436.0 1322.0 L1409.6 1324.5 L1393.8 1327.4 M1646.9 1333.7 L1668.0 1337.0 L1694.3 1338.2 L1699.6 1334.5 L1678.5 1330.3 L1662.7 1326.2 L1646.9 1325.3 L1636.3 1329.5 L1646.9 1333.7 M1870.9 1346.9 L1889.4 1347.8 L1902.6 1346.9 L1910.5 1348.2 L1894.7 1345.7 L1876.2 1345.3 L1870.9 1346.9 M1926.3 1349.0 L1944.7 1349.8 L1936.8 1347.8 L1926.3 1349.0 M1884.1 1356.1 L1897.3 1355.6 L1902.6 1357.7 L1889.4 1357.7 L1884.1 1356.1 M1401.7 1374.3 L1408.6 1373.9 L1405.4 1376.0 L1401.7 1374.3 M1454.4 1369.8 L1465.0 1371.0 L1459.7 1371.8 L1454.4 1369.8 M1119.6 1418.3 L1130.2 1418.3 L1127.5 1421.2 L1135.5 1422.0 L1136.5 1423.7 L1132.8 1427.0 L1130.2 1429.1 L1135.5 1429.9 L1138.1 1433.2 L1143.4 1436.2 L1147.1 1439.5 L1148.6 1441.5 L1155.0 1442.8 L1154.4 1445.7 L1150.2 1447.8 L1153.4 1449.0 L1148.6 1450.7 L1140.7 1451.1 L1132.8 1451.5 L1127.5 1452.8 L1119.6 1454.0 L1115.9 1453.6 L1122.3 1450.3 L1129.1 1449.0 L1123.3 1447.4 L1118.6 1446.5 L1123.9 1444.0 L1121.2 1442.4 L1124.9 1440.3 L1130.2 1440.3 L1130.2 1437.4 L1128.1 1435.3 L1120.7 1434.1 L1119.1 1431.6 L1120.7 1429.5 L1116.5 1428.3 L1117.0 1425.0 L1113.3 1422.9 L1115.4 1420.8 L1119.6 1418.3 M1113.3 1435.3 L1115.9 1435.3 L1114.4 1438.2 L1113.8 1441.5 L1112.3 1444.9 L1106.5 1445.7 L1097.5 1447.4 L1092.2 1446.5 L1094.3 1443.6 L1097.5 1440.7 L1093.3 1439.5 L1094.3 1436.6 L1101.2 1436.2 L1102.2 1433.2 L1107.5 1432.0 L1113.3 1435.3 M1211.4 1504.6 L1216.1 1503.0 L1228.2 1502.6 L1226.1 1506.7 L1225.6 1509.2 L1221.4 1508.0 L1211.4 1504.6 M1190.3 1491.8 L1194.5 1490.5 L1197.7 1493.4 L1196.6 1498.8 L1192.9 1499.7 L1190.3 1499.2 L1190.8 1494.7 L1190.3 1491.8 M1191.3 1485.5 L1195.6 1483.0 L1196.6 1487.2 L1194.5 1489.7 L1191.9 1488.4 L1191.3 1485.5 M1269.9 1513.8 L1275.2 1514.6 L1284.7 1515.0 L1280.4 1516.2 L1275.2 1515.8 L1269.9 1515.0 L1269.9 1513.8 M1316.3 1516.2 L1320.0 1515.0 L1328.4 1513.3 L1325.3 1516.2 L1320.0 1517.9 L1316.3 1516.2 M1204.0 1429.9 L1212.4 1429.1 L1210.8 1432.4 L1205.0 1432.4 L1204.0 1429.9 M1197.7 1431.2 L1202.9 1432.0 L1201.4 1433.2 L1197.7 1432.4 L1197.7 1431.2 M1242.0 1421.2 L1246.2 1421.6 L1243.5 1424.5 L1242.0 1421.2 M1158.7 1497.2 L1163.9 1496.3 L1162.9 1498.4 L1158.7 1497.2 M1405.9 1711.3 L1409.6 1717.5 L1412.2 1725.8 L1408.6 1731.2 L1407.0 1736.2 L1403.3 1744.5 L1399.1 1754.9 L1394.8 1764.4 L1385.9 1767.3 L1378.0 1765.2 L1375.9 1759.0 L1374.3 1752.0 L1379.6 1744.5 L1378.0 1734.1 L1380.6 1728.7 L1388.5 1727.1 L1396.4 1722.9 L1401.7 1717.5 L1405.9 1711.3 M1567.3 1620.8 L1572.0 1622.1 L1575.2 1626.2 L1577.3 1631.2 L1574.6 1635.8 L1568.8 1636.6 L1566.7 1633.3 L1566.7 1627.5 L1567.3 1620.8 M1427.5 1608.8 L1433.3 1609.2 L1429.6 1610.5 L1427.5 1608.8 M1449.2 1744.5 L1450.7 1746.2 M1437.6 1748.7 L1439.7 1749.9 M1509.8 1864.0 L1517.7 1864.8 L1515.1 1867.3 L1509.8 1864.0 M1718.6 1581.8 L1723.3 1578.5 L1729.1 1578.1 L1731.2 1580.2 L1728.6 1583.9 L1723.3 1586.0 L1719.1 1584.7 L1718.6 1581.8 M1783.9 1557.3 L1788.7 1557.8 L1786.6 1564.0 L1783.4 1570.2 L1779.7 1566.9 L1779.2 1563.1 L1783.9 1557.3 M1884.1 1489.3 L1890.4 1488.0 L1893.6 1484.7 L1901.5 1487.2 L1907.8 1483.0 L1913.1 1481.8 L1911.5 1477.7 L1902.6 1478.1 L1894.1 1472.7 L1892.5 1477.7 L1891.5 1482.2 L1885.7 1481.8 L1884.1 1485.1 L1884.1 1489.3 M1891.5 1489.7 L1894.1 1495.5 L1894.7 1499.7 L1889.4 1502.6 L1889.4 1508.0 L1887.3 1512.1 L1888.9 1513.3 L1883.1 1516.2 L1878.8 1517.5 L1872.5 1517.9 L1867.8 1519.2 L1863.0 1522.5 L1858.3 1521.2 L1859.9 1517.9 L1852.5 1517.9 L1844.6 1519.2 L1836.7 1520.4 L1836.7 1517.9 L1847.2 1514.2 L1857.8 1513.3 L1863.0 1512.5 L1867.2 1508.0 L1869.9 1506.3 L1876.2 1504.2 L1881.5 1501.7 L1883.6 1496.3 L1884.1 1493.0 L1888.3 1490.5 L1891.5 1489.7 M1841.9 1521.2 L1847.2 1519.2 L1855.6 1519.6 L1856.2 1521.2 L1849.8 1522.9 L1846.2 1525.4 L1841.9 1521.2 M1830.3 1522.5 L1836.1 1520.8 L1841.9 1523.7 L1839.3 1528.7 L1836.7 1532.8 L1832.4 1532.0 L1832.4 1526.6 L1829.3 1524.5 L1830.3 1522.5 M1894.7 1436.2 L1899.9 1439.5 L1901.0 1445.7 L1901.5 1454.0 L1907.3 1458.2 L1901.0 1457.3 L1897.3 1462.3 L1899.9 1467.7 L1897.3 1470.6 L1894.1 1468.5 L1895.2 1463.1 L1894.1 1459.0 L1895.7 1451.9 L1893.1 1445.7 L1893.6 1440.3 L1894.7 1436.2 M1914.7 1480.1 L1918.9 1478.5 M1922.6 1476.4 L1927.9 1474.8 M1933.1 1472.3 L1936.8 1470.6 M1781.8 1584.7 L1788.7 1585.6 L1790.8 1591.0 L1789.2 1595.1 L1786.6 1598.0 L1788.2 1602.6 L1792.9 1602.6 L1799.8 1606.3 L1797.1 1608.4 L1791.8 1605.5 L1787.1 1604.2 L1781.8 1602.2 L1781.8 1599.2 L1778.7 1596.8 L1780.2 1593.0 L1781.8 1584.7 M1797.6 1625.4 L1802.4 1626.2 L1807.7 1621.7 L1813.5 1631.2 L1810.3 1635.4 L1807.1 1638.3 L1800.8 1635.4 L1799.8 1630.8 L1790.3 1632.5 L1794.0 1628.7 L1797.6 1625.4 M1801.3 1609.6 L1808.2 1610.5 L1808.7 1615.8 L1804.5 1619.2 L1801.3 1613.8 L1801.3 1609.6 M1788.7 1612.5 L1794.5 1613.8 L1791.8 1617.9 L1788.7 1617.5 L1788.7 1612.5 M1794.0 1616.3 L1797.1 1617.1 L1795.5 1623.3 L1791.3 1621.2 L1794.0 1616.3 M1780.8 1605.5 L1785.5 1605.9 L1786.6 1610.0 L1782.9 1610.5 L1780.8 1605.5 M1763.9 1626.6 L1775.5 1617.9 L1776.6 1614.6 L1773.4 1618.8 L1766.0 1625.8 L1763.9 1626.6 M1720.7 1654.0 L1723.8 1653.2 L1731.2 1654.0 L1733.9 1650.3 L1741.8 1648.2 L1747.0 1642.4 L1754.4 1639.9 L1758.6 1635.8 L1762.8 1632.5 L1766.5 1634.9 L1774.4 1639.5 L1769.2 1642.4 L1767.1 1647.0 L1768.1 1652.0 L1772.9 1657.3 L1767.6 1658.2 L1765.5 1663.6 L1761.3 1667.7 L1759.7 1671.9 L1757.6 1676.4 L1749.7 1678.1 L1741.8 1675.2 L1734.9 1674.0 L1727.0 1673.5 L1725.9 1669.0 L1722.8 1664.8 L1720.7 1660.3 L1720.7 1654.0 M1648.4 1638.3 L1660.0 1639.9 L1664.3 1644.1 L1670.6 1647.8 L1675.9 1652.4 L1680.1 1654.4 L1686.4 1657.3 L1691.7 1661.5 L1693.3 1665.7 L1696.9 1669.8 L1702.7 1674.0 L1704.9 1678.9 L1703.8 1685.6 L1697.5 1686.0 L1691.7 1681.8 L1685.3 1678.1 L1679.5 1672.7 L1675.3 1666.5 L1671.1 1661.1 L1666.9 1654.9 L1661.6 1651.5 L1656.4 1647.0 L1649.0 1641.6 L1648.4 1638.3 M1700.6 1689.7 L1704.9 1686.0 L1712.8 1686.4 L1717.0 1687.6 L1723.3 1689.7 L1728.6 1690.1 L1733.9 1688.9 L1740.2 1690.1 L1749.1 1693.5 L1749.7 1697.6 L1741.8 1695.9 L1731.2 1695.5 L1720.7 1693.5 L1712.8 1693.0 L1707.0 1692.2 L1700.6 1689.7 M1750.2 1695.1 L1755.5 1696.4 L1753.4 1698.0 L1750.2 1696.4 L1750.2 1695.1 M1757.6 1695.9 L1761.3 1696.4 L1760.2 1698.4 L1757.6 1697.6 L1757.6 1695.9 M1762.3 1696.8 L1769.7 1695.9 L1773.9 1697.6 L1765.5 1698.8 L1762.3 1696.8 M1778.1 1696.8 L1786.6 1696.8 L1794.5 1695.9 L1790.8 1698.0 L1778.7 1698.0 L1778.1 1696.8 M1773.4 1700.9 L1782.9 1702.2 L1779.7 1703.8 L1773.4 1702.2 L1773.4 1700.9 M1797.1 1704.2 L1802.4 1700.9 L1807.7 1698.0 L1816.6 1696.4 L1807.7 1700.1 L1799.8 1703.4 L1797.1 1704.2 M1775.0 1684.7 L1776.6 1678.1 L1773.9 1675.6 L1772.9 1671.9 L1776.0 1665.7 L1777.6 1659.4 L1780.2 1657.8 L1786.6 1657.3 L1794.5 1657.8 L1801.9 1657.3 L1806.1 1654.9 L1802.4 1659.4 L1795.5 1659.8 L1786.6 1659.4 L1781.8 1660.7 L1780.8 1664.8 L1785.0 1665.7 L1793.4 1664.8 L1796.1 1665.7 L1790.8 1668.6 L1786.0 1671.9 L1790.3 1674.8 L1793.4 1681.0 L1789.2 1681.4 L1785.0 1680.2 L1782.9 1676.0 L1780.8 1684.3 L1775.0 1684.7 M1818.7 1652.8 L1821.4 1655.3 L1824.5 1656.5 L1820.3 1659.0 L1824.0 1660.3 L1820.3 1662.7 L1822.4 1664.8 L1818.2 1663.6 L1818.7 1652.8 M1820.8 1674.8 L1828.8 1673.1 L1835.6 1675.6 L1828.8 1676.4 L1820.8 1676.0 L1820.8 1674.8 M1810.3 1674.8 L1816.6 1675.2 L1813.5 1677.3 L1810.3 1676.4 L1810.3 1674.8 M1836.7 1666.9 L1843.5 1663.2 L1853.0 1664.8 L1857.8 1675.2 L1870.9 1667.7 L1884.1 1671.5 L1897.3 1675.2 L1907.8 1677.3 L1915.7 1682.2 L1924.2 1686.8 L1925.2 1690.5 L1920.5 1692.2 L1927.3 1695.1 L1933.1 1699.3 L1941.1 1704.2 L1935.8 1705.1 L1926.3 1703.0 L1918.4 1698.0 L1910.5 1693.9 L1904.1 1693.9 L1902.6 1696.8 L1897.3 1700.1 L1889.4 1699.3 L1878.8 1695.1 L1873.6 1696.4 L1872.0 1692.2 L1877.8 1689.7 L1873.6 1684.7 L1868.3 1681.8 L1857.8 1679.8 L1849.8 1677.3 L1846.2 1678.1 L1841.9 1673.5 L1849.8 1671.9 L1841.9 1670.2 L1836.7 1666.9 M1928.4 1684.3 L1936.8 1682.2 L1944.7 1679.3 L1949.0 1679.8 L1946.3 1682.2 L1939.5 1687.2 L1931.6 1686.8 L1928.4 1684.3 M1939.5 1672.3 L1947.4 1675.2 L1953.2 1680.2 L1950.0 1678.1 L1943.2 1674.0 L1939.5 1672.3 M1961.1 1682.2 L1965.8 1686.4 L1968.5 1689.7 L1964.8 1688.5 L1961.1 1682.2 M1976.4 1695.5 L1984.3 1695.9 L1988.5 1698.8 L1981.6 1698.0 M1987.4 1700.1 L1993.8 1702.2 L1989.6 1702.6 M1992.7 1696.8 L1997.5 1700.9 M2024.4 1722.1 L2027.5 1725.8 L2029.1 1730.0 L2033.3 1735.0 M2010.6 1745.3 L2018.6 1748.7 L2026.5 1753.6 L2022.8 1753.6 L2013.3 1748.7 L2010.6 1745.3 M2080.8 1734.1 L2087.1 1734.1 L2086.0 1737.0 L2080.8 1735.8 L2080.8 1734.1 M2088.7 1729.6 L2095.0 1728.3 M1744.4 1752.8 L1747.6 1752.0 L1749.7 1754.9 L1754.9 1750.7 L1761.8 1747.0 L1770.8 1745.7 L1778.7 1743.7 L1786.6 1740.3 L1790.8 1734.1 L1794.5 1730.0 L1799.2 1731.2 L1802.4 1725.8 L1807.7 1721.7 L1812.9 1719.2 L1819.3 1720.8 L1822.4 1723.8 L1828.8 1722.9 L1830.3 1717.5 L1834.6 1713.0 L1839.3 1712.1 L1845.1 1711.3 L1846.2 1708.4 L1852.5 1710.9 L1860.4 1712.1 L1867.2 1710.9 L1865.7 1715.0 L1862.0 1717.1 L1860.4 1722.9 L1865.7 1725.8 L1872.5 1729.6 L1879.9 1733.7 L1888.3 1734.1 L1892.0 1727.9 L1892.5 1719.6 L1892.5 1713.4 L1894.7 1707.2 L1897.3 1705.9 L1899.9 1711.3 L1902.6 1717.5 L1907.8 1720.8 L1912.1 1723.8 L1913.1 1730.0 L1916.8 1738.3 L1923.7 1742.4 L1930.5 1746.6 L1934.2 1753.6 L1940.0 1755.3 L1942.1 1760.3 L1950.0 1765.2 L1953.7 1771.5 L1955.8 1779.8 L1952.7 1788.1 L1951.1 1794.3 L1944.7 1800.5 L1941.1 1805.9 L1936.8 1813.0 L1936.3 1817.1 L1927.9 1818.4 L1921.0 1820.4 L1916.8 1823.3 L1913.1 1821.3 L1907.8 1820.0 L1902.6 1822.5 L1894.7 1820.9 L1886.7 1819.2 L1882.5 1815.0 L1881.5 1810.1 L1876.2 1809.2 L1874.1 1804.3 L1872.0 1807.6 L1867.2 1808.0 L1870.9 1802.6 L1872.5 1798.5 L1869.9 1801.4 L1863.0 1805.9 L1858.8 1805.1 L1853.5 1798.5 L1844.6 1794.3 L1836.7 1792.2 L1826.1 1793.1 L1815.6 1795.5 L1805.0 1797.6 L1797.1 1802.2 L1789.2 1802.6 L1778.7 1802.6 L1770.8 1805.9 L1762.8 1807.2 L1754.9 1804.3 L1752.3 1800.9 L1756.0 1799.7 L1756.0 1792.2 L1752.3 1786.0 L1751.8 1779.8 L1748.1 1773.5 L1744.4 1769.4 L1746.0 1763.2 L1744.4 1757.0 L1744.4 1752.8 M1908.9 1830.4 L1915.7 1832.1 L1923.7 1831.2 L1927.9 1831.7 L1926.3 1837.9 L1921.0 1842.0 L1915.7 1842.0 L1911.5 1837.9 L1908.9 1830.4 M2056.5 1804.7 L2060.7 1806.8 L2066.0 1810.9 L2068.6 1814.2 L2072.9 1815.0 L2076.5 1818.0 L2084.5 1817.5 L2086.6 1821.7 L2079.2 1824.2 L2078.1 1827.5 L2072.9 1832.9 L2069.7 1834.1 L2067.1 1832.5 L2068.6 1829.6 L2066.5 1826.7 L2062.3 1824.6 L2066.5 1821.7 L2067.1 1816.7 L2064.4 1813.0 L2059.1 1808.0 L2056.5 1804.7 M2056.5 1829.6 L2063.4 1831.7 L2064.9 1834.6 L2060.7 1837.9 L2057.0 1842.0 L2049.1 1845.3 L2046.0 1851.6 L2040.2 1854.9 L2033.3 1854.9 L2023.8 1852.4 L2024.9 1849.5 L2031.7 1844.1 L2044.9 1840.0 L2050.2 1835.0 L2053.3 1831.2 L2056.5 1829.6 M660.4 1467.7 L668.9 1468.1 L679.4 1466.5 L684.7 1468.5 L697.9 1468.1 L700.0 1468.5 L698.9 1464.4 L695.2 1462.7 L690.0 1459.4 L680.5 1459.0 L674.1 1462.3 L667.3 1465.2 L660.4 1467.7 M683.1 1488.4 L687.3 1488.4 L691.0 1485.1 L691.5 1479.7 L695.2 1473.9 L698.9 1471.4 L695.2 1471.0 L689.4 1471.4 L687.3 1474.8 L684.2 1476.8 L682.6 1483.0 L683.1 1488.4 M699.4 1471.0 L705.8 1471.0 L713.7 1470.6 L721.1 1471.0 L724.2 1474.8 L717.9 1475.6 L715.3 1478.9 L711.0 1483.0 L710.0 1480.6 L705.8 1478.9 L706.8 1475.6 L699.4 1471.0 M705.8 1488.4 L711.0 1489.7 L719.0 1488.0 L729.5 1484.3 L725.3 1483.5 L716.3 1484.7 L708.4 1486.8 L705.8 1488.4 M725.3 1481.8 L732.1 1481.8 L740.0 1481.8 L744.3 1480.6 L742.7 1478.1 L737.4 1478.9 L727.9 1480.1 L725.3 1481.8 M634.6 1451.9 L638.3 1447.8 L630.4 1439.1 L624.0 1438.6 L626.7 1443.6 L632.0 1447.8 L634.6 1451.9 M529.1 1408.3 L545.0 1405.9 L555.5 1403.0 L568.7 1400.9 L560.8 1404.2 L550.2 1407.5 L537.1 1408.8 L529.1 1408.3 M487.0 1391.8 L497.5 1386.4 L508.1 1383.5 L518.6 1384.7 L521.2 1388.4 L508.1 1389.7 L497.5 1392.2 L487.0 1391.8 M558.1 1416.7 L574.0 1414.6 L584.5 1415.4 L571.3 1417.1 L558.1 1416.7 M1392.2 1476.8 L1396.4 1472.3 L1401.7 1469.8 L1407.0 1468.5 L1415.9 1466.0 L1425.4 1466.9 L1426.5 1472.3 L1416.5 1476.4 L1411.2 1476.8 L1414.9 1482.6 L1423.8 1485.1 L1422.8 1488.0 L1425.4 1492.6 L1424.4 1496.3 L1428.1 1498.4 L1430.2 1503.8 L1430.2 1506.7 L1422.8 1509.2 L1414.9 1508.8 L1407.0 1505.9 L1403.8 1502.1 L1405.4 1497.6 L1407.0 1494.7 L1411.2 1493.8 L1407.0 1492.2 L1402.2 1488.0 L1396.4 1483.0 L1395.9 1479.3 L1392.2 1476.8 M1453.4 1469.4 L1459.7 1469.8 L1468.7 1473.1 L1467.6 1478.9 L1459.7 1481.0 L1454.4 1478.9 L1453.4 1474.8 L1453.4 1469.4 M1694.3 1446.9 L1702.2 1445.7 L1712.8 1440.7 L1720.7 1435.3 L1724.9 1430.3 L1720.7 1431.2 L1715.4 1437.4 L1707.5 1442.4 L1696.9 1446.1 L1694.3 1446.9 M1533.5 1470.6 L1541.4 1468.5 L1552.0 1468.9 L1562.5 1469.4 L1554.6 1471.8 L1541.4 1471.4 L1533.5 1470.6 M1304.2 1412.5 L1312.1 1411.3 L1318.9 1408.8 L1314.7 1406.3 L1306.8 1407.1 L1303.1 1409.6 L1304.2 1412.5 M1327.9 1408.3 L1333.2 1407.1 L1337.9 1402.1 L1330.5 1400.9 L1326.8 1403.4 L1327.9 1408.3 M1313.7 1665.7 L1317.3 1660.7 L1322.6 1660.3 L1325.3 1663.2 L1327.9 1664.8 L1322.6 1671.9 L1317.3 1671.9 L1313.7 1667.7 L1313.7 1665.7 M1299.9 1675.2 L1301.5 1680.2 L1302.6 1686.4 L1306.8 1690.5 L1309.4 1697.2 L1306.8 1695.9 L1302.1 1688.5 L1299.9 1682.2 L1299.9 1675.2 M1326.8 1701.3 L1328.4 1707.2 L1328.9 1713.4 L1331.6 1720.8 L1328.4 1717.9 L1326.8 1711.3 L1325.3 1705.1 L1326.8 1701.3 M778.0 1725.0 L783.3 1727.1 L781.2 1729.6 L777.5 1727.1 L778.0 1725.0 M1217.2 1604.2 L1222.4 1605.1 L1223.0 1608.0 L1218.8 1607.5 L1217.2 1604.2 M513.3 1967.6 L502.8 1966.5 L493.3 1966.5 L485.4 1970.3 L477.5 1977.3 L458.5 1977.3 L450.6 1972.3 L420.0 1972.3 L404.7 1975.2 L401.0 1977.3 L393.1 1975.2 L374.1 1977.3 L374.1 1983.1 L358.3 1984.0 L345.1 1985.6 L335.7 1985.6 L326.2 1982.7 L308.8 1981.5 L331.4 1992.7 L379.4 1997.2 L362.5 1999.3 L331.4 2001.4 L341.5 2009.7 L360.4 2012.6 L374.1 2016.7 L277.7 2016.7 L257.6 2013.0 L197.0 2012.6 M312.5 1986.4 L331.4 1986.4 L331.4 1989.3 L312.5 1989.3 L312.5 1986.4 M280.8 1987.7 L291.9 1988.5 L301.9 1993.5 L289.3 1994.7 L280.8 1990.6 L280.8 1987.7 M513.3 1967.8 L531.8 1968.2 L531.8 1974.8 L548.1 1974.8 L553.9 1968.2 L562.4 1971.1 L569.2 1974.0 L575.0 1971.1 L597.7 1972.8 L621.4 1972.8 L626.7 1966.5 L636.7 1960.3 L644.6 1963.6 L694.7 1963.6 L694.7 1966.1 L721.6 1966.1 L736.9 1962.0 L747.9 1962.0 L752.2 1968.2 L787.0 1966.1 L790.7 1959.5 L784.9 1953.7 L790.1 1947.0 L792.8 1939.5 L800.7 1933.3 L813.9 1928.8 L827.0 1925.0 L842.8 1924.2 L840.2 1927.1 L829.7 1930.4 L821.8 1935.4 L816.0 1941.6 L816.0 1947.8 L821.8 1954.1 L825.4 1959.5 L829.7 1967.4 L825.4 1971.1 L813.9 1976.1 L802.3 1979.8 L789.1 1981.5 L808.6 1981.5 L829.7 1981.0 L854.4 1985.6 L879.8 1987.7 L903.5 1990.6 L934.6 1990.6 L956.7 1987.7 L964.1 1983.1 L991.0 1981.0 L1020.0 1973.2 L1049.0 1965.7 L1083.3 1963.6 L1085.4 1957.8 L1099.1 1957.0 L1106.5 1954.9 L1129.7 1954.9 L1133.3 1953.2 L1146.0 1959.9 L1163.4 1954.9 L1182.4 1952.8 L1246.2 1952.8 L1246.7 1954.9 L1276.8 1954.9 L1278.9 1952.8 L1307.3 1952.8 L1309.4 1950.3 L1322.1 1949.5 L1323.7 1945.4 L1332.6 1950.3 L1350.0 1951.2 L1355.8 1948.3 L1371.1 1944.5 L1390.1 1941.6 L1398.0 1944.5 L1409.6 1941.6 L1413.3 1937.9 L1421.2 1935.0 L1438.1 1935.0 L1443.9 1938.7 L1462.3 1941.6 L1492.9 1944.1 L1513.5 1944.1 L1518.2 1954.5 L1524.0 1955.3 L1521.9 1950.8 L1541.4 1950.8 L1547.2 1946.2 L1574.1 1944.1 L1589.4 1940.4 L1627.9 1939.1 L1630.0 1936.2 L1635.8 1939.1 L1643.7 1937.5 L1654.8 1939.1 L1664.8 1937.5 L1670.6 1940.4 L1688.0 1935.4 L1697.5 1936.2 L1712.8 1937.5 L1741.8 1934.6 L1753.4 1937.5 L1762.8 1940.4 L1778.7 1940.0 L1790.3 1937.9 L1801.9 1939.5 L1813.5 1937.9 L1826.6 1939.5 L1834.6 1937.9 L1876.7 1937.9 L1878.8 1939.5 L1907.3 1939.5 L1921.0 1945.4 L1959.5 1945.4 L1965.3 1950.3 L1971.1 1948.3 L1995.9 1951.2 L1999.6 1957.0 L2003.8 1953.2 L2022.8 1954.9 L2043.9 1957.8 L2048.1 1959.9 L2038.1 1963.6 L2024.9 1968.6 L2009.6 1973.2 L2003.8 1977.3 L2013.3 1986.9 L2017.0 1986.9 L1992.2 1989.8 L1990.1 1993.5 L1993.8 2001.4 L2017.0 2005.1 L2028.6 2008.9 L2095.0 2010.9 M2024.9 1983.5 L2042.3 1983.5 M742.7 1952.8 L753.2 1951.2 L758.5 1954.1 L755.9 1959.5 L747.9 1958.2 L742.7 1952.8 M607.7 1960.3 L623.0 1959.5 L621.4 1963.6 L610.9 1963.6 L607.7 1960.3 M829.7 1920.9 L842.8 1922.1 L856.0 1923.8 M899.8 1913.0 L910.3 1913.0 M944.1 1886.0 L953.6 1886.8 L956.7 1889.8 M211.2 1843.7 L218.1 1843.7 M584.7 1330.3 L600.0 1330.3 L620.0 1332.9 M536.2 1336.7 L549.8 1335.0 L572.8 1334.6 L568.5 1337.6 L550.7 1337.6 L536.2 1337.6 M514.0 1339.3 L531.0 1339.3 L565.1 1340.1 L586.4 1340.1 M489.3 1343.5 L501.3 1341.8 L514.0 1341.8 L531.0 1342.7 L548.1 1343.5 L556.6 1346.1 L565.1 1347.8 L577.9 1344.4 L587.2 1346.1 L584.7 1349.5 L565.1 1349.5 L548.1 1351.2 L533.6 1348.6 L514.0 1347.8 L505.5 1346.1 L492.8 1345.2 L489.3 1343.5 M587.2 1339.3 L593.2 1340.1 L596.6 1345.2 L607.7 1347.8 L620.0 1349.5 M489.3 1351.6 L528.5 1351.6 L539.6 1354.6 L552.3 1356.3 L565.1 1356.3 L577.9 1357.1 L586.4 1354.6 L595.7 1356.3 M491.1 1352.9 L491.1 1356.3 L485.1 1360.9 L492.8 1365.2 L505.5 1365.6 L515.8 1360.5 L527.7 1356.3 M589.8 1358.0 L593.2 1363.9 L599.2 1367.3 L610.2 1368.2 L614.5 1370.7 L607.7 1374.1 L599.2 1376.7 L620.0 1380.1 M480.0 1371.6 L488.5 1369.9 L497.0 1369.9 L509.8 1371.6 L516.6 1374.1 L531.0 1375.0 L535.3 1378.4 L573.6 1377.5 L582.1 1375.0 L590.6 1375.0 L599.2 1376.7 M525.1 1367.3 L552.3 1367.8 L539.6 1371.6 L529.4 1370.7 L525.1 1367.3 M603.4 1358.0 L611.9 1354.6 L620.0 1354.6 M607.7 1360.5 L620.0 1363.1 M705.0 1316.9 L757.5 1316.5 L760.0 1314.0 M667.1 1320.8 L687.5 1319.9 L705.0 1317.4 M644.7 1325.2 L652.5 1322.8 L668.1 1322.8 L687.5 1326.2 L737.1 1325.7 M620.4 1327.6 L629.2 1328.1 L637.0 1334.9 L648.6 1337.8 L660.3 1336.9 L677.8 1336.4 L682.7 1329.1 L697.3 1332.0 L687.5 1337.8 L677.8 1341.7 L687.5 1343.7 L721.6 1344.6 L726.4 1342.7 L736.2 1338.8 L745.9 1335.9 L751.7 1332.0 L760.0 1329.6 M600.0 1332.0 L619.5 1332.5 L621.4 1335.9 L600.0 1336.9 M600.0 1342.7 L609.7 1343.7 L611.7 1347.6 L619.5 1349.5 L629.2 1347.6 L639.9 1347.6 L650.6 1348.5 L660.3 1351.5 L677.8 1352.4 L702.1 1352.4 L716.7 1355.4 L726.4 1356.4 L741.0 1356.4 L755.6 1359.3 L760.0 1363.2 M602.0 1358.3 L609.7 1355.4 L629.2 1354.4 L634.1 1356.4 L638.9 1362.2 L629.2 1363.2 L617.5 1362.2 L605.9 1359.3 L602.0 1358.3 M640.9 1353.4 L648.6 1351.5 L660.3 1354.4 L677.8 1356.4 L672.0 1359.3 L673.9 1365.1 L687.5 1369.0 L707.0 1370.9 L716.7 1369.0 L731.3 1370.0 L743.9 1372.9 L751.7 1377.7 L760.0 1376.8 M650.6 1359.3 L660.3 1365.1 L661.3 1370.0 L672.0 1376.8 L677.8 1372.9 L682.7 1377.7 L692.4 1380.6 L702.1 1382.6 L716.7 1380.6 M600.0 1368.0 L614.6 1369.0 L614.6 1371.9 L600.0 1373.8 M619.5 1373.8 L629.2 1370.9 L634.1 1374.8 L638.9 1379.7 L648.6 1372.9 M600.0 1377.7 L619.5 1380.6 M230.7 1718.4 L242.9 1719.2 M356.2 1733.7 L358.9 1735.0 M993.3 1500.7 L997.3 1500.7 M1008.4 1505.0 L1012.6 1505.0" stroke="#bcbcf2" stroke-width="3.6" stroke-linejoin="round"/><path d="M260.3 1389.3 L270.8 1386.8 L279.8 1385.1 L291.9 1387.6 L294.0 1385.1 L282.4 1382.6 L273.4 1379.3 L266.6 1377.8 L269.8 1375.6 L284.0 1373.1 L292.4 1369.8 L307.7 1367.7 L320.9 1365.2 L334.1 1367.3 L344.6 1367.7 L363.1 1369.8 L381.5 1370.6 L402.6 1372.5 L415.8 1373.9 L426.3 1375.6 L436.9 1373.1 L450.1 1372.7 L463.2 1371.0 L471.2 1368.5 L481.7 1373.1 L489.6 1373.5 L502.8 1371.8 L513.3 1373.9 L526.5 1375.6 L539.7 1379.3 L547.6 1380.1 L566.1 1379.3 L576.6 1378.1 L584.5 1378.5 L597.7 1379.3 L613.5 1380.1 L626.7 1381.0 L632.0 1378.1 L639.9 1378.5 L642.5 1373.9 L649.4 1371.8 L647.8 1364.8 L658.3 1362.7 L663.6 1367.7 L674.1 1373.9 L682.0 1376.8 L688.4 1379.3 L693.6 1373.1 L702.1 1371.8 L712.6 1374.3 L716.3 1377.2 L716.3 1382.2 L708.4 1386.4 L695.2 1385.5 L688.4 1385.5 L682.0 1393.8 L671.5 1395.9 L667.8 1398.8 L658.3 1403.4 L650.4 1408.3 L647.2 1414.6 L649.4 1417.5 L655.7 1422.9 L658.3 1425.0 L668.9 1424.1 L682.0 1427.9 L697.9 1432.0 L712.1 1432.8 L712.1 1439.5 L716.3 1444.5 L721.6 1448.6 L729.5 1447.4 L730.5 1443.6 L729.5 1437.4 L737.4 1431.2 L742.1 1427.0 L741.1 1420.8 L737.4 1416.7 L737.9 1409.2 L734.2 1403.0 L747.9 1403.0 L758.5 1403.0 L769.0 1407.5 L776.9 1408.3 L779.6 1414.6 L787.5 1418.7 L792.8 1418.7 L798.0 1416.7 L803.3 1413.3 L805.9 1411.3 L811.2 1416.7 L819.1 1422.9 L821.8 1427.0 L829.7 1431.2 L840.2 1434.9 L842.8 1437.4 L850.8 1441.5 L851.8 1445.7 L844.4 1448.2 L836.0 1449.0 L829.7 1452.8 L819.1 1453.2 L808.6 1453.2 L798.0 1453.6 L790.1 1456.9 L783.3 1460.2 L774.3 1465.6 L770.6 1467.3 L774.3 1466.5 L782.2 1462.3 L792.8 1458.2 L803.3 1457.3 L807.5 1459.0 L805.4 1461.5 L798.0 1462.3 L803.3 1464.0 L804.4 1466.5 L805.9 1469.4 L811.2 1471.4 L819.1 1471.8 L823.3 1472.3 L825.4 1467.3 L828.6 1467.3 L830.7 1470.6 L824.4 1473.5 L813.9 1476.4 L805.9 1478.9 L799.1 1480.6 L797.5 1477.7 L804.4 1473.9 L807.5 1473.1 L800.7 1472.3 L793.8 1474.3 L790.1 1476.8 L783.3 1477.7 L775.9 1480.1 L773.3 1483.9 L772.2 1486.4 L776.9 1487.6 L776.9 1488.9 L771.7 1489.3 L763.8 1490.5 L756.9 1492.2 L755.9 1493.4 L755.3 1496.3 L751.6 1500.1 L749.0 1498.0 L750.1 1501.3 L747.9 1504.6 L745.3 1507.1 L743.7 1503.8 L742.7 1499.7 L744.3 1508.0 L745.8 1510.9 L747.9 1515.0 L742.7 1517.5 L737.4 1519.2 L732.1 1521.2 L728.4 1523.7 L721.6 1527.5 L717.9 1530.8 L716.8 1536.2 L717.9 1539.9 L721.1 1544.5 L723.2 1549.5 L723.7 1554.4 L721.6 1556.9 L718.4 1556.9 L714.7 1552.8 L712.6 1550.3 L710.0 1545.7 L709.5 1541.2 L705.8 1537.8 L701.6 1537.0 L696.3 1538.2 L692.6 1535.8 L684.7 1535.8 L679.4 1535.3 L674.1 1536.2 L675.2 1540.3 L670.4 1540.7 L663.6 1539.1 L658.3 1538.7 L651.5 1538.2 L646.2 1539.9 L642.5 1542.0 L637.2 1544.5 L633.0 1547.4 L632.5 1553.6 L631.4 1559.8 L630.4 1568.1 L632.0 1573.1 L637.2 1580.2 L642.5 1583.5 L647.8 1586.0 L655.7 1585.1 L662.0 1584.3 L667.8 1580.6 L669.4 1575.2 L674.1 1573.1 L682.0 1572.3 L687.8 1573.1 L685.2 1578.5 L683.6 1583.5 L681.0 1587.6 L680.5 1593.0 L677.3 1595.5 L682.0 1595.9 L690.0 1595.5 L697.9 1595.1 L703.1 1596.8 L707.4 1599.2 L705.8 1605.5 L705.2 1611.7 L704.2 1615.8 L707.4 1620.0 L712.6 1623.3 L717.9 1625.0 L724.2 1622.9 L729.5 1622.1 L735.8 1624.6 L738.5 1625.8 L741.1 1627.5 L745.3 1622.9 L747.9 1618.3 L751.6 1615.8 L758.5 1614.6 L763.8 1612.5 L768.5 1610.0 L770.6 1612.5 L766.9 1615.0 L768.5 1616.3 L771.7 1614.2 L775.9 1613.4 L776.4 1611.3 L779.6 1613.8 L785.9 1616.7 L795.4 1617.5 L803.3 1619.6 L808.6 1617.1 L816.5 1617.1 L820.2 1617.5 L817.5 1620.0 L824.4 1625.4 L829.7 1627.1 L834.9 1630.4 L838.6 1633.3 L844.4 1636.6 L853.4 1637.0 L861.3 1637.4 L866.6 1638.7 L871.8 1642.0 L876.1 1644.9 L877.1 1649.0 L879.8 1654.0 L882.4 1657.3 L880.8 1661.5 L887.7 1662.3 L891.4 1664.8 L895.6 1664.0 L903.5 1665.7 L910.9 1670.6 L912.4 1672.7 L916.7 1671.5 L924.6 1673.1 L932.5 1673.1 L940.4 1675.6 L945.7 1679.3 L950.9 1682.2 L958.8 1683.1 L961.5 1688.5 L962.5 1693.9 L960.4 1698.8 L956.2 1703.8 L950.9 1708.0 L946.2 1713.4 L941.4 1716.3 L940.4 1723.8 L939.9 1731.2 L937.2 1737.4 L935.1 1742.8 L930.9 1750.7 L927.2 1754.0 L924.6 1757.0 L916.7 1757.0 L910.9 1758.2 L906.1 1760.3 L900.8 1761.5 L893.5 1765.2 L889.8 1769.4 L889.8 1776.9 L887.7 1780.6 L882.4 1785.2 L878.2 1790.2 L872.9 1794.3 L868.7 1799.7 L863.9 1803.4 L858.7 1805.9 L851.8 1805.9 L845.5 1804.3 L838.1 1802.6 L837.6 1805.9 L843.9 1809.2 L847.1 1812.6 L844.4 1816.3 L841.8 1820.0 L834.9 1822.1 L824.4 1822.9 L818.1 1823.3 L818.6 1827.5 L817.0 1830.4 L811.2 1832.5 L803.3 1830.8 L802.8 1835.8 L808.6 1836.2 L810.7 1838.7 L805.9 1839.5 L803.3 1842.4 L801.7 1846.6 L799.1 1848.2 L791.2 1851.6 L789.6 1854.5 L795.4 1857.4 L799.1 1860.3 L791.7 1864.0 L788.5 1866.9 L784.9 1869.8 L781.2 1873.2 L783.3 1875.6 L785.4 1878.5 L779.6 1878.5 L774.3 1880.6 L771.7 1884.8 L766.4 1883.9 L760.1 1881.5 L755.9 1878.5 L753.2 1873.2 L749.5 1869.0 L747.9 1863.6 L750.6 1859.9 L754.3 1856.5 L751.6 1853.2 L755.9 1849.5 L758.5 1844.1 L762.2 1839.1 L762.7 1833.7 L756.9 1834.1 L757.4 1827.5 L759.0 1823.3 L758.0 1816.7 L762.2 1810.1 L766.4 1802.6 L768.5 1798.5 L769.0 1790.2 L770.1 1783.9 L771.7 1776.9 L773.3 1769.4 L774.3 1761.1 L775.9 1752.8 L775.9 1744.5 L775.4 1737.9 L770.1 1734.5 L763.8 1731.2 L755.9 1727.1 L747.9 1722.9 L743.7 1718.4 L741.1 1713.4 L738.5 1710.5 L733.7 1703.0 L729.5 1696.8 L725.8 1691.4 L719.0 1686.4 L717.9 1681.4 L722.1 1676.0 L724.7 1672.3 L720.0 1671.0 L719.5 1665.7 L723.2 1661.5 L724.2 1658.2 L729.5 1656.1 L732.1 1652.0 L736.9 1648.2 L738.5 1644.9 L737.9 1638.7 L737.4 1633.3 L734.8 1630.4 L732.7 1627.1 L729.5 1625.0 L725.8 1625.0 L722.1 1627.5 L724.2 1630.4 L721.6 1631.2 L717.9 1629.5 L713.7 1627.5 L708.4 1626.6 L704.7 1624.2 L699.4 1620.8 L694.2 1620.4 L693.6 1616.7 L688.4 1610.9 L684.2 1607.5 L679.4 1606.7 L672.6 1605.5 L664.6 1603.8 L658.3 1600.9 L651.5 1595.9 L646.2 1594.3 L639.9 1596.3 L632.0 1595.1 L625.1 1593.0 L618.8 1591.4 L610.9 1588.5 L603.0 1586.0 L596.1 1582.7 L590.8 1579.3 L589.3 1576.4 L591.4 1572.3 L588.7 1568.1 L584.5 1564.0 L579.2 1559.8 L574.0 1556.5 L569.7 1552.4 L566.1 1548.6 L562.4 1545.7 L557.1 1542.0 L553.9 1539.1 L550.2 1533.7 L545.5 1530.8 L540.7 1529.5 L540.7 1532.8 L542.3 1537.0 L547.6 1541.2 L551.3 1545.3 L554.5 1549.5 L557.6 1553.6 L560.8 1557.8 L563.4 1561.1 L566.6 1566.0 L564.5 1564.0 L560.8 1561.1 L555.5 1558.6 L554.5 1553.6 L548.7 1550.3 L543.9 1547.0 L543.4 1545.3 L540.2 1539.1 L535.5 1535.3 L532.3 1531.2 L529.7 1528.7 L528.1 1525.8 L527.0 1523.3 L522.8 1521.2 L520.7 1520.4 L517.0 1519.2 L510.2 1518.3 L509.1 1515.4 L505.4 1512.1 L503.3 1509.6 L500.2 1505.9 L500.2 1504.2 L497.5 1503.0 L493.8 1499.7 L493.3 1496.3 L490.1 1493.8 L491.7 1490.5 L491.2 1487.2 L489.6 1483.9 L491.2 1479.7 L492.2 1474.8 L492.8 1469.8 L491.7 1466.9 L489.1 1463.1 L488.6 1460.6 L494.9 1461.5 L498.6 1464.4 L500.2 1460.2 L497.5 1458.2 L493.3 1455.7 L488.0 1453.6 L483.3 1451.9 L477.5 1450.3 L472.2 1448.6 L471.7 1445.3 L468.5 1442.4 L464.3 1439.1 L459.0 1436.2 L457.4 1433.2 L452.7 1429.9 L448.5 1427.0 L443.7 1423.7 L439.0 1420.0 L433.2 1417.1 L427.9 1419.1 L423.7 1417.5 L416.9 1415.4 L410.5 1413.3 L403.7 1412.9 L394.7 1412.5 L387.3 1412.1 L378.9 1410.4 L373.1 1408.8 L366.8 1410.4 L362.5 1412.5 L357.3 1413.7 L352.0 1415.0 L346.2 1415.8 L347.3 1412.5 L350.9 1410.0 L355.2 1407.5 L348.8 1408.3 L344.6 1410.4 L340.4 1413.3 L335.7 1415.8 L333.0 1418.3 L327.2 1420.8 L322.0 1423.3 L315.6 1425.8 L309.3 1428.3 L302.4 1430.3 L294.5 1432.0 L289.3 1433.7 L284.0 1434.9 L277.1 1435.7 L285.0 1433.2 L293.0 1429.5 L299.8 1428.3 L307.7 1425.0 L311.9 1421.6 L315.6 1419.1 L317.2 1417.5 L311.4 1417.9 L307.7 1417.1 L302.4 1418.3 L294.5 1418.3 L291.9 1415.4 L284.0 1413.3 L278.7 1411.3 L274.5 1409.2 L275.0 1406.3 L270.8 1404.2 L273.4 1401.7 L278.2 1399.6 L285.6 1400.0 L294.5 1398.4 L298.2 1396.7 L296.1 1394.2 L291.9 1393.8 L283.5 1393.4 L276.1 1393.8 L269.2 1393.4 L266.1 1391.3 L262.9 1390.5 L260.3 1389.3 M2095.0 1371.4 L2087.1 1367.7 L2078.7 1371.0 L2063.4 1371.4 L2048.1 1370.2 L2036.5 1371.4 L2021.2 1372.7 L2008.0 1372.2 L1994.8 1372.7 L1989.6 1369.8 L1987.4 1367.3 L1968.5 1366.4 L1951.6 1365.2 L1939.5 1364.4 L1936.3 1361.9 L1923.7 1361.0 L1917.3 1360.6 L1899.9 1359.8 L1886.2 1361.0 L1882.5 1358.1 L1868.3 1364.8 L1855.6 1365.6 L1846.2 1363.1 L1838.2 1367.3 L1828.8 1364.4 L1826.6 1360.2 L1825.1 1356.9 L1812.9 1356.1 L1799.8 1356.1 L1788.2 1359.0 L1776.0 1358.5 L1762.8 1356.1 L1747.0 1356.1 L1739.1 1355.2 L1728.6 1354.4 L1723.3 1352.7 L1733.9 1350.2 L1744.4 1347.8 L1741.8 1345.3 L1731.2 1342.8 L1710.1 1342.4 L1695.4 1339.0 L1681.1 1342.0 L1673.2 1344.4 L1660.0 1346.1 L1652.1 1346.5 L1639.0 1346.9 L1620.5 1348.2 L1604.7 1350.7 L1602.0 1353.2 L1604.7 1355.2 L1596.8 1356.5 L1581.0 1356.1 L1570.4 1356.5 L1572.0 1362.7 L1581.0 1363.9 L1583.6 1366.8 L1579.4 1371.0 L1584.6 1374.3 L1578.3 1375.2 L1573.0 1371.8 L1565.1 1371.8 L1558.8 1368.9 L1552.0 1366.0 L1547.7 1363.1 L1533.5 1363.5 L1530.9 1366.0 L1533.5 1371.8 L1530.9 1375.2 L1529.8 1378.1 L1523.0 1379.7 L1512.4 1383.5 L1509.8 1385.5 L1528.2 1386.4 L1533.5 1382.6 L1540.4 1379.3 L1538.8 1375.2 L1533.5 1368.9 L1529.8 1361.9 L1525.6 1359.0 L1517.7 1357.3 L1508.7 1359.4 L1501.9 1364.8 L1507.1 1368.1 L1507.1 1373.1 L1501.9 1377.2 L1488.7 1374.7 L1472.9 1372.2 L1465.0 1371.8 L1462.3 1376.0 L1454.4 1376.0 L1446.5 1377.2 L1436.0 1378.1 L1428.1 1377.6 L1429.6 1375.6 L1422.8 1377.2 L1414.9 1378.1 L1404.3 1380.1 L1396.4 1381.0 L1391.2 1383.5 L1383.2 1385.5 L1378.0 1387.6 L1379.0 1382.2 L1375.3 1378.5 L1364.8 1381.4 L1359.5 1385.5 L1351.6 1387.2 L1341.1 1386.4 L1330.5 1385.5 L1322.6 1385.1 L1330.5 1387.6 L1343.7 1389.7 L1354.3 1392.6 L1359.5 1393.8 L1351.6 1396.3 L1343.7 1394.7 L1338.4 1392.6 L1329.5 1393.8 L1328.4 1389.7 L1320.0 1386.4 L1317.3 1383.9 L1325.3 1384.3 L1338.4 1383.9 L1351.6 1385.1 L1362.2 1383.5 L1362.2 1380.1 L1354.3 1378.9 L1346.3 1377.2 L1333.2 1374.3 L1320.0 1373.5 L1309.4 1371.8 L1298.9 1371.0 L1288.3 1367.3 L1282.0 1366.4 L1272.5 1367.3 L1262.0 1368.5 L1251.4 1370.6 L1243.5 1371.8 L1235.6 1375.2 L1227.7 1377.6 L1221.4 1380.5 L1217.2 1383.5 L1213.5 1387.6 L1210.3 1390.9 L1204.0 1393.8 L1198.7 1397.1 L1190.8 1398.8 L1182.9 1400.9 L1175.0 1403.4 L1172.4 1407.5 L1172.4 1412.5 L1174.5 1416.7 L1176.6 1420.0 L1182.9 1420.8 L1190.8 1420.0 L1198.7 1416.7 L1201.9 1413.3 L1205.0 1416.7 L1208.2 1419.6 L1210.8 1423.7 L1213.0 1427.4 L1214.0 1430.8 L1220.9 1431.6 L1222.4 1429.1 L1230.4 1428.3 L1233.5 1424.1 L1234.0 1420.0 L1240.9 1416.7 L1245.1 1412.9 L1238.3 1410.0 L1237.2 1405.9 L1238.8 1401.7 L1245.1 1398.4 L1254.1 1395.9 L1259.4 1392.6 L1264.1 1388.4 L1272.5 1388.4 L1279.9 1391.3 L1278.9 1393.8 L1269.9 1396.7 L1262.0 1400.0 L1258.3 1403.0 L1259.4 1407.5 L1261.5 1410.4 L1267.3 1412.9 L1277.8 1411.3 L1287.3 1410.8 L1296.3 1410.4 L1303.1 1412.5 L1296.3 1413.3 L1291.0 1415.0 L1280.4 1414.6 L1269.9 1415.8 L1269.9 1418.7 L1274.1 1420.0 L1272.5 1422.9 L1274.1 1425.0 L1269.9 1425.0 L1264.6 1422.5 L1259.4 1423.7 L1256.7 1427.9 L1257.2 1430.3 L1257.8 1432.4 L1251.4 1433.7 L1248.8 1435.7 L1244.6 1435.7 L1243.5 1434.5 L1238.3 1434.1 L1230.4 1436.2 L1222.4 1437.8 L1218.8 1437.0 L1211.9 1435.7 L1204.0 1437.4 L1202.9 1435.3 L1198.7 1433.7 L1199.8 1431.2 L1202.4 1427.4 L1200.3 1423.7 L1201.9 1422.0 L1196.1 1424.5 L1191.3 1426.6 L1188.7 1429.1 L1191.3 1431.6 L1192.4 1436.6 L1188.2 1439.1 L1182.9 1439.9 L1177.6 1439.9 L1172.4 1440.7 L1170.8 1443.6 L1167.1 1446.1 L1163.4 1448.2 L1159.2 1449.4 L1154.4 1450.3 L1153.9 1453.2 L1148.6 1454.8 L1146.0 1456.5 L1140.7 1456.9 L1139.1 1455.2 L1136.0 1455.7 L1137.6 1459.8 L1131.2 1460.2 L1127.5 1459.0 L1121.2 1460.2 L1123.3 1462.3 L1130.2 1464.4 L1134.4 1466.0 L1136.5 1468.5 L1139.7 1471.4 L1139.7 1476.4 L1138.1 1481.0 L1132.8 1481.8 L1126.0 1481.0 L1117.0 1480.6 L1109.1 1480.6 L1102.8 1481.0 L1097.5 1483.0 L1099.1 1487.2 L1099.6 1491.3 L1099.1 1495.5 L1096.4 1499.7 L1098.0 1501.7 L1099.6 1504.6 L1099.1 1508.0 L1106.5 1507.5 L1112.3 1508.8 L1114.4 1511.3 L1117.5 1511.7 L1122.3 1509.6 L1132.8 1508.8 L1137.6 1506.3 L1142.3 1505.5 L1143.4 1502.1 L1147.1 1500.5 L1144.4 1497.6 L1146.0 1495.5 L1150.2 1492.2 L1153.9 1490.5 L1159.2 1488.9 L1162.9 1487.2 L1161.8 1483.5 L1164.5 1481.8 L1169.7 1481.0 L1175.0 1482.2 L1180.3 1482.6 L1185.5 1479.7 L1190.8 1477.7 L1196.1 1478.5 L1199.8 1479.7 L1201.4 1483.5 L1205.0 1485.5 L1210.3 1488.0 L1214.5 1490.1 L1219.8 1492.2 L1225.1 1494.7 L1228.8 1495.9 L1230.4 1499.2 L1228.8 1502.6 L1230.9 1503.8 L1233.5 1502.1 L1236.7 1499.7 L1235.6 1497.6 L1233.0 1496.3 L1235.6 1493.4 L1240.9 1494.7 L1243.5 1495.1 L1240.4 1492.6 L1234.6 1490.5 L1229.8 1488.9 L1230.4 1487.6 L1223.5 1486.8 L1218.8 1483.9 L1217.2 1481.0 L1211.4 1478.1 L1210.8 1473.9 L1214.5 1471.8 L1217.7 1472.3 L1219.3 1475.2 L1222.4 1473.9 L1226.1 1477.7 L1229.8 1480.6 L1235.6 1482.6 L1243.5 1485.1 L1248.3 1487.6 L1248.8 1491.3 L1247.8 1493.8 L1251.4 1497.2 L1255.1 1500.1 L1257.2 1502.6 L1260.4 1506.7 L1264.1 1510.0 L1267.8 1510.0 L1266.7 1505.9 L1268.8 1503.8 L1272.5 1503.0 L1266.2 1500.5 L1268.8 1498.0 L1265.2 1494.3 L1271.0 1495.1 L1274.6 1491.8 L1282.6 1491.8 L1286.2 1493.0 L1291.0 1491.8 L1298.4 1491.3 L1299.4 1490.5 L1295.7 1487.2 L1292.6 1484.7 L1292.0 1480.6 L1296.8 1477.7 L1298.4 1474.8 L1302.6 1473.5 L1306.3 1470.2 L1309.4 1468.1 L1317.3 1469.4 L1322.6 1471.0 L1317.3 1473.1 L1323.1 1476.8 L1329.5 1475.6 L1333.2 1474.3 L1338.4 1473.5 L1331.6 1469.8 L1338.4 1467.3 L1346.3 1466.0 L1352.7 1465.6 L1347.9 1468.1 L1344.8 1470.6 L1346.3 1473.1 L1341.1 1475.6 L1347.9 1477.7 L1354.3 1480.6 L1359.5 1483.0 L1365.3 1488.9 L1364.8 1489.7 L1358.5 1491.3 L1351.6 1490.9 L1343.7 1490.9 L1337.4 1489.3 L1331.6 1487.2 L1325.3 1487.2 L1320.0 1487.6 L1312.1 1490.1 L1304.2 1490.5 L1299.9 1491.3 L1293.6 1493.8 L1286.8 1493.8 L1284.1 1495.5 L1285.2 1499.7 L1287.3 1501.3 L1289.4 1504.2 L1290.5 1508.0 L1293.6 1508.8 L1298.4 1509.6 L1302.6 1511.3 L1307.3 1508.8 L1312.1 1509.6 L1317.3 1511.7 L1323.1 1511.3 L1328.9 1508.8 L1335.3 1509.2 L1335.3 1512.9 L1335.3 1516.7 L1333.7 1520.4 L1331.1 1524.5 L1328.4 1529.5 L1326.3 1531.6 L1320.0 1532.4 L1316.3 1532.0 L1309.4 1530.4 L1304.2 1531.6 L1298.9 1533.3 L1289.9 1531.6 L1278.9 1530.4 L1272.5 1528.7 L1267.3 1526.2 L1259.4 1525.0 L1252.0 1527.9 L1250.9 1532.0 L1246.7 1535.8 L1239.8 1533.3 L1230.4 1531.6 L1226.7 1527.9 L1219.3 1525.4 L1209.3 1525.0 L1205.0 1523.7 L1200.3 1521.6 L1203.5 1519.2 L1202.4 1515.8 L1204.5 1513.3 L1201.4 1510.4 L1204.5 1507.5 L1199.8 1507.1 L1196.1 1506.7 L1190.8 1508.4 L1182.9 1507.5 L1175.0 1509.2 L1167.1 1508.4 L1159.2 1509.6 L1151.3 1510.0 L1143.4 1512.9 L1138.1 1515.4 L1132.8 1515.4 L1126.0 1515.4 L1119.6 1513.3 L1114.9 1512.9 L1112.8 1515.8 L1110.1 1520.0 L1105.9 1522.1 L1101.2 1523.3 L1097.0 1526.6 L1094.3 1531.2 L1094.9 1534.9 L1094.3 1538.2 L1090.1 1542.0 L1085.4 1544.5 L1078.0 1545.7 L1074.8 1548.2 L1070.1 1552.4 L1067.4 1556.9 L1063.8 1560.7 L1060.6 1563.1 L1060.1 1566.0 L1056.9 1570.6 L1055.8 1574.3 L1057.4 1577.7 L1059.5 1580.2 L1061.1 1584.7 L1059.0 1593.0 L1056.9 1598.4 L1053.7 1600.5 L1056.9 1604.2 L1057.4 1610.0 L1060.6 1612.5 L1064.8 1615.0 L1068.5 1617.5 L1072.2 1620.8 L1076.4 1624.2 L1078.5 1627.9 L1082.7 1631.6 L1088.0 1634.1 L1093.3 1637.0 L1099.1 1640.8 L1105.9 1643.2 L1114.4 1642.0 L1122.3 1639.9 L1130.2 1640.3 L1135.5 1642.0 L1140.7 1640.3 L1148.6 1637.4 L1154.4 1635.8 L1160.2 1634.9 L1166.0 1634.9 L1170.8 1635.8 L1175.0 1638.7 L1177.6 1643.7 L1182.9 1643.2 L1189.8 1642.4 L1192.4 1644.1 L1196.6 1647.0 L1197.7 1651.1 L1196.1 1656.5 L1195.6 1660.3 L1195.0 1664.4 L1198.2 1669.8 L1204.0 1675.2 L1208.2 1679.3 L1210.8 1684.3 L1211.4 1689.7 L1215.6 1698.0 L1216.6 1705.1 L1218.8 1710.5 L1212.4 1717.5 L1210.3 1723.8 L1208.2 1731.2 L1208.7 1736.2 L1212.4 1741.6 L1216.6 1747.8 L1220.9 1754.9 L1222.4 1761.1 L1224.6 1769.4 L1226.7 1774.8 L1233.0 1780.2 L1236.7 1786.0 L1240.4 1792.2 L1242.5 1797.2 L1242.0 1800.5 L1243.5 1803.4 L1247.8 1805.1 L1251.4 1805.9 L1259.4 1804.3 L1264.6 1802.2 L1272.5 1803.0 L1281.0 1802.2 L1287.3 1800.9 L1293.1 1798.5 L1298.9 1794.3 L1304.2 1791.0 L1309.4 1785.2 L1316.3 1779.8 L1318.9 1771.5 L1317.9 1769.0 L1322.6 1766.5 L1330.5 1763.6 L1333.2 1758.6 L1333.2 1752.8 L1330.5 1746.6 L1333.2 1742.4 L1338.4 1739.5 L1343.7 1734.5 L1351.6 1732.0 L1358.5 1725.8 L1360.1 1720.4 L1359.5 1711.3 L1358.5 1705.1 L1354.3 1698.8 L1352.7 1692.6 L1350.6 1688.5 L1352.7 1682.2 L1355.3 1678.1 L1357.9 1673.1 L1362.2 1669.8 L1366.4 1666.5 L1370.6 1662.7 L1376.4 1657.8 L1383.2 1653.6 L1391.2 1649.0 L1398.0 1643.7 L1402.8 1638.7 L1407.0 1632.5 L1411.2 1626.2 L1414.4 1619.2 L1415.9 1612.5 L1409.6 1613.8 L1401.7 1615.0 L1393.8 1616.3 L1385.9 1617.5 L1378.0 1618.3 L1374.3 1612.9 L1371.1 1609.6 L1368.5 1607.5 L1364.8 1604.2 L1360.1 1599.7 L1354.3 1596.8 L1352.7 1593.0 L1349.5 1586.8 L1343.7 1583.5 L1342.1 1576.4 L1340.5 1570.2 L1334.2 1564.0 L1333.2 1559.8 L1328.4 1553.6 L1325.3 1549.5 L1322.6 1546.1 L1317.9 1537.4 L1316.3 1538.7 L1320.0 1543.2 L1323.1 1546.1 L1326.8 1545.3 L1327.9 1541.2 L1330.0 1539.1 L1328.4 1544.1 L1331.6 1545.3 L1336.9 1551.5 L1342.1 1558.6 L1346.9 1561.9 L1351.6 1568.1 L1352.7 1572.7 L1356.9 1577.3 L1361.1 1581.4 L1364.3 1586.8 L1369.0 1591.8 L1371.1 1595.5 L1371.7 1600.1 L1373.8 1606.3 L1375.3 1608.8 L1380.6 1608.8 L1385.4 1607.5 L1391.2 1605.9 L1399.1 1603.4 L1404.9 1601.3 L1410.7 1598.4 L1417.5 1597.2 L1421.2 1595.1 L1426.5 1592.6 L1433.3 1591.0 L1437.0 1589.3 L1439.1 1585.6 L1444.4 1584.7 L1446.0 1580.6 L1450.2 1578.5 L1453.9 1576.4 L1458.6 1571.0 L1461.3 1568.1 L1456.0 1564.0 L1450.7 1562.7 L1445.5 1559.4 L1442.8 1555.7 L1443.4 1552.4 L1441.8 1553.6 L1438.6 1556.1 L1433.3 1560.7 L1425.4 1561.5 L1418.0 1561.1 L1416.5 1555.7 L1418.0 1554.0 L1414.9 1553.6 L1412.2 1556.9 L1409.6 1551.5 L1407.0 1549.0 L1402.2 1545.3 L1399.1 1540.3 L1401.7 1537.4 L1407.0 1537.0 L1410.7 1537.4 L1413.8 1542.0 L1417.5 1545.7 L1422.8 1547.8 L1428.6 1550.3 L1434.9 1551.5 L1442.8 1549.0 L1447.6 1554.0 L1456.0 1555.7 L1470.2 1557.3 L1477.1 1556.9 L1486.1 1556.9 L1494.0 1556.1 L1497.7 1558.6 L1501.9 1562.3 L1507.1 1564.8 L1512.4 1568.1 L1516.6 1566.9 L1515.1 1573.1 L1520.3 1575.2 L1528.8 1572.7 L1529.8 1578.5 L1530.3 1583.1 L1532.5 1589.7 L1534.0 1595.9 L1538.3 1601.3 L1540.4 1608.4 L1543.5 1613.8 L1547.7 1620.0 L1549.9 1624.6 L1554.6 1627.9 L1558.3 1624.6 L1562.5 1622.9 L1564.1 1618.8 L1567.3 1618.8 L1567.3 1612.5 L1569.4 1605.5 L1568.8 1598.8 L1574.1 1595.1 L1579.9 1592.6 L1585.7 1588.9 L1593.1 1582.7 L1599.4 1579.3 L1603.6 1576.4 L1604.7 1572.3 L1611.0 1571.4 L1616.3 1571.0 L1620.5 1570.2 L1623.7 1568.1 L1628.4 1567.3 L1631.0 1572.3 L1632.6 1575.6 L1636.3 1578.9 L1640.0 1582.7 L1643.2 1586.8 L1644.2 1593.0 L1642.6 1595.1 L1646.9 1595.9 L1652.1 1593.0 L1658.5 1591.8 L1661.1 1595.1 L1661.6 1600.1 L1664.3 1605.5 L1665.8 1611.7 L1665.8 1617.9 L1664.3 1624.2 L1665.3 1627.9 L1668.0 1629.1 L1671.6 1634.5 L1674.8 1638.7 L1676.4 1644.1 L1680.1 1649.0 L1685.3 1652.4 L1691.1 1655.7 L1695.9 1655.7 L1692.2 1650.7 L1691.1 1644.9 L1690.6 1640.8 L1685.3 1635.8 L1681.1 1633.3 L1675.9 1631.2 L1674.3 1627.1 L1672.7 1622.9 L1669.0 1619.2 L1670.6 1613.8 L1672.7 1609.6 L1673.2 1605.9 L1678.0 1605.5 L1678.0 1608.8 L1683.8 1610.9 L1688.0 1613.4 L1691.1 1616.7 L1695.9 1617.9 L1698.5 1621.7 L1700.1 1625.8 L1705.9 1622.1 L1709.1 1618.8 L1714.9 1616.3 L1720.1 1613.8 L1721.7 1609.2 L1722.3 1604.2 L1719.6 1598.0 L1715.4 1594.7 L1710.7 1591.0 L1707.0 1586.0 L1703.3 1582.7 L1704.3 1579.3 L1708.0 1576.8 L1712.2 1573.5 L1717.0 1572.3 L1723.8 1571.9 L1727.5 1576.4 L1729.1 1573.5 L1734.4 1571.9 L1739.1 1571.0 L1744.4 1569.4 L1748.1 1569.0 L1751.8 1567.3 L1760.2 1566.5 L1766.5 1563.1 L1771.3 1559.4 L1776.0 1555.7 L1777.1 1551.1 L1780.8 1548.2 L1785.0 1544.5 L1788.2 1541.2 L1788.7 1537.4 L1783.9 1535.8 L1788.7 1533.3 L1785.5 1529.5 L1783.4 1526.2 L1781.8 1522.5 L1779.7 1518.7 L1775.0 1517.1 L1776.6 1513.8 L1782.4 1511.3 L1787.1 1508.8 L1791.8 1508.0 L1789.7 1505.9 L1782.9 1504.6 L1777.1 1507.1 L1772.9 1506.3 L1772.9 1503.0 L1766.5 1500.1 L1767.1 1498.4 L1772.9 1499.2 L1778.7 1496.7 L1785.0 1493.4 L1790.3 1493.4 L1787.1 1496.3 L1786.0 1499.7 L1789.7 1498.4 L1795.5 1496.7 L1801.3 1495.9 L1805.6 1497.2 L1807.1 1500.5 L1805.0 1503.8 L1810.3 1505.0 L1813.5 1508.0 L1811.9 1512.5 L1812.9 1517.5 L1818.2 1517.9 L1823.5 1516.7 L1828.2 1514.2 L1828.8 1510.0 L1828.2 1505.9 L1824.5 1502.1 L1820.8 1498.8 L1818.2 1496.3 L1824.0 1494.3 L1829.8 1492.2 L1830.3 1488.4 L1835.1 1485.5 L1839.3 1483.9 L1844.6 1483.0 L1851.4 1484.3 L1857.8 1481.0 L1864.6 1476.8 L1870.9 1472.3 L1875.1 1467.3 L1878.8 1463.1 L1885.2 1459.0 L1887.3 1454.0 L1887.3 1448.6 L1891.5 1443.6 L1888.3 1440.3 L1879.9 1437.4 L1871.5 1436.6 L1869.3 1433.7 L1860.4 1433.2 L1859.3 1431.2 L1868.3 1427.0 L1875.1 1422.9 L1884.1 1418.7 L1892.0 1415.8 L1898.9 1415.0 L1907.8 1415.4 L1915.7 1415.4 L1926.3 1415.0 L1936.3 1413.7 L1947.4 1416.7 L1957.9 1415.8 L1961.1 1413.7 L1971.1 1405.9 L1981.6 1404.2 L1990.6 1403.4 L1989.6 1407.1 L1981.6 1409.2 L1972.2 1414.2 L1968.5 1418.7 L1969.0 1423.3 L1966.4 1429.5 L1966.4 1437.4 L1970.0 1446.5 L1971.6 1449.4 L1978.0 1446.1 L1982.2 1442.4 L1989.6 1439.5 L1991.7 1435.7 L2000.1 1433.7 L1998.0 1430.8 L2002.2 1427.9 L2006.4 1427.9 L2002.2 1421.6 L2008.0 1417.1 L2013.3 1413.3 L2022.2 1410.8 L2031.7 1410.4 L2043.9 1412.5 L2055.5 1408.3 L2060.7 1405.4 L2071.3 1404.2 L2079.2 1401.7 L2089.7 1402.5 L2095.0 1401.7 M763.8 1337.8 L776.9 1331.6 L800.7 1327.4 L819.1 1321.6 L850.8 1320.0 L882.4 1319.5 L914.0 1317.0 L945.7 1315.0 L987.8 1314.6 L1019.5 1317.0 L1035.3 1320.0 L1037.9 1323.3 L1061.6 1323.3 L1080.1 1323.3 L1064.3 1328.3 L1051.1 1330.3 L1043.2 1335.7 L1048.5 1342.8 L1040.6 1346.9 L1043.2 1351.1 L1032.6 1354.4 L1030.0 1359.8 L1019.5 1360.6 L1030.0 1363.5 L1027.4 1367.7 L1016.8 1368.9 L1022.1 1371.0 L1008.9 1376.8 L990.5 1378.5 L977.3 1379.3 L966.7 1384.3 L950.9 1388.4 L937.7 1389.7 L932.5 1393.8 L927.2 1398.0 L921.9 1404.2 L919.3 1409.2 L916.7 1412.5 L908.8 1411.7 L900.8 1409.2 L890.3 1407.1 L883.4 1402.1 L879.8 1396.7 L874.5 1393.8 L869.2 1389.7 L863.9 1385.5 L866.6 1382.6 L862.4 1378.5 L874.5 1375.2 L877.1 1371.8 L869.2 1371.0 L858.7 1368.5 L874.5 1367.7 L863.9 1364.8 L853.4 1362.7 L856.0 1359.4 L848.1 1355.2 L842.8 1352.3 L834.9 1348.2 L821.8 1346.1 L803.3 1345.7 L784.9 1344.9 L771.7 1342.8 L766.4 1340.3 L763.8 1337.8 M820.2 1385.1 L813.9 1382.2 L805.9 1379.7 L798.0 1378.1 L790.1 1373.9 L784.9 1370.2 L774.3 1367.7 L766.4 1364.8 L755.9 1363.1 L742.7 1361.0 L732.1 1360.2 L721.6 1357.7 L719.0 1355.6 L703.1 1356.5 L692.6 1357.3 L682.0 1358.5 L674.1 1364.8 L684.7 1368.9 L697.9 1371.4 L711.0 1372.2 L719.0 1375.2 L732.1 1378.1 L742.7 1379.3 L750.6 1381.4 L761.1 1383.5 L758.5 1387.6 L761.1 1390.5 L745.3 1390.5 L737.4 1392.6 L740.0 1395.1 L750.6 1394.2 L758.5 1395.9 L766.4 1398.8 L774.3 1400.9 L782.2 1402.1 L790.1 1404.2 L798.0 1404.6 L800.7 1401.7 L790.1 1398.0 L800.7 1398.4 L805.9 1395.9 L803.3 1391.8 L795.4 1388.4 L790.1 1385.5 L800.7 1386.4 L811.2 1390.5 L819.1 1388.4 L820.2 1385.1 M671.5 1342.8 L697.9 1344.4 L724.2 1344.9 L734.8 1343.2 L734.8 1339.9 L745.3 1336.6 L755.9 1334.5 L766.4 1331.6 L787.5 1328.3 L803.3 1325.3 L813.9 1322.0 L819.1 1319.1 L798.0 1317.5 L766.4 1317.0 L734.8 1317.5 L703.1 1318.7 L682.0 1321.2 L663.6 1325.3 L676.8 1328.7 L692.6 1331.2 L690.0 1334.9 L682.0 1337.8 L671.5 1339.5 L671.5 1342.8 M690.0 1392.6 L695.2 1389.3 L705.8 1390.5 L716.3 1393.8 L721.6 1396.7 L713.7 1396.7 L700.5 1399.2 L692.6 1398.0 L687.3 1395.1 L690.0 1392.6 M708.4 1400.5 L716.3 1400.9 L711.0 1403.0 L704.2 1402.5 L708.4 1400.5 M1027.4 1389.7 L1019.5 1389.7 L1030.0 1385.9 L1040.6 1387.2 L1051.1 1386.8 L1061.6 1385.5 L1069.6 1386.8 L1068.0 1389.7 L1074.3 1391.3 L1069.6 1394.2 L1059.0 1396.3 L1048.5 1398.4 L1037.9 1397.1 L1026.3 1396.3 L1030.0 1394.2 L1019.5 1392.2 L1027.4 1389.7 M853.4 1447.4 L848.1 1451.9 L843.4 1456.1 L838.1 1460.2 L833.4 1464.0 L840.2 1464.0 L850.8 1464.0 L854.4 1466.9 L861.3 1466.9 L863.4 1468.1 L868.2 1466.9 L867.6 1463.1 L863.4 1464.0 L865.0 1460.2 L861.3 1456.9 L853.4 1456.1 L852.9 1451.9 L853.4 1447.4 M495.4 1460.6 L487.0 1458.6 L479.1 1456.1 L471.2 1452.8 L470.1 1450.7 L476.4 1451.5 L485.9 1454.0 L492.2 1457.3 L495.4 1460.6 M450.1 1437.4 L454.3 1440.3 L452.7 1444.5 L447.4 1442.4 L443.7 1438.2 L450.1 1437.4 M344.6 1420.8 L335.1 1425.0 L331.4 1423.3 L338.3 1420.0 L344.6 1420.8 M698.4 1570.6 L708.4 1566.5 L716.3 1565.6 L724.2 1566.0 L732.1 1568.5 L740.0 1572.3 L747.9 1574.3 L754.8 1577.3 L749.5 1578.9 L737.4 1578.9 L739.0 1576.0 L732.1 1572.3 L721.6 1570.2 L713.7 1569.0 L705.8 1570.6 L698.4 1570.6 M753.7 1578.9 L762.2 1578.9 L771.7 1578.9 L779.6 1581.4 L785.4 1584.3 L778.0 1585.1 L770.6 1588.0 L763.8 1586.0 L753.7 1585.1 L762.2 1584.3 L753.7 1578.9 M733.2 1585.1 L743.7 1586.0 L741.1 1587.2 L733.2 1586.0 L733.2 1585.1 M791.7 1584.7 L800.1 1585.1 L799.6 1586.8 L791.7 1586.8 L791.7 1584.7 M819.6 1616.7 L824.4 1616.7 L824.4 1619.6 L819.6 1619.6 L819.6 1616.7 M734.8 1551.1 L740.0 1550.7 L737.4 1551.5 L734.8 1551.1 M735.8 1558.6 L737.4 1561.1 L736.3 1561.9 L735.8 1558.6 M784.3 1879.8 L785.9 1883.5 L790.1 1886.4 L798.0 1889.3 L802.3 1888.9 L795.4 1890.6 L787.5 1891.4 L779.6 1891.0 L771.7 1888.9 L763.8 1885.6 L771.7 1882.7 L776.9 1882.7 L779.6 1880.2 L784.3 1879.8 M822.8 1874.4 L832.3 1874.4 L841.3 1875.2 L837.6 1878.5 L827.0 1878.1 L822.8 1874.4 M945.7 1885.6 L956.2 1886.8 L953.6 1888.1 L945.7 1886.4 M755.9 1835.0 L758.5 1835.0 L758.5 1841.2 L754.8 1840.8 L755.9 1835.0 M663.6 1662.3 L666.2 1663.6 L664.6 1665.7 L663.1 1664.0 L663.6 1662.3 M324.1 1577.7 L328.8 1579.7 L328.8 1581.8 L325.1 1583.1 L323.5 1580.2 L324.1 1577.7 M311.4 1571.9 L314.6 1573.1 L312.5 1573.1 L311.4 1571.9 M319.8 1574.3 L323.5 1575.2 L321.4 1576.0 L319.8 1574.3 M303.5 1569.4 L306.1 1569.4 L305.1 1570.6 L303.5 1569.4 M240.2 1396.7 L249.7 1397.6 L256.0 1399.2 L248.1 1398.8 L240.2 1398.4 L240.2 1396.7 M266.6 1410.8 L272.9 1411.7 L269.8 1413.3 L264.0 1411.7 L266.6 1410.8 M197.0 1364.8 L204.9 1364.4 L210.2 1366.0 L202.3 1367.3 L197.0 1366.8 M2095.0 1364.8 L2088.7 1366.0 L2095.0 1366.8 M215.5 1446.1 L218.1 1445.7 L220.7 1446.1 M204.9 1446.5 L208.6 1446.1 L212.8 1446.5 M226.0 1444.9 L231.3 1445.3 M249.7 1442.8 L257.6 1440.7 L265.5 1439.1 L270.8 1437.8 M236.5 1444.5 L241.8 1444.0 M1202.9 1334.1 L1209.3 1330.3 L1230.4 1329.9 L1240.9 1328.3 L1259.4 1328.3 L1277.8 1329.1 L1288.3 1330.7 L1267.3 1333.7 L1262.0 1337.0 L1246.2 1339.5 L1235.6 1343.6 L1230.4 1340.7 L1219.8 1339.5 L1217.2 1337.0 L1206.6 1335.7 L1202.9 1334.1 M1417.5 1364.8 L1425.4 1367.7 L1436.0 1368.5 L1449.2 1368.1 L1441.2 1364.8 L1438.6 1360.6 L1441.2 1357.3 L1449.2 1353.6 L1459.7 1350.2 L1472.9 1346.9 L1488.7 1344.9 L1507.1 1342.4 L1499.2 1342.0 L1478.2 1344.4 L1462.3 1346.1 L1446.5 1349.0 L1438.6 1353.2 L1430.7 1356.9 L1425.4 1359.8 L1417.5 1364.8 M1393.8 1327.4 L1420.2 1329.5 L1446.5 1328.3 L1472.9 1327.0 L1462.3 1323.3 L1436.0 1322.0 L1409.6 1324.5 L1393.8 1327.4 M1646.9 1333.7 L1668.0 1337.0 L1694.3 1338.2 L1699.6 1334.5 L1678.5 1330.3 L1662.7 1326.2 L1646.9 1325.3 L1636.3 1329.5 L1646.9 1333.7 M1870.9 1346.9 L1889.4 1347.8 L1902.6 1346.9 L1910.5 1348.2 L1894.7 1345.7 L1876.2 1345.3 L1870.9 1346.9 M1926.3 1349.0 L1944.7 1349.8 L1936.8 1347.8 L1926.3 1349.0 M1884.1 1356.1 L1897.3 1355.6 L1902.6 1357.7 L1889.4 1357.7 L1884.1 1356.1 M1401.7 1374.3 L1408.6 1373.9 L1405.4 1376.0 L1401.7 1374.3 M1454.4 1369.8 L1465.0 1371.0 L1459.7 1371.8 L1454.4 1369.8 M1119.6 1418.3 L1130.2 1418.3 L1127.5 1421.2 L1135.5 1422.0 L1136.5 1423.7 L1132.8 1427.0 L1130.2 1429.1 L1135.5 1429.9 L1138.1 1433.2 L1143.4 1436.2 L1147.1 1439.5 L1148.6 1441.5 L1155.0 1442.8 L1154.4 1445.7 L1150.2 1447.8 L1153.4 1449.0 L1148.6 1450.7 L1140.7 1451.1 L1132.8 1451.5 L1127.5 1452.8 L1119.6 1454.0 L1115.9 1453.6 L1122.3 1450.3 L1129.1 1449.0 L1123.3 1447.4 L1118.6 1446.5 L1123.9 1444.0 L1121.2 1442.4 L1124.9 1440.3 L1130.2 1440.3 L1130.2 1437.4 L1128.1 1435.3 L1120.7 1434.1 L1119.1 1431.6 L1120.7 1429.5 L1116.5 1428.3 L1117.0 1425.0 L1113.3 1422.9 L1115.4 1420.8 L1119.6 1418.3 M1113.3 1435.3 L1115.9 1435.3 L1114.4 1438.2 L1113.8 1441.5 L1112.3 1444.9 L1106.5 1445.7 L1097.5 1447.4 L1092.2 1446.5 L1094.3 1443.6 L1097.5 1440.7 L1093.3 1439.5 L1094.3 1436.6 L1101.2 1436.2 L1102.2 1433.2 L1107.5 1432.0 L1113.3 1435.3 M1211.4 1504.6 L1216.1 1503.0 L1228.2 1502.6 L1226.1 1506.7 L1225.6 1509.2 L1221.4 1508.0 L1211.4 1504.6 M1190.3 1491.8 L1194.5 1490.5 L1197.7 1493.4 L1196.6 1498.8 L1192.9 1499.7 L1190.3 1499.2 L1190.8 1494.7 L1190.3 1491.8 M1191.3 1485.5 L1195.6 1483.0 L1196.6 1487.2 L1194.5 1489.7 L1191.9 1488.4 L1191.3 1485.5 M1269.9 1513.8 L1275.2 1514.6 L1284.7 1515.0 L1280.4 1516.2 L1275.2 1515.8 L1269.9 1515.0 L1269.9 1513.8 M1316.3 1516.2 L1320.0 1515.0 L1328.4 1513.3 L1325.3 1516.2 L1320.0 1517.9 L1316.3 1516.2 M1204.0 1429.9 L1212.4 1429.1 L1210.8 1432.4 L1205.0 1432.4 L1204.0 1429.9 M1197.7 1431.2 L1202.9 1432.0 L1201.4 1433.2 L1197.7 1432.4 L1197.7 1431.2 M1242.0 1421.2 L1246.2 1421.6 L1243.5 1424.5 L1242.0 1421.2 M1158.7 1497.2 L1163.9 1496.3 L1162.9 1498.4 L1158.7 1497.2 M1405.9 1711.3 L1409.6 1717.5 L1412.2 1725.8 L1408.6 1731.2 L1407.0 1736.2 L1403.3 1744.5 L1399.1 1754.9 L1394.8 1764.4 L1385.9 1767.3 L1378.0 1765.2 L1375.9 1759.0 L1374.3 1752.0 L1379.6 1744.5 L1378.0 1734.1 L1380.6 1728.7 L1388.5 1727.1 L1396.4 1722.9 L1401.7 1717.5 L1405.9 1711.3 M1567.3 1620.8 L1572.0 1622.1 L1575.2 1626.2 L1577.3 1631.2 L1574.6 1635.8 L1568.8 1636.6 L1566.7 1633.3 L1566.7 1627.5 L1567.3 1620.8 M1427.5 1608.8 L1433.3 1609.2 L1429.6 1610.5 L1427.5 1608.8 M1449.2 1744.5 L1450.7 1746.2 M1437.6 1748.7 L1439.7 1749.9 M1509.8 1864.0 L1517.7 1864.8 L1515.1 1867.3 L1509.8 1864.0 M1718.6 1581.8 L1723.3 1578.5 L1729.1 1578.1 L1731.2 1580.2 L1728.6 1583.9 L1723.3 1586.0 L1719.1 1584.7 L1718.6 1581.8 M1783.9 1557.3 L1788.7 1557.8 L1786.6 1564.0 L1783.4 1570.2 L1779.7 1566.9 L1779.2 1563.1 L1783.9 1557.3 M1884.1 1489.3 L1890.4 1488.0 L1893.6 1484.7 L1901.5 1487.2 L1907.8 1483.0 L1913.1 1481.8 L1911.5 1477.7 L1902.6 1478.1 L1894.1 1472.7 L1892.5 1477.7 L1891.5 1482.2 L1885.7 1481.8 L1884.1 1485.1 L1884.1 1489.3 M1891.5 1489.7 L1894.1 1495.5 L1894.7 1499.7 L1889.4 1502.6 L1889.4 1508.0 L1887.3 1512.1 L1888.9 1513.3 L1883.1 1516.2 L1878.8 1517.5 L1872.5 1517.9 L1867.8 1519.2 L1863.0 1522.5 L1858.3 1521.2 L1859.9 1517.9 L1852.5 1517.9 L1844.6 1519.2 L1836.7 1520.4 L1836.7 1517.9 L1847.2 1514.2 L1857.8 1513.3 L1863.0 1512.5 L1867.2 1508.0 L1869.9 1506.3 L1876.2 1504.2 L1881.5 1501.7 L1883.6 1496.3 L1884.1 1493.0 L1888.3 1490.5 L1891.5 1489.7 M1841.9 1521.2 L1847.2 1519.2 L1855.6 1519.6 L1856.2 1521.2 L1849.8 1522.9 L1846.2 1525.4 L1841.9 1521.2 M1830.3 1522.5 L1836.1 1520.8 L1841.9 1523.7 L1839.3 1528.7 L1836.7 1532.8 L1832.4 1532.0 L1832.4 1526.6 L1829.3 1524.5 L1830.3 1522.5 M1894.7 1436.2 L1899.9 1439.5 L1901.0 1445.7 L1901.5 1454.0 L1907.3 1458.2 L1901.0 1457.3 L1897.3 1462.3 L1899.9 1467.7 L1897.3 1470.6 L1894.1 1468.5 L1895.2 1463.1 L1894.1 1459.0 L1895.7 1451.9 L1893.1 1445.7 L1893.6 1440.3 L1894.7 1436.2 M1914.7 1480.1 L1918.9 1478.5 M1922.6 1476.4 L1927.9 1474.8 M1933.1 1472.3 L1936.8 1470.6 M1781.8 1584.7 L1788.7 1585.6 L1790.8 1591.0 L1789.2 1595.1 L1786.6 1598.0 L1788.2 1602.6 L1792.9 1602.6 L1799.8 1606.3 L1797.1 1608.4 L1791.8 1605.5 L1787.1 1604.2 L1781.8 1602.2 L1781.8 1599.2 L1778.7 1596.8 L1780.2 1593.0 L1781.8 1584.7 M1797.6 1625.4 L1802.4 1626.2 L1807.7 1621.7 L1813.5 1631.2 L1810.3 1635.4 L1807.1 1638.3 L1800.8 1635.4 L1799.8 1630.8 L1790.3 1632.5 L1794.0 1628.7 L1797.6 1625.4 M1801.3 1609.6 L1808.2 1610.5 L1808.7 1615.8 L1804.5 1619.2 L1801.3 1613.8 L1801.3 1609.6 M1788.7 1612.5 L1794.5 1613.8 L1791.8 1617.9 L1788.7 1617.5 L1788.7 1612.5 M1794.0 1616.3 L1797.1 1617.1 L1795.5 1623.3 L1791.3 1621.2 L1794.0 1616.3 M1780.8 1605.5 L1785.5 1605.9 L1786.6 1610.0 L1782.9 1610.5 L1780.8 1605.5 M1763.9 1626.6 L1775.5 1617.9 L1776.6 1614.6 L1773.4 1618.8 L1766.0 1625.8 L1763.9 1626.6 M1720.7 1654.0 L1723.8 1653.2 L1731.2 1654.0 L1733.9 1650.3 L1741.8 1648.2 L1747.0 1642.4 L1754.4 1639.9 L1758.6 1635.8 L1762.8 1632.5 L1766.5 1634.9 L1774.4 1639.5 L1769.2 1642.4 L1767.1 1647.0 L1768.1 1652.0 L1772.9 1657.3 L1767.6 1658.2 L1765.5 1663.6 L1761.3 1667.7 L1759.7 1671.9 L1757.6 1676.4 L1749.7 1678.1 L1741.8 1675.2 L1734.9 1674.0 L1727.0 1673.5 L1725.9 1669.0 L1722.8 1664.8 L1720.7 1660.3 L1720.7 1654.0 M1648.4 1638.3 L1660.0 1639.9 L1664.3 1644.1 L1670.6 1647.8 L1675.9 1652.4 L1680.1 1654.4 L1686.4 1657.3 L1691.7 1661.5 L1693.3 1665.7 L1696.9 1669.8 L1702.7 1674.0 L1704.9 1678.9 L1703.8 1685.6 L1697.5 1686.0 L1691.7 1681.8 L1685.3 1678.1 L1679.5 1672.7 L1675.3 1666.5 L1671.1 1661.1 L1666.9 1654.9 L1661.6 1651.5 L1656.4 1647.0 L1649.0 1641.6 L1648.4 1638.3 M1700.6 1689.7 L1704.9 1686.0 L1712.8 1686.4 L1717.0 1687.6 L1723.3 1689.7 L1728.6 1690.1 L1733.9 1688.9 L1740.2 1690.1 L1749.1 1693.5 L1749.7 1697.6 L1741.8 1695.9 L1731.2 1695.5 L1720.7 1693.5 L1712.8 1693.0 L1707.0 1692.2 L1700.6 1689.7 M1750.2 1695.1 L1755.5 1696.4 L1753.4 1698.0 L1750.2 1696.4 L1750.2 1695.1 M1757.6 1695.9 L1761.3 1696.4 L1760.2 1698.4 L1757.6 1697.6 L1757.6 1695.9 M1762.3 1696.8 L1769.7 1695.9 L1773.9 1697.6 L1765.5 1698.8 L1762.3 1696.8 M1778.1 1696.8 L1786.6 1696.8 L1794.5 1695.9 L1790.8 1698.0 L1778.7 1698.0 L1778.1 1696.8 M1773.4 1700.9 L1782.9 1702.2 L1779.7 1703.8 L1773.4 1702.2 L1773.4 1700.9 M1797.1 1704.2 L1802.4 1700.9 L1807.7 1698.0 L1816.6 1696.4 L1807.7 1700.1 L1799.8 1703.4 L1797.1 1704.2 M1775.0 1684.7 L1776.6 1678.1 L1773.9 1675.6 L1772.9 1671.9 L1776.0 1665.7 L1777.6 1659.4 L1780.2 1657.8 L1786.6 1657.3 L1794.5 1657.8 L1801.9 1657.3 L1806.1 1654.9 L1802.4 1659.4 L1795.5 1659.8 L1786.6 1659.4 L1781.8 1660.7 L1780.8 1664.8 L1785.0 1665.7 L1793.4 1664.8 L1796.1 1665.7 L1790.8 1668.6 L1786.0 1671.9 L1790.3 1674.8 L1793.4 1681.0 L1789.2 1681.4 L1785.0 1680.2 L1782.9 1676.0 L1780.8 1684.3 L1775.0 1684.7 M1818.7 1652.8 L1821.4 1655.3 L1824.5 1656.5 L1820.3 1659.0 L1824.0 1660.3 L1820.3 1662.7 L1822.4 1664.8 L1818.2 1663.6 L1818.7 1652.8 M1820.8 1674.8 L1828.8 1673.1 L1835.6 1675.6 L1828.8 1676.4 L1820.8 1676.0 L1820.8 1674.8 M1810.3 1674.8 L1816.6 1675.2 L1813.5 1677.3 L1810.3 1676.4 L1810.3 1674.8 M1836.7 1666.9 L1843.5 1663.2 L1853.0 1664.8 L1857.8 1675.2 L1870.9 1667.7 L1884.1 1671.5 L1897.3 1675.2 L1907.8 1677.3 L1915.7 1682.2 L1924.2 1686.8 L1925.2 1690.5 L1920.5 1692.2 L1927.3 1695.1 L1933.1 1699.3 L1941.1 1704.2 L1935.8 1705.1 L1926.3 1703.0 L1918.4 1698.0 L1910.5 1693.9 L1904.1 1693.9 L1902.6 1696.8 L1897.3 1700.1 L1889.4 1699.3 L1878.8 1695.1 L1873.6 1696.4 L1872.0 1692.2 L1877.8 1689.7 L1873.6 1684.7 L1868.3 1681.8 L1857.8 1679.8 L1849.8 1677.3 L1846.2 1678.1 L1841.9 1673.5 L1849.8 1671.9 L1841.9 1670.2 L1836.7 1666.9 M1928.4 1684.3 L1936.8 1682.2 L1944.7 1679.3 L1949.0 1679.8 L1946.3 1682.2 L1939.5 1687.2 L1931.6 1686.8 L1928.4 1684.3 M1939.5 1672.3 L1947.4 1675.2 L1953.2 1680.2 L1950.0 1678.1 L1943.2 1674.0 L1939.5 1672.3 M1961.1 1682.2 L1965.8 1686.4 L1968.5 1689.7 L1964.8 1688.5 L1961.1 1682.2 M1976.4 1695.5 L1984.3 1695.9 L1988.5 1698.8 L1981.6 1698.0 M1987.4 1700.1 L1993.8 1702.2 L1989.6 1702.6 M1992.7 1696.8 L1997.5 1700.9 M2024.4 1722.1 L2027.5 1725.8 L2029.1 1730.0 L2033.3 1735.0 M2010.6 1745.3 L2018.6 1748.7 L2026.5 1753.6 L2022.8 1753.6 L2013.3 1748.7 L2010.6 1745.3 M2080.8 1734.1 L2087.1 1734.1 L2086.0 1737.0 L2080.8 1735.8 L2080.8 1734.1 M2088.7 1729.6 L2095.0 1728.3 M1744.4 1752.8 L1747.6 1752.0 L1749.7 1754.9 L1754.9 1750.7 L1761.8 1747.0 L1770.8 1745.7 L1778.7 1743.7 L1786.6 1740.3 L1790.8 1734.1 L1794.5 1730.0 L1799.2 1731.2 L1802.4 1725.8 L1807.7 1721.7 L1812.9 1719.2 L1819.3 1720.8 L1822.4 1723.8 L1828.8 1722.9 L1830.3 1717.5 L1834.6 1713.0 L1839.3 1712.1 L1845.1 1711.3 L1846.2 1708.4 L1852.5 1710.9 L1860.4 1712.1 L1867.2 1710.9 L1865.7 1715.0 L1862.0 1717.1 L1860.4 1722.9 L1865.7 1725.8 L1872.5 1729.6 L1879.9 1733.7 L1888.3 1734.1 L1892.0 1727.9 L1892.5 1719.6 L1892.5 1713.4 L1894.7 1707.2 L1897.3 1705.9 L1899.9 1711.3 L1902.6 1717.5 L1907.8 1720.8 L1912.1 1723.8 L1913.1 1730.0 L1916.8 1738.3 L1923.7 1742.4 L1930.5 1746.6 L1934.2 1753.6 L1940.0 1755.3 L1942.1 1760.3 L1950.0 1765.2 L1953.7 1771.5 L1955.8 1779.8 L1952.7 1788.1 L1951.1 1794.3 L1944.7 1800.5 L1941.1 1805.9 L1936.8 1813.0 L1936.3 1817.1 L1927.9 1818.4 L1921.0 1820.4 L1916.8 1823.3 L1913.1 1821.3 L1907.8 1820.0 L1902.6 1822.5 L1894.7 1820.9 L1886.7 1819.2 L1882.5 1815.0 L1881.5 1810.1 L1876.2 1809.2 L1874.1 1804.3 L1872.0 1807.6 L1867.2 1808.0 L1870.9 1802.6 L1872.5 1798.5 L1869.9 1801.4 L1863.0 1805.9 L1858.8 1805.1 L1853.5 1798.5 L1844.6 1794.3 L1836.7 1792.2 L1826.1 1793.1 L1815.6 1795.5 L1805.0 1797.6 L1797.1 1802.2 L1789.2 1802.6 L1778.7 1802.6 L1770.8 1805.9 L1762.8 1807.2 L1754.9 1804.3 L1752.3 1800.9 L1756.0 1799.7 L1756.0 1792.2 L1752.3 1786.0 L1751.8 1779.8 L1748.1 1773.5 L1744.4 1769.4 L1746.0 1763.2 L1744.4 1757.0 L1744.4 1752.8 M1908.9 1830.4 L1915.7 1832.1 L1923.7 1831.2 L1927.9 1831.7 L1926.3 1837.9 L1921.0 1842.0 L1915.7 1842.0 L1911.5 1837.9 L1908.9 1830.4 M2056.5 1804.7 L2060.7 1806.8 L2066.0 1810.9 L2068.6 1814.2 L2072.9 1815.0 L2076.5 1818.0 L2084.5 1817.5 L2086.6 1821.7 L2079.2 1824.2 L2078.1 1827.5 L2072.9 1832.9 L2069.7 1834.1 L2067.1 1832.5 L2068.6 1829.6 L2066.5 1826.7 L2062.3 1824.6 L2066.5 1821.7 L2067.1 1816.7 L2064.4 1813.0 L2059.1 1808.0 L2056.5 1804.7 M2056.5 1829.6 L2063.4 1831.7 L2064.9 1834.6 L2060.7 1837.9 L2057.0 1842.0 L2049.1 1845.3 L2046.0 1851.6 L2040.2 1854.9 L2033.3 1854.9 L2023.8 1852.4 L2024.9 1849.5 L2031.7 1844.1 L2044.9 1840.0 L2050.2 1835.0 L2053.3 1831.2 L2056.5 1829.6 M660.4 1467.7 L668.9 1468.1 L679.4 1466.5 L684.7 1468.5 L697.9 1468.1 L700.0 1468.5 L698.9 1464.4 L695.2 1462.7 L690.0 1459.4 L680.5 1459.0 L674.1 1462.3 L667.3 1465.2 L660.4 1467.7 M683.1 1488.4 L687.3 1488.4 L691.0 1485.1 L691.5 1479.7 L695.2 1473.9 L698.9 1471.4 L695.2 1471.0 L689.4 1471.4 L687.3 1474.8 L684.2 1476.8 L682.6 1483.0 L683.1 1488.4 M699.4 1471.0 L705.8 1471.0 L713.7 1470.6 L721.1 1471.0 L724.2 1474.8 L717.9 1475.6 L715.3 1478.9 L711.0 1483.0 L710.0 1480.6 L705.8 1478.9 L706.8 1475.6 L699.4 1471.0 M705.8 1488.4 L711.0 1489.7 L719.0 1488.0 L729.5 1484.3 L725.3 1483.5 L716.3 1484.7 L708.4 1486.8 L705.8 1488.4 M725.3 1481.8 L732.1 1481.8 L740.0 1481.8 L744.3 1480.6 L742.7 1478.1 L737.4 1478.9 L727.9 1480.1 L725.3 1481.8 M634.6 1451.9 L638.3 1447.8 L630.4 1439.1 L624.0 1438.6 L626.7 1443.6 L632.0 1447.8 L634.6 1451.9 M529.1 1408.3 L545.0 1405.9 L555.5 1403.0 L568.7 1400.9 L560.8 1404.2 L550.2 1407.5 L537.1 1408.8 L529.1 1408.3 M487.0 1391.8 L497.5 1386.4 L508.1 1383.5 L518.6 1384.7 L521.2 1388.4 L508.1 1389.7 L497.5 1392.2 L487.0 1391.8 M558.1 1416.7 L574.0 1414.6 L584.5 1415.4 L571.3 1417.1 L558.1 1416.7 M1392.2 1476.8 L1396.4 1472.3 L1401.7 1469.8 L1407.0 1468.5 L1415.9 1466.0 L1425.4 1466.9 L1426.5 1472.3 L1416.5 1476.4 L1411.2 1476.8 L1414.9 1482.6 L1423.8 1485.1 L1422.8 1488.0 L1425.4 1492.6 L1424.4 1496.3 L1428.1 1498.4 L1430.2 1503.8 L1430.2 1506.7 L1422.8 1509.2 L1414.9 1508.8 L1407.0 1505.9 L1403.8 1502.1 L1405.4 1497.6 L1407.0 1494.7 L1411.2 1493.8 L1407.0 1492.2 L1402.2 1488.0 L1396.4 1483.0 L1395.9 1479.3 L1392.2 1476.8 M1453.4 1469.4 L1459.7 1469.8 L1468.7 1473.1 L1467.6 1478.9 L1459.7 1481.0 L1454.4 1478.9 L1453.4 1474.8 L1453.4 1469.4 M1694.3 1446.9 L1702.2 1445.7 L1712.8 1440.7 L1720.7 1435.3 L1724.9 1430.3 L1720.7 1431.2 L1715.4 1437.4 L1707.5 1442.4 L1696.9 1446.1 L1694.3 1446.9 M1533.5 1470.6 L1541.4 1468.5 L1552.0 1468.9 L1562.5 1469.4 L1554.6 1471.8 L1541.4 1471.4 L1533.5 1470.6 M1304.2 1412.5 L1312.1 1411.3 L1318.9 1408.8 L1314.7 1406.3 L1306.8 1407.1 L1303.1 1409.6 L1304.2 1412.5 M1327.9 1408.3 L1333.2 1407.1 L1337.9 1402.1 L1330.5 1400.9 L1326.8 1403.4 L1327.9 1408.3 M1313.7 1665.7 L1317.3 1660.7 L1322.6 1660.3 L1325.3 1663.2 L1327.9 1664.8 L1322.6 1671.9 L1317.3 1671.9 L1313.7 1667.7 L1313.7 1665.7 M1299.9 1675.2 L1301.5 1680.2 L1302.6 1686.4 L1306.8 1690.5 L1309.4 1697.2 L1306.8 1695.9 L1302.1 1688.5 L1299.9 1682.2 L1299.9 1675.2 M1326.8 1701.3 L1328.4 1707.2 L1328.9 1713.4 L1331.6 1720.8 L1328.4 1717.9 L1326.8 1711.3 L1325.3 1705.1 L1326.8 1701.3 M778.0 1725.0 L783.3 1727.1 L781.2 1729.6 L777.5 1727.1 L778.0 1725.0 M1217.2 1604.2 L1222.4 1605.1 L1223.0 1608.0 L1218.8 1607.5 L1217.2 1604.2 M513.3 1967.6 L502.8 1966.5 L493.3 1966.5 L485.4 1970.3 L477.5 1977.3 L458.5 1977.3 L450.6 1972.3 L420.0 1972.3 L404.7 1975.2 L401.0 1977.3 L393.1 1975.2 L374.1 1977.3 L374.1 1983.1 L358.3 1984.0 L345.1 1985.6 L335.7 1985.6 L326.2 1982.7 L308.8 1981.5 L331.4 1992.7 L379.4 1997.2 L362.5 1999.3 L331.4 2001.4 L341.5 2009.7 L360.4 2012.6 L374.1 2016.7 L277.7 2016.7 L257.6 2013.0 L197.0 2012.6 M312.5 1986.4 L331.4 1986.4 L331.4 1989.3 L312.5 1989.3 L312.5 1986.4 M280.8 1987.7 L291.9 1988.5 L301.9 1993.5 L289.3 1994.7 L280.8 1990.6 L280.8 1987.7 M513.3 1967.8 L531.8 1968.2 L531.8 1974.8 L548.1 1974.8 L553.9 1968.2 L562.4 1971.1 L569.2 1974.0 L575.0 1971.1 L597.7 1972.8 L621.4 1972.8 L626.7 1966.5 L636.7 1960.3 L644.6 1963.6 L694.7 1963.6 L694.7 1966.1 L721.6 1966.1 L736.9 1962.0 L747.9 1962.0 L752.2 1968.2 L787.0 1966.1 L790.7 1959.5 L784.9 1953.7 L790.1 1947.0 L792.8 1939.5 L800.7 1933.3 L813.9 1928.8 L827.0 1925.0 L842.8 1924.2 L840.2 1927.1 L829.7 1930.4 L821.8 1935.4 L816.0 1941.6 L816.0 1947.8 L821.8 1954.1 L825.4 1959.5 L829.7 1967.4 L825.4 1971.1 L813.9 1976.1 L802.3 1979.8 L789.1 1981.5 L808.6 1981.5 L829.7 1981.0 L854.4 1985.6 L879.8 1987.7 L903.5 1990.6 L934.6 1990.6 L956.7 1987.7 L964.1 1983.1 L991.0 1981.0 L1020.0 1973.2 L1049.0 1965.7 L1083.3 1963.6 L1085.4 1957.8 L1099.1 1957.0 L1106.5 1954.9 L1129.7 1954.9 L1133.3 1953.2 L1146.0 1959.9 L1163.4 1954.9 L1182.4 1952.8 L1246.2 1952.8 L1246.7 1954.9 L1276.8 1954.9 L1278.9 1952.8 L1307.3 1952.8 L1309.4 1950.3 L1322.1 1949.5 L1323.7 1945.4 L1332.6 1950.3 L1350.0 1951.2 L1355.8 1948.3 L1371.1 1944.5 L1390.1 1941.6 L1398.0 1944.5 L1409.6 1941.6 L1413.3 1937.9 L1421.2 1935.0 L1438.1 1935.0 L1443.9 1938.7 L1462.3 1941.6 L1492.9 1944.1 L1513.5 1944.1 L1518.2 1954.5 L1524.0 1955.3 L1521.9 1950.8 L1541.4 1950.8 L1547.2 1946.2 L1574.1 1944.1 L1589.4 1940.4 L1627.9 1939.1 L1630.0 1936.2 L1635.8 1939.1 L1643.7 1937.5 L1654.8 1939.1 L1664.8 1937.5 L1670.6 1940.4 L1688.0 1935.4 L1697.5 1936.2 L1712.8 1937.5 L1741.8 1934.6 L1753.4 1937.5 L1762.8 1940.4 L1778.7 1940.0 L1790.3 1937.9 L1801.9 1939.5 L1813.5 1937.9 L1826.6 1939.5 L1834.6 1937.9 L1876.7 1937.9 L1878.8 1939.5 L1907.3 1939.5 L1921.0 1945.4 L1959.5 1945.4 L1965.3 1950.3 L1971.1 1948.3 L1995.9 1951.2 L1999.6 1957.0 L2003.8 1953.2 L2022.8 1954.9 L2043.9 1957.8 L2048.1 1959.9 L2038.1 1963.6 L2024.9 1968.6 L2009.6 1973.2 L2003.8 1977.3 L2013.3 1986.9 L2017.0 1986.9 L1992.2 1989.8 L1990.1 1993.5 L1993.8 2001.4 L2017.0 2005.1 L2028.6 2008.9 L2095.0 2010.9 M2024.9 1983.5 L2042.3 1983.5 M742.7 1952.8 L753.2 1951.2 L758.5 1954.1 L755.9 1959.5 L747.9 1958.2 L742.7 1952.8 M607.7 1960.3 L623.0 1959.5 L621.4 1963.6 L610.9 1963.6 L607.7 1960.3 M829.7 1920.9 L842.8 1922.1 L856.0 1923.8 M899.8 1913.0 L910.3 1913.0 M944.1 1886.0 L953.6 1886.8 L956.7 1889.8 M211.2 1843.7 L218.1 1843.7 M584.7 1330.3 L600.0 1330.3 L620.0 1332.9 M536.2 1336.7 L549.8 1335.0 L572.8 1334.6 L568.5 1337.6 L550.7 1337.6 L536.2 1337.6 M514.0 1339.3 L531.0 1339.3 L565.1 1340.1 L586.4 1340.1 M489.3 1343.5 L501.3 1341.8 L514.0 1341.8 L531.0 1342.7 L548.1 1343.5 L556.6 1346.1 L565.1 1347.8 L577.9 1344.4 L587.2 1346.1 L584.7 1349.5 L565.1 1349.5 L548.1 1351.2 L533.6 1348.6 L514.0 1347.8 L505.5 1346.1 L492.8 1345.2 L489.3 1343.5 M587.2 1339.3 L593.2 1340.1 L596.6 1345.2 L607.7 1347.8 L620.0 1349.5 M489.3 1351.6 L528.5 1351.6 L539.6 1354.6 L552.3 1356.3 L565.1 1356.3 L577.9 1357.1 L586.4 1354.6 L595.7 1356.3 M491.1 1352.9 L491.1 1356.3 L485.1 1360.9 L492.8 1365.2 L505.5 1365.6 L515.8 1360.5 L527.7 1356.3 M589.8 1358.0 L593.2 1363.9 L599.2 1367.3 L610.2 1368.2 L614.5 1370.7 L607.7 1374.1 L599.2 1376.7 L620.0 1380.1 M480.0 1371.6 L488.5 1369.9 L497.0 1369.9 L509.8 1371.6 L516.6 1374.1 L531.0 1375.0 L535.3 1378.4 L573.6 1377.5 L582.1 1375.0 L590.6 1375.0 L599.2 1376.7 M525.1 1367.3 L552.3 1367.8 L539.6 1371.6 L529.4 1370.7 L525.1 1367.3 M603.4 1358.0 L611.9 1354.6 L620.0 1354.6 M607.7 1360.5 L620.0 1363.1 M705.0 1316.9 L757.5 1316.5 L760.0 1314.0 M667.1 1320.8 L687.5 1319.9 L705.0 1317.4 M644.7 1325.2 L652.5 1322.8 L668.1 1322.8 L687.5 1326.2 L737.1 1325.7 M620.4 1327.6 L629.2 1328.1 L637.0 1334.9 L648.6 1337.8 L660.3 1336.9 L677.8 1336.4 L682.7 1329.1 L697.3 1332.0 L687.5 1337.8 L677.8 1341.7 L687.5 1343.7 L721.6 1344.6 L726.4 1342.7 L736.2 1338.8 L745.9 1335.9 L751.7 1332.0 L760.0 1329.6 M600.0 1332.0 L619.5 1332.5 L621.4 1335.9 L600.0 1336.9 M600.0 1342.7 L609.7 1343.7 L611.7 1347.6 L619.5 1349.5 L629.2 1347.6 L639.9 1347.6 L650.6 1348.5 L660.3 1351.5 L677.8 1352.4 L702.1 1352.4 L716.7 1355.4 L726.4 1356.4 L741.0 1356.4 L755.6 1359.3 L760.0 1363.2 M602.0 1358.3 L609.7 1355.4 L629.2 1354.4 L634.1 1356.4 L638.9 1362.2 L629.2 1363.2 L617.5 1362.2 L605.9 1359.3 L602.0 1358.3 M640.9 1353.4 L648.6 1351.5 L660.3 1354.4 L677.8 1356.4 L672.0 1359.3 L673.9 1365.1 L687.5 1369.0 L707.0 1370.9 L716.7 1369.0 L731.3 1370.0 L743.9 1372.9 L751.7 1377.7 L760.0 1376.8 M650.6 1359.3 L660.3 1365.1 L661.3 1370.0 L672.0 1376.8 L677.8 1372.9 L682.7 1377.7 L692.4 1380.6 L702.1 1382.6 L716.7 1380.6 M600.0 1368.0 L614.6 1369.0 L614.6 1371.9 L600.0 1373.8 M619.5 1373.8 L629.2 1370.9 L634.1 1374.8 L638.9 1379.7 L648.6 1372.9 M600.0 1377.7 L619.5 1380.6 M230.7 1718.4 L242.9 1719.2 M356.2 1733.7 L358.9 1735.0 M993.3 1500.7 L997.3 1500.7 M1008.4 1505.0 L1012.6 1505.0" stroke="#1510a6" stroke-width="2" shape-rendering="crispEdges"/></g>
<circle cx="367.3" cy="1390.1" r="14.5" fill="#00aaff" shape-rendering="crispEdges"/>
<circle cx="540.5" cy="1400.5" r="14.5" fill="#0000ff" shape-rendering="crispEdges"/>
<circle cx="639.9" cy="1451.5" r="14.5" fill="#0000ff" shape-rendering="crispEdges"/>
<circle cx="574.0" cy="1518.7" r="14.5" fill="#0055ff" shape-rendering="crispEdges"/>
<circle cx="669.7" cy="1664.5" r="14.5" fill="#00aaff" shape-rendering="crispEdges"/>
<circle cx="221.0" cy="1749.1" r="14.5" fill="#00ffff" shape-rendering="crispEdges"/>
<circle cx="1029.0" cy="1394.2" r="14.5" fill="#00ffff" shape-rendering="crispEdges"/>
<circle cx="1064.3" cy="1394.2" r="14.5" fill="#0055ff" shape-rendering="crispEdges"/>
<circle cx="867.1" cy="1463.1" r="14.5" fill="#0055ff" shape-rendering="crispEdges"/>
<circle cx="794.3" cy="1469.4" r="14.5" fill="#0055ff" shape-rendering="crispEdges"/>
<circle cx="740.6" cy="1498.0" r="14.5" fill="#0055ff" shape-rendering="crispEdges"/>
<circle cx="1122.3" cy="1461.1" r="14.5" fill="#77ff33" shape-rendering="crispEdges"/>
<circle cx="1124.4" cy="1493.8" r="14.5" fill="#0055ff" shape-rendering="crispEdges"/>
<circle cx="1062.7" cy="1544.9" r="14.5" fill="#0055ff" shape-rendering="crispEdges"/>
<circle cx="753.7" cy="1642.0" r="14.5" fill="#00aaff" shape-rendering="crispEdges"/>
<circle cx="867.1" cy="1639.9" r="14.5" fill="#00aaff" shape-rendering="crispEdges"/>
<circle cx="769.6" cy="1728.7" r="14.5" fill="#0055ff" shape-rendering="crispEdges"/>
<circle cx="907.2" cy="1755.7" r="14.5" fill="#ff5500" shape-rendering="crispEdges"/>
<circle cx="778.5" cy="1810.9" r="14.5" fill="#00aaff" shape-rendering="crispEdges"/>
<circle cx="787.5" cy="1884.4" r="14.5" fill="#00aaff" shape-rendering="crispEdges"/>
<circle cx="807.0" cy="1930.4" r="14.5" fill="#0055ff" shape-rendering="crispEdges"/>
<circle cx="1208.7" cy="1332.0" r="14.5" fill="#0000ff" shape-rendering="crispEdges"/>
<circle cx="1256.2" cy="1378.5" r="14.5" fill="#0055ff" shape-rendering="crispEdges"/>
<circle cx="1168.7" cy="1447.8" r="14.5" fill="#0055ff" shape-rendering="crispEdges"/>
<circle cx="1224.6" cy="1454.4" r="14.5" fill="#0055ff" shape-rendering="crispEdges"/>
<circle cx="1208.7" cy="1471.8" r="14.5" fill="#0055ff" shape-rendering="crispEdges"/>
<circle cx="1233.5" cy="1491.8" r="14.5" fill="#0055ff" shape-rendering="crispEdges"/>
<circle cx="1271.0" cy="1503.8" r="14.5" fill="#0055ff" shape-rendering="crispEdges"/>
<circle cx="1322.1" cy="1516.2" r="14.5" fill="#0055ff" shape-rendering="crispEdges"/>
<circle cx="1511.4" cy="1489.7" r="14.5" fill="#0055ff" shape-rendering="crispEdges"/>
<circle cx="1195.6" cy="1660.3" r="14.5" fill="#00ff99" shape-rendering="crispEdges"/>
<circle cx="1440.2" cy="1680.2" r="14.5" fill="#00ff99" shape-rendering="crispEdges"/>
<circle cx="1528.2" cy="1690.5" r="14.5" fill="#00aaff" shape-rendering="crispEdges"/>
<circle cx="1236.2" cy="1755.7" r="14.5" fill="#00aaff" shape-rendering="crispEdges"/>
<circle cx="1291.5" cy="1769.0" r="14.5" fill="#00aaff" shape-rendering="crispEdges"/>
<circle cx="1517.7" cy="1866.5" r="14.5" fill="#00ff99" shape-rendering="crispEdges"/>
<circle cx="1478.2" cy="1941.6" r="14.5" fill="#ff5500" shape-rendering="crispEdges"/>
<circle cx="1557.2" cy="1945.8" r="14.5" fill="#00aaff" shape-rendering="crispEdges"/>
<circle cx="1895.7" cy="1480.6" r="14.5" fill="#0055ff" shape-rendering="crispEdges"/>
<circle cx="1817.2" cy="1509.2" r="14.5" fill="#0000ff" shape-rendering="crispEdges"/>
<circle cx="1837.7" cy="1533.3" r="14.5" fill="#0055ff" shape-rendering="crispEdges"/>
<circle cx="1896.8" cy="1549.9" r="14.5" fill="#0055ff" shape-rendering="crispEdges"/>
<circle cx="1704.3" cy="1704.7" r="14.5" fill="#00aaff" shape-rendering="crispEdges"/>
<circle cx="1764.4" cy="1749.1" r="14.5" fill="#00ffff" shape-rendering="crispEdges"/>
<circle cx="1759.7" cy="1791.4" r="14.5" fill="#00aaff" shape-rendering="crispEdges"/>
<circle cx="1933.1" cy="1808.8" r="14.5" fill="#0055ff" shape-rendering="crispEdges"/>
<circle cx="2046.0" cy="1852.8" r="14.5" fill="#00aaff" shape-rendering="crispEdges"/>
<circle cx="1729.1" cy="1936.6" r="14.5" fill="#0055ff" shape-rendering="crispEdges"/>
<rect x="197.0" y="1288.0" width="1898.0" height="747.0" fill="none" stroke="#1e1e1e" stroke-width="2" shape-rendering="crispEdges"/>
<path d="M197.0 2035.0V2016.0 M197.0 1288.0V1307.0 M355.2 2035.0V2016.0 M355.2 1288.0V1307.0 M513.3 2035.0V2016.0 M513.3 1288.0V1307.0 M671.5 2035.0V2016.0 M671.5 1288.0V1307.0 M829.7 2035.0V2016.0 M829.7 1288.0V1307.0 M987.8 2035.0V2016.0 M987.8 1288.0V1307.0 M1146.0 2035.0V2016.0 M1146.0 1288.0V1307.0 M1304.2 2035.0V2016.0 M1304.2 1288.0V1307.0 M1462.3 2035.0V2016.0 M1462.3 1288.0V1307.0 M1620.5 2035.0V2016.0 M1620.5 1288.0V1307.0 M1778.7 2035.0V2016.0 M1778.7 1288.0V1307.0 M1936.8 2035.0V2016.0 M1936.8 1288.0V1307.0 M2095.0 2035.0V2016.0 M2095.0 1288.0V1307.0 M197.0 2035.0H216.0 M2095.0 2035.0H2076.0 M197.0 1910.5H216.0 M2095.0 1910.5H2076.0 M197.0 1786.0H216.0 M2095.0 1786.0H2076.0 M197.0 1661.5H216.0 M2095.0 1661.5H2076.0 M197.0 1537.0H216.0 M2095.0 1537.0H2076.0 M197.0 1412.5H216.0 M2095.0 1412.5H2076.0 M197.0 1288.0H216.0 M2095.0 1288.0H2076.0" stroke="#1e1e1e" stroke-width="2" shape-rendering="crispEdges"/>
<text x="195.5" y="2097.9" font-size="44" fill="#262626" text-anchor="middle">-180</text>
<text x="353.7" y="2097.9" font-size="44" fill="#262626" text-anchor="middle">-150</text>
<text x="511.8" y="2097.9" font-size="44" fill="#262626" text-anchor="middle">-120</text>
<text x="670.0" y="2097.9" font-size="44" fill="#262626" text-anchor="middle">-90</text>
<text x="828.2" y="2097.9" font-size="44" fill="#262626" text-anchor="middle">-60</text>
<text x="986.3" y="2097.9" font-size="44" fill="#262626" text-anchor="middle">-30</text>
<text x="1144.5" y="2097.9" font-size="44" fill="#262626" text-anchor="middle">0</text>
<text x="1302.7" y="2097.9" font-size="44" fill="#262626" text-anchor="middle">30</text>
<text x="1460.8" y="2097.9" font-size="44" fill="#262626" text-anchor="middle">60</text>
<text x="1619.0" y="2097.9" font-size="44" fill="#262626" text-anchor="middle">90</text>
<text x="1777.2" y="2097.9" font-size="44" fill="#262626" text-anchor="middle">120</text>
<text x="1935.3" y="2097.9" font-size="44" fill="#262626" text-anchor="middle">150</text>
<text x="2093.5" y="2097.9" font-size="44" fill="#262626" text-anchor="middle">180</text>
<text x="177.6" y="2051.4" font-size="44" fill="#262626" text-anchor="end">-90</text>
<text x="177.6" y="1926.9" font-size="44" fill="#262626" text-anchor="end">-60</text>
<text x="177.6" y="1802.4" font-size="44" fill="#262626" text-anchor="end">-30</text>
<text x="177.6" y="1677.9" font-size="44" fill="#262626" text-anchor="end">0</text>
<text x="177.6" y="1553.4" font-size="44" fill="#262626" text-anchor="end">30</text>
<text x="177.6" y="1428.9" font-size="44" fill="#262626" text-anchor="end">60</text>
<text x="177.6" y="1304.4" font-size="44" fill="#262626" text-anchor="end">90</text>
<text x="1146.0" y="2162.0" font-size="50.6" fill="#262626" text-anchor="middle">Longitude [deg]</text>
<text transform="translate(74.4 1661.5) rotate(-90)" x="0" y="0" font-size="50.6" fill="#262626" text-anchor="middle">Latitude [deg]</text>
<text x="1146.0" y="1266.7" font-size="51" fill="#000" text-anchor="middle" xml:space="preserve">North [mm]        Global Network RMS = 8.3 mm</text>
<rect x="2179.4" y="1960.46" width="71.6" height="75.34" fill="#0000aa" shape-rendering="crispEdges"/>
<rect x="2179.4" y="1885.72" width="71.6" height="75.34" fill="#0000ff" shape-rendering="crispEdges"/>
<rect x="2179.4" y="1810.98" width="71.6" height="75.34" fill="#0055ff" shape-rendering="crispEdges"/>
<rect x="2179.4" y="1736.24" width="71.6" height="75.34" fill="#00aaff" shape-rendering="crispEdges"/>
<rect x="2179.4" y="1661.50" width="71.6" height="75.34" fill="#00ffff" shape-rendering="crispEdges"/>
<rect x="2179.4" y="1586.76" width="71.6" height="75.34" fill="#00ff99" shape-rendering="crispEdges"/>
<rect x="2179.4" y="1512.02" width="71.6" height="75.34" fill="#77ff33" shape-rendering="crispEdges"/>
<rect x="2179.4" y="1437.28" width="71.6" height="75.34" fill="#ffff00" shape-rendering="crispEdges"/>
<rect x="2179.4" y="1362.54" width="71.6" height="75.34" fill="#ffaa00" shape-rendering="crispEdges"/>
<rect x="2179.4" y="1287.80" width="71.6" height="75.34" fill="#ff5500" shape-rendering="crispEdges"/>
<rect x="2179.4" y="1287.8" width="71.6" height="747.4" fill="none" stroke="#1e1e1e" stroke-width="1.5" shape-rendering="crispEdges"/>
<text x="2269.0" y="2048.7" font-size="41.5" fill="#262626">0</text>
<text x="2269.0" y="1861.8" font-size="41.5" fill="#262626">5</text>
<text x="2269.0" y="1675.0" font-size="41.5" fill="#262626">10</text>
<text x="2269.0" y="1488.2" font-size="41.5" fill="#262626">15</text>
<text x="2269.0" y="1301.3" font-size="41.5" fill="#262626">20</text>
<path d="M2251.0 2035.2H2243.0 M2251.0 1848.3H2243.0 M2251.0 1661.5H2243.0 M2251.0 1474.7H2243.0 M2251.0 1287.8H2243.0" stroke="#1e1e1e" stroke-width="1.5" shape-rendering="crispEdges"/>
<clipPath id="clip2"><rect x="197.0" y="2327.5" width="1898.0" height="744.7"/></clipPath>
<g clip-path="url(#clip2)" fill="none"><path d="M260.3 2428.4 L270.8 2426.0 L279.8 2424.3 L291.9 2426.8 L294.0 2424.3 L282.4 2421.8 L273.4 2418.5 L266.6 2417.1 L269.8 2414.8 L284.0 2412.3 L292.4 2409.0 L307.7 2406.9 L320.9 2404.5 L334.1 2406.5 L344.6 2406.9 L363.1 2409.0 L381.5 2409.8 L402.6 2411.7 L415.8 2413.1 L426.3 2414.8 L436.9 2412.3 L450.1 2411.9 L463.2 2410.2 L471.2 2407.8 L481.7 2412.3 L489.6 2412.7 L502.8 2411.1 L513.3 2413.1 L526.5 2414.8 L539.7 2418.5 L547.6 2419.3 L566.1 2418.5 L576.6 2417.3 L584.5 2417.7 L597.7 2418.5 L613.5 2419.3 L626.7 2420.2 L632.0 2417.3 L639.9 2417.7 L642.5 2413.1 L649.4 2411.1 L647.8 2404.0 L658.3 2402.0 L663.6 2406.9 L674.1 2413.1 L682.0 2416.0 L688.4 2418.5 L693.6 2412.3 L702.1 2411.1 L712.6 2413.6 L716.3 2416.5 L716.3 2421.4 L708.4 2425.6 L695.2 2424.7 L688.4 2424.7 L682.0 2433.0 L671.5 2435.1 L667.8 2438.0 L658.3 2442.5 L650.4 2447.5 L647.2 2453.7 L649.4 2456.6 L655.7 2462.0 L658.3 2464.0 L668.9 2463.2 L682.0 2466.9 L697.9 2471.1 L712.1 2471.9 L712.1 2478.5 L716.3 2483.5 L721.6 2487.6 L729.5 2486.4 L730.5 2482.6 L729.5 2476.4 L737.4 2470.2 L742.1 2466.1 L741.1 2459.9 L737.4 2455.8 L737.9 2448.3 L734.2 2442.1 L747.9 2442.1 L758.5 2442.1 L769.0 2446.7 L776.9 2447.5 L779.6 2453.7 L787.5 2457.8 L792.8 2457.8 L798.0 2455.8 L803.3 2452.4 L805.9 2450.4 L811.2 2455.8 L819.1 2462.0 L821.8 2466.1 L829.7 2470.2 L840.2 2474.0 L842.8 2476.4 L850.8 2480.6 L851.8 2484.7 L844.4 2487.2 L836.0 2488.0 L829.7 2491.7 L819.1 2492.2 L808.6 2492.2 L798.0 2492.6 L790.1 2495.9 L783.3 2499.2 L774.3 2504.6 L770.6 2506.2 L774.3 2505.4 L782.2 2501.3 L792.8 2497.1 L803.3 2496.3 L807.5 2498.0 L805.4 2500.4 L798.0 2501.3 L803.3 2502.9 L804.4 2505.4 L805.9 2508.3 L811.2 2510.4 L819.1 2510.8 L823.3 2511.2 L825.4 2506.2 L828.6 2506.2 L830.7 2509.5 L824.4 2512.4 L813.9 2515.3 L805.9 2517.8 L799.1 2519.5 L797.5 2516.6 L804.4 2512.8 L807.5 2512.0 L800.7 2511.2 L793.8 2513.3 L790.1 2515.7 L783.3 2516.6 L775.9 2519.1 L773.3 2522.8 L772.2 2525.3 L776.9 2526.5 L776.9 2527.7 L771.7 2528.2 L763.8 2529.4 L756.9 2531.1 L755.9 2532.3 L755.3 2535.2 L751.6 2538.9 L749.0 2536.8 L750.1 2540.2 L747.9 2543.5 L745.3 2545.9 L743.7 2542.6 L742.7 2538.5 L744.3 2546.8 L745.8 2549.7 L747.9 2553.8 L742.7 2556.3 L737.4 2557.9 L732.1 2560.0 L728.4 2562.5 L721.6 2566.2 L717.9 2569.5 L716.8 2574.9 L717.9 2578.6 L721.1 2583.2 L723.2 2588.1 L723.7 2593.1 L721.6 2595.6 L718.4 2595.6 L714.7 2591.5 L712.6 2589.0 L710.0 2584.4 L709.5 2579.9 L705.8 2576.6 L701.6 2575.7 L696.3 2577.0 L692.6 2574.5 L684.7 2574.5 L679.4 2574.1 L674.1 2574.9 L675.2 2579.0 L670.4 2579.5 L663.6 2577.8 L658.3 2577.4 L651.5 2577.0 L646.2 2578.6 L642.5 2580.7 L637.2 2583.2 L633.0 2586.1 L632.5 2592.3 L631.4 2598.5 L630.4 2606.8 L632.0 2611.7 L637.2 2618.8 L642.5 2622.1 L647.8 2624.6 L655.7 2623.7 L662.0 2622.9 L667.8 2619.2 L669.4 2613.8 L674.1 2611.7 L682.0 2610.9 L687.8 2611.7 L685.2 2617.1 L683.6 2622.1 L681.0 2626.2 L680.5 2631.6 L677.3 2634.1 L682.0 2634.5 L690.0 2634.1 L697.9 2633.7 L703.1 2635.3 L707.4 2637.8 L705.8 2644.0 L705.2 2650.2 L704.2 2654.3 L707.4 2658.5 L712.6 2661.8 L717.9 2663.4 L724.2 2661.4 L729.5 2660.5 L735.8 2663.0 L738.5 2664.3 L741.1 2665.9 L745.3 2661.4 L747.9 2656.8 L751.6 2654.3 L758.5 2653.1 L763.8 2651.0 L768.5 2648.5 L770.6 2651.0 L766.9 2653.5 L768.5 2654.8 L771.7 2652.7 L775.9 2651.9 L776.4 2649.8 L779.6 2652.3 L785.9 2655.2 L795.4 2656.0 L803.3 2658.1 L808.6 2655.6 L816.5 2655.6 L820.2 2656.0 L817.5 2658.5 L824.4 2663.9 L829.7 2665.5 L834.9 2668.8 L838.6 2671.7 L844.4 2675.0 L853.4 2675.4 L861.3 2675.9 L866.6 2677.1 L871.8 2680.4 L876.1 2683.3 L877.1 2687.4 L879.8 2692.4 L882.4 2695.7 L880.8 2699.8 L887.7 2700.7 L891.4 2703.2 L895.6 2702.3 L903.5 2704.0 L910.9 2709.0 L912.4 2711.0 L916.7 2709.8 L924.6 2711.4 L932.5 2711.4 L940.4 2713.9 L945.7 2717.6 L950.9 2720.5 L958.8 2721.4 L961.5 2726.7 L962.5 2732.1 L960.4 2737.1 L956.2 2742.0 L950.9 2746.2 L946.2 2751.6 L941.4 2754.5 L940.4 2761.9 L939.9 2769.4 L937.2 2775.6 L935.1 2780.9 L930.9 2788.8 L927.2 2792.1 L924.6 2795.0 L916.7 2795.0 L910.9 2796.2 L906.1 2798.3 L900.8 2799.6 L893.5 2803.3 L889.8 2807.4 L889.8 2814.9 L887.7 2818.6 L882.4 2823.1 L878.2 2828.1 L872.9 2832.2 L868.7 2837.6 L863.9 2841.3 L858.7 2843.8 L851.8 2843.8 L845.5 2842.2 L838.1 2840.5 L837.6 2843.8 L843.9 2847.1 L847.1 2850.4 L844.4 2854.2 L841.8 2857.9 L834.9 2860.0 L824.4 2860.8 L818.1 2861.2 L818.6 2865.3 L817.0 2868.2 L811.2 2870.3 L803.3 2868.6 L802.8 2873.6 L808.6 2874.0 L810.7 2876.5 L805.9 2877.3 L803.3 2880.2 L801.7 2884.4 L799.1 2886.0 L791.2 2889.3 L789.6 2892.2 L795.4 2895.1 L799.1 2898.0 L791.7 2901.7 L788.5 2904.6 L784.9 2907.5 L781.2 2910.8 L783.3 2913.3 L785.4 2916.2 L779.6 2916.2 L774.3 2918.3 L771.7 2922.4 L766.4 2921.6 L760.1 2919.1 L755.9 2916.2 L753.2 2910.8 L749.5 2906.7 L747.9 2901.3 L750.6 2897.6 L754.3 2894.3 L751.6 2891.0 L755.9 2887.3 L758.5 2881.9 L762.2 2876.9 L762.7 2871.5 L756.9 2872.0 L757.4 2865.3 L759.0 2861.2 L758.0 2854.6 L762.2 2848.0 L766.4 2840.5 L768.5 2836.4 L769.0 2828.1 L770.1 2821.9 L771.7 2814.9 L773.3 2807.4 L774.3 2799.1 L775.9 2790.9 L775.9 2782.6 L775.4 2776.0 L770.1 2772.7 L763.8 2769.4 L755.9 2765.2 L747.9 2761.1 L743.7 2756.5 L741.1 2751.6 L738.5 2748.7 L733.7 2741.2 L729.5 2735.0 L725.8 2729.6 L719.0 2724.7 L717.9 2719.7 L722.1 2714.3 L724.7 2710.6 L720.0 2709.4 L719.5 2704.0 L723.2 2699.8 L724.2 2696.5 L729.5 2694.5 L732.1 2690.3 L736.9 2686.6 L738.5 2683.3 L737.9 2677.1 L737.4 2671.7 L734.8 2668.8 L732.7 2665.5 L729.5 2663.4 L725.8 2663.4 L722.1 2665.9 L724.2 2668.8 L721.6 2669.6 L717.9 2668.0 L713.7 2665.9 L708.4 2665.1 L704.7 2662.6 L699.4 2659.3 L694.2 2658.9 L693.6 2655.2 L688.4 2649.4 L684.2 2646.1 L679.4 2645.2 L672.6 2644.0 L664.6 2642.3 L658.3 2639.4 L651.5 2634.5 L646.2 2632.8 L639.9 2634.9 L632.0 2633.7 L625.1 2631.6 L618.8 2629.9 L610.9 2627.0 L603.0 2624.6 L596.1 2621.2 L590.8 2617.9 L589.3 2615.0 L591.4 2610.9 L588.7 2606.8 L584.5 2602.6 L579.2 2598.5 L574.0 2595.2 L569.7 2591.0 L566.1 2587.3 L562.4 2584.4 L557.1 2580.7 L553.9 2577.8 L550.2 2572.4 L545.5 2569.5 L540.7 2568.3 L540.7 2571.6 L542.3 2575.7 L547.6 2579.9 L551.3 2584.0 L554.5 2588.1 L557.6 2592.3 L560.8 2596.4 L563.4 2599.7 L566.6 2604.7 L564.5 2602.6 L560.8 2599.7 L555.5 2597.2 L554.5 2592.3 L548.7 2589.0 L543.9 2585.7 L543.4 2584.0 L540.2 2577.8 L535.5 2574.1 L532.3 2569.9 L529.7 2567.5 L528.1 2564.6 L527.0 2562.1 L522.8 2560.0 L520.7 2559.2 L517.0 2557.9 L510.2 2557.1 L509.1 2554.2 L505.4 2550.9 L503.3 2548.4 L500.2 2544.7 L500.2 2543.0 L497.5 2541.8 L493.8 2538.5 L493.3 2535.2 L490.1 2532.7 L491.7 2529.4 L491.2 2526.1 L489.6 2522.8 L491.2 2518.6 L492.2 2513.7 L492.8 2508.7 L491.7 2505.8 L489.1 2502.1 L488.6 2499.6 L494.9 2500.4 L498.6 2503.3 L500.2 2499.2 L497.5 2497.1 L493.3 2494.6 L488.0 2492.6 L483.3 2490.9 L477.5 2489.3 L472.2 2487.6 L471.7 2484.3 L468.5 2481.4 L464.3 2478.1 L459.0 2475.2 L457.4 2472.3 L452.7 2469.0 L448.5 2466.1 L443.7 2462.8 L439.0 2459.1 L433.2 2456.2 L427.9 2458.2 L423.7 2456.6 L416.9 2454.5 L410.5 2452.4 L403.7 2452.0 L394.7 2451.6 L387.3 2451.2 L378.9 2449.5 L373.1 2447.9 L366.8 2449.5 L362.5 2451.6 L357.3 2452.9 L352.0 2454.1 L346.2 2454.9 L347.3 2451.6 L350.9 2449.1 L355.2 2446.7 L348.8 2447.5 L344.6 2449.5 L340.4 2452.4 L335.7 2454.9 L333.0 2457.4 L327.2 2459.9 L322.0 2462.4 L315.6 2464.9 L309.3 2467.3 L302.4 2469.4 L294.5 2471.1 L289.3 2472.7 L284.0 2474.0 L277.1 2474.8 L285.0 2472.3 L293.0 2468.6 L299.8 2467.3 L307.7 2464.0 L311.9 2460.7 L315.6 2458.2 L317.2 2456.6 L311.4 2457.0 L307.7 2456.2 L302.4 2457.4 L294.5 2457.4 L291.9 2454.5 L284.0 2452.4 L278.7 2450.4 L274.5 2448.3 L275.0 2445.4 L270.8 2443.3 L273.4 2440.9 L278.2 2438.8 L285.6 2439.2 L294.5 2437.6 L298.2 2435.9 L296.1 2433.4 L291.9 2433.0 L283.5 2432.6 L276.1 2433.0 L269.2 2432.6 L266.1 2430.5 L262.9 2429.7 L260.3 2428.4 M2095.0 2410.7 L2087.1 2406.9 L2078.7 2410.2 L2063.4 2410.7 L2048.1 2409.4 L2036.5 2410.7 L2021.2 2411.9 L2008.0 2411.5 L1994.8 2411.9 L1989.6 2409.0 L1987.4 2406.5 L1968.5 2405.7 L1951.6 2404.5 L1939.5 2403.6 L1936.3 2401.1 L1923.7 2400.3 L1917.3 2399.9 L1899.9 2399.1 L1886.2 2400.3 L1882.5 2397.4 L1868.3 2404.0 L1855.6 2404.9 L1846.2 2402.4 L1838.2 2406.5 L1828.8 2403.6 L1826.6 2399.5 L1825.1 2396.2 L1812.9 2395.4 L1799.8 2395.4 L1788.2 2398.2 L1776.0 2397.8 L1762.8 2395.4 L1747.0 2395.4 L1739.1 2394.5 L1728.6 2393.7 L1723.3 2392.0 L1733.9 2389.6 L1744.4 2387.1 L1741.8 2384.6 L1731.2 2382.1 L1710.1 2381.7 L1695.4 2378.4 L1681.1 2381.3 L1673.2 2383.8 L1660.0 2385.4 L1652.1 2385.8 L1639.0 2386.2 L1620.5 2387.5 L1604.7 2390.0 L1602.0 2392.5 L1604.7 2394.5 L1596.8 2395.8 L1581.0 2395.4 L1570.4 2395.8 L1572.0 2402.0 L1581.0 2403.2 L1583.6 2406.1 L1579.4 2410.2 L1584.6 2413.6 L1578.3 2414.4 L1573.0 2411.1 L1565.1 2411.1 L1558.8 2408.2 L1552.0 2405.3 L1547.7 2402.4 L1533.5 2402.8 L1530.9 2405.3 L1533.5 2411.1 L1530.9 2414.4 L1529.8 2417.3 L1523.0 2418.9 L1512.4 2422.7 L1509.8 2424.7 L1528.2 2425.6 L1533.5 2421.8 L1540.4 2418.5 L1538.8 2414.4 L1533.5 2408.2 L1529.8 2401.1 L1525.6 2398.2 L1517.7 2396.6 L1508.7 2398.7 L1501.9 2404.0 L1507.1 2407.3 L1507.1 2412.3 L1501.9 2416.5 L1488.7 2414.0 L1472.9 2411.5 L1465.0 2411.1 L1462.3 2415.2 L1454.4 2415.2 L1446.5 2416.5 L1436.0 2417.3 L1428.1 2416.9 L1429.6 2414.8 L1422.8 2416.5 L1414.9 2417.3 L1404.3 2419.3 L1396.4 2420.2 L1391.2 2422.7 L1383.2 2424.7 L1378.0 2426.8 L1379.0 2421.4 L1375.3 2417.7 L1364.8 2420.6 L1359.5 2424.7 L1351.6 2426.4 L1341.1 2425.6 L1330.5 2424.7 L1322.6 2424.3 L1330.5 2426.8 L1343.7 2428.9 L1354.3 2431.8 L1359.5 2433.0 L1351.6 2435.5 L1343.7 2433.8 L1338.4 2431.8 L1329.5 2433.0 L1328.4 2428.9 L1320.0 2425.6 L1317.3 2423.1 L1325.3 2423.5 L1338.4 2423.1 L1351.6 2424.3 L1362.2 2422.7 L1362.2 2419.3 L1354.3 2418.1 L1346.3 2416.5 L1333.2 2413.6 L1320.0 2412.7 L1309.4 2411.1 L1298.9 2410.2 L1288.3 2406.5 L1282.0 2405.7 L1272.5 2406.5 L1262.0 2407.8 L1251.4 2409.8 L1243.5 2411.1 L1235.6 2414.4 L1227.7 2416.9 L1221.4 2419.8 L1217.2 2422.7 L1213.5 2426.8 L1210.3 2430.1 L1204.0 2433.0 L1198.7 2436.3 L1190.8 2438.0 L1182.9 2440.0 L1175.0 2442.5 L1172.4 2446.7 L1172.4 2451.6 L1174.5 2455.8 L1176.6 2459.1 L1182.9 2459.9 L1190.8 2459.1 L1198.7 2455.8 L1201.9 2452.4 L1205.0 2455.8 L1208.2 2458.6 L1210.8 2462.8 L1213.0 2466.5 L1214.0 2469.8 L1220.9 2470.6 L1222.4 2468.2 L1230.4 2467.3 L1233.5 2463.2 L1234.0 2459.1 L1240.9 2455.8 L1245.1 2452.0 L1238.3 2449.1 L1237.2 2445.0 L1238.8 2440.9 L1245.1 2437.6 L1254.1 2435.1 L1259.4 2431.8 L1264.1 2427.6 L1272.5 2427.6 L1279.9 2430.5 L1278.9 2433.0 L1269.9 2435.9 L1262.0 2439.2 L1258.3 2442.1 L1259.4 2446.7 L1261.5 2449.5 L1267.3 2452.0 L1277.8 2450.4 L1287.3 2450.0 L1296.3 2449.5 L1303.1 2451.6 L1296.3 2452.4 L1291.0 2454.1 L1280.4 2453.7 L1269.9 2454.9 L1269.9 2457.8 L1274.1 2459.1 L1272.5 2462.0 L1274.1 2464.0 L1269.9 2464.0 L1264.6 2461.5 L1259.4 2462.8 L1256.7 2466.9 L1257.2 2469.4 L1257.8 2471.5 L1251.4 2472.7 L1248.8 2474.8 L1244.6 2474.8 L1243.5 2473.5 L1238.3 2473.1 L1230.4 2475.2 L1222.4 2476.9 L1218.8 2476.0 L1211.9 2474.8 L1204.0 2476.4 L1202.9 2474.4 L1198.7 2472.7 L1199.8 2470.2 L1202.4 2466.5 L1200.3 2462.8 L1201.9 2461.1 L1196.1 2463.6 L1191.3 2465.7 L1188.7 2468.2 L1191.3 2470.6 L1192.4 2475.6 L1188.2 2478.1 L1182.9 2478.9 L1177.6 2478.9 L1172.4 2479.7 L1170.8 2482.6 L1167.1 2485.1 L1163.4 2487.2 L1159.2 2488.4 L1154.4 2489.3 L1153.9 2492.2 L1148.6 2493.8 L1146.0 2495.5 L1140.7 2495.9 L1139.1 2494.2 L1136.0 2494.6 L1137.6 2498.8 L1131.2 2499.2 L1127.5 2498.0 L1121.2 2499.2 L1123.3 2501.3 L1130.2 2503.3 L1134.4 2505.0 L1136.5 2507.5 L1139.7 2510.4 L1139.7 2515.3 L1138.1 2519.9 L1132.8 2520.7 L1126.0 2519.9 L1117.0 2519.5 L1109.1 2519.5 L1102.8 2519.9 L1097.5 2521.9 L1099.1 2526.1 L1099.6 2530.2 L1099.1 2534.4 L1096.4 2538.5 L1098.0 2540.6 L1099.6 2543.5 L1099.1 2546.8 L1106.5 2546.4 L1112.3 2547.6 L1114.4 2550.1 L1117.5 2550.5 L1122.3 2548.4 L1132.8 2547.6 L1137.6 2545.1 L1142.3 2544.3 L1143.4 2541.0 L1147.1 2539.3 L1144.4 2536.4 L1146.0 2534.4 L1150.2 2531.1 L1153.9 2529.4 L1159.2 2527.7 L1162.9 2526.1 L1161.8 2522.4 L1164.5 2520.7 L1169.7 2519.9 L1175.0 2521.1 L1180.3 2521.5 L1185.5 2518.6 L1190.8 2516.6 L1196.1 2517.4 L1199.8 2518.6 L1201.4 2522.4 L1205.0 2524.4 L1210.3 2526.9 L1214.5 2529.0 L1219.8 2531.1 L1225.1 2533.5 L1228.8 2534.8 L1230.4 2538.1 L1228.8 2541.4 L1230.9 2542.6 L1233.5 2541.0 L1236.7 2538.5 L1235.6 2536.4 L1233.0 2535.2 L1235.6 2532.3 L1240.9 2533.5 L1243.5 2533.9 L1240.4 2531.5 L1234.6 2529.4 L1229.8 2527.7 L1230.4 2526.5 L1223.5 2525.7 L1218.8 2522.8 L1217.2 2519.9 L1211.4 2517.0 L1210.8 2512.8 L1214.5 2510.8 L1217.7 2511.2 L1219.3 2514.1 L1222.4 2512.8 L1226.1 2516.6 L1229.8 2519.5 L1235.6 2521.5 L1243.5 2524.0 L1248.3 2526.5 L1248.8 2530.2 L1247.8 2532.7 L1251.4 2536.0 L1255.1 2538.9 L1257.2 2541.4 L1260.4 2545.5 L1264.1 2548.8 L1267.8 2548.8 L1266.7 2544.7 L1268.8 2542.6 L1272.5 2541.8 L1266.2 2539.3 L1268.8 2536.8 L1265.2 2533.1 L1271.0 2533.9 L1274.6 2530.6 L1282.6 2530.6 L1286.2 2531.9 L1291.0 2530.6 L1298.4 2530.2 L1299.4 2529.4 L1295.7 2526.1 L1292.6 2523.6 L1292.0 2519.5 L1296.8 2516.6 L1298.4 2513.7 L1302.6 2512.4 L1306.3 2509.1 L1309.4 2507.1 L1317.3 2508.3 L1322.6 2510.0 L1317.3 2512.0 L1323.1 2515.7 L1329.5 2514.5 L1333.2 2513.3 L1338.4 2512.4 L1331.6 2508.7 L1338.4 2506.2 L1346.3 2505.0 L1352.7 2504.6 L1347.9 2507.1 L1344.8 2509.5 L1346.3 2512.0 L1341.1 2514.5 L1347.9 2516.6 L1354.3 2519.5 L1359.5 2521.9 L1365.3 2527.7 L1364.8 2528.6 L1358.5 2530.2 L1351.6 2529.8 L1343.7 2529.8 L1337.4 2528.2 L1331.6 2526.1 L1325.3 2526.1 L1320.0 2526.5 L1312.1 2529.0 L1304.2 2529.4 L1299.9 2530.2 L1293.6 2532.7 L1286.8 2532.7 L1284.1 2534.4 L1285.2 2538.5 L1287.3 2540.2 L1289.4 2543.0 L1290.5 2546.8 L1293.6 2547.6 L1298.4 2548.4 L1302.6 2550.1 L1307.3 2547.6 L1312.1 2548.4 L1317.3 2550.5 L1323.1 2550.1 L1328.9 2547.6 L1335.3 2548.0 L1335.3 2551.7 L1335.3 2555.5 L1333.7 2559.2 L1331.1 2563.3 L1328.4 2568.3 L1326.3 2570.4 L1320.0 2571.2 L1316.3 2570.8 L1309.4 2569.1 L1304.2 2570.4 L1298.9 2572.0 L1289.9 2570.4 L1278.9 2569.1 L1272.5 2567.5 L1267.3 2565.0 L1259.4 2563.7 L1252.0 2566.6 L1250.9 2570.8 L1246.7 2574.5 L1239.8 2572.0 L1230.4 2570.4 L1226.7 2566.6 L1219.3 2564.1 L1209.3 2563.7 L1205.0 2562.5 L1200.3 2560.4 L1203.5 2557.9 L1202.4 2554.6 L1204.5 2552.2 L1201.4 2549.3 L1204.5 2546.4 L1199.8 2545.9 L1196.1 2545.5 L1190.8 2547.2 L1182.9 2546.4 L1175.0 2548.0 L1167.1 2547.2 L1159.2 2548.4 L1151.3 2548.8 L1143.4 2551.7 L1138.1 2554.2 L1132.8 2554.2 L1126.0 2554.2 L1119.6 2552.2 L1114.9 2551.7 L1112.8 2554.6 L1110.1 2558.8 L1105.9 2560.8 L1101.2 2562.1 L1097.0 2565.4 L1094.3 2569.9 L1094.9 2573.7 L1094.3 2577.0 L1090.1 2580.7 L1085.4 2583.2 L1078.0 2584.4 L1074.8 2586.9 L1070.1 2591.0 L1067.4 2595.6 L1063.8 2599.3 L1060.6 2601.8 L1060.1 2604.7 L1056.9 2609.2 L1055.8 2613.0 L1057.4 2616.3 L1059.5 2618.8 L1061.1 2623.3 L1059.0 2631.6 L1056.9 2637.0 L1053.7 2639.0 L1056.9 2642.8 L1057.4 2648.5 L1060.6 2651.0 L1064.8 2653.5 L1068.5 2656.0 L1072.2 2659.3 L1076.4 2662.6 L1078.5 2666.3 L1082.7 2670.1 L1088.0 2672.5 L1093.3 2675.4 L1099.1 2679.2 L1105.9 2681.6 L1114.4 2680.4 L1122.3 2678.3 L1130.2 2678.8 L1135.5 2680.4 L1140.7 2678.8 L1148.6 2675.9 L1154.4 2674.2 L1160.2 2673.4 L1166.0 2673.4 L1170.8 2674.2 L1175.0 2677.1 L1177.6 2682.1 L1182.9 2681.6 L1189.8 2680.8 L1192.4 2682.5 L1196.6 2685.4 L1197.7 2689.5 L1196.1 2694.9 L1195.6 2698.6 L1195.0 2702.7 L1198.2 2708.1 L1204.0 2713.5 L1208.2 2717.6 L1210.8 2722.6 L1211.4 2728.0 L1215.6 2736.3 L1216.6 2743.3 L1218.8 2748.7 L1212.4 2755.7 L1210.3 2761.9 L1208.2 2769.4 L1208.7 2774.3 L1212.4 2779.7 L1216.6 2785.9 L1220.9 2792.9 L1222.4 2799.1 L1224.6 2807.4 L1226.7 2812.8 L1233.0 2818.2 L1236.7 2824.0 L1240.4 2830.2 L1242.5 2835.1 L1242.0 2838.4 L1243.5 2841.3 L1247.8 2843.0 L1251.4 2843.8 L1259.4 2842.2 L1264.6 2840.1 L1272.5 2840.9 L1281.0 2840.1 L1287.3 2838.9 L1293.1 2836.4 L1298.9 2832.2 L1304.2 2828.9 L1309.4 2823.1 L1316.3 2817.8 L1318.9 2809.5 L1317.9 2807.0 L1322.6 2804.5 L1330.5 2801.6 L1333.2 2796.7 L1333.2 2790.9 L1330.5 2784.7 L1333.2 2780.5 L1338.4 2777.6 L1343.7 2772.7 L1351.6 2770.2 L1358.5 2764.0 L1360.1 2758.6 L1359.5 2749.5 L1358.5 2743.3 L1354.3 2737.1 L1352.7 2730.9 L1350.6 2726.7 L1352.7 2720.5 L1355.3 2716.4 L1357.9 2711.4 L1362.2 2708.1 L1366.4 2704.8 L1370.6 2701.1 L1376.4 2696.1 L1383.2 2692.0 L1391.2 2687.4 L1398.0 2682.1 L1402.8 2677.1 L1407.0 2670.9 L1411.2 2664.7 L1414.4 2657.7 L1415.9 2651.0 L1409.6 2652.3 L1401.7 2653.5 L1393.8 2654.8 L1385.9 2656.0 L1378.0 2656.8 L1374.3 2651.4 L1371.1 2648.1 L1368.5 2646.1 L1364.8 2642.8 L1360.1 2638.2 L1354.3 2635.3 L1352.7 2631.6 L1349.5 2625.4 L1343.7 2622.1 L1342.1 2615.0 L1340.5 2608.8 L1334.2 2602.6 L1333.2 2598.5 L1328.4 2592.3 L1325.3 2588.1 L1322.6 2584.8 L1317.9 2576.1 L1316.3 2577.4 L1320.0 2581.9 L1323.1 2584.8 L1326.8 2584.0 L1327.9 2579.9 L1330.0 2577.8 L1328.4 2582.8 L1331.6 2584.0 L1336.9 2590.2 L1342.1 2597.2 L1346.9 2600.6 L1351.6 2606.8 L1352.7 2611.3 L1356.9 2615.9 L1361.1 2620.0 L1364.3 2625.4 L1369.0 2630.3 L1371.1 2634.1 L1371.7 2638.6 L1373.8 2644.8 L1375.3 2647.3 L1380.6 2647.3 L1385.4 2646.1 L1391.2 2644.4 L1399.1 2641.9 L1404.9 2639.9 L1410.7 2637.0 L1417.5 2635.7 L1421.2 2633.7 L1426.5 2631.2 L1433.3 2629.5 L1437.0 2627.9 L1439.1 2624.1 L1444.4 2623.3 L1446.0 2619.2 L1450.2 2617.1 L1453.9 2615.0 L1458.6 2609.7 L1461.3 2606.8 L1456.0 2602.6 L1450.7 2601.4 L1445.5 2598.1 L1442.8 2594.4 L1443.4 2591.0 L1441.8 2592.3 L1438.6 2594.8 L1433.3 2599.3 L1425.4 2600.1 L1418.0 2599.7 L1416.5 2594.4 L1418.0 2592.7 L1414.9 2592.3 L1412.2 2595.6 L1409.6 2590.2 L1407.0 2587.7 L1402.2 2584.0 L1399.1 2579.0 L1401.7 2576.1 L1407.0 2575.7 L1410.7 2576.1 L1413.8 2580.7 L1417.5 2584.4 L1422.8 2586.5 L1428.6 2589.0 L1434.9 2590.2 L1442.8 2587.7 L1447.6 2592.7 L1456.0 2594.4 L1470.2 2596.0 L1477.1 2595.6 L1486.1 2595.6 L1494.0 2594.8 L1497.7 2597.2 L1501.9 2601.0 L1507.1 2603.5 L1512.4 2606.8 L1516.6 2605.5 L1515.1 2611.7 L1520.3 2613.8 L1528.8 2611.3 L1529.8 2617.1 L1530.3 2621.7 L1532.5 2628.3 L1534.0 2634.5 L1538.3 2639.9 L1540.4 2646.9 L1543.5 2652.3 L1547.7 2658.5 L1549.9 2663.0 L1554.6 2666.3 L1558.3 2663.0 L1562.5 2661.4 L1564.1 2657.2 L1567.3 2657.2 L1567.3 2651.0 L1569.4 2644.0 L1568.8 2637.4 L1574.1 2633.7 L1579.9 2631.2 L1585.7 2627.4 L1593.1 2621.2 L1599.4 2617.9 L1603.6 2615.0 L1604.7 2610.9 L1611.0 2610.1 L1616.3 2609.7 L1620.5 2608.8 L1623.7 2606.8 L1628.4 2605.9 L1631.0 2610.9 L1632.6 2614.2 L1636.3 2617.5 L1640.0 2621.2 L1643.2 2625.4 L1644.2 2631.6 L1642.6 2633.7 L1646.9 2634.5 L1652.1 2631.6 L1658.5 2630.3 L1661.1 2633.7 L1661.6 2638.6 L1664.3 2644.0 L1665.8 2650.2 L1665.8 2656.4 L1664.3 2662.6 L1665.3 2666.3 L1668.0 2667.6 L1671.6 2673.0 L1674.8 2677.1 L1676.4 2682.5 L1680.1 2687.4 L1685.3 2690.7 L1691.1 2694.1 L1695.9 2694.1 L1692.2 2689.1 L1691.1 2683.3 L1690.6 2679.2 L1685.3 2674.2 L1681.1 2671.7 L1675.9 2669.6 L1674.3 2665.5 L1672.7 2661.4 L1669.0 2657.7 L1670.6 2652.3 L1672.7 2648.1 L1673.2 2644.4 L1678.0 2644.0 L1678.0 2647.3 L1683.8 2649.4 L1688.0 2651.9 L1691.1 2655.2 L1695.9 2656.4 L1698.5 2660.1 L1700.1 2664.3 L1705.9 2660.5 L1709.1 2657.2 L1714.9 2654.8 L1720.1 2652.3 L1721.7 2647.7 L1722.3 2642.8 L1719.6 2636.6 L1715.4 2633.2 L1710.7 2629.5 L1707.0 2624.6 L1703.3 2621.2 L1704.3 2617.9 L1708.0 2615.5 L1712.2 2612.1 L1717.0 2610.9 L1723.8 2610.5 L1727.5 2615.0 L1729.1 2612.1 L1734.4 2610.5 L1739.1 2609.7 L1744.4 2608.0 L1748.1 2607.6 L1751.8 2605.9 L1760.2 2605.1 L1766.5 2601.8 L1771.3 2598.1 L1776.0 2594.4 L1777.1 2589.8 L1780.8 2586.9 L1785.0 2583.2 L1788.2 2579.9 L1788.7 2576.1 L1783.9 2574.5 L1788.7 2572.0 L1785.5 2568.3 L1783.4 2565.0 L1781.8 2561.3 L1779.7 2557.5 L1775.0 2555.9 L1776.6 2552.6 L1782.4 2550.1 L1787.1 2547.6 L1791.8 2546.8 L1789.7 2544.7 L1782.9 2543.5 L1777.1 2545.9 L1772.9 2545.1 L1772.9 2541.8 L1766.5 2538.9 L1767.1 2537.3 L1772.9 2538.1 L1778.7 2535.6 L1785.0 2532.3 L1790.3 2532.3 L1787.1 2535.2 L1786.0 2538.5 L1789.7 2537.3 L1795.5 2535.6 L1801.3 2534.8 L1805.6 2536.0 L1807.1 2539.3 L1805.0 2542.6 L1810.3 2543.9 L1813.5 2546.8 L1811.9 2551.3 L1812.9 2556.3 L1818.2 2556.7 L1823.5 2555.5 L1828.2 2553.0 L1828.8 2548.8 L1828.2 2544.7 L1824.5 2541.0 L1820.8 2537.7 L1818.2 2535.2 L1824.0 2533.1 L1829.8 2531.1 L1830.3 2527.3 L1835.1 2524.4 L1839.3 2522.8 L1844.6 2521.9 L1851.4 2523.2 L1857.8 2519.9 L1864.6 2515.7 L1870.9 2511.2 L1875.1 2506.2 L1878.8 2502.1 L1885.2 2498.0 L1887.3 2493.0 L1887.3 2487.6 L1891.5 2482.6 L1888.3 2479.3 L1879.9 2476.4 L1871.5 2475.6 L1869.3 2472.7 L1860.4 2472.3 L1859.3 2470.2 L1868.3 2466.1 L1875.1 2462.0 L1884.1 2457.8 L1892.0 2454.9 L1898.9 2454.1 L1907.8 2454.5 L1915.7 2454.5 L1926.3 2454.1 L1936.3 2452.9 L1947.4 2455.8 L1957.9 2454.9 L1961.1 2452.9 L1971.1 2445.0 L1981.6 2443.3 L1990.6 2442.5 L1989.6 2446.2 L1981.6 2448.3 L1972.2 2453.3 L1968.5 2457.8 L1969.0 2462.4 L1966.4 2468.6 L1966.4 2476.4 L1970.0 2485.5 L1971.6 2488.4 L1978.0 2485.1 L1982.2 2481.4 L1989.6 2478.5 L1991.7 2474.8 L2000.1 2472.7 L1998.0 2469.8 L2002.2 2466.9 L2006.4 2466.9 L2002.2 2460.7 L2008.0 2456.2 L2013.3 2452.4 L2022.2 2450.0 L2031.7 2449.5 L2043.9 2451.6 L2055.5 2447.5 L2060.7 2444.6 L2071.3 2443.3 L2079.2 2440.9 L2089.7 2441.7 L2095.0 2440.9 M763.8 2377.1 L776.9 2370.9 L800.7 2366.8 L819.1 2361.0 L850.8 2359.4 L882.4 2358.9 L914.0 2356.5 L945.7 2354.4 L987.8 2354.0 L1019.5 2356.5 L1035.3 2359.4 L1037.9 2362.7 L1061.6 2362.7 L1080.1 2362.7 L1064.3 2367.6 L1051.1 2369.7 L1043.2 2375.1 L1048.5 2382.1 L1040.6 2386.2 L1043.2 2390.4 L1032.6 2393.7 L1030.0 2399.1 L1019.5 2399.9 L1030.0 2402.8 L1027.4 2406.9 L1016.8 2408.2 L1022.1 2410.2 L1008.9 2416.0 L990.5 2417.7 L977.3 2418.5 L966.7 2423.5 L950.9 2427.6 L937.7 2428.9 L932.5 2433.0 L927.2 2437.1 L921.9 2443.3 L919.3 2448.3 L916.7 2451.6 L908.8 2450.8 L900.8 2448.3 L890.3 2446.2 L883.4 2441.3 L879.8 2435.9 L874.5 2433.0 L869.2 2428.9 L863.9 2424.7 L866.6 2421.8 L862.4 2417.7 L874.5 2414.4 L877.1 2411.1 L869.2 2410.2 L858.7 2407.8 L874.5 2406.9 L863.9 2404.0 L853.4 2402.0 L856.0 2398.7 L848.1 2394.5 L842.8 2391.6 L834.9 2387.5 L821.8 2385.4 L803.3 2385.0 L784.9 2384.2 L771.7 2382.1 L766.4 2379.6 L763.8 2377.1 M820.2 2424.3 L813.9 2421.4 L805.9 2418.9 L798.0 2417.3 L790.1 2413.1 L784.9 2409.4 L774.3 2406.9 L766.4 2404.0 L755.9 2402.4 L742.7 2400.3 L732.1 2399.5 L721.6 2397.0 L719.0 2394.9 L703.1 2395.8 L692.6 2396.6 L682.0 2397.8 L674.1 2404.0 L684.7 2408.2 L697.9 2410.7 L711.0 2411.5 L719.0 2414.4 L732.1 2417.3 L742.7 2418.5 L750.6 2420.6 L761.1 2422.7 L758.5 2426.8 L761.1 2429.7 L745.3 2429.7 L737.4 2431.8 L740.0 2434.2 L750.6 2433.4 L758.5 2435.1 L766.4 2438.0 L774.3 2440.0 L782.2 2441.3 L790.1 2443.3 L798.0 2443.8 L800.7 2440.9 L790.1 2437.1 L800.7 2437.6 L805.9 2435.1 L803.3 2430.9 L795.4 2427.6 L790.1 2424.7 L800.7 2425.6 L811.2 2429.7 L819.1 2427.6 L820.2 2424.3 M671.5 2382.1 L697.9 2383.8 L724.2 2384.2 L734.8 2382.5 L734.8 2379.2 L745.3 2375.9 L755.9 2373.8 L766.4 2370.9 L787.5 2367.6 L803.3 2364.7 L813.9 2361.4 L819.1 2358.5 L798.0 2356.9 L766.4 2356.5 L734.8 2356.9 L703.1 2358.1 L682.0 2360.6 L663.6 2364.7 L676.8 2368.0 L692.6 2370.5 L690.0 2374.3 L682.0 2377.1 L671.5 2378.8 L671.5 2382.1 M690.0 2431.8 L695.2 2428.4 L705.8 2429.7 L716.3 2433.0 L721.6 2435.9 L713.7 2435.9 L700.5 2438.4 L692.6 2437.1 L687.3 2434.2 L690.0 2431.8 M708.4 2439.6 L716.3 2440.0 L711.0 2442.1 L704.2 2441.7 L708.4 2439.6 M1027.4 2428.9 L1019.5 2428.9 L1030.0 2425.1 L1040.6 2426.4 L1051.1 2426.0 L1061.6 2424.7 L1069.6 2426.0 L1068.0 2428.9 L1074.3 2430.5 L1069.6 2433.4 L1059.0 2435.5 L1048.5 2437.6 L1037.9 2436.3 L1026.3 2435.5 L1030.0 2433.4 L1019.5 2431.3 L1027.4 2428.9 M853.4 2486.4 L848.1 2490.9 L843.4 2495.1 L838.1 2499.2 L833.4 2502.9 L840.2 2502.9 L850.8 2502.9 L854.4 2505.8 L861.3 2505.8 L863.4 2507.1 L868.2 2505.8 L867.6 2502.1 L863.4 2502.9 L865.0 2499.2 L861.3 2495.9 L853.4 2495.1 L852.9 2490.9 L853.4 2486.4 M495.4 2499.6 L487.0 2497.5 L479.1 2495.1 L471.2 2491.7 L470.1 2489.7 L476.4 2490.5 L485.9 2493.0 L492.2 2496.3 L495.4 2499.6 M450.1 2476.4 L454.3 2479.3 L452.7 2483.5 L447.4 2481.4 L443.7 2477.3 L450.1 2476.4 M344.6 2459.9 L335.1 2464.0 L331.4 2462.4 L338.3 2459.1 L344.6 2459.9 M698.4 2609.2 L708.4 2605.1 L716.3 2604.3 L724.2 2604.7 L732.1 2607.2 L740.0 2610.9 L747.9 2613.0 L754.8 2615.9 L749.5 2617.5 L737.4 2617.5 L739.0 2614.6 L732.1 2610.9 L721.6 2608.8 L713.7 2607.6 L705.8 2609.2 L698.4 2609.2 M753.7 2617.5 L762.2 2617.5 L771.7 2617.5 L779.6 2620.0 L785.4 2622.9 L778.0 2623.7 L770.6 2626.6 L763.8 2624.6 L753.7 2623.7 L762.2 2622.9 L753.7 2617.5 M733.2 2623.7 L743.7 2624.6 L741.1 2625.8 L733.2 2624.6 L733.2 2623.7 M791.7 2623.3 L800.1 2623.7 L799.6 2625.4 L791.7 2625.4 L791.7 2623.3 M819.6 2655.2 L824.4 2655.2 L824.4 2658.1 L819.6 2658.1 L819.6 2655.2 M734.8 2589.8 L740.0 2589.4 L737.4 2590.2 L734.8 2589.8 M735.8 2597.2 L737.4 2599.7 L736.3 2600.6 L735.8 2597.2 M784.3 2917.5 L785.9 2921.2 L790.1 2924.1 L798.0 2927.0 L802.3 2926.6 L795.4 2928.2 L787.5 2929.1 L779.6 2928.6 L771.7 2926.6 L763.8 2923.3 L771.7 2920.4 L776.9 2920.4 L779.6 2917.9 L784.3 2917.5 M822.8 2912.1 L832.3 2912.1 L841.3 2912.9 L837.6 2916.2 L827.0 2915.8 L822.8 2912.1 M945.7 2923.3 L956.2 2924.5 L953.6 2925.7 L945.7 2924.1 M755.9 2872.8 L758.5 2872.8 L758.5 2879.0 L754.8 2878.6 L755.9 2872.8 M663.6 2700.7 L666.2 2701.9 L664.6 2704.0 L663.1 2702.3 L663.6 2700.7 M324.1 2616.3 L328.8 2618.3 L328.8 2620.4 L325.1 2621.7 L323.5 2618.8 L324.1 2616.3 M311.4 2610.5 L314.6 2611.7 L312.5 2611.7 L311.4 2610.5 M319.8 2613.0 L323.5 2613.8 L321.4 2614.6 L319.8 2613.0 M303.5 2608.0 L306.1 2608.0 L305.1 2609.2 L303.5 2608.0 M240.2 2435.9 L249.7 2436.7 L256.0 2438.4 L248.1 2438.0 L240.2 2437.6 L240.2 2435.9 M266.6 2450.0 L272.9 2450.8 L269.8 2452.4 L264.0 2450.8 L266.6 2450.0 M197.0 2404.0 L204.9 2403.6 L210.2 2405.3 L202.3 2406.5 L197.0 2406.1 M2095.0 2404.0 L2088.7 2405.3 L2095.0 2406.1 M215.5 2485.1 L218.1 2484.7 L220.7 2485.1 M204.9 2485.5 L208.6 2485.1 L212.8 2485.5 M226.0 2483.9 L231.3 2484.3 M249.7 2481.8 L257.6 2479.7 L265.5 2478.1 L270.8 2476.9 M236.5 2483.5 L241.8 2483.1 M1202.9 2373.4 L1209.3 2369.7 L1230.4 2369.3 L1240.9 2367.6 L1259.4 2367.6 L1277.8 2368.5 L1288.3 2370.1 L1267.3 2373.0 L1262.0 2376.3 L1246.2 2378.8 L1235.6 2382.9 L1230.4 2380.0 L1219.8 2378.8 L1217.2 2376.3 L1206.6 2375.1 L1202.9 2373.4 M1417.5 2404.0 L1425.4 2406.9 L1436.0 2407.8 L1449.2 2407.3 L1441.2 2404.0 L1438.6 2399.9 L1441.2 2396.6 L1449.2 2392.9 L1459.7 2389.6 L1472.9 2386.2 L1488.7 2384.2 L1507.1 2381.7 L1499.2 2381.3 L1478.2 2383.8 L1462.3 2385.4 L1446.5 2388.3 L1438.6 2392.5 L1430.7 2396.2 L1425.4 2399.1 L1417.5 2404.0 M1393.8 2366.8 L1420.2 2368.9 L1446.5 2367.6 L1472.9 2366.4 L1462.3 2362.7 L1436.0 2361.4 L1409.6 2363.9 L1393.8 2366.8 M1646.9 2373.0 L1668.0 2376.3 L1694.3 2377.6 L1699.6 2373.8 L1678.5 2369.7 L1662.7 2365.6 L1646.9 2364.7 L1636.3 2368.9 L1646.9 2373.0 M1870.9 2386.2 L1889.4 2387.1 L1902.6 2386.2 L1910.5 2387.5 L1894.7 2385.0 L1876.2 2384.6 L1870.9 2386.2 M1926.3 2388.3 L1944.7 2389.1 L1936.8 2387.1 L1926.3 2388.3 M1884.1 2395.4 L1897.3 2394.9 L1902.6 2397.0 L1889.4 2397.0 L1884.1 2395.4 M1401.7 2413.6 L1408.6 2413.1 L1405.4 2415.2 L1401.7 2413.6 M1454.4 2409.0 L1465.0 2410.2 L1459.7 2411.1 L1454.4 2409.0 M1119.6 2457.4 L1130.2 2457.4 L1127.5 2460.3 L1135.5 2461.1 L1136.5 2462.8 L1132.8 2466.1 L1130.2 2468.2 L1135.5 2469.0 L1138.1 2472.3 L1143.4 2475.2 L1147.1 2478.5 L1148.6 2480.6 L1155.0 2481.8 L1154.4 2484.7 L1150.2 2486.8 L1153.4 2488.0 L1148.6 2489.7 L1140.7 2490.1 L1132.8 2490.5 L1127.5 2491.7 L1119.6 2493.0 L1115.9 2492.6 L1122.3 2489.3 L1129.1 2488.0 L1123.3 2486.4 L1118.6 2485.5 L1123.9 2483.1 L1121.2 2481.4 L1124.9 2479.3 L1130.2 2479.3 L1130.2 2476.4 L1128.1 2474.4 L1120.7 2473.1 L1119.1 2470.6 L1120.7 2468.6 L1116.5 2467.3 L1117.0 2464.0 L1113.3 2462.0 L1115.4 2459.9 L1119.6 2457.4 M1113.3 2474.4 L1115.9 2474.4 L1114.4 2477.3 L1113.8 2480.6 L1112.3 2483.9 L1106.5 2484.7 L1097.5 2486.4 L1092.2 2485.5 L1094.3 2482.6 L1097.5 2479.7 L1093.3 2478.5 L1094.3 2475.6 L1101.2 2475.2 L1102.2 2472.3 L1107.5 2471.1 L1113.3 2474.4 M1211.4 2543.5 L1216.1 2541.8 L1228.2 2541.4 L1226.1 2545.5 L1225.6 2548.0 L1221.4 2546.8 L1211.4 2543.5 M1190.3 2530.6 L1194.5 2529.4 L1197.7 2532.3 L1196.6 2537.7 L1192.9 2538.5 L1190.3 2538.1 L1190.8 2533.5 L1190.3 2530.6 M1191.3 2524.4 L1195.6 2521.9 L1196.6 2526.1 L1194.5 2528.6 L1191.9 2527.3 L1191.3 2524.4 M1269.9 2552.6 L1275.2 2553.4 L1284.7 2553.8 L1280.4 2555.0 L1275.2 2554.6 L1269.9 2553.8 L1269.9 2552.6 M1316.3 2555.0 L1320.0 2553.8 L1328.4 2552.2 L1325.3 2555.0 L1320.0 2556.7 L1316.3 2555.0 M1204.0 2469.0 L1212.4 2468.2 L1210.8 2471.5 L1205.0 2471.5 L1204.0 2469.0 M1197.7 2470.2 L1202.9 2471.1 L1201.4 2472.3 L1197.7 2471.5 L1197.7 2470.2 M1242.0 2460.3 L1246.2 2460.7 L1243.5 2463.6 L1242.0 2460.3 M1158.7 2536.0 L1163.9 2535.2 L1162.9 2537.3 L1158.7 2536.0 M1405.9 2749.5 L1409.6 2755.7 L1412.2 2764.0 L1408.6 2769.4 L1407.0 2774.3 L1403.3 2782.6 L1399.1 2792.9 L1394.8 2802.5 L1385.9 2805.3 L1378.0 2803.3 L1375.9 2797.1 L1374.3 2790.0 L1379.6 2782.6 L1378.0 2772.3 L1380.6 2766.9 L1388.5 2765.2 L1396.4 2761.1 L1401.7 2755.7 L1405.9 2749.5 M1567.3 2659.3 L1572.0 2660.5 L1575.2 2664.7 L1577.3 2669.6 L1574.6 2674.2 L1568.8 2675.0 L1566.7 2671.7 L1566.7 2665.9 L1567.3 2659.3 M1427.5 2647.3 L1433.3 2647.7 L1429.6 2649.0 L1427.5 2647.3 M1449.2 2782.6 L1450.7 2784.2 M1437.6 2786.7 L1439.7 2788.0 M1509.8 2901.7 L1517.7 2902.6 L1515.1 2905.1 L1509.8 2901.7 M1718.6 2620.4 L1723.3 2617.1 L1729.1 2616.7 L1731.2 2618.8 L1728.6 2622.5 L1723.3 2624.6 L1719.1 2623.3 L1718.6 2620.4 M1783.9 2596.0 L1788.7 2596.4 L1786.6 2602.6 L1783.4 2608.8 L1779.7 2605.5 L1779.2 2601.8 L1783.9 2596.0 M1884.1 2528.2 L1890.4 2526.9 L1893.6 2523.6 L1901.5 2526.1 L1907.8 2521.9 L1913.1 2520.7 L1911.5 2516.6 L1902.6 2517.0 L1894.1 2511.6 L1892.5 2516.6 L1891.5 2521.1 L1885.7 2520.7 L1884.1 2524.0 L1884.1 2528.2 M1891.5 2528.6 L1894.1 2534.4 L1894.7 2538.5 L1889.4 2541.4 L1889.4 2546.8 L1887.3 2550.9 L1888.9 2552.2 L1883.1 2555.0 L1878.8 2556.3 L1872.5 2556.7 L1867.8 2557.9 L1863.0 2561.3 L1858.3 2560.0 L1859.9 2556.7 L1852.5 2556.7 L1844.6 2557.9 L1836.7 2559.2 L1836.7 2556.7 L1847.2 2553.0 L1857.8 2552.2 L1863.0 2551.3 L1867.2 2546.8 L1869.9 2545.1 L1876.2 2543.0 L1881.5 2540.6 L1883.6 2535.2 L1884.1 2531.9 L1888.3 2529.4 L1891.5 2528.6 M1841.9 2560.0 L1847.2 2557.9 L1855.6 2558.4 L1856.2 2560.0 L1849.8 2561.7 L1846.2 2564.1 L1841.9 2560.0 M1830.3 2561.3 L1836.1 2559.6 L1841.9 2562.5 L1839.3 2567.5 L1836.7 2571.6 L1832.4 2570.8 L1832.4 2565.4 L1829.3 2563.3 L1830.3 2561.3 M1894.7 2475.2 L1899.9 2478.5 L1901.0 2484.7 L1901.5 2493.0 L1907.3 2497.1 L1901.0 2496.3 L1897.3 2501.3 L1899.9 2506.6 L1897.3 2509.5 L1894.1 2507.5 L1895.2 2502.1 L1894.1 2498.0 L1895.7 2490.9 L1893.1 2484.7 L1893.6 2479.3 L1894.7 2475.2 M1914.7 2519.1 L1918.9 2517.4 M1922.6 2515.3 L1927.9 2513.7 M1933.1 2511.2 L1936.8 2509.5 M1781.8 2623.3 L1788.7 2624.1 L1790.8 2629.5 L1789.2 2633.7 L1786.6 2636.6 L1788.2 2641.1 L1792.9 2641.1 L1799.8 2644.8 L1797.1 2646.9 L1791.8 2644.0 L1787.1 2642.8 L1781.8 2640.7 L1781.8 2637.8 L1778.7 2635.3 L1780.2 2631.6 L1781.8 2623.3 M1797.6 2663.9 L1802.4 2664.7 L1807.7 2660.1 L1813.5 2669.6 L1810.3 2673.8 L1807.1 2676.7 L1800.8 2673.8 L1799.8 2669.2 L1790.3 2670.9 L1794.0 2667.2 L1797.6 2663.9 M1801.3 2648.1 L1808.2 2649.0 L1808.7 2654.3 L1804.5 2657.7 L1801.3 2652.3 L1801.3 2648.1 M1788.7 2651.0 L1794.5 2652.3 L1791.8 2656.4 L1788.7 2656.0 L1788.7 2651.0 M1794.0 2654.8 L1797.1 2655.6 L1795.5 2661.8 L1791.3 2659.7 L1794.0 2654.8 M1780.8 2644.0 L1785.5 2644.4 L1786.6 2648.5 L1782.9 2649.0 L1780.8 2644.0 M1763.9 2665.1 L1775.5 2656.4 L1776.6 2653.1 L1773.4 2657.2 L1766.0 2664.3 L1763.9 2665.1 M1720.7 2692.4 L1723.8 2691.6 L1731.2 2692.4 L1733.9 2688.7 L1741.8 2686.6 L1747.0 2680.8 L1754.4 2678.3 L1758.6 2674.2 L1762.8 2670.9 L1766.5 2673.4 L1774.4 2677.9 L1769.2 2680.8 L1767.1 2685.4 L1768.1 2690.3 L1772.9 2695.7 L1767.6 2696.5 L1765.5 2701.9 L1761.3 2706.1 L1759.7 2710.2 L1757.6 2714.7 L1749.7 2716.4 L1741.8 2713.5 L1734.9 2712.3 L1727.0 2711.8 L1725.9 2707.3 L1722.8 2703.2 L1720.7 2698.6 L1720.7 2692.4 M1648.4 2676.7 L1660.0 2678.3 L1664.3 2682.5 L1670.6 2686.2 L1675.9 2690.7 L1680.1 2692.8 L1686.4 2695.7 L1691.7 2699.8 L1693.3 2704.0 L1696.9 2708.1 L1702.7 2712.3 L1704.9 2717.2 L1703.8 2723.8 L1697.5 2724.3 L1691.7 2720.1 L1685.3 2716.4 L1679.5 2711.0 L1675.3 2704.8 L1671.1 2699.4 L1666.9 2693.2 L1661.6 2689.9 L1656.4 2685.4 L1649.0 2680.0 L1648.4 2676.7 M1700.6 2728.0 L1704.9 2724.3 L1712.8 2724.7 L1717.0 2725.9 L1723.3 2728.0 L1728.6 2728.4 L1733.9 2727.2 L1740.2 2728.4 L1749.1 2731.7 L1749.7 2735.8 L1741.8 2734.2 L1731.2 2733.8 L1720.7 2731.7 L1712.8 2731.3 L1707.0 2730.5 L1700.6 2728.0 M1750.2 2733.4 L1755.5 2734.6 L1753.4 2736.3 L1750.2 2734.6 L1750.2 2733.4 M1757.6 2734.2 L1761.3 2734.6 L1760.2 2736.7 L1757.6 2735.8 L1757.6 2734.2 M1762.3 2735.0 L1769.7 2734.2 L1773.9 2735.8 L1765.5 2737.1 L1762.3 2735.0 M1778.1 2735.0 L1786.6 2735.0 L1794.5 2734.2 L1790.8 2736.3 L1778.7 2736.3 L1778.1 2735.0 M1773.4 2739.2 L1782.9 2740.4 L1779.7 2742.0 L1773.4 2740.4 L1773.4 2739.2 M1797.1 2742.5 L1802.4 2739.2 L1807.7 2736.3 L1816.6 2734.6 L1807.7 2738.3 L1799.8 2741.6 L1797.1 2742.5 M1775.0 2723.0 L1776.6 2716.4 L1773.9 2713.9 L1772.9 2710.2 L1776.0 2704.0 L1777.6 2697.8 L1780.2 2696.1 L1786.6 2695.7 L1794.5 2696.1 L1801.9 2695.7 L1806.1 2693.2 L1802.4 2697.8 L1795.5 2698.2 L1786.6 2697.8 L1781.8 2699.0 L1780.8 2703.2 L1785.0 2704.0 L1793.4 2703.2 L1796.1 2704.0 L1790.8 2706.9 L1786.0 2710.2 L1790.3 2713.1 L1793.4 2719.3 L1789.2 2719.7 L1785.0 2718.5 L1782.9 2714.3 L1780.8 2722.6 L1775.0 2723.0 M1818.7 2691.2 L1821.4 2693.6 L1824.5 2694.9 L1820.3 2697.4 L1824.0 2698.6 L1820.3 2701.1 L1822.4 2703.2 L1818.2 2701.9 L1818.7 2691.2 M1820.8 2713.1 L1828.8 2711.4 L1835.6 2713.9 L1828.8 2714.7 L1820.8 2714.3 L1820.8 2713.1 M1810.3 2713.1 L1816.6 2713.5 L1813.5 2715.6 L1810.3 2714.7 L1810.3 2713.1 M1836.7 2705.2 L1843.5 2701.5 L1853.0 2703.2 L1857.8 2713.5 L1870.9 2706.1 L1884.1 2709.8 L1897.3 2713.5 L1907.8 2715.6 L1915.7 2720.5 L1924.2 2725.1 L1925.2 2728.8 L1920.5 2730.5 L1927.3 2733.4 L1933.1 2737.5 L1941.1 2742.5 L1935.8 2743.3 L1926.3 2741.2 L1918.4 2736.3 L1910.5 2732.1 L1904.1 2732.1 L1902.6 2735.0 L1897.3 2738.3 L1889.4 2737.5 L1878.8 2733.4 L1873.6 2734.6 L1872.0 2730.5 L1877.8 2728.0 L1873.6 2723.0 L1868.3 2720.1 L1857.8 2718.1 L1849.8 2715.6 L1846.2 2716.4 L1841.9 2711.8 L1849.8 2710.2 L1841.9 2708.5 L1836.7 2705.2 M1928.4 2722.6 L1936.8 2720.5 L1944.7 2717.6 L1949.0 2718.1 L1946.3 2720.5 L1939.5 2725.5 L1931.6 2725.1 L1928.4 2722.6 M1939.5 2710.6 L1947.4 2713.5 L1953.2 2718.5 L1950.0 2716.4 L1943.2 2712.3 L1939.5 2710.6 M1961.1 2720.5 L1965.8 2724.7 L1968.5 2728.0 L1964.8 2726.7 L1961.1 2720.5 M1976.4 2733.8 L1984.3 2734.2 L1988.5 2737.1 L1981.6 2736.3 M1987.4 2738.3 L1993.8 2740.4 L1989.6 2740.8 M1992.7 2735.0 L1997.5 2739.2 M2024.4 2760.3 L2027.5 2764.0 L2029.1 2768.1 L2033.3 2773.1 M2010.6 2783.4 L2018.6 2786.7 L2026.5 2791.7 L2022.8 2791.7 L2013.3 2786.7 L2010.6 2783.4 M2080.8 2772.3 L2087.1 2772.3 L2086.0 2775.1 L2080.8 2773.9 L2080.8 2772.3 M2088.7 2767.7 L2095.0 2766.5 M1744.4 2790.9 L1747.6 2790.0 L1749.7 2792.9 L1754.9 2788.8 L1761.8 2785.1 L1770.8 2783.8 L1778.7 2781.8 L1786.6 2778.5 L1790.8 2772.3 L1794.5 2768.1 L1799.2 2769.4 L1802.4 2764.0 L1807.7 2759.8 L1812.9 2757.4 L1819.3 2759.0 L1822.4 2761.9 L1828.8 2761.1 L1830.3 2755.7 L1834.6 2751.2 L1839.3 2750.3 L1845.1 2749.5 L1846.2 2746.6 L1852.5 2749.1 L1860.4 2750.3 L1867.2 2749.1 L1865.7 2753.2 L1862.0 2755.3 L1860.4 2761.1 L1865.7 2764.0 L1872.5 2767.7 L1879.9 2771.8 L1888.3 2772.3 L1892.0 2766.0 L1892.5 2757.8 L1892.5 2751.6 L1894.7 2745.4 L1897.3 2744.1 L1899.9 2749.5 L1902.6 2755.7 L1907.8 2759.0 L1912.1 2761.9 L1913.1 2768.1 L1916.8 2776.4 L1923.7 2780.5 L1930.5 2784.7 L1934.2 2791.7 L1940.0 2793.4 L1942.1 2798.3 L1950.0 2803.3 L1953.7 2809.5 L1955.8 2817.8 L1952.7 2826.0 L1951.1 2832.2 L1944.7 2838.4 L1941.1 2843.8 L1936.8 2850.9 L1936.3 2855.0 L1927.9 2856.2 L1921.0 2858.3 L1916.8 2861.2 L1913.1 2859.1 L1907.8 2857.9 L1902.6 2860.4 L1894.7 2858.7 L1886.7 2857.1 L1882.5 2852.9 L1881.5 2848.0 L1876.2 2847.1 L1874.1 2842.2 L1872.0 2845.5 L1867.2 2845.9 L1870.9 2840.5 L1872.5 2836.4 L1869.9 2839.3 L1863.0 2843.8 L1858.8 2843.0 L1853.5 2836.4 L1844.6 2832.2 L1836.7 2830.2 L1826.1 2831.0 L1815.6 2833.5 L1805.0 2835.6 L1797.1 2840.1 L1789.2 2840.5 L1778.7 2840.5 L1770.8 2843.8 L1762.8 2845.1 L1754.9 2842.2 L1752.3 2838.9 L1756.0 2837.6 L1756.0 2830.2 L1752.3 2824.0 L1751.8 2817.8 L1748.1 2811.6 L1744.4 2807.4 L1746.0 2801.2 L1744.4 2795.0 L1744.4 2790.9 M1908.9 2868.2 L1915.7 2869.9 L1923.7 2869.1 L1927.9 2869.5 L1926.3 2875.7 L1921.0 2879.8 L1915.7 2879.8 L1911.5 2875.7 L1908.9 2868.2 M2056.5 2842.6 L2060.7 2844.7 L2066.0 2848.8 L2068.6 2852.1 L2072.9 2852.9 L2076.5 2855.8 L2084.5 2855.4 L2086.6 2859.5 L2079.2 2862.0 L2078.1 2865.3 L2072.9 2870.7 L2069.7 2872.0 L2067.1 2870.3 L2068.6 2867.4 L2066.5 2864.5 L2062.3 2862.4 L2066.5 2859.5 L2067.1 2854.6 L2064.4 2850.9 L2059.1 2845.9 L2056.5 2842.6 M2056.5 2867.4 L2063.4 2869.5 L2064.9 2872.4 L2060.7 2875.7 L2057.0 2879.8 L2049.1 2883.1 L2046.0 2889.3 L2040.2 2892.6 L2033.3 2892.6 L2023.8 2890.2 L2024.9 2887.3 L2031.7 2881.9 L2044.9 2877.8 L2050.2 2872.8 L2053.3 2869.1 L2056.5 2867.4 M660.4 2506.6 L668.9 2507.1 L679.4 2505.4 L684.7 2507.5 L697.9 2507.1 L700.0 2507.5 L698.9 2503.3 L695.2 2501.7 L690.0 2498.4 L680.5 2498.0 L674.1 2501.3 L667.3 2504.2 L660.4 2506.6 M683.1 2527.3 L687.3 2527.3 L691.0 2524.0 L691.5 2518.6 L695.2 2512.8 L698.9 2510.4 L695.2 2510.0 L689.4 2510.4 L687.3 2513.7 L684.2 2515.7 L682.6 2521.9 L683.1 2527.3 M699.4 2510.0 L705.8 2510.0 L713.7 2509.5 L721.1 2510.0 L724.2 2513.7 L717.9 2514.5 L715.3 2517.8 L711.0 2521.9 L710.0 2519.5 L705.8 2517.8 L706.8 2514.5 L699.4 2510.0 M705.8 2527.3 L711.0 2528.6 L719.0 2526.9 L729.5 2523.2 L725.3 2522.4 L716.3 2523.6 L708.4 2525.7 L705.8 2527.3 M725.3 2520.7 L732.1 2520.7 L740.0 2520.7 L744.3 2519.5 L742.7 2517.0 L737.4 2517.8 L727.9 2519.1 L725.3 2520.7 M634.6 2490.9 L638.3 2486.8 L630.4 2478.1 L624.0 2477.7 L626.7 2482.6 L632.0 2486.8 L634.6 2490.9 M529.1 2447.5 L545.0 2445.0 L555.5 2442.1 L568.7 2440.0 L560.8 2443.3 L550.2 2446.7 L537.1 2447.9 L529.1 2447.5 M487.0 2430.9 L497.5 2425.6 L508.1 2422.7 L518.6 2423.9 L521.2 2427.6 L508.1 2428.9 L497.5 2431.3 L487.0 2430.9 M558.1 2455.8 L574.0 2453.7 L584.5 2454.5 L571.3 2456.2 L558.1 2455.8 M1392.2 2515.7 L1396.4 2511.2 L1401.7 2508.7 L1407.0 2507.5 L1415.9 2505.0 L1425.4 2505.8 L1426.5 2511.2 L1416.5 2515.3 L1411.2 2515.7 L1414.9 2521.5 L1423.8 2524.0 L1422.8 2526.9 L1425.4 2531.5 L1424.4 2535.2 L1428.1 2537.3 L1430.2 2542.6 L1430.2 2545.5 L1422.8 2548.0 L1414.9 2547.6 L1407.0 2544.7 L1403.8 2541.0 L1405.4 2536.4 L1407.0 2533.5 L1411.2 2532.7 L1407.0 2531.1 L1402.2 2526.9 L1396.4 2521.9 L1395.9 2518.2 L1392.2 2515.7 M1453.4 2508.3 L1459.7 2508.7 L1468.7 2512.0 L1467.6 2517.8 L1459.7 2519.9 L1454.4 2517.8 L1453.4 2513.7 L1453.4 2508.3 M1694.3 2486.0 L1702.2 2484.7 L1712.8 2479.7 L1720.7 2474.4 L1724.9 2469.4 L1720.7 2470.2 L1715.4 2476.4 L1707.5 2481.4 L1696.9 2485.1 L1694.3 2486.0 M1533.5 2509.5 L1541.4 2507.5 L1552.0 2507.9 L1562.5 2508.3 L1554.6 2510.8 L1541.4 2510.4 L1533.5 2509.5 M1304.2 2451.6 L1312.1 2450.4 L1318.9 2447.9 L1314.7 2445.4 L1306.8 2446.2 L1303.1 2448.7 L1304.2 2451.6 M1327.9 2447.5 L1333.2 2446.2 L1337.9 2441.3 L1330.5 2440.0 L1326.8 2442.5 L1327.9 2447.5 M1313.7 2704.0 L1317.3 2699.0 L1322.6 2698.6 L1325.3 2701.5 L1327.9 2703.2 L1322.6 2710.2 L1317.3 2710.2 L1313.7 2706.1 L1313.7 2704.0 M1299.9 2713.5 L1301.5 2718.5 L1302.6 2724.7 L1306.8 2728.8 L1309.4 2735.4 L1306.8 2734.2 L1302.1 2726.7 L1299.9 2720.5 L1299.9 2713.5 M1326.8 2739.6 L1328.4 2745.4 L1328.9 2751.6 L1331.6 2759.0 L1328.4 2756.1 L1326.8 2749.5 L1325.3 2743.3 L1326.8 2739.6 M778.0 2763.1 L783.3 2765.2 L781.2 2767.7 L777.5 2765.2 L778.0 2763.1 M1217.2 2642.8 L1222.4 2643.6 L1223.0 2646.5 L1218.8 2646.1 L1217.2 2642.8 M513.3 3005.0 L502.8 3003.9 L493.3 3003.9 L485.4 3007.7 L477.5 3014.7 L458.5 3014.7 L450.6 3009.7 L420.0 3009.7 L404.7 3012.6 L401.0 3014.7 L393.1 3012.6 L374.1 3014.7 L374.1 3020.5 L358.3 3021.3 L345.1 3023.0 L335.7 3023.0 L326.2 3020.1 L308.8 3018.8 L331.4 3030.0 L379.4 3034.6 L362.5 3036.6 L331.4 3038.7 L341.5 3047.0 L360.4 3049.9 L374.1 3054.0 L277.7 3054.0 L257.6 3050.3 L197.0 3049.9 M312.5 3023.8 L331.4 3023.8 L331.4 3026.7 L312.5 3026.7 L312.5 3023.8 M280.8 3025.0 L291.9 3025.9 L301.9 3030.8 L289.3 3032.1 L280.8 3027.9 L280.8 3025.0 M513.3 3005.2 L531.8 3005.6 L531.8 3012.2 L548.1 3012.2 L553.9 3005.6 L562.4 3008.5 L569.2 3011.4 L575.0 3008.5 L597.7 3010.1 L621.4 3010.1 L626.7 3003.9 L636.7 2997.7 L644.6 3001.0 L694.7 3001.0 L694.7 3003.5 L721.6 3003.5 L736.9 2999.4 L747.9 2999.4 L752.2 3005.6 L787.0 3003.5 L790.7 2996.9 L784.9 2991.1 L790.1 2984.5 L792.8 2977.0 L800.7 2970.8 L813.9 2966.3 L827.0 2962.6 L842.8 2961.7 L840.2 2964.6 L829.7 2967.9 L821.8 2972.9 L816.0 2979.1 L816.0 2985.3 L821.8 2991.5 L825.4 2996.9 L829.7 3004.8 L825.4 3008.5 L813.9 3013.5 L802.3 3017.2 L789.1 3018.8 L808.6 3018.8 L829.7 3018.4 L854.4 3023.0 L879.8 3025.0 L903.5 3027.9 L934.6 3027.9 L956.7 3025.0 L964.1 3020.5 L991.0 3018.4 L1020.0 3010.6 L1049.0 3003.1 L1083.3 3001.0 L1085.4 2995.2 L1099.1 2994.4 L1106.5 2992.4 L1129.7 2992.4 L1133.3 2990.7 L1146.0 2997.3 L1163.4 2992.4 L1182.4 2990.3 L1246.2 2990.3 L1246.7 2992.4 L1276.8 2992.4 L1278.9 2990.3 L1307.3 2990.3 L1309.4 2987.8 L1322.1 2987.0 L1323.7 2982.8 L1332.6 2987.8 L1350.0 2988.6 L1355.8 2985.7 L1371.1 2982.0 L1390.1 2979.1 L1398.0 2982.0 L1409.6 2979.1 L1413.3 2975.4 L1421.2 2972.5 L1438.1 2972.5 L1443.9 2976.2 L1462.3 2979.1 L1492.9 2981.6 L1513.5 2981.6 L1518.2 2991.9 L1524.0 2992.8 L1521.9 2988.2 L1541.4 2988.2 L1547.2 2983.7 L1574.1 2981.6 L1589.4 2977.9 L1627.9 2976.6 L1630.0 2973.7 L1635.8 2976.6 L1643.7 2975.0 L1654.8 2976.6 L1664.8 2975.0 L1670.6 2977.9 L1688.0 2972.9 L1697.5 2973.7 L1712.8 2975.0 L1741.8 2972.1 L1753.4 2975.0 L1762.8 2977.9 L1778.7 2977.5 L1790.3 2975.4 L1801.9 2977.0 L1813.5 2975.4 L1826.6 2977.0 L1834.6 2975.4 L1876.7 2975.4 L1878.8 2977.0 L1907.3 2977.0 L1921.0 2982.8 L1959.5 2982.8 L1965.3 2987.8 L1971.1 2985.7 L1995.9 2988.6 L1999.6 2994.4 L2003.8 2990.7 L2022.8 2992.4 L2043.9 2995.2 L2048.1 2997.3 L2038.1 3001.0 L2024.9 3006.0 L2009.6 3010.6 L2003.8 3014.7 L2013.3 3024.2 L2017.0 3024.2 L1992.2 3027.1 L1990.1 3030.8 L1993.8 3038.7 L2017.0 3042.4 L2028.6 3046.1 L2095.0 3048.2 M2024.9 3020.9 L2042.3 3020.9 M742.7 2990.3 L753.2 2988.6 L758.5 2991.5 L755.9 2996.9 L747.9 2995.7 L742.7 2990.3 M607.7 2997.7 L623.0 2996.9 L621.4 3001.0 L610.9 3001.0 L607.7 2997.7 M829.7 2958.4 L842.8 2959.7 L856.0 2961.3 M899.8 2950.6 L910.3 2950.6 M944.1 2923.7 L953.6 2924.5 L956.7 2927.4 M211.2 2881.5 L218.1 2881.5 M584.7 2369.7 L600.0 2369.7 L620.0 2372.2 M536.2 2376.0 L549.8 2374.3 L572.8 2373.9 L568.5 2376.9 L550.7 2376.9 L536.2 2376.9 M514.0 2378.6 L531.0 2378.6 L565.1 2379.4 L586.4 2379.4 M489.3 2382.8 L501.3 2381.1 L514.0 2381.1 L531.0 2382.0 L548.1 2382.8 L556.6 2385.4 L565.1 2387.1 L577.9 2383.7 L587.2 2385.4 L584.7 2388.8 L565.1 2388.8 L548.1 2390.5 L533.6 2387.9 L514.0 2387.1 L505.5 2385.4 L492.8 2384.5 L489.3 2382.8 M587.2 2378.6 L593.2 2379.4 L596.6 2384.5 L607.7 2387.1 L620.0 2388.8 M489.3 2390.9 L528.5 2390.9 L539.6 2393.9 L552.3 2395.6 L565.1 2395.6 L577.9 2396.4 L586.4 2393.9 L595.7 2395.6 M491.1 2392.2 L491.1 2395.6 L485.1 2400.2 L492.8 2404.5 L505.5 2404.9 L515.8 2399.8 L527.7 2395.6 M589.8 2397.3 L593.2 2403.2 L599.2 2406.6 L610.2 2407.4 L614.5 2410.0 L607.7 2413.3 L599.2 2415.9 L620.0 2419.3 M480.0 2410.8 L488.5 2409.1 L497.0 2409.1 L509.8 2410.8 L516.6 2413.3 L531.0 2414.2 L535.3 2417.6 L573.6 2416.7 L582.1 2414.2 L590.6 2414.2 L599.2 2415.9 M525.1 2406.6 L552.3 2407.0 L539.6 2410.8 L529.4 2410.0 L525.1 2406.6 M603.4 2397.3 L611.9 2393.9 L620.0 2393.9 M607.7 2399.8 L620.0 2402.3 M705.0 2356.3 L757.5 2355.9 L760.0 2353.4 M667.1 2360.2 L687.5 2359.3 L705.0 2356.8 M644.7 2364.6 L652.5 2362.2 L668.1 2362.2 L687.5 2365.6 L737.1 2365.1 M620.4 2367.0 L629.2 2367.5 L637.0 2374.3 L648.6 2377.2 L660.3 2376.2 L677.8 2375.7 L682.7 2368.5 L697.3 2371.4 L687.5 2377.2 L677.8 2381.1 L687.5 2383.0 L721.6 2384.0 L726.4 2382.0 L736.2 2378.2 L745.9 2375.2 L751.7 2371.4 L760.0 2369.0 M600.0 2371.4 L619.5 2371.9 L621.4 2375.2 L600.0 2376.2 M600.0 2382.0 L609.7 2383.0 L611.7 2386.9 L619.5 2388.8 L629.2 2386.9 L639.9 2386.9 L650.6 2387.9 L660.3 2390.8 L677.8 2391.8 L702.1 2391.8 L716.7 2394.6 L726.4 2395.6 L741.0 2395.6 L755.6 2398.5 L760.0 2402.4 M602.0 2397.5 L609.7 2394.6 L629.2 2393.7 L634.1 2395.6 L638.9 2401.4 L629.2 2402.4 L617.5 2401.4 L605.9 2398.5 L602.0 2397.5 M640.9 2392.7 L648.6 2390.8 L660.3 2393.7 L677.8 2395.6 L672.0 2398.5 L673.9 2404.3 L687.5 2408.2 L707.0 2410.2 L716.7 2408.2 L731.3 2409.2 L743.9 2412.1 L751.7 2416.9 L760.0 2416.0 M650.6 2398.5 L660.3 2404.3 L661.3 2409.2 L672.0 2416.0 L677.8 2412.1 L682.7 2416.9 L692.4 2419.8 L702.1 2421.8 L716.7 2419.8 M600.0 2407.3 L614.6 2408.2 L614.6 2411.2 L600.0 2413.1 M619.5 2413.1 L629.2 2410.2 L634.1 2414.1 L638.9 2418.9 L648.6 2412.1 M600.0 2416.9 L619.5 2419.8 M230.7 2756.5 L242.9 2757.4 M356.2 2771.8 L358.9 2773.1 M993.3 2539.5 L997.3 2539.5 M1008.4 2543.9 L1012.6 2543.9" stroke="#bcbcf2" stroke-width="3.6" stroke-linejoin="round"/><path d="M260.3 2428.4 L270.8 2426.0 L279.8 2424.3 L291.9 2426.8 L294.0 2424.3 L282.4 2421.8 L273.4 2418.5 L266.6 2417.1 L269.8 2414.8 L284.0 2412.3 L292.4 2409.0 L307.7 2406.9 L320.9 2404.5 L334.1 2406.5 L344.6 2406.9 L363.1 2409.0 L381.5 2409.8 L402.6 2411.7 L415.8 2413.1 L426.3 2414.8 L436.9 2412.3 L450.1 2411.9 L463.2 2410.2 L471.2 2407.8 L481.7 2412.3 L489.6 2412.7 L502.8 2411.1 L513.3 2413.1 L526.5 2414.8 L539.7 2418.5 L547.6 2419.3 L566.1 2418.5 L576.6 2417.3 L584.5 2417.7 L597.7 2418.5 L613.5 2419.3 L626.7 2420.2 L632.0 2417.3 L639.9 2417.7 L642.5 2413.1 L649.4 2411.1 L647.8 2404.0 L658.3 2402.0 L663.6 2406.9 L674.1 2413.1 L682.0 2416.0 L688.4 2418.5 L693.6 2412.3 L702.1 2411.1 L712.6 2413.6 L716.3 2416.5 L716.3 2421.4 L708.4 2425.6 L695.2 2424.7 L688.4 2424.7 L682.0 2433.0 L671.5 2435.1 L667.8 2438.0 L658.3 2442.5 L650.4 2447.5 L647.2 2453.7 L649.4 2456.6 L655.7 2462.0 L658.3 2464.0 L668.9 2463.2 L682.0 2466.9 L697.9 2471.1 L712.1 2471.9 L712.1 2478.5 L716.3 2483.5 L721.6 2487.6 L729.5 2486.4 L730.5 2482.6 L729.5 2476.4 L737.4 2470.2 L742.1 2466.1 L741.1 2459.9 L737.4 2455.8 L737.9 2448.3 L734.2 2442.1 L747.9 2442.1 L758.5 2442.1 L769.0 2446.7 L776.9 2447.5 L779.6 2453.7 L787.5 2457.8 L792.8 2457.8 L798.0 2455.8 L803.3 2452.4 L805.9 2450.4 L811.2 2455.8 L819.1 2462.0 L821.8 2466.1 L829.7 2470.2 L840.2 2474.0 L842.8 2476.4 L850.8 2480.6 L851.8 2484.7 L844.4 2487.2 L836.0 2488.0 L829.7 2491.7 L819.1 2492.2 L808.6 2492.2 L798.0 2492.6 L790.1 2495.9 L783.3 2499.2 L774.3 2504.6 L770.6 2506.2 L774.3 2505.4 L782.2 2501.3 L792.8 2497.1 L803.3 2496.3 L807.5 2498.0 L805.4 2500.4 L798.0 2501.3 L803.3 2502.9 L804.4 2505.4 L805.9 2508.3 L811.2 2510.4 L819.1 2510.8 L823.3 2511.2 L825.4 2506.2 L828.6 2506.2 L830.7 2509.5 L824.4 2512.4 L813.9 2515.3 L805.9 2517.8 L799.1 2519.5 L797.5 2516.6 L804.4 2512.8 L807.5 2512.0 L800.7 2511.2 L793.8 2513.3 L790.1 2515.7 L783.3 2516.6 L775.9 2519.1 L773.3 2522.8 L772.2 2525.3 L776.9 2526.5 L776.9 2527.7 L771.7 2528.2 L763.8 2529.4 L756.9 2531.1 L755.9 2532.3 L755.3 2535.2 L751.6 2538.9 L749.0 2536.8 L750.1 2540.2 L747.9 2543.5 L745.3 2545.9 L743.7 2542.6 L742.7 2538.5 L744.3 2546.8 L745.8 2549.7 L747.9 2553.8 L742.7 2556.3 L737.4 2557.9 L732.1 2560.0 L728.4 2562.5 L721.6 2566.2 L717.9 2569.5 L716.8 2574.9 L717.9 2578.6 L721.1 2583.2 L723.2 2588.1 L723.7 2593.1 L721.6 2595.6 L718.4 2595.6 L714.7 2591.5 L712.6 2589.0 L710.0 2584.4 L709.5 2579.9 L705.8 2576.6 L701.6 2575.7 L696.3 2577.0 L692.6 2574.5 L684.7 2574.5 L679.4 2574.1 L674.1 2574.9 L675.2 2579.0 L670.4 2579.5 L663.6 2577.8 L658.3 2577.4 L651.5 2577.0 L646.2 2578.6 L642.5 2580.7 L637.2 2583.2 L633.0 2586.1 L632.5 2592.3 L631.4 2598.5 L630.4 2606.8 L632.0 2611.7 L637.2 2618.8 L642.5 2622.1 L647.8 2624.6 L655.7 2623.7 L662.0 2622.9 L667.8 2619.2 L669.4 2613.8 L674.1 2611.7 L682.0 2610.9 L687.8 2611.7 L685.2 2617.1 L683.6 2622.1 L681.0 2626.2 L680.5 2631.6 L677.3 2634.1 L682.0 2634.5 L690.0 2634.1 L697.9 2633.7 L703.1 2635.3 L707.4 2637.8 L705.8 2644.0 L705.2 2650.2 L704.2 2654.3 L707.4 2658.5 L712.6 2661.8 L717.9 2663.4 L724.2 2661.4 L729.5 2660.5 L735.8 2663.0 L738.5 2664.3 L741.1 2665.9 L745.3 2661.4 L747.9 2656.8 L751.6 2654.3 L758.5 2653.1 L763.8 2651.0 L768.5 2648.5 L770.6 2651.0 L766.9 2653.5 L768.5 2654.8 L771.7 2652.7 L775.9 2651.9 L776.4 2649.8 L779.6 2652.3 L785.9 2655.2 L795.4 2656.0 L803.3 2658.1 L808.6 2655.6 L816.5 2655.6 L820.2 2656.0 L817.5 2658.5 L824.4 2663.9 L829.7 2665.5 L834.9 2668.8 L838.6 2671.7 L844.4 2675.0 L853.4 2675.4 L861.3 2675.9 L866.6 2677.1 L871.8 2680.4 L876.1 2683.3 L877.1 2687.4 L879.8 2692.4 L882.4 2695.7 L880.8 2699.8 L887.7 2700.7 L891.4 2703.2 L895.6 2702.3 L903.5 2704.0 L910.9 2709.0 L912.4 2711.0 L916.7 2709.8 L924.6 2711.4 L932.5 2711.4 L940.4 2713.9 L945.7 2717.6 L950.9 2720.5 L958.8 2721.4 L961.5 2726.7 L962.5 2732.1 L960.4 2737.1 L956.2 2742.0 L950.9 2746.2 L946.2 2751.6 L941.4 2754.5 L940.4 2761.9 L939.9 2769.4 L937.2 2775.6 L935.1 2780.9 L930.9 2788.8 L927.2 2792.1 L924.6 2795.0 L916.7 2795.0 L910.9 2796.2 L906.1 2798.3 L900.8 2799.6 L893.5 2803.3 L889.8 2807.4 L889.8 2814.9 L887.7 2818.6 L882.4 2823.1 L878.2 2828.1 L872.9 2832.2 L868.7 2837.6 L863.9 2841.3 L858.7 2843.8 L851.8 2843.8 L845.5 2842.2 L838.1 2840.5 L837.6 2843.8 L843.9 2847.1 L847.1 2850.4 L844.4 2854.2 L841.8 2857.9 L834.9 2860.0 L824.4 2860.8 L818.1 2861.2 L818.6 2865.3 L817.0 2868.2 L811.2 2870.3 L803.3 2868.6 L802.8 2873.6 L808.6 2874.0 L810.7 2876.5 L805.9 2877.3 L803.3 2880.2 L801.7 2884.4 L799.1 2886.0 L791.2 2889.3 L789.6 2892.2 L795.4 2895.1 L799.1 2898.0 L791.7 2901.7 L788.5 2904.6 L784.9 2907.5 L781.2 2910.8 L783.3 2913.3 L785.4 2916.2 L779.6 2916.2 L774.3 2918.3 L771.7 2922.4 L766.4 2921.6 L760.1 2919.1 L755.9 2916.2 L753.2 2910.8 L749.5 2906.7 L747.9 2901.3 L750.6 2897.6 L754.3 2894.3 L751.6 2891.0 L755.9 2887.3 L758.5 2881.9 L762.2 2876.9 L762.7 2871.5 L756.9 2872.0 L757.4 2865.3 L759.0 2861.2 L758.0 2854.6 L762.2 2848.0 L766.4 2840.5 L768.5 2836.4 L769.0 2828.1 L770.1 2821.9 L771.7 2814.9 L773.3 2807.4 L774.3 2799.1 L775.9 2790.9 L775.9 2782.6 L775.4 2776.0 L770.1 2772.7 L763.8 2769.4 L755.9 2765.2 L747.9 2761.1 L743.7 2756.5 L741.1 2751.6 L738.5 2748.7 L733.7 2741.2 L729.5 2735.0 L725.8 2729.6 L719.0 2724.7 L717.9 2719.7 L722.1 2714.3 L724.7 2710.6 L720.0 2709.4 L719.5 2704.0 L723.2 2699.8 L724.2 2696.5 L729.5 2694.5 L732.1 2690.3 L736.9 2686.6 L738.5 2683.3 L737.9 2677.1 L737.4 2671.7 L734.8 2668.8 L732.7 2665.5 L729.5 2663.4 L725.8 2663.4 L722.1 2665.9 L724.2 2668.8 L721.6 2669.6 L717.9 2668.0 L713.7 2665.9 L708.4 2665.1 L704.7 2662.6 L699.4 2659.3 L694.2 2658.9 L693.6 2655.2 L688.4 2649.4 L684.2 2646.1 L679.4 2645.2 L672.6 2644.0 L664.6 2642.3 L658.3 2639.4 L651.5 2634.5 L646.2 2632.8 L639.9 2634.9 L632.0 2633.7 L625.1 2631.6 L618.8 2629.9 L610.9 2627.0 L603.0 2624.6 L596.1 2621.2 L590.8 2617.9 L589.3 2615.0 L591.4 2610.9 L588.7 2606.8 L584.5 2602.6 L579.2 2598.5 L574.0 2595.2 L569.7 2591.0 L566.1 2587.3 L562.4 2584.4 L557.1 2580.7 L553.9 2577.8 L550.2 2572.4 L545.5 2569.5 L540.7 2568.3 L540.7 2571.6 L542.3 2575.7 L547.6 2579.9 L551.3 2584.0 L554.5 2588.1 L557.6 2592.3 L560.8 2596.4 L563.4 2599.7 L566.6 2604.7 L564.5 2602.6 L560.8 2599.7 L555.5 2597.2 L554.5 2592.3 L548.7 2589.0 L543.9 2585.7 L543.4 2584.0 L540.2 2577.8 L535.5 2574.1 L532.3 2569.9 L529.7 2567.5 L528.1 2564.6 L527.0 2562.1 L522.8 2560.0 L520.7 2559.2 L517.0 2557.9 L510.2 2557.1 L509.1 2554.2 L505.4 2550.9 L503.3 2548.4 L500.2 2544.7 L500.2 2543.0 L497.5 2541.8 L493.8 2538.5 L493.3 2535.2 L490.1 2532.7 L491.7 2529.4 L491.2 2526.1 L489.6 2522.8 L491.2 2518.6 L492.2 2513.7 L492.8 2508.7 L491.7 2505.8 L489.1 2502.1 L488.6 2499.6 L494.9 2500.4 L498.6 2503.3 L500.2 2499.2 L497.5 2497.1 L493.3 2494.6 L488.0 2492.6 L483.3 2490.9 L477.5 2489.3 L472.2 2487.6 L471.7 2484.3 L468.5 2481.4 L464.3 2478.1 L459.0 2475.2 L457.4 2472.3 L452.7 2469.0 L448.5 2466.1 L443.7 2462.8 L439.0 2459.1 L433.2 2456.2 L427.9 2458.2 L423.7 2456.6 L416.9 2454.5 L410.5 2452.4 L403.7 2452.0 L394.7 2451.6 L387.3 2451.2 L378.9 2449.5 L373.1 2447.9 L366.8 2449.5 L362.5 2451.6 L357.3 2452.9 L352.0 2454.1 L346.2 2454.9 L347.3 2451.6 L350.9 2449.1 L355.2 2446.7 L348.8 2447.5 L344.6 2449.5 L340.4 2452.4 L335.7 2454.9 L333.0 2457.4 L327.2 2459.9 L322.0 2462.4 L315.6 2464.9 L309.3 2467.3 L302.4 2469.4 L294.5 2471.1 L289.3 2472.7 L284.0 2474.0 L277.1 2474.8 L285.0 2472.3 L293.0 2468.6 L299.8 2467.3 L307.7 2464.0 L311.9 2460.7 L315.6 2458.2 L317.2 2456.6 L311.4 2457.0 L307.7 2456.2 L302.4 2457.4 L294.5 2457.4 L291.9 2454.5 L284.0 2452.4 L278.7 2450.4 L274.5 2448.3 L275.0 2445.4 L270.8 2443.3 L273.4 2440.9 L278.2 2438.8 L285.6 2439.2 L294.5 2437.6 L298.2 2435.9 L296.1 2433.4 L291.9 2433.0 L283.5 2432.6 L276.1 2433.0 L269.2 2432.6 L266.1 2430.5 L262.9 2429.7 L260.3 2428.4 M2095.0 2410.7 L2087.1 2406.9 L2078.7 2410.2 L2063.4 2410.7 L2048.1 2409.4 L2036.5 2410.7 L2021.2 2411.9 L2008.0 2411.5 L1994.8 2411.9 L1989.6 2409.0 L1987.4 2406.5 L1968.5 2405.7 L1951.6 2404.5 L1939.5 2403.6 L1936.3 2401.1 L1923.7 2400.3 L1917.3 2399.9 L1899.9 2399.1 L1886.2 2400.3 L1882.5 2397.4 L1868.3 2404.0 L1855.6 2404.9 L1846.2 2402.4 L1838.2 2406.5 L1828.8 2403.6 L1826.6 2399.5 L1825.1 2396.2 L1812.9 2395.4 L1799.8 2395.4 L1788.2 2398.2 L1776.0 2397.8 L1762.8 2395.4 L1747.0 2395.4 L1739.1 2394.5 L1728.6 2393.7 L1723.3 2392.0 L1733.9 2389.6 L1744.4 2387.1 L1741.8 2384.6 L1731.2 2382.1 L1710.1 2381.7 L1695.4 2378.4 L1681.1 2381.3 L1673.2 2383.8 L1660.0 2385.4 L1652.1 2385.8 L1639.0 2386.2 L1620.5 2387.5 L1604.7 2390.0 L1602.0 2392.5 L1604.7 2394.5 L1596.8 2395.8 L1581.0 2395.4 L1570.4 2395.8 L1572.0 2402.0 L1581.0 2403.2 L1583.6 2406.1 L1579.4 2410.2 L1584.6 2413.6 L1578.3 2414.4 L1573.0 2411.1 L1565.1 2411.1 L1558.8 2408.2 L1552.0 2405.3 L1547.7 2402.4 L1533.5 2402.8 L1530.9 2405.3 L1533.5 2411.1 L1530.9 2414.4 L1529.8 2417.3 L1523.0 2418.9 L1512.4 2422.7 L1509.8 2424.7 L1528.2 2425.6 L1533.5 2421.8 L1540.4 2418.5 L1538.8 2414.4 L1533.5 2408.2 L1529.8 2401.1 L1525.6 2398.2 L1517.7 2396.6 L1508.7 2398.7 L1501.9 2404.0 L1507.1 2407.3 L1507.1 2412.3 L1501.9 2416.5 L1488.7 2414.0 L1472.9 2411.5 L1465.0 2411.1 L1462.3 2415.2 L1454.4 2415.2 L1446.5 2416.5 L1436.0 2417.3 L1428.1 2416.9 L1429.6 2414.8 L1422.8 2416.5 L1414.9 2417.3 L1404.3 2419.3 L1396.4 2420.2 L1391.2 2422.7 L1383.2 2424.7 L1378.0 2426.8 L1379.0 2421.4 L1375.3 2417.7 L1364.8 2420.6 L1359.5 2424.7 L1351.6 2426.4 L1341.1 2425.6 L1330.5 2424.7 L1322.6 2424.3 L1330.5 2426.8 L1343.7 2428.9 L1354.3 2431.8 L1359.5 2433.0 L1351.6 2435.5 L1343.7 2433.8 L1338.4 2431.8 L1329.5 2433.0 L1328.4 2428.9 L1320.0 2425.6 L1317.3 2423.1 L1325.3 2423.5 L1338.4 2423.1 L1351.6 2424.3 L1362.2 2422.7 L1362.2 2419.3 L1354.3 2418.1 L1346.3 2416.5 L1333.2 2413.6 L1320.0 2412.7 L1309.4 2411.1 L1298.9 2410.2 L1288.3 2406.5 L1282.0 2405.7 L1272.5 2406.5 L1262.0 2407.8 L1251.4 2409.8 L1243.5 2411.1 L1235.6 2414.4 L1227.7 2416.9 L1221.4 2419.8 L1217.2 2422.7 L1213.5 2426.8 L1210.3 2430.1 L1204.0 2433.0 L1198.7 2436.3 L1190.8 2438.0 L1182.9 2440.0 L1175.0 2442.5 L1172.4 2446.7 L1172.4 2451.6 L1174.5 2455.8 L1176.6 2459.1 L1182.9 2459.9 L1190.8 2459.1 L1198.7 2455.8 L1201.9 2452.4 L1205.0 2455.8 L1208.2 2458.6 L1210.8 2462.8 L1213.0 2466.5 L1214.0 2469.8 L1220.9 2470.6 L1222.4 2468.2 L1230.4 2467.3 L1233.5 2463.2 L1234.0 2459.1 L1240.9 2455.8 L1245.1 2452.0 L1238.3 2449.1 L1237.2 2445.0 L1238.8 2440.9 L1245.1 2437.6 L1254.1 2435.1 L1259.4 2431.8 L1264.1 2427.6 L1272.5 2427.6 L1279.9 2430.5 L1278.9 2433.0 L1269.9 2435.9 L1262.0 2439.2 L1258.3 2442.1 L1259.4 2446.7 L1261.5 2449.5 L1267.3 2452.0 L1277.8 2450.4 L1287.3 2450.0 L1296.3 2449.5 L1303.1 2451.6 L1296.3 2452.4 L1291.0 2454.1 L1280.4 2453.7 L1269.9 2454.9 L1269.9 2457.8 L1274.1 2459.1 L1272.5 2462.0 L1274.1 2464.0 L1269.9 2464.0 L1264.6 2461.5 L1259.4 2462.8 L1256.7 2466.9 L1257.2 2469.4 L1257.8 2471.5 L1251.4 2472.7 L1248.8 2474.8 L1244.6 2474.8 L1243.5 2473.5 L1238.3 2473.1 L1230.4 2475.2 L1222.4 2476.9 L1218.8 2476.0 L1211.9 2474.8 L1204.0 2476.4 L1202.9 2474.4 L1198.7 2472.7 L1199.8 2470.2 L1202.4 2466.5 L1200.3 2462.8 L1201.9 2461.1 L1196.1 2463.6 L1191.3 2465.7 L1188.7 2468.2 L1191.3 2470.6 L1192.4 2475.6 L1188.2 2478.1 L1182.9 2478.9 L1177.6 2478.9 L1172.4 2479.7 L1170.8 2482.6 L1167.1 2485.1 L1163.4 2487.2 L1159.2 2488.4 L1154.4 2489.3 L1153.9 2492.2 L1148.6 2493.8 L1146.0 2495.5 L1140.7 2495.9 L1139.1 2494.2 L1136.0 2494.6 L1137.6 2498.8 L1131.2 2499.2 L1127.5 2498.0 L1121.2 2499.2 L1123.3 2501.3 L1130.2 2503.3 L1134.4 2505.0 L1136.5 2507.5 L1139.7 2510.4 L1139.7 2515.3 L1138.1 2519.9 L1132.8 2520.7 L1126.0 2519.9 L1117.0 2519.5 L1109.1 2519.5 L1102.8 2519.9 L1097.5 2521.9 L1099.1 2526.1 L1099.6 2530.2 L1099.1 2534.4 L1096.4 2538.5 L1098.0 2540.6 L1099.6 2543.5 L1099.1 2546.8 L1106.5 2546.4 L1112.3 2547.6 L1114.4 2550.1 L1117.5 2550.5 L1122.3 2548.4 L1132.8 2547.6 L1137.6 2545.1 L1142.3 2544.3 L1143.4 2541.0 L1147.1 2539.3 L1144.4 2536.4 L1146.0 2534.4 L1150.2 2531.1 L1153.9 2529.4 L1159.2 2527.7 L1162.9 2526.1 L1161.8 2522.4 L1164.5 2520.7 L1169.7 2519.9 L1175.0 2521.1 L1180.3 2521.5 L1185.5 2518.6 L1190.8 2516.6 L1196.1 2517.4 L1199.8 2518.6 L1201.4 2522.4 L1205.0 2524.4 L1210.3 2526.9 L1214.5 2529.0 L1219.8 2531.1 L1225.1 2533.5 L1228.8 2534.8 L1230.4 2538.1 L1228.8 2541.4 L1230.9 2542.6 L1233.5 2541.0 L1236.7 2538.5 L1235.6 2536.4 L1233.0 2535.2 L1235.6 2532.3 L1240.9 2533.5 L1243.5 2533.9 L1240.4 2531.5 L1234.6 2529.4 L1229.8 2527.7 L1230.4 2526.5 L1223.5 2525.7 L1218.8 2522.8 L1217.2 2519.9 L1211.4 2517.0 L1210.8 2512.8 L1214.5 2510.8 L1217.7 2511.2 L1219.3 2514.1 L1222.4 2512.8 L1226.1 2516.6 L1229.8 2519.5 L1235.6 2521.5 L1243.5 2524.0 L1248.3 2526.5 L1248.8 2530.2 L1247.8 2532.7 L1251.4 2536.0 L1255.1 2538.9 L1257.2 2541.4 L1260.4 2545.5 L1264.1 2548.8 L1267.8 2548.8 L1266.7 2544.7 L1268.8 2542.6 L1272.5 2541.8 L1266.2 2539.3 L1268.8 2536.8 L1265.2 2533.1 L1271.0 2533.9 L1274.6 2530.6 L1282.6 2530.6 L1286.2 2531.9 L1291.0 2530.6 L1298.4 2530.2 L1299.4 2529.4 L1295.7 2526.1 L1292.6 2523.6 L1292.0 2519.5 L1296.8 2516.6 L1298.4 2513.7 L1302.6 2512.4 L1306.3 2509.1 L1309.4 2507.1 L1317.3 2508.3 L1322.6 2510.0 L1317.3 2512.0 L1323.1 2515.7 L1329.5 2514.5 L1333.2 2513.3 L1338.4 2512.4 L1331.6 2508.7 L1338.4 2506.2 L1346.3 2505.0 L1352.7 2504.6 L1347.9 2507.1 L1344.8 2509.5 L1346.3 2512.0 L1341.1 2514.5 L1347.9 2516.6 L1354.3 2519.5 L1359.5 2521.9 L1365.3 2527.7 L1364.8 2528.6 L1358.5 2530.2 L1351.6 2529.8 L1343.7 2529.8 L1337.4 2528.2 L1331.6 2526.1 L1325.3 2526.1 L1320.0 2526.5 L1312.1 2529.0 L1304.2 2529.4 L1299.9 2530.2 L1293.6 2532.7 L1286.8 2532.7 L1284.1 2534.4 L1285.2 2538.5 L1287.3 2540.2 L1289.4 2543.0 L1290.5 2546.8 L1293.6 2547.6 L1298.4 2548.4 L1302.6 2550.1 L1307.3 2547.6 L1312.1 2548.4 L1317.3 2550.5 L1323.1 2550.1 L1328.9 2547.6 L1335.3 2548.0 L1335.3 2551.7 L1335.3 2555.5 L1333.7 2559.2 L1331.1 2563.3 L1328.4 2568.3 L1326.3 2570.4 L1320.0 2571.2 L1316.3 2570.8 L1309.4 2569.1 L1304.2 2570.4 L1298.9 2572.0 L1289.9 2570.4 L1278.9 2569.1 L1272.5 2567.5 L1267.3 2565.0 L1259.4 2563.7 L1252.0 2566.6 L1250.9 2570.8 L1246.7 2574.5 L1239.8 2572.0 L1230.4 2570.4 L1226.7 2566.6 L1219.3 2564.1 L1209.3 2563.7 L1205.0 2562.5 L1200.3 2560.4 L1203.5 2557.9 L1202.4 2554.6 L1204.5 2552.2 L1201.4 2549.3 L1204.5 2546.4 L1199.8 2545.9 L1196.1 2545.5 L1190.8 2547.2 L1182.9 2546.4 L1175.0 2548.0 L1167.1 2547.2 L1159.2 2548.4 L1151.3 2548.8 L1143.4 2551.7 L1138.1 2554.2 L1132.8 2554.2 L1126.0 2554.2 L1119.6 2552.2 L1114.9 2551.7 L1112.8 2554.6 L1110.1 2558.8 L1105.9 2560.8 L1101.2 2562.1 L1097.0 2565.4 L1094.3 2569.9 L1094.9 2573.7 L1094.3 2577.0 L1090.1 2580.7 L1085.4 2583.2 L1078.0 2584.4 L1074.8 2586.9 L1070.1 2591.0 L1067.4 2595.6 L1063.8 2599.3 L1060.6 2601.8 L1060.1 2604.7 L1056.9 2609.2 L1055.8 2613.0 L1057.4 2616.3 L1059.5 2618.8 L1061.1 2623.3 L1059.0 2631.6 L1056.9 2637.0 L1053.7 2639.0 L1056.9 2642.8 L1057.4 2648.5 L1060.6 2651.0 L1064.8 2653.5 L1068.5 2656.0 L1072.2 2659.3 L1076.4 2662.6 L1078.5 2666.3 L1082.7 2670.1 L1088.0 2672.5 L1093.3 2675.4 L1099.1 2679.2 L1105.9 2681.6 L1114.4 2680.4 L1122.3 2678.3 L1130.2 2678.8 L1135.5 2680.4 L1140.7 2678.8 L1148.6 2675.9 L1154.4 2674.2 L1160.2 2673.4 L1166.0 2673.4 L1170.8 2674.2 L1175.0 2677.1 L1177.6 2682.1 L1182.9 2681.6 L1189.8 2680.8 L1192.4 2682.5 L1196.6 2685.4 L1197.7 2689.5 L1196.1 2694.9 L1195.6 2698.6 L1195.0 2702.7 L1198.2 2708.1 L1204.0 2713.5 L1208.2 2717.6 L1210.8 2722.6 L1211.4 2728.0 L1215.6 2736.3 L1216.6 2743.3 L1218.8 2748.7 L1212.4 2755.7 L1210.3 2761.9 L1208.2 2769.4 L1208.7 2774.3 L1212.4 2779.7 L1216.6 2785.9 L1220.9 2792.9 L1222.4 2799.1 L1224.6 2807.4 L1226.7 2812.8 L1233.0 2818.2 L1236.7 2824.0 L1240.4 2830.2 L1242.5 2835.1 L1242.0 2838.4 L1243.5 2841.3 L1247.8 2843.0 L1251.4 2843.8 L1259.4 2842.2 L1264.6 2840.1 L1272.5 2840.9 L1281.0 2840.1 L1287.3 2838.9 L1293.1 2836.4 L1298.9 2832.2 L1304.2 2828.9 L1309.4 2823.1 L1316.3 2817.8 L1318.9 2809.5 L1317.9 2807.0 L1322.6 2804.5 L1330.5 2801.6 L1333.2 2796.7 L1333.2 2790.9 L1330.5 2784.7 L1333.2 2780.5 L1338.4 2777.6 L1343.7 2772.7 L1351.6 2770.2 L1358.5 2764.0 L1360.1 2758.6 L1359.5 2749.5 L1358.5 2743.3 L1354.3 2737.1 L1352.7 2730.9 L1350.6 2726.7 L1352.7 2720.5 L1355.3 2716.4 L1357.9 2711.4 L1362.2 2708.1 L1366.4 2704.8 L1370.6 2701.1 L1376.4 2696.1 L1383.2 2692.0 L1391.2 2687.4 L1398.0 2682.1 L1402.8 2677.1 L1407.0 2670.9 L1411.2 2664.7 L1414.4 2657.7 L1415.9 2651.0 L1409.6 2652.3 L1401.7 2653.5 L1393.8 2654.8 L1385.9 2656.0 L1378.0 2656.8 L1374.3 2651.4 L1371.1 2648.1 L1368.5 2646.1 L1364.8 2642.8 L1360.1 2638.2 L1354.3 2635.3 L1352.7 2631.6 L1349.5 2625.4 L1343.7 2622.1 L1342.1 2615.0 L1340.5 2608.8 L1334.2 2602.6 L1333.2 2598.5 L1328.4 2592.3 L1325.3 2588.1 L1322.6 2584.8 L1317.9 2576.1 L1316.3 2577.4 L1320.0 2581.9 L1323.1 2584.8 L1326.8 2584.0 L1327.9 2579.9 L1330.0 2577.8 L1328.4 2582.8 L1331.6 2584.0 L1336.9 2590.2 L1342.1 2597.2 L1346.9 2600.6 L1351.6 2606.8 L1352.7 2611.3 L1356.9 2615.9 L1361.1 2620.0 L1364.3 2625.4 L1369.0 2630.3 L1371.1 2634.1 L1371.7 2638.6 L1373.8 2644.8 L1375.3 2647.3 L1380.6 2647.3 L1385.4 2646.1 L1391.2 2644.4 L1399.1 2641.9 L1404.9 2639.9 L1410.7 2637.0 L1417.5 2635.7 L1421.2 2633.7 L1426.5 2631.2 L1433.3 2629.5 L1437.0 2627.9 L1439.1 2624.1 L1444.4 2623.3 L1446.0 2619.2 L1450.2 2617.1 L1453.9 2615.0 L1458.6 2609.7 L1461.3 2606.8 L1456.0 2602.6 L1450.7 2601.4 L1445.5 2598.1 L1442.8 2594.4 L1443.4 2591.0 L1441.8 2592.3 L1438.6 2594.8 L1433.3 2599.3 L1425.4 2600.1 L1418.0 2599.7 L1416.5 2594.4 L1418.0 2592.7 L1414.9 2592.3 L1412.2 2595.6 L1409.6 2590.2 L1407.0 2587.7 L1402.2 2584.0 L1399.1 2579.0 L1401.7 2576.1 L1407.0 2575.7 L1410.7 2576.1 L1413.8 2580.7 L1417.5 2584.4 L1422.8 2586.5 L1428.6 2589.0 L1434.9 2590.2 L1442.8 2587.7 L1447.6 2592.7 L1456.0 2594.4 L1470.2 2596.0 L1477.1 2595.6 L1486.1 2595.6 L1494.0 2594.8 L1497.7 2597.2 L1501.9 2601.0 L1507.1 2603.5 L1512.4 2606.8 L1516.6 2605.5 L1515.1 2611.7 L1520.3 2613.8 L1528.8 2611.3 L1529.8 2617.1 L1530.3 2621.7 L1532.5 2628.3 L1534.0 2634.5 L1538.3 2639.9 L1540.4 2646.9 L1543.5 2652.3 L1547.7 2658.5 L1549.9 2663.0 L1554.6 2666.3 L1558.3 2663.0 L1562.5 2661.4 L1564.1 2657.2 L1567.3 2657.2 L1567.3 2651.0 L1569.4 2644.0 L1568.8 2637.4 L1574.1 2633.7 L1579.9 2631.2 L1585.7 2627.4 L1593.1 2621.2 L1599.4 2617.9 L1603.6 2615.0 L1604.7 2610.9 L1611.0 2610.1 L1616.3 2609.7 L1620.5 2608.8 L1623.7 2606.8 L1628.4 2605.9 L1631.0 2610.9 L1632.6 2614.2 L1636.3 2617.5 L1640.0 2621.2 L1643.2 2625.4 L1644.2 2631.6 L1642.6 2633.7 L1646.9 2634.5 L1652.1 2631.6 L1658.5 2630.3 L1661.1 2633.7 L1661.6 2638.6 L1664.3 2644.0 L1665.8 2650.2 L1665.8 2656.4 L1664.3 2662.6 L1665.3 2666.3 L1668.0 2667.6 L1671.6 2673.0 L1674.8 2677.1 L1676.4 2682.5 L1680.1 2687.4 L1685.3 2690.7 L1691.1 2694.1 L1695.9 2694.1 L1692.2 2689.1 L1691.1 2683.3 L1690.6 2679.2 L1685.3 2674.2 L1681.1 2671.7 L1675.9 2669.6 L1674.3 2665.5 L1672.7 2661.4 L1669.0 2657.7 L1670.6 2652.3 L1672.7 2648.1 L1673.2 2644.4 L1678.0 2644.0 L1678.0 2647.3 L1683.8 2649.4 L1688.0 2651.9 L1691.1 2655.2 L1695.9 2656.4 L1698.5 2660.1 L1700.1 2664.3 L1705.9 2660.5 L1709.1 2657.2 L1714.9 2654.8 L1720.1 2652.3 L1721.7 2647.7 L1722.3 2642.8 L1719.6 2636.6 L1715.4 2633.2 L1710.7 2629.5 L1707.0 2624.6 L1703.3 2621.2 L1704.3 2617.9 L1708.0 2615.5 L1712.2 2612.1 L1717.0 2610.9 L1723.8 2610.5 L1727.5 2615.0 L1729.1 2612.1 L1734.4 2610.5 L1739.1 2609.7 L1744.4 2608.0 L1748.1 2607.6 L1751.8 2605.9 L1760.2 2605.1 L1766.5 2601.8 L1771.3 2598.1 L1776.0 2594.4 L1777.1 2589.8 L1780.8 2586.9 L1785.0 2583.2 L1788.2 2579.9 L1788.7 2576.1 L1783.9 2574.5 L1788.7 2572.0 L1785.5 2568.3 L1783.4 2565.0 L1781.8 2561.3 L1779.7 2557.5 L1775.0 2555.9 L1776.6 2552.6 L1782.4 2550.1 L1787.1 2547.6 L1791.8 2546.8 L1789.7 2544.7 L1782.9 2543.5 L1777.1 2545.9 L1772.9 2545.1 L1772.9 2541.8 L1766.5 2538.9 L1767.1 2537.3 L1772.9 2538.1 L1778.7 2535.6 L1785.0 2532.3 L1790.3 2532.3 L1787.1 2535.2 L1786.0 2538.5 L1789.7 2537.3 L1795.5 2535.6 L1801.3 2534.8 L1805.6 2536.0 L1807.1 2539.3 L1805.0 2542.6 L1810.3 2543.9 L1813.5 2546.8 L1811.9 2551.3 L1812.9 2556.3 L1818.2 2556.7 L1823.5 2555.5 L1828.2 2553.0 L1828.8 2548.8 L1828.2 2544.7 L1824.5 2541.0 L1820.8 2537.7 L1818.2 2535.2 L1824.0 2533.1 L1829.8 2531.1 L1830.3 2527.3 L1835.1 2524.4 L1839.3 2522.8 L1844.6 2521.9 L1851.4 2523.2 L1857.8 2519.9 L1864.6 2515.7 L1870.9 2511.2 L1875.1 2506.2 L1878.8 2502.1 L1885.2 2498.0 L1887.3 2493.0 L1887.3 2487.6 L1891.5 2482.6 L1888.3 2479.3 L1879.9 2476.4 L1871.5 2475.6 L1869.3 2472.7 L1860.4 2472.3 L1859.3 2470.2 L1868.3 2466.1 L1875.1 2462.0 L1884.1 2457.8 L1892.0 2454.9 L1898.9 2454.1 L1907.8 2454.5 L1915.7 2454.5 L1926.3 2454.1 L1936.3 2452.9 L1947.4 2455.8 L1957.9 2454.9 L1961.1 2452.9 L1971.1 2445.0 L1981.6 2443.3 L1990.6 2442.5 L1989.6 2446.2 L1981.6 2448.3 L1972.2 2453.3 L1968.5 2457.8 L1969.0 2462.4 L1966.4 2468.6 L1966.4 2476.4 L1970.0 2485.5 L1971.6 2488.4 L1978.0 2485.1 L1982.2 2481.4 L1989.6 2478.5 L1991.7 2474.8 L2000.1 2472.7 L1998.0 2469.8 L2002.2 2466.9 L2006.4 2466.9 L2002.2 2460.7 L2008.0 2456.2 L2013.3 2452.4 L2022.2 2450.0 L2031.7 2449.5 L2043.9 2451.6 L2055.5 2447.5 L2060.7 2444.6 L2071.3 2443.3 L2079.2 2440.9 L2089.7 2441.7 L2095.0 2440.9 M763.8 2377.1 L776.9 2370.9 L800.7 2366.8 L819.1 2361.0 L850.8 2359.4 L882.4 2358.9 L914.0 2356.5 L945.7 2354.4 L987.8 2354.0 L1019.5 2356.5 L1035.3 2359.4 L1037.9 2362.7 L1061.6 2362.7 L1080.1 2362.7 L1064.3 2367.6 L1051.1 2369.7 L1043.2 2375.1 L1048.5 2382.1 L1040.6 2386.2 L1043.2 2390.4 L1032.6 2393.7 L1030.0 2399.1 L1019.5 2399.9 L1030.0 2402.8 L1027.4 2406.9 L1016.8 2408.2 L1022.1 2410.2 L1008.9 2416.0 L990.5 2417.7 L977.3 2418.5 L966.7 2423.5 L950.9 2427.6 L937.7 2428.9 L932.5 2433.0 L927.2 2437.1 L921.9 2443.3 L919.3 2448.3 L916.7 2451.6 L908.8 2450.8 L900.8 2448.3 L890.3 2446.2 L883.4 2441.3 L879.8 2435.9 L874.5 2433.0 L869.2 2428.9 L863.9 2424.7 L866.6 2421.8 L862.4 2417.7 L874.5 2414.4 L877.1 2411.1 L869.2 2410.2 L858.7 2407.8 L874.5 2406.9 L863.9 2404.0 L853.4 2402.0 L856.0 2398.7 L848.1 2394.5 L842.8 2391.6 L834.9 2387.5 L821.8 2385.4 L803.3 2385.0 L784.9 2384.2 L771.7 2382.1 L766.4 2379.6 L763.8 2377.1 M820.2 2424.3 L813.9 2421.4 L805.9 2418.9 L798.0 2417.3 L790.1 2413.1 L784.9 2409.4 L774.3 2406.9 L766.4 2404.0 L755.9 2402.4 L742.7 2400.3 L732.1 2399.5 L721.6 2397.0 L719.0 2394.9 L703.1 2395.8 L692.6 2396.6 L682.0 2397.8 L674.1 2404.0 L684.7 2408.2 L697.9 2410.7 L711.0 2411.5 L719.0 2414.4 L732.1 2417.3 L742.7 2418.5 L750.6 2420.6 L761.1 2422.7 L758.5 2426.8 L761.1 2429.7 L745.3 2429.7 L737.4 2431.8 L740.0 2434.2 L750.6 2433.4 L758.5 2435.1 L766.4 2438.0 L774.3 2440.0 L782.2 2441.3 L790.1 2443.3 L798.0 2443.8 L800.7 2440.9 L790.1 2437.1 L800.7 2437.6 L805.9 2435.1 L803.3 2430.9 L795.4 2427.6 L790.1 2424.7 L800.7 2425.6 L811.2 2429.7 L819.1 2427.6 L820.2 2424.3 M671.5 2382.1 L697.9 2383.8 L724.2 2384.2 L734.8 2382.5 L734.8 2379.2 L745.3 2375.9 L755.9 2373.8 L766.4 2370.9 L787.5 2367.6 L803.3 2364.7 L813.9 2361.4 L819.1 2358.5 L798.0 2356.9 L766.4 2356.5 L734.8 2356.9 L703.1 2358.1 L682.0 2360.6 L663.6 2364.7 L676.8 2368.0 L692.6 2370.5 L690.0 2374.3 L682.0 2377.1 L671.5 2378.8 L671.5 2382.1 M690.0 2431.8 L695.2 2428.4 L705.8 2429.7 L716.3 2433.0 L721.6 2435.9 L713.7 2435.9 L700.5 2438.4 L692.6 2437.1 L687.3 2434.2 L690.0 2431.8 M708.4 2439.6 L716.3 2440.0 L711.0 2442.1 L704.2 2441.7 L708.4 2439.6 M1027.4 2428.9 L1019.5 2428.9 L1030.0 2425.1 L1040.6 2426.4 L1051.1 2426.0 L1061.6 2424.7 L1069.6 2426.0 L1068.0 2428.9 L1074.3 2430.5 L1069.6 2433.4 L1059.0 2435.5 L1048.5 2437.6 L1037.9 2436.3 L1026.3 2435.5 L1030.0 2433.4 L1019.5 2431.3 L1027.4 2428.9 M853.4 2486.4 L848.1 2490.9 L843.4 2495.1 L838.1 2499.2 L833.4 2502.9 L840.2 2502.9 L850.8 2502.9 L854.4 2505.8 L861.3 2505.8 L863.4 2507.1 L868.2 2505.8 L867.6 2502.1 L863.4 2502.9 L865.0 2499.2 L861.3 2495.9 L853.4 2495.1 L852.9 2490.9 L853.4 2486.4 M495.4 2499.6 L487.0 2497.5 L479.1 2495.1 L471.2 2491.7 L470.1 2489.7 L476.4 2490.5 L485.9 2493.0 L492.2 2496.3 L495.4 2499.6 M450.1 2476.4 L454.3 2479.3 L452.7 2483.5 L447.4 2481.4 L443.7 2477.3 L450.1 2476.4 M344.6 2459.9 L335.1 2464.0 L331.4 2462.4 L338.3 2459.1 L344.6 2459.9 M698.4 2609.2 L708.4 2605.1 L716.3 2604.3 L724.2 2604.7 L732.1 2607.2 L740.0 2610.9 L747.9 2613.0 L754.8 2615.9 L749.5 2617.5 L737.4 2617.5 L739.0 2614.6 L732.1 2610.9 L721.6 2608.8 L713.7 2607.6 L705.8 2609.2 L698.4 2609.2 M753.7 2617.5 L762.2 2617.5 L771.7 2617.5 L779.6 2620.0 L785.4 2622.9 L778.0 2623.7 L770.6 2626.6 L763.8 2624.6 L753.7 2623.7 L762.2 2622.9 L753.7 2617.5 M733.2 2623.7 L743.7 2624.6 L741.1 2625.8 L733.2 2624.6 L733.2 2623.7 M791.7 2623.3 L800.1 2623.7 L799.6 2625.4 L791.7 2625.4 L791.7 2623.3 M819.6 2655.2 L824.4 2655.2 L824.4 2658.1 L819.6 2658.1 L819.6 2655.2 M734.8 2589.8 L740.0 2589.4 L737.4 2590.2 L734.8 2589.8 M735.8 2597.2 L737.4 2599.7 L736.3 2600.6 L735.8 2597.2 M784.3 2917.5 L785.9 2921.2 L790.1 2924.1 L798.0 2927.0 L802.3 2926.6 L795.4 2928.2 L787.5 2929.1 L779.6 2928.6 L771.7 2926.6 L763.8 2923.3 L771.7 2920.4 L776.9 2920.4 L779.6 2917.9 L784.3 2917.5 M822.8 2912.1 L832.3 2912.1 L841.3 2912.9 L837.6 2916.2 L827.0 2915.8 L822.8 2912.1 M945.7 2923.3 L956.2 2924.5 L953.6 2925.7 L945.7 2924.1 M755.9 2872.8 L758.5 2872.8 L758.5 2879.0 L754.8 2878.6 L755.9 2872.8 M663.6 2700.7 L666.2 2701.9 L664.6 2704.0 L663.1 2702.3 L663.6 2700.7 M324.1 2616.3 L328.8 2618.3 L328.8 2620.4 L325.1 2621.7 L323.5 2618.8 L324.1 2616.3 M311.4 2610.5 L314.6 2611.7 L312.5 2611.7 L311.4 2610.5 M319.8 2613.0 L323.5 2613.8 L321.4 2614.6 L319.8 2613.0 M303.5 2608.0 L306.1 2608.0 L305.1 2609.2 L303.5 2608.0 M240.2 2435.9 L249.7 2436.7 L256.0 2438.4 L248.1 2438.0 L240.2 2437.6 L240.2 2435.9 M266.6 2450.0 L272.9 2450.8 L269.8 2452.4 L264.0 2450.8 L266.6 2450.0 M197.0 2404.0 L204.9 2403.6 L210.2 2405.3 L202.3 2406.5 L197.0 2406.1 M2095.0 2404.0 L2088.7 2405.3 L2095.0 2406.1 M215.5 2485.1 L218.1 2484.7 L220.7 2485.1 M204.9 2485.5 L208.6 2485.1 L212.8 2485.5 M226.0 2483.9 L231.3 2484.3 M249.7 2481.8 L257.6 2479.7 L265.5 2478.1 L270.8 2476.9 M236.5 2483.5 L241.8 2483.1 M1202.9 2373.4 L1209.3 2369.7 L1230.4 2369.3 L1240.9 2367.6 L1259.4 2367.6 L1277.8 2368.5 L1288.3 2370.1 L1267.3 2373.0 L1262.0 2376.3 L1246.2 2378.8 L1235.6 2382.9 L1230.4 2380.0 L1219.8 2378.8 L1217.2 2376.3 L1206.6 2375.1 L1202.9 2373.4 M1417.5 2404.0 L1425.4 2406.9 L1436.0 2407.8 L1449.2 2407.3 L1441.2 2404.0 L1438.6 2399.9 L1441.2 2396.6 L1449.2 2392.9 L1459.7 2389.6 L1472.9 2386.2 L1488.7 2384.2 L1507.1 2381.7 L1499.2 2381.3 L1478.2 2383.8 L1462.3 2385.4 L1446.5 2388.3 L1438.6 2392.5 L1430.7 2396.2 L1425.4 2399.1 L1417.5 2404.0 M1393.8 2366.8 L1420.2 2368.9 L1446.5 2367.6 L1472.9 2366.4 L1462.3 2362.7 L1436.0 2361.4 L1409.6 2363.9 L1393.8 2366.8 M1646.9 2373.0 L1668.0 2376.3 L1694.3 2377.6 L1699.6 2373.8 L1678.5 2369.7 L1662.7 2365.6 L1646.9 2364.7 L1636.3 2368.9 L1646.9 2373.0 M1870.9 2386.2 L1889.4 2387.1 L1902.6 2386.2 L1910.5 2387.5 L1894.7 2385.0 L1876.2 2384.6 L1870.9 2386.2 M1926.3 2388.3 L1944.7 2389.1 L1936.8 2387.1 L1926.3 2388.3 M1884.1 2395.4 L1897.3 2394.9 L1902.6 2397.0 L1889.4 2397.0 L1884.1 2395.4 M1401.7 2413.6 L1408.6 2413.1 L1405.4 2415.2 L1401.7 2413.6 M1454.4 2409.0 L1465.0 2410.2 L1459.7 2411.1 L1454.4 2409.0 M1119.6 2457.4 L1130.2 2457.4 L1127.5 2460.3 L1135.5 2461.1 L1136.5 2462.8 L1132.8 2466.1 L1130.2 2468.2 L1135.5 2469.0 L1138.1 2472.3 L1143.4 2475.2 L1147.1 2478.5 L1148.6 2480.6 L1155.0 2481.8 L1154.4 2484.7 L1150.2 2486.8 L1153.4 2488.0 L1148.6 2489.7 L1140.7 2490.1 L1132.8 2490.5 L1127.5 2491.7 L1119.6 2493.0 L1115.9 2492.6 L1122.3 2489.3 L1129.1 2488.0 L1123.3 2486.4 L1118.6 2485.5 L1123.9 2483.1 L1121.2 2481.4 L1124.9 2479.3 L1130.2 2479.3 L1130.2 2476.4 L1128.1 2474.4 L1120.7 2473.1 L1119.1 2470.6 L1120.7 2468.6 L1116.5 2467.3 L1117.0 2464.0 L1113.3 2462.0 L1115.4 2459.9 L1119.6 2457.4 M1113.3 2474.4 L1115.9 2474.4 L1114.4 2477.3 L1113.8 2480.6 L1112.3 2483.9 L1106.5 2484.7 L1097.5 2486.4 L1092.2 2485.5 L1094.3 2482.6 L1097.5 2479.7 L1093.3 2478.5 L1094.3 2475.6 L1101.2 2475.2 L1102.2 2472.3 L1107.5 2471.1 L1113.3 2474.4 M1211.4 2543.5 L1216.1 2541.8 L1228.2 2541.4 L1226.1 2545.5 L1225.6 2548.0 L1221.4 2546.8 L1211.4 2543.5 M1190.3 2530.6 L1194.5 2529.4 L1197.7 2532.3 L1196.6 2537.7 L1192.9 2538.5 L1190.3 2538.1 L1190.8 2533.5 L1190.3 2530.6 M1191.3 2524.4 L1195.6 2521.9 L1196.6 2526.1 L1194.5 2528.6 L1191.9 2527.3 L1191.3 2524.4 M1269.9 2552.6 L1275.2 2553.4 L1284.7 2553.8 L1280.4 2555.0 L1275.2 2554.6 L1269.9 2553.8 L1269.9 2552.6 M1316.3 2555.0 L1320.0 2553.8 L1328.4 2552.2 L1325.3 2555.0 L1320.0 2556.7 L1316.3 2555.0 M1204.0 2469.0 L1212.4 2468.2 L1210.8 2471.5 L1205.0 2471.5 L1204.0 2469.0 M1197.7 2470.2 L1202.9 2471.1 L1201.4 2472.3 L1197.7 2471.5 L1197.7 2470.2 M1242.0 2460.3 L1246.2 2460.7 L1243.5 2463.6 L1242.0 2460.3 M1158.7 2536.0 L1163.9 2535.2 L1162.9 2537.3 L1158.7 2536.0 M1405.9 2749.5 L1409.6 2755.7 L1412.2 2764.0 L1408.6 2769.4 L1407.0 2774.3 L1403.3 2782.6 L1399.1 2792.9 L1394.8 2802.5 L1385.9 2805.3 L1378.0 2803.3 L1375.9 2797.1 L1374.3 2790.0 L1379.6 2782.6 L1378.0 2772.3 L1380.6 2766.9 L1388.5 2765.2 L1396.4 2761.1 L1401.7 2755.7 L1405.9 2749.5 M1567.3 2659.3 L1572.0 2660.5 L1575.2 2664.7 L1577.3 2669.6 L1574.6 2674.2 L1568.8 2675.0 L1566.7 2671.7 L1566.7 2665.9 L1567.3 2659.3 M1427.5 2647.3 L1433.3 2647.7 L1429.6 2649.0 L1427.5 2647.3 M1449.2 2782.6 L1450.7 2784.2 M1437.6 2786.7 L1439.7 2788.0 M1509.8 2901.7 L1517.7 2902.6 L1515.1 2905.1 L1509.8 2901.7 M1718.6 2620.4 L1723.3 2617.1 L1729.1 2616.7 L1731.2 2618.8 L1728.6 2622.5 L1723.3 2624.6 L1719.1 2623.3 L1718.6 2620.4 M1783.9 2596.0 L1788.7 2596.4 L1786.6 2602.6 L1783.4 2608.8 L1779.7 2605.5 L1779.2 2601.8 L1783.9 2596.0 M1884.1 2528.2 L1890.4 2526.9 L1893.6 2523.6 L1901.5 2526.1 L1907.8 2521.9 L1913.1 2520.7 L1911.5 2516.6 L1902.6 2517.0 L1894.1 2511.6 L1892.5 2516.6 L1891.5 2521.1 L1885.7 2520.7 L1884.1 2524.0 L1884.1 2528.2 M1891.5 2528.6 L1894.1 2534.4 L1894.7 2538.5 L1889.4 2541.4 L1889.4 2546.8 L1887.3 2550.9 L1888.9 2552.2 L1883.1 2555.0 L1878.8 2556.3 L1872.5 2556.7 L1867.8 2557.9 L1863.0 2561.3 L1858.3 2560.0 L1859.9 2556.7 L1852.5 2556.7 L1844.6 2557.9 L1836.7 2559.2 L1836.7 2556.7 L1847.2 2553.0 L1857.8 2552.2 L1863.0 2551.3 L1867.2 2546.8 L1869.9 2545.1 L1876.2 2543.0 L1881.5 2540.6 L1883.6 2535.2 L1884.1 2531.9 L1888.3 2529.4 L1891.5 2528.6 M1841.9 2560.0 L1847.2 2557.9 L1855.6 2558.4 L1856.2 2560.0 L1849.8 2561.7 L1846.2 2564.1 L1841.9 2560.0 M1830.3 2561.3 L1836.1 2559.6 L1841.9 2562.5 L1839.3 2567.5 L1836.7 2571.6 L1832.4 2570.8 L1832.4 2565.4 L1829.3 2563.3 L1830.3 2561.3 M1894.7 2475.2 L1899.9 2478.5 L1901.0 2484.7 L1901.5 2493.0 L1907.3 2497.1 L1901.0 2496.3 L1897.3 2501.3 L1899.9 2506.6 L1897.3 2509.5 L1894.1 2507.5 L1895.2 2502.1 L1894.1 2498.0 L1895.7 2490.9 L1893.1 2484.7 L1893.6 2479.3 L1894.7 2475.2 M1914.7 2519.1 L1918.9 2517.4 M1922.6 2515.3 L1927.9 2513.7 M1933.1 2511.2 L1936.8 2509.5 M1781.8 2623.3 L1788.7 2624.1 L1790.8 2629.5 L1789.2 2633.7 L1786.6 2636.6 L1788.2 2641.1 L1792.9 2641.1 L1799.8 2644.8 L1797.1 2646.9 L1791.8 2644.0 L1787.1 2642.8 L1781.8 2640.7 L1781.8 2637.8 L1778.7 2635.3 L1780.2 2631.6 L1781.8 2623.3 M1797.6 2663.9 L1802.4 2664.7 L1807.7 2660.1 L1813.5 2669.6 L1810.3 2673.8 L1807.1 2676.7 L1800.8 2673.8 L1799.8 2669.2 L1790.3 2670.9 L1794.0 2667.2 L1797.6 2663.9 M1801.3 2648.1 L1808.2 2649.0 L1808.7 2654.3 L1804.5 2657.7 L1801.3 2652.3 L1801.3 2648.1 M1788.7 2651.0 L1794.5 2652.3 L1791.8 2656.4 L1788.7 2656.0 L1788.7 2651.0 M1794.0 2654.8 L1797.1 2655.6 L1795.5 2661.8 L1791.3 2659.7 L1794.0 2654.8 M1780.8 2644.0 L1785.5 2644.4 L1786.6 2648.5 L1782.9 2649.0 L1780.8 2644.0 M1763.9 2665.1 L1775.5 2656.4 L1776.6 2653.1 L1773.4 2657.2 L1766.0 2664.3 L1763.9 2665.1 M1720.7 2692.4 L1723.8 2691.6 L1731.2 2692.4 L1733.9 2688.7 L1741.8 2686.6 L1747.0 2680.8 L1754.4 2678.3 L1758.6 2674.2 L1762.8 2670.9 L1766.5 2673.4 L1774.4 2677.9 L1769.2 2680.8 L1767.1 2685.4 L1768.1 2690.3 L1772.9 2695.7 L1767.6 2696.5 L1765.5 2701.9 L1761.3 2706.1 L1759.7 2710.2 L1757.6 2714.7 L1749.7 2716.4 L1741.8 2713.5 L1734.9 2712.3 L1727.0 2711.8 L1725.9 2707.3 L1722.8 2703.2 L1720.7 2698.6 L1720.7 2692.4 M1648.4 2676.7 L1660.0 2678.3 L1664.3 2682.5 L1670.6 2686.2 L1675.9 2690.7 L1680.1 2692.8 L1686.4 2695.7 L1691.7 2699.8 L1693.3 2704.0 L1696.9 2708.1 L1702.7 2712.3 L1704.9 2717.2 L1703.8 2723.8 L1697.5 2724.3 L1691.7 2720.1 L1685.3 2716.4 L1679.5 2711.0 L1675.3 2704.8 L1671.1 2699.4 L1666.9 2693.2 L1661.6 2689.9 L1656.4 2685.4 L1649.0 2680.0 L1648.4 2676.7 M1700.6 2728.0 L1704.9 2724.3 L1712.8 2724.7 L1717.0 2725.9 L1723.3 2728.0 L1728.6 2728.4 L1733.9 2727.2 L1740.2 2728.4 L1749.1 2731.7 L1749.7 2735.8 L1741.8 2734.2 L1731.2 2733.8 L1720.7 2731.7 L1712.8 2731.3 L1707.0 2730.5 L1700.6 2728.0 M1750.2 2733.4 L1755.5 2734.6 L1753.4 2736.3 L1750.2 2734.6 L1750.2 2733.4 M1757.6 2734.2 L1761.3 2734.6 L1760.2 2736.7 L1757.6 2735.8 L1757.6 2734.2 M1762.3 2735.0 L1769.7 2734.2 L1773.9 2735.8 L1765.5 2737.1 L1762.3 2735.0 M1778.1 2735.0 L1786.6 2735.0 L1794.5 2734.2 L1790.8 2736.3 L1778.7 2736.3 L1778.1 2735.0 M1773.4 2739.2 L1782.9 2740.4 L1779.7 2742.0 L1773.4 2740.4 L1773.4 2739.2 M1797.1 2742.5 L1802.4 2739.2 L1807.7 2736.3 L1816.6 2734.6 L1807.7 2738.3 L1799.8 2741.6 L1797.1 2742.5 M1775.0 2723.0 L1776.6 2716.4 L1773.9 2713.9 L1772.9 2710.2 L1776.0 2704.0 L1777.6 2697.8 L1780.2 2696.1 L1786.6 2695.7 L1794.5 2696.1 L1801.9 2695.7 L1806.1 2693.2 L1802.4 2697.8 L1795.5 2698.2 L1786.6 2697.8 L1781.8 2699.0 L1780.8 2703.2 L1785.0 2704.0 L1793.4 2703.2 L1796.1 2704.0 L1790.8 2706.9 L1786.0 2710.2 L1790.3 2713.1 L1793.4 2719.3 L1789.2 2719.7 L1785.0 2718.5 L1782.9 2714.3 L1780.8 2722.6 L1775.0 2723.0 M1818.7 2691.2 L1821.4 2693.6 L1824.5 2694.9 L1820.3 2697.4 L1824.0 2698.6 L1820.3 2701.1 L1822.4 2703.2 L1818.2 2701.9 L1818.7 2691.2 M1820.8 2713.1 L1828.8 2711.4 L1835.6 2713.9 L1828.8 2714.7 L1820.8 2714.3 L1820.8 2713.1 M1810.3 2713.1 L1816.6 2713.5 L1813.5 2715.6 L1810.3 2714.7 L1810.3 2713.1 M1836.7 2705.2 L1843.5 2701.5 L1853.0 2703.2 L1857.8 2713.5 L1870.9 2706.1 L1884.1 2709.8 L1897.3 2713.5 L1907.8 2715.6 L1915.7 2720.5 L1924.2 2725.1 L1925.2 2728.8 L1920.5 2730.5 L1927.3 2733.4 L1933.1 2737.5 L1941.1 2742.5 L1935.8 2743.3 L1926.3 2741.2 L1918.4 2736.3 L1910.5 2732.1 L1904.1 2732.1 L1902.6 2735.0 L1897.3 2738.3 L1889.4 2737.5 L1878.8 2733.4 L1873.6 2734.6 L1872.0 2730.5 L1877.8 2728.0 L1873.6 2723.0 L1868.3 2720.1 L1857.8 2718.1 L1849.8 2715.6 L1846.2 2716.4 L1841.9 2711.8 L1849.8 2710.2 L1841.9 2708.5 L1836.7 2705.2 M1928.4 2722.6 L1936.8 2720.5 L1944.7 2717.6 L1949.0 2718.1 L1946.3 2720.5 L1939.5 2725.5 L1931.6 2725.1 L1928.4 2722.6 M1939.5 2710.6 L1947.4 2713.5 L1953.2 2718.5 L1950.0 2716.4 L1943.2 2712.3 L1939.5 2710.6 M1961.1 2720.5 L1965.8 2724.7 L1968.5 2728.0 L1964.8 2726.7 L1961.1 2720.5 M1976.4 2733.8 L1984.3 2734.2 L1988.5 2737.1 L1981.6 2736.3 M1987.4 2738.3 L1993.8 2740.4 L1989.6 2740.8 M1992.7 2735.0 L1997.5 2739.2 M2024.4 2760.3 L2027.5 2764.0 L2029.1 2768.1 L2033.3 2773.1 M2010.6 2783.4 L2018.6 2786.7 L2026.5 2791.7 L2022.8 2791.7 L2013.3 2786.7 L2010.6 2783.4 M2080.8 2772.3 L2087.1 2772.3 L2086.0 2775.1 L2080.8 2773.9 L2080.8 2772.3 M2088.7 2767.7 L2095.0 2766.5 M1744.4 2790.9 L1747.6 2790.0 L1749.7 2792.9 L1754.9 2788.8 L1761.8 2785.1 L1770.8 2783.8 L1778.7 2781.8 L1786.6 2778.5 L1790.8 2772.3 L1794.5 2768.1 L1799.2 2769.4 L1802.4 2764.0 L1807.7 2759.8 L1812.9 2757.4 L1819.3 2759.0 L1822.4 2761.9 L1828.8 2761.1 L1830.3 2755.7 L1834.6 2751.2 L1839.3 2750.3 L1845.1 2749.5 L1846.2 2746.6 L1852.5 2749.1 L1860.4 2750.3 L1867.2 2749.1 L1865.7 2753.2 L1862.0 2755.3 L1860.4 2761.1 L1865.7 2764.0 L1872.5 2767.7 L1879.9 2771.8 L1888.3 2772.3 L1892.0 2766.0 L1892.5 2757.8 L1892.5 2751.6 L1894.7 2745.4 L1897.3 2744.1 L1899.9 2749.5 L1902.6 2755.7 L1907.8 2759.0 L1912.1 2761.9 L1913.1 2768.1 L1916.8 2776.4 L1923.7 2780.5 L1930.5 2784.7 L1934.2 2791.7 L1940.0 2793.4 L1942.1 2798.3 L1950.0 2803.3 L1953.7 2809.5 L1955.8 2817.8 L1952.7 2826.0 L1951.1 2832.2 L1944.7 2838.4 L1941.1 2843.8 L1936.8 2850.9 L1936.3 2855.0 L1927.9 2856.2 L1921.0 2858.3 L1916.8 2861.2 L1913.1 2859.1 L1907.8 2857.9 L1902.6 2860.4 L1894.7 2858.7 L1886.7 2857.1 L1882.5 2852.9 L1881.5 2848.0 L1876.2 2847.1 L1874.1 2842.2 L1872.0 2845.5 L1867.2 2845.9 L1870.9 2840.5 L1872.5 2836.4 L1869.9 2839.3 L1863.0 2843.8 L1858.8 2843.0 L1853.5 2836.4 L1844.6 2832.2 L1836.7 2830.2 L1826.1 2831.0 L1815.6 2833.5 L1805.0 2835.6 L1797.1 2840.1 L1789.2 2840.5 L1778.7 2840.5 L1770.8 2843.8 L1762.8 2845.1 L1754.9 2842.2 L1752.3 2838.9 L1756.0 2837.6 L1756.0 2830.2 L1752.3 2824.0 L1751.8 2817.8 L1748.1 2811.6 L1744.4 2807.4 L1746.0 2801.2 L1744.4 2795.0 L1744.4 2790.9 M1908.9 2868.2 L1915.7 2869.9 L1923.7 2869.1 L1927.9 2869.5 L1926.3 2875.7 L1921.0 2879.8 L1915.7 2879.8 L1911.5 2875.7 L1908.9 2868.2 M2056.5 2842.6 L2060.7 2844.7 L2066.0 2848.8 L2068.6 2852.1 L2072.9 2852.9 L2076.5 2855.8 L2084.5 2855.4 L2086.6 2859.5 L2079.2 2862.0 L2078.1 2865.3 L2072.9 2870.7 L2069.7 2872.0 L2067.1 2870.3 L2068.6 2867.4 L2066.5 2864.5 L2062.3 2862.4 L2066.5 2859.5 L2067.1 2854.6 L2064.4 2850.9 L2059.1 2845.9 L2056.5 2842.6 M2056.5 2867.4 L2063.4 2869.5 L2064.9 2872.4 L2060.7 2875.7 L2057.0 2879.8 L2049.1 2883.1 L2046.0 2889.3 L2040.2 2892.6 L2033.3 2892.6 L2023.8 2890.2 L2024.9 2887.3 L2031.7 2881.9 L2044.9 2877.8 L2050.2 2872.8 L2053.3 2869.1 L2056.5 2867.4 M660.4 2506.6 L668.9 2507.1 L679.4 2505.4 L684.7 2507.5 L697.9 2507.1 L700.0 2507.5 L698.9 2503.3 L695.2 2501.7 L690.0 2498.4 L680.5 2498.0 L674.1 2501.3 L667.3 2504.2 L660.4 2506.6 M683.1 2527.3 L687.3 2527.3 L691.0 2524.0 L691.5 2518.6 L695.2 2512.8 L698.9 2510.4 L695.2 2510.0 L689.4 2510.4 L687.3 2513.7 L684.2 2515.7 L682.6 2521.9 L683.1 2527.3 M699.4 2510.0 L705.8 2510.0 L713.7 2509.5 L721.1 2510.0 L724.2 2513.7 L717.9 2514.5 L715.3 2517.8 L711.0 2521.9 L710.0 2519.5 L705.8 2517.8 L706.8 2514.5 L699.4 2510.0 M705.8 2527.3 L711.0 2528.6 L719.0 2526.9 L729.5 2523.2 L725.3 2522.4 L716.3 2523.6 L708.4 2525.7 L705.8 2527.3 M725.3 2520.7 L732.1 2520.7 L740.0 2520.7 L744.3 2519.5 L742.7 2517.0 L737.4 2517.8 L727.9 2519.1 L725.3 2520.7 M634.6 2490.9 L638.3 2486.8 L630.4 2478.1 L624.0 2477.7 L626.7 2482.6 L632.0 2486.8 L634.6 2490.9 M529.1 2447.5 L545.0 2445.0 L555.5 2442.1 L568.7 2440.0 L560.8 2443.3 L550.2 2446.7 L537.1 2447.9 L529.1 2447.5 M487.0 2430.9 L497.5 2425.6 L508.1 2422.7 L518.6 2423.9 L521.2 2427.6 L508.1 2428.9 L497.5 2431.3 L487.0 2430.9 M558.1 2455.8 L574.0 2453.7 L584.5 2454.5 L571.3 2456.2 L558.1 2455.8 M1392.2 2515.7 L1396.4 2511.2 L1401.7 2508.7 L1407.0 2507.5 L1415.9 2505.0 L1425.4 2505.8 L1426.5 2511.2 L1416.5 2515.3 L1411.2 2515.7 L1414.9 2521.5 L1423.8 2524.0 L1422.8 2526.9 L1425.4 2531.5 L1424.4 2535.2 L1428.1 2537.3 L1430.2 2542.6 L1430.2 2545.5 L1422.8 2548.0 L1414.9 2547.6 L1407.0 2544.7 L1403.8 2541.0 L1405.4 2536.4 L1407.0 2533.5 L1411.2 2532.7 L1407.0 2531.1 L1402.2 2526.9 L1396.4 2521.9 L1395.9 2518.2 L1392.2 2515.7 M1453.4 2508.3 L1459.7 2508.7 L1468.7 2512.0 L1467.6 2517.8 L1459.7 2519.9 L1454.4 2517.8 L1453.4 2513.7 L1453.4 2508.3 M1694.3 2486.0 L1702.2 2484.7 L1712.8 2479.7 L1720.7 2474.4 L1724.9 2469.4 L1720.7 2470.2 L1715.4 2476.4 L1707.5 2481.4 L1696.9 2485.1 L1694.3 2486.0 M1533.5 2509.5 L1541.4 2507.5 L1552.0 2507.9 L1562.5 2508.3 L1554.6 2510.8 L1541.4 2510.4 L1533.5 2509.5 M1304.2 2451.6 L1312.1 2450.4 L1318.9 2447.9 L1314.7 2445.4 L1306.8 2446.2 L1303.1 2448.7 L1304.2 2451.6 M1327.9 2447.5 L1333.2 2446.2 L1337.9 2441.3 L1330.5 2440.0 L1326.8 2442.5 L1327.9 2447.5 M1313.7 2704.0 L1317.3 2699.0 L1322.6 2698.6 L1325.3 2701.5 L1327.9 2703.2 L1322.6 2710.2 L1317.3 2710.2 L1313.7 2706.1 L1313.7 2704.0 M1299.9 2713.5 L1301.5 2718.5 L1302.6 2724.7 L1306.8 2728.8 L1309.4 2735.4 L1306.8 2734.2 L1302.1 2726.7 L1299.9 2720.5 L1299.9 2713.5 M1326.8 2739.6 L1328.4 2745.4 L1328.9 2751.6 L1331.6 2759.0 L1328.4 2756.1 L1326.8 2749.5 L1325.3 2743.3 L1326.8 2739.6 M778.0 2763.1 L783.3 2765.2 L781.2 2767.7 L777.5 2765.2 L778.0 2763.1 M1217.2 2642.8 L1222.4 2643.6 L1223.0 2646.5 L1218.8 2646.1 L1217.2 2642.8 M513.3 3005.0 L502.8 3003.9 L493.3 3003.9 L485.4 3007.7 L477.5 3014.7 L458.5 3014.7 L450.6 3009.7 L420.0 3009.7 L404.7 3012.6 L401.0 3014.7 L393.1 3012.6 L374.1 3014.7 L374.1 3020.5 L358.3 3021.3 L345.1 3023.0 L335.7 3023.0 L326.2 3020.1 L308.8 3018.8 L331.4 3030.0 L379.4 3034.6 L362.5 3036.6 L331.4 3038.7 L341.5 3047.0 L360.4 3049.9 L374.1 3054.0 L277.7 3054.0 L257.6 3050.3 L197.0 3049.9 M312.5 3023.8 L331.4 3023.8 L331.4 3026.7 L312.5 3026.7 L312.5 3023.8 M280.8 3025.0 L291.9 3025.9 L301.9 3030.8 L289.3 3032.1 L280.8 3027.9 L280.8 3025.0 M513.3 3005.2 L531.8 3005.6 L531.8 3012.2 L548.1 3012.2 L553.9 3005.6 L562.4 3008.5 L569.2 3011.4 L575.0 3008.5 L597.7 3010.1 L621.4 3010.1 L626.7 3003.9 L636.7 2997.7 L644.6 3001.0 L694.7 3001.0 L694.7 3003.5 L721.6 3003.5 L736.9 2999.4 L747.9 2999.4 L752.2 3005.6 L787.0 3003.5 L790.7 2996.9 L784.9 2991.1 L790.1 2984.5 L792.8 2977.0 L800.7 2970.8 L813.9 2966.3 L827.0 2962.6 L842.8 2961.7 L840.2 2964.6 L829.7 2967.9 L821.8 2972.9 L816.0 2979.1 L816.0 2985.3 L821.8 2991.5 L825.4 2996.9 L829.7 3004.8 L825.4 3008.5 L813.9 3013.5 L802.3 3017.2 L789.1 3018.8 L808.6 3018.8 L829.7 3018.4 L854.4 3023.0 L879.8 3025.0 L903.5 3027.9 L934.6 3027.9 L956.7 3025.0 L964.1 3020.5 L991.0 3018.4 L1020.0 3010.6 L1049.0 3003.1 L1083.3 3001.0 L1085.4 2995.2 L1099.1 2994.4 L1106.5 2992.4 L1129.7 2992.4 L1133.3 2990.7 L1146.0 2997.3 L1163.4 2992.4 L1182.4 2990.3 L1246.2 2990.3 L1246.7 2992.4 L1276.8 2992.4 L1278.9 2990.3 L1307.3 2990.3 L1309.4 2987.8 L1322.1 2987.0 L1323.7 2982.8 L1332.6 2987.8 L1350.0 2988.6 L1355.8 2985.7 L1371.1 2982.0 L1390.1 2979.1 L1398.0 2982.0 L1409.6 2979.1 L1413.3 2975.4 L1421.2 2972.5 L1438.1 2972.5 L1443.9 2976.2 L1462.3 2979.1 L1492.9 2981.6 L1513.5 2981.6 L1518.2 2991.9 L1524.0 2992.8 L1521.9 2988.2 L1541.4 2988.2 L1547.2 2983.7 L1574.1 2981.6 L1589.4 2977.9 L1627.9 2976.6 L1630.0 2973.7 L1635.8 2976.6 L1643.7 2975.0 L1654.8 2976.6 L1664.8 2975.0 L1670.6 2977.9 L1688.0 2972.9 L1697.5 2973.7 L1712.8 2975.0 L1741.8 2972.1 L1753.4 2975.0 L1762.8 2977.9 L1778.7 2977.5 L1790.3 2975.4 L1801.9 2977.0 L1813.5 2975.4 L1826.6 2977.0 L1834.6 2975.4 L1876.7 2975.4 L1878.8 2977.0 L1907.3 2977.0 L1921.0 2982.8 L1959.5 2982.8 L1965.3 2987.8 L1971.1 2985.7 L1995.9 2988.6 L1999.6 2994.4 L2003.8 2990.7 L2022.8 2992.4 L2043.9 2995.2 L2048.1 2997.3 L2038.1 3001.0 L2024.9 3006.0 L2009.6 3010.6 L2003.8 3014.7 L2013.3 3024.2 L2017.0 3024.2 L1992.2 3027.1 L1990.1 3030.8 L1993.8 3038.7 L2017.0 3042.4 L2028.6 3046.1 L2095.0 3048.2 M2024.9 3020.9 L2042.3 3020.9 M742.7 2990.3 L753.2 2988.6 L758.5 2991.5 L755.9 2996.9 L747.9 2995.7 L742.7 2990.3 M607.7 2997.7 L623.0 2996.9 L621.4 3001.0 L610.9 3001.0 L607.7 2997.7 M829.7 2958.4 L842.8 2959.7 L856.0 2961.3 M899.8 2950.6 L910.3 2950.6 M944.1 2923.7 L953.6 2924.5 L956.7 2927.4 M211.2 2881.5 L218.1 2881.5 M584.7 2369.7 L600.0 2369.7 L620.0 2372.2 M536.2 2376.0 L549.8 2374.3 L572.8 2373.9 L568.5 2376.9 L550.7 2376.9 L536.2 2376.9 M514.0 2378.6 L531.0 2378.6 L565.1 2379.4 L586.4 2379.4 M489.3 2382.8 L501.3 2381.1 L514.0 2381.1 L531.0 2382.0 L548.1 2382.8 L556.6 2385.4 L565.1 2387.1 L577.9 2383.7 L587.2 2385.4 L584.7 2388.8 L565.1 2388.8 L548.1 2390.5 L533.6 2387.9 L514.0 2387.1 L505.5 2385.4 L492.8 2384.5 L489.3 2382.8 M587.2 2378.6 L593.2 2379.4 L596.6 2384.5 L607.7 2387.1 L620.0 2388.8 M489.3 2390.9 L528.5 2390.9 L539.6 2393.9 L552.3 2395.6 L565.1 2395.6 L577.9 2396.4 L586.4 2393.9 L595.7 2395.6 M491.1 2392.2 L491.1 2395.6 L485.1 2400.2 L492.8 2404.5 L505.5 2404.9 L515.8 2399.8 L527.7 2395.6 M589.8 2397.3 L593.2 2403.2 L599.2 2406.6 L610.2 2407.4 L614.5 2410.0 L607.7 2413.3 L599.2 2415.9 L620.0 2419.3 M480.0 2410.8 L488.5 2409.1 L497.0 2409.1 L509.8 2410.8 L516.6 2413.3 L531.0 2414.2 L535.3 2417.6 L573.6 2416.7 L582.1 2414.2 L590.6 2414.2 L599.2 2415.9 M525.1 2406.6 L552.3 2407.0 L539.6 2410.8 L529.4 2410.0 L525.1 2406.6 M603.4 2397.3 L611.9 2393.9 L620.0 2393.9 M607.7 2399.8 L620.0 2402.3 M705.0 2356.3 L757.5 2355.9 L760.0 2353.4 M667.1 2360.2 L687.5 2359.3 L705.0 2356.8 M644.7 2364.6 L652.5 2362.2 L668.1 2362.2 L687.5 2365.6 L737.1 2365.1 M620.4 2367.0 L629.2 2367.5 L637.0 2374.3 L648.6 2377.2 L660.3 2376.2 L677.8 2375.7 L682.7 2368.5 L697.3 2371.4 L687.5 2377.2 L677.8 2381.1 L687.5 2383.0 L721.6 2384.0 L726.4 2382.0 L736.2 2378.2 L745.9 2375.2 L751.7 2371.4 L760.0 2369.0 M600.0 2371.4 L619.5 2371.9 L621.4 2375.2 L600.0 2376.2 M600.0 2382.0 L609.7 2383.0 L611.7 2386.9 L619.5 2388.8 L629.2 2386.9 L639.9 2386.9 L650.6 2387.9 L660.3 2390.8 L677.8 2391.8 L702.1 2391.8 L716.7 2394.6 L726.4 2395.6 L741.0 2395.6 L755.6 2398.5 L760.0 2402.4 M602.0 2397.5 L609.7 2394.6 L629.2 2393.7 L634.1 2395.6 L638.9 2401.4 L629.2 2402.4 L617.5 2401.4 L605.9 2398.5 L602.0 2397.5 M640.9 2392.7 L648.6 2390.8 L660.3 2393.7 L677.8 2395.6 L672.0 2398.5 L673.9 2404.3 L687.5 2408.2 L707.0 2410.2 L716.7 2408.2 L731.3 2409.2 L743.9 2412.1 L751.7 2416.9 L760.0 2416.0 M650.6 2398.5 L660.3 2404.3 L661.3 2409.2 L672.0 2416.0 L677.8 2412.1 L682.7 2416.9 L692.4 2419.8 L702.1 2421.8 L716.7 2419.8 M600.0 2407.3 L614.6 2408.2 L614.6 2411.2 L600.0 2413.1 M619.5 2413.1 L629.2 2410.2 L634.1 2414.1 L638.9 2418.9 L648.6 2412.1 M600.0 2416.9 L619.5 2419.8 M230.7 2756.5 L242.9 2757.4 M356.2 2771.8 L358.9 2773.1 M993.3 2539.5 L997.3 2539.5 M1008.4 2543.9 L1012.6 2543.9" stroke="#1510a6" stroke-width="2" shape-rendering="crispEdges"/></g>
<circle cx="367.3" cy="2429.3" r="14.5" fill="#ffff00" shape-rendering="crispEdges"/>
<circle cx="540.5" cy="2439.6" r="14.5" fill="#0055ff" shape-rendering="crispEdges"/>
<circle cx="639.9" cy="2490.5" r="14.5" fill="#0055ff" shape-rendering="crispEdges"/>
<circle cx="574.0" cy="2557.5" r="14.5" fill="#00aaff" shape-rendering="crispEdges"/>
<circle cx="669.7" cy="2702.8" r="14.5" fill="#00ff99" shape-rendering="crispEdges"/>
<circle cx="221.0" cy="2787.1" r="14.5" fill="#00ff99" shape-rendering="crispEdges"/>
<circle cx="1029.0" cy="2433.4" r="14.5" fill="#00ff99" shape-rendering="crispEdges"/>
<circle cx="1064.3" cy="2433.4" r="14.5" fill="#00aaff" shape-rendering="crispEdges"/>
<circle cx="867.1" cy="2502.1" r="14.5" fill="#0055ff" shape-rendering="crispEdges"/>
<circle cx="794.3" cy="2508.3" r="14.5" fill="#00aaff" shape-rendering="crispEdges"/>
<circle cx="740.6" cy="2536.8" r="14.5" fill="#00ffff" shape-rendering="crispEdges"/>
<circle cx="1122.3" cy="2500.0" r="14.5" fill="#ff5500" shape-rendering="crispEdges"/>
<circle cx="1124.4" cy="2532.7" r="14.5" fill="#00aaff" shape-rendering="crispEdges"/>
<circle cx="1062.7" cy="2583.6" r="14.5" fill="#00ffff" shape-rendering="crispEdges"/>
<circle cx="753.7" cy="2680.4" r="14.5" fill="#ffff00" shape-rendering="crispEdges"/>
<circle cx="867.1" cy="2678.3" r="14.5" fill="#77ff33" shape-rendering="crispEdges"/>
<circle cx="769.6" cy="2766.9" r="14.5" fill="#00ffff" shape-rendering="crispEdges"/>
<circle cx="907.2" cy="2793.8" r="14.5" fill="#ff5500" shape-rendering="crispEdges"/>
<circle cx="778.5" cy="2848.8" r="14.5" fill="#00ffff" shape-rendering="crispEdges"/>
<circle cx="787.5" cy="2922.0" r="14.5" fill="#00ffff" shape-rendering="crispEdges"/>
<circle cx="807.0" cy="2967.9" r="14.5" fill="#00aaff" shape-rendering="crispEdges"/>
<circle cx="1208.7" cy="2371.4" r="14.5" fill="#0055ff" shape-rendering="crispEdges"/>
<circle cx="1256.2" cy="2417.7" r="14.5" fill="#00aaff" shape-rendering="crispEdges"/>
<circle cx="1168.7" cy="2486.8" r="14.5" fill="#00aaff" shape-rendering="crispEdges"/>
<circle cx="1224.6" cy="2493.4" r="14.5" fill="#00aaff" shape-rendering="crispEdges"/>
<circle cx="1208.7" cy="2510.8" r="14.5" fill="#0055ff" shape-rendering="crispEdges"/>
<circle cx="1233.5" cy="2530.6" r="14.5" fill="#00aaff" shape-rendering="crispEdges"/>
<circle cx="1271.0" cy="2542.6" r="14.5" fill="#00aaff" shape-rendering="crispEdges"/>
<circle cx="1322.1" cy="2555.0" r="14.5" fill="#00aaff" shape-rendering="crispEdges"/>
<circle cx="1511.4" cy="2528.6" r="14.5" fill="#0055ff" shape-rendering="crispEdges"/>
<circle cx="1195.6" cy="2698.6" r="14.5" fill="#ff5500" shape-rendering="crispEdges"/>
<circle cx="1440.2" cy="2718.5" r="14.5" fill="#77ff33" shape-rendering="crispEdges"/>
<circle cx="1528.2" cy="2728.8" r="14.5" fill="#00ff99" shape-rendering="crispEdges"/>
<circle cx="1236.2" cy="2793.8" r="14.5" fill="#77ff33" shape-rendering="crispEdges"/>
<circle cx="1291.5" cy="2807.0" r="14.5" fill="#00ff99" shape-rendering="crispEdges"/>
<circle cx="1517.7" cy="2904.2" r="14.5" fill="#00ff99" shape-rendering="crispEdges"/>
<circle cx="1478.2" cy="2979.1" r="14.5" fill="#ff5500" shape-rendering="crispEdges"/>
<circle cx="1557.2" cy="2983.2" r="14.5" fill="#00ffff" shape-rendering="crispEdges"/>
<circle cx="1895.7" cy="2519.5" r="14.5" fill="#00aaff" shape-rendering="crispEdges"/>
<circle cx="1817.2" cy="2548.0" r="14.5" fill="#0055ff" shape-rendering="crispEdges"/>
<circle cx="1837.7" cy="2572.0" r="14.5" fill="#77ff33" shape-rendering="crispEdges"/>
<circle cx="1896.8" cy="2588.6" r="14.5" fill="#00ffff" shape-rendering="crispEdges"/>
<circle cx="1704.3" cy="2742.9" r="14.5" fill="#00ff99" shape-rendering="crispEdges"/>
<circle cx="1764.4" cy="2787.1" r="14.5" fill="#ffff00" shape-rendering="crispEdges"/>
<circle cx="1759.7" cy="2829.3" r="14.5" fill="#00ff99" shape-rendering="crispEdges"/>
<circle cx="1933.1" cy="2846.7" r="14.5" fill="#00aaff" shape-rendering="crispEdges"/>
<circle cx="2046.0" cy="2890.6" r="14.5" fill="#00ffff" shape-rendering="crispEdges"/>
<circle cx="1729.1" cy="2974.1" r="14.5" fill="#00aaff" shape-rendering="crispEdges"/>
<rect x="197.0" y="2327.5" width="1898.0" height="744.7" fill="none" stroke="#1e1e1e" stroke-width="2" shape-rendering="crispEdges"/>
<path d="M197.0 3072.2V3053.2 M197.0 2327.5V2346.5 M355.2 3072.2V3053.2 M355.2 2327.5V2346.5 M513.3 3072.2V3053.2 M513.3 2327.5V2346.5 M671.5 3072.2V3053.2 M671.5 2327.5V2346.5 M829.7 3072.2V3053.2 M829.7 2327.5V2346.5 M987.8 3072.2V3053.2 M987.8 2327.5V2346.5 M1146.0 3072.2V3053.2 M1146.0 2327.5V2346.5 M1304.2 3072.2V3053.2 M1304.2 2327.5V2346.5 M1462.3 3072.2V3053.2 M1462.3 2327.5V2346.5 M1620.5 3072.2V3053.2 M1620.5 2327.5V2346.5 M1778.7 3072.2V3053.2 M1778.7 2327.5V2346.5 M1936.8 3072.2V3053.2 M1936.8 2327.5V2346.5 M2095.0 3072.2V3053.2 M2095.0 2327.5V2346.5 M197.0 3072.2H216.0 M2095.0 3072.2H2076.0 M197.0 2948.1H216.0 M2095.0 2948.1H2076.0 M197.0 2824.0H216.0 M2095.0 2824.0H2076.0 M197.0 2699.8H216.0 M2095.0 2699.8H2076.0 M197.0 2575.7H216.0 M2095.0 2575.7H2076.0 M197.0 2451.6H216.0 M2095.0 2451.6H2076.0 M197.0 2327.5H216.0 M2095.0 2327.5H2076.0" stroke="#1e1e1e" stroke-width="2" shape-rendering="crispEdges"/>
<text x="195.5" y="3135.1" font-size="44" fill="#262626" text-anchor="middle">-180</text>
<text x="353.7" y="3135.1" font-size="44" fill="#262626" text-anchor="middle">-150</text>
<text x="511.8" y="3135.1" font-size="44" fill="#262626" text-anchor="middle">-120</text>
<text x="670.0" y="3135.1" font-size="44" fill="#262626" text-anchor="middle">-90</text>
<text x="828.2" y="3135.1" font-size="44" fill="#262626" text-anchor="middle">-60</text>
<text x="986.3" y="3135.1" font-size="44" fill="#262626" text-anchor="middle">-30</text>
<text x="1144.5" y="3135.1" font-size="44" fill="#262626" text-anchor="middle">0</text>
<text x="1302.7" y="3135.1" font-size="44" fill="#262626" text-anchor="middle">30</text>
<text x="1460.8" y="3135.1" font-size="44" fill="#262626" text-anchor="middle">60</text>
<text x="1619.0" y="3135.1" font-size="44" fill="#262626" text-anchor="middle">90</text>
<text x="1777.2" y="3135.1" font-size="44" fill="#262626" text-anchor="middle">120</text>
<text x="1935.3" y="3135.1" font-size="44" fill="#262626" text-anchor="middle">150</text>
<text x="2093.5" y="3135.1" font-size="44" fill="#262626" text-anchor="middle">180</text>
<text x="177.6" y="3088.6" font-size="44" fill="#262626" text-anchor="end">-90</text>
<text x="177.6" y="2964.5" font-size="44" fill="#262626" text-anchor="end">-60</text>
<text x="177.6" y="2840.4" font-size="44" fill="#262626" text-anchor="end">-30</text>
<text x="177.6" y="2716.2" font-size="44" fill="#262626" text-anchor="end">0</text>
<text x="177.6" y="2592.1" font-size="44" fill="#262626" text-anchor="end">30</text>
<text x="177.6" y="2468.0" font-size="44" fill="#262626" text-anchor="end">60</text>
<text x="177.6" y="2343.9" font-size="44" fill="#262626" text-anchor="end">90</text>
<text x="1146.0" y="3199.2" font-size="50.6" fill="#262626" text-anchor="middle">Longitude [deg]</text>
<text transform="translate(74.4 2699.8) rotate(-90)" x="0" y="0" font-size="50.6" fill="#262626" text-anchor="middle">Latitude [deg]</text>
<text x="1146.0" y="2306.2" font-size="51" fill="#000" text-anchor="middle" xml:space="preserve">Up [mm]        Global Network RMS = 24 mm</text>
<rect x="2179.4" y="3000.09" width="71.6" height="75.41" fill="#0000aa" shape-rendering="crispEdges"/>
<rect x="2179.4" y="2925.28" width="71.6" height="75.41" fill="#0000ff" shape-rendering="crispEdges"/>
<rect x="2179.4" y="2850.47" width="71.6" height="75.41" fill="#0055ff" shape-rendering="crispEdges"/>
<rect x="2179.4" y="2775.66" width="71.6" height="75.41" fill="#00aaff" shape-rendering="crispEdges"/>
<rect x="2179.4" y="2700.85" width="71.6" height="75.41" fill="#00ffff" shape-rendering="crispEdges"/>
<rect x="2179.4" y="2626.04" width="71.6" height="75.41" fill="#00ff99" shape-rendering="crispEdges"/>
<rect x="2179.4" y="2551.23" width="71.6" height="75.41" fill="#77ff33" shape-rendering="crispEdges"/>
<rect x="2179.4" y="2476.42" width="71.6" height="75.41" fill="#ffff00" shape-rendering="crispEdges"/>
<rect x="2179.4" y="2401.61" width="71.6" height="75.41" fill="#ffaa00" shape-rendering="crispEdges"/>
<rect x="2179.4" y="2326.80" width="71.6" height="75.41" fill="#ff5500" shape-rendering="crispEdges"/>
<rect x="2179.4" y="2326.8" width="71.6" height="748.1" fill="none" stroke="#1e1e1e" stroke-width="1.5" shape-rendering="crispEdges"/>
<text x="2269.0" y="3088.4" font-size="41.5" fill="#262626">0</text>
<text x="2269.0" y="2994.9" font-size="41.5" fill="#262626">5</text>
<text x="2269.0" y="2901.4" font-size="41.5" fill="#262626">10</text>
<text x="2269.0" y="2807.9" font-size="41.5" fill="#262626">15</text>
<text x="2269.0" y="2714.4" font-size="41.5" fill="#262626">20</text>
<text x="2269.0" y="2620.8" font-size="41.5" fill="#262626">25</text>
<text x="2269.0" y="2527.3" font-size="41.5" fill="#262626">30</text>
<text x="2269.0" y="2433.8" font-size="41.5" fill="#262626">35</text>
<text x="2269.0" y="2340.3" font-size="41.5" fill="#262626">40</text>
<path d="M2251.0 3074.9H2243.0 M2251.0 2981.4H2243.0 M2251.0 2887.9H2243.0 M2251.0 2794.4H2243.0 M2251.0 2700.9H2243.0 M2251.0 2607.3H2243.0 M2251.0 2513.8H2243.0 M2251.0 2420.3H2243.0 M2251.0 2326.8H2243.0" stroke="#1e1e1e" stroke-width="1.5" shape-rendering="crispEdges"/>
</svg></body></html>
